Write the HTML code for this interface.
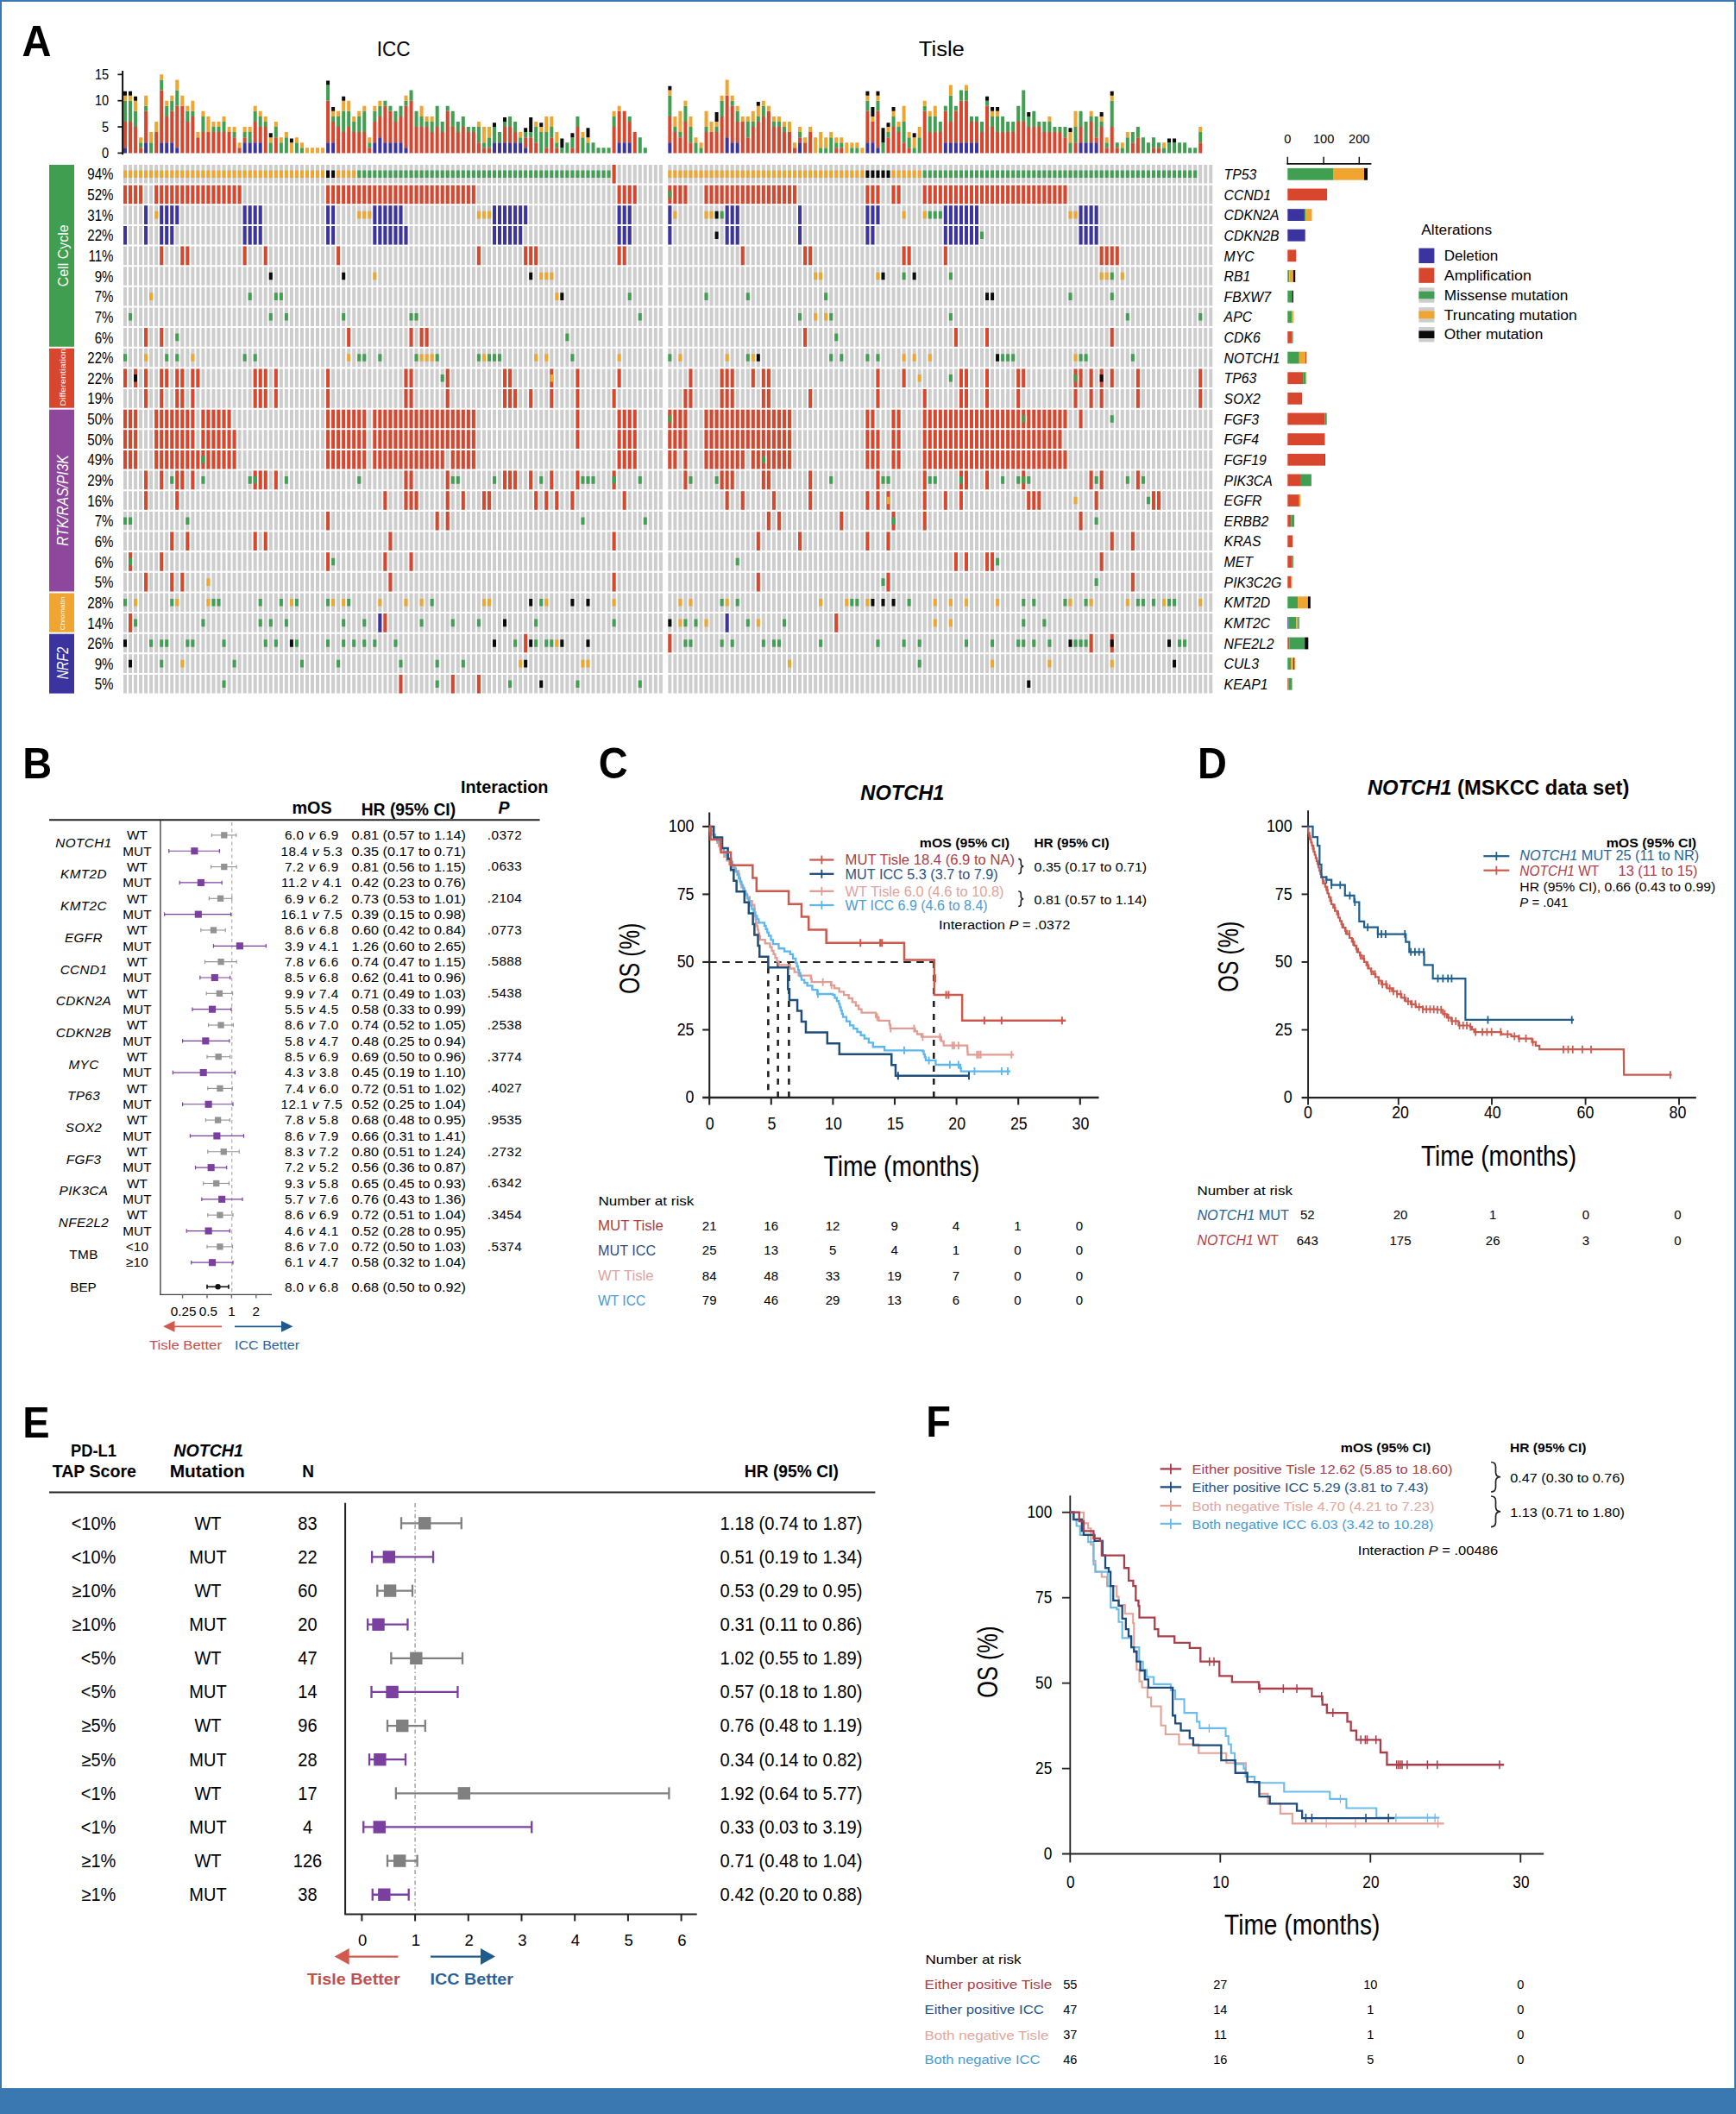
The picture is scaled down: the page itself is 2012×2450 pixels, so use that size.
<!DOCTYPE html>
<html lang="en"><head><meta charset="utf-8"><title>Figure</title>
<style>html,body{margin:0;padding:0;background:#fff}svg{display:block}text{font-family:"Liberation Sans", sans-serif}</style></head>
<body>
<svg width="2012" height="2450" viewBox="0 0 2012 2450">
<rect x="0" y="0" width="2012" height="2450" fill="#3A78B2"/>
<rect x="2" y="2" width="2008" height="2418" fill="#fff"/>
<text transform="translate(25.4 47.8) scale(1 1.056)" x="0" y="16.19" font-size="47" font-weight="bold">A</text>
<text transform="translate(456.2 56.5) scale(1 1.045)" x="0" y="7.75" font-size="22.5" text-anchor="middle" textLength="38.8" lengthAdjust="spacingAndGlyphs">ICC</text>
<text transform="translate(1091.3 56.5) scale(1 1.045)" x="0" y="7.75" font-size="22.5" text-anchor="middle" textLength="53" lengthAdjust="spacingAndGlyphs">Tisle</text>
<path d="M143 191h4v21.6h-4zM149.03 191h4v21.6h-4zM155.06 191h4v21.6h-4zM161.08 191h4v21.6h-4zM167.11 191h4v21.6h-4zM173.14 191h4v21.6h-4zM179.17 191h4v21.6h-4zM185.2 191h4v21.6h-4zM191.22 191h4v21.6h-4zM197.25 191h4v21.6h-4zM203.28 191h4v21.6h-4zM209.31 191h4v21.6h-4zM215.34 191h4v21.6h-4zM221.36 191h4v21.6h-4zM227.39 191h4v21.6h-4zM233.42 191h4v21.6h-4zM239.45 191h4v21.6h-4zM245.48 191h4v21.6h-4zM251.5 191h4v21.6h-4zM257.53 191h4v21.6h-4zM263.56 191h4v21.6h-4zM269.59 191h4v21.6h-4zM275.62 191h4v21.6h-4zM281.64 191h4v21.6h-4zM287.67 191h4v21.6h-4zM293.7 191h4v21.6h-4zM299.73 191h4v21.6h-4zM305.76 191h4v21.6h-4zM311.78 191h4v21.6h-4zM317.81 191h4v21.6h-4zM323.84 191h4v21.6h-4zM329.87 191h4v21.6h-4zM335.9 191h4v21.6h-4zM341.92 191h4v21.6h-4zM347.95 191h4v21.6h-4zM353.98 191h4v21.6h-4zM360.01 191h4v21.6h-4zM366.04 191h4v21.6h-4zM372.06 191h4v21.6h-4zM378.09 191h4v21.6h-4zM384.12 191h4v21.6h-4zM390.15 191h4v21.6h-4zM396.18 191h4v21.6h-4zM402.2 191h4v21.6h-4zM408.23 191h4v21.6h-4zM414.26 191h4v21.6h-4zM420.29 191h4v21.6h-4zM426.32 191h4v21.6h-4zM432.34 191h4v21.6h-4zM438.37 191h4v21.6h-4zM444.4 191h4v21.6h-4zM450.43 191h4v21.6h-4zM456.46 191h4v21.6h-4zM462.48 191h4v21.6h-4zM468.51 191h4v21.6h-4zM474.54 191h4v21.6h-4zM480.57 191h4v21.6h-4zM486.6 191h4v21.6h-4zM492.62 191h4v21.6h-4zM498.65 191h4v21.6h-4zM504.68 191h4v21.6h-4zM510.71 191h4v21.6h-4zM516.74 191h4v21.6h-4zM522.76 191h4v21.6h-4zM528.79 191h4v21.6h-4zM534.82 191h4v21.6h-4zM540.85 191h4v21.6h-4zM546.88 191h4v21.6h-4zM552.9 191h4v21.6h-4zM558.93 191h4v21.6h-4zM564.96 191h4v21.6h-4zM570.99 191h4v21.6h-4zM577.02 191h4v21.6h-4zM583.04 191h4v21.6h-4zM589.07 191h4v21.6h-4zM595.1 191h4v21.6h-4zM601.13 191h4v21.6h-4zM607.16 191h4v21.6h-4zM613.18 191h4v21.6h-4zM619.21 191h4v21.6h-4zM625.24 191h4v21.6h-4zM631.27 191h4v21.6h-4zM637.3 191h4v21.6h-4zM643.32 191h4v21.6h-4zM649.35 191h4v21.6h-4zM655.38 191h4v21.6h-4zM661.41 191h4v21.6h-4zM667.44 191h4v21.6h-4zM673.46 191h4v21.6h-4zM679.49 191h4v21.6h-4zM685.52 191h4v21.6h-4zM691.55 191h4v21.6h-4zM697.58 191h4v21.6h-4zM703.6 191h4v21.6h-4zM709.63 191h4v21.6h-4zM715.66 191h4v21.6h-4zM721.69 191h4v21.6h-4zM727.72 191h4v21.6h-4zM733.74 191h4v21.6h-4zM739.77 191h4v21.6h-4zM745.8 191h4v21.6h-4zM751.83 191h4v21.6h-4zM757.86 191h4v21.6h-4zM763.88 191h4v21.6h-4zM774.35 191h4v21.6h-4zM780.38 191h4v21.6h-4zM786.41 191h4v21.6h-4zM792.43 191h4v21.6h-4zM798.46 191h4v21.6h-4zM804.49 191h4v21.6h-4zM810.52 191h4v21.6h-4zM816.55 191h4v21.6h-4zM822.57 191h4v21.6h-4zM828.6 191h4v21.6h-4zM834.63 191h4v21.6h-4zM840.66 191h4v21.6h-4zM846.69 191h4v21.6h-4zM852.71 191h4v21.6h-4zM858.74 191h4v21.6h-4zM864.77 191h4v21.6h-4zM870.8 191h4v21.6h-4zM876.83 191h4v21.6h-4zM882.85 191h4v21.6h-4zM888.88 191h4v21.6h-4zM894.91 191h4v21.6h-4zM900.94 191h4v21.6h-4zM906.97 191h4v21.6h-4zM912.99 191h4v21.6h-4zM919.02 191h4v21.6h-4zM925.05 191h4v21.6h-4zM931.08 191h4v21.6h-4zM937.11 191h4v21.6h-4zM943.13 191h4v21.6h-4zM949.16 191h4v21.6h-4zM955.19 191h4v21.6h-4zM961.22 191h4v21.6h-4zM967.25 191h4v21.6h-4zM973.27 191h4v21.6h-4zM979.3 191h4v21.6h-4zM985.33 191h4v21.6h-4zM991.36 191h4v21.6h-4zM997.39 191h4v21.6h-4zM1003.41 191h4v21.6h-4zM1009.44 191h4v21.6h-4zM1015.47 191h4v21.6h-4zM1021.5 191h4v21.6h-4zM1027.53 191h4v21.6h-4zM1033.55 191h4v21.6h-4zM1039.58 191h4v21.6h-4zM1045.61 191h4v21.6h-4zM1051.64 191h4v21.6h-4zM1057.67 191h4v21.6h-4zM1063.69 191h4v21.6h-4zM1069.72 191h4v21.6h-4zM1075.75 191h4v21.6h-4zM1081.78 191h4v21.6h-4zM1087.81 191h4v21.6h-4zM1093.83 191h4v21.6h-4zM1099.86 191h4v21.6h-4zM1105.89 191h4v21.6h-4zM1111.92 191h4v21.6h-4zM1117.95 191h4v21.6h-4zM1123.97 191h4v21.6h-4zM1130 191h4v21.6h-4zM1136.03 191h4v21.6h-4zM1142.06 191h4v21.6h-4zM1148.09 191h4v21.6h-4zM1154.11 191h4v21.6h-4zM1160.14 191h4v21.6h-4zM1166.17 191h4v21.6h-4zM1172.2 191h4v21.6h-4zM1178.23 191h4v21.6h-4zM1184.25 191h4v21.6h-4zM1190.28 191h4v21.6h-4zM1196.31 191h4v21.6h-4zM1202.34 191h4v21.6h-4zM1208.37 191h4v21.6h-4zM1214.39 191h4v21.6h-4zM1220.42 191h4v21.6h-4zM1226.45 191h4v21.6h-4zM1232.48 191h4v21.6h-4zM1238.51 191h4v21.6h-4zM1244.53 191h4v21.6h-4zM1250.56 191h4v21.6h-4zM1256.59 191h4v21.6h-4zM1262.62 191h4v21.6h-4zM1268.65 191h4v21.6h-4zM1274.67 191h4v21.6h-4zM1280.7 191h4v21.6h-4zM1286.73 191h4v21.6h-4zM1292.76 191h4v21.6h-4zM1298.79 191h4v21.6h-4zM1304.81 191h4v21.6h-4zM1310.84 191h4v21.6h-4zM1316.87 191h4v21.6h-4zM1322.9 191h4v21.6h-4zM1328.93 191h4v21.6h-4zM1334.95 191h4v21.6h-4zM1340.98 191h4v21.6h-4zM1347.01 191h4v21.6h-4zM1353.04 191h4v21.6h-4zM1359.07 191h4v21.6h-4zM1365.09 191h4v21.6h-4zM1371.12 191h4v21.6h-4zM1377.15 191h4v21.6h-4zM1383.18 191h4v21.6h-4zM1389.21 191h4v21.6h-4zM1395.23 191h4v21.6h-4zM1401.26 191h4v21.6h-4zM143 214.64h4v21.6h-4zM149.03 214.64h4v21.6h-4zM155.06 214.64h4v21.6h-4zM161.08 214.64h4v21.6h-4zM167.11 214.64h4v21.6h-4zM173.14 214.64h4v21.6h-4zM179.17 214.64h4v21.6h-4zM185.2 214.64h4v21.6h-4zM191.22 214.64h4v21.6h-4zM197.25 214.64h4v21.6h-4zM203.28 214.64h4v21.6h-4zM209.31 214.64h4v21.6h-4zM215.34 214.64h4v21.6h-4zM221.36 214.64h4v21.6h-4zM227.39 214.64h4v21.6h-4zM233.42 214.64h4v21.6h-4zM239.45 214.64h4v21.6h-4zM245.48 214.64h4v21.6h-4zM251.5 214.64h4v21.6h-4zM257.53 214.64h4v21.6h-4zM263.56 214.64h4v21.6h-4zM269.59 214.64h4v21.6h-4zM275.62 214.64h4v21.6h-4zM281.64 214.64h4v21.6h-4zM287.67 214.64h4v21.6h-4zM293.7 214.64h4v21.6h-4zM299.73 214.64h4v21.6h-4zM305.76 214.64h4v21.6h-4zM311.78 214.64h4v21.6h-4zM317.81 214.64h4v21.6h-4zM323.84 214.64h4v21.6h-4zM329.87 214.64h4v21.6h-4zM335.9 214.64h4v21.6h-4zM341.92 214.64h4v21.6h-4zM347.95 214.64h4v21.6h-4zM353.98 214.64h4v21.6h-4zM360.01 214.64h4v21.6h-4zM366.04 214.64h4v21.6h-4zM372.06 214.64h4v21.6h-4zM378.09 214.64h4v21.6h-4zM384.12 214.64h4v21.6h-4zM390.15 214.64h4v21.6h-4zM396.18 214.64h4v21.6h-4zM402.2 214.64h4v21.6h-4zM408.23 214.64h4v21.6h-4zM414.26 214.64h4v21.6h-4zM420.29 214.64h4v21.6h-4zM426.32 214.64h4v21.6h-4zM432.34 214.64h4v21.6h-4zM438.37 214.64h4v21.6h-4zM444.4 214.64h4v21.6h-4zM450.43 214.64h4v21.6h-4zM456.46 214.64h4v21.6h-4zM462.48 214.64h4v21.6h-4zM468.51 214.64h4v21.6h-4zM474.54 214.64h4v21.6h-4zM480.57 214.64h4v21.6h-4zM486.6 214.64h4v21.6h-4zM492.62 214.64h4v21.6h-4zM498.65 214.64h4v21.6h-4zM504.68 214.64h4v21.6h-4zM510.71 214.64h4v21.6h-4zM516.74 214.64h4v21.6h-4zM522.76 214.64h4v21.6h-4zM528.79 214.64h4v21.6h-4zM534.82 214.64h4v21.6h-4zM540.85 214.64h4v21.6h-4zM546.88 214.64h4v21.6h-4zM552.9 214.64h4v21.6h-4zM558.93 214.64h4v21.6h-4zM564.96 214.64h4v21.6h-4zM570.99 214.64h4v21.6h-4zM577.02 214.64h4v21.6h-4zM583.04 214.64h4v21.6h-4zM589.07 214.64h4v21.6h-4zM595.1 214.64h4v21.6h-4zM601.13 214.64h4v21.6h-4zM607.16 214.64h4v21.6h-4zM613.18 214.64h4v21.6h-4zM619.21 214.64h4v21.6h-4zM625.24 214.64h4v21.6h-4zM631.27 214.64h4v21.6h-4zM637.3 214.64h4v21.6h-4zM643.32 214.64h4v21.6h-4zM649.35 214.64h4v21.6h-4zM655.38 214.64h4v21.6h-4zM661.41 214.64h4v21.6h-4zM667.44 214.64h4v21.6h-4zM673.46 214.64h4v21.6h-4zM679.49 214.64h4v21.6h-4zM685.52 214.64h4v21.6h-4zM691.55 214.64h4v21.6h-4zM697.58 214.64h4v21.6h-4zM703.6 214.64h4v21.6h-4zM709.63 214.64h4v21.6h-4zM715.66 214.64h4v21.6h-4zM721.69 214.64h4v21.6h-4zM727.72 214.64h4v21.6h-4zM733.74 214.64h4v21.6h-4zM739.77 214.64h4v21.6h-4zM745.8 214.64h4v21.6h-4zM751.83 214.64h4v21.6h-4zM757.86 214.64h4v21.6h-4zM763.88 214.64h4v21.6h-4zM774.35 214.64h4v21.6h-4zM780.38 214.64h4v21.6h-4zM786.41 214.64h4v21.6h-4zM792.43 214.64h4v21.6h-4zM798.46 214.64h4v21.6h-4zM804.49 214.64h4v21.6h-4zM810.52 214.64h4v21.6h-4zM816.55 214.64h4v21.6h-4zM822.57 214.64h4v21.6h-4zM828.6 214.64h4v21.6h-4zM834.63 214.64h4v21.6h-4zM840.66 214.64h4v21.6h-4zM846.69 214.64h4v21.6h-4zM852.71 214.64h4v21.6h-4zM858.74 214.64h4v21.6h-4zM864.77 214.64h4v21.6h-4zM870.8 214.64h4v21.6h-4zM876.83 214.64h4v21.6h-4zM882.85 214.64h4v21.6h-4zM888.88 214.64h4v21.6h-4zM894.91 214.64h4v21.6h-4zM900.94 214.64h4v21.6h-4zM906.97 214.64h4v21.6h-4zM912.99 214.64h4v21.6h-4zM919.02 214.64h4v21.6h-4zM925.05 214.64h4v21.6h-4zM931.08 214.64h4v21.6h-4zM937.11 214.64h4v21.6h-4zM943.13 214.64h4v21.6h-4zM949.16 214.64h4v21.6h-4zM955.19 214.64h4v21.6h-4zM961.22 214.64h4v21.6h-4zM967.25 214.64h4v21.6h-4zM973.27 214.64h4v21.6h-4zM979.3 214.64h4v21.6h-4zM985.33 214.64h4v21.6h-4zM991.36 214.64h4v21.6h-4zM997.39 214.64h4v21.6h-4zM1003.41 214.64h4v21.6h-4zM1009.44 214.64h4v21.6h-4zM1015.47 214.64h4v21.6h-4zM1021.5 214.64h4v21.6h-4zM1027.53 214.64h4v21.6h-4zM1033.55 214.64h4v21.6h-4zM1039.58 214.64h4v21.6h-4zM1045.61 214.64h4v21.6h-4zM1051.64 214.64h4v21.6h-4zM1057.67 214.64h4v21.6h-4zM1063.69 214.64h4v21.6h-4zM1069.72 214.64h4v21.6h-4zM1075.75 214.64h4v21.6h-4zM1081.78 214.64h4v21.6h-4zM1087.81 214.64h4v21.6h-4zM1093.83 214.64h4v21.6h-4zM1099.86 214.64h4v21.6h-4zM1105.89 214.64h4v21.6h-4zM1111.92 214.64h4v21.6h-4zM1117.95 214.64h4v21.6h-4zM1123.97 214.64h4v21.6h-4zM1130 214.64h4v21.6h-4zM1136.03 214.64h4v21.6h-4zM1142.06 214.64h4v21.6h-4zM1148.09 214.64h4v21.6h-4zM1154.11 214.64h4v21.6h-4zM1160.14 214.64h4v21.6h-4zM1166.17 214.64h4v21.6h-4zM1172.2 214.64h4v21.6h-4zM1178.23 214.64h4v21.6h-4zM1184.25 214.64h4v21.6h-4zM1190.28 214.64h4v21.6h-4zM1196.31 214.64h4v21.6h-4zM1202.34 214.64h4v21.6h-4zM1208.37 214.64h4v21.6h-4zM1214.39 214.64h4v21.6h-4zM1220.42 214.64h4v21.6h-4zM1226.45 214.64h4v21.6h-4zM1232.48 214.64h4v21.6h-4zM1238.51 214.64h4v21.6h-4zM1244.53 214.64h4v21.6h-4zM1250.56 214.64h4v21.6h-4zM1256.59 214.64h4v21.6h-4zM1262.62 214.64h4v21.6h-4zM1268.65 214.64h4v21.6h-4zM1274.67 214.64h4v21.6h-4zM1280.7 214.64h4v21.6h-4zM1286.73 214.64h4v21.6h-4zM1292.76 214.64h4v21.6h-4zM1298.79 214.64h4v21.6h-4zM1304.81 214.64h4v21.6h-4zM1310.84 214.64h4v21.6h-4zM1316.87 214.64h4v21.6h-4zM1322.9 214.64h4v21.6h-4zM1328.93 214.64h4v21.6h-4zM1334.95 214.64h4v21.6h-4zM1340.98 214.64h4v21.6h-4zM1347.01 214.64h4v21.6h-4zM1353.04 214.64h4v21.6h-4zM1359.07 214.64h4v21.6h-4zM1365.09 214.64h4v21.6h-4zM1371.12 214.64h4v21.6h-4zM1377.15 214.64h4v21.6h-4zM1383.18 214.64h4v21.6h-4zM1389.21 214.64h4v21.6h-4zM1395.23 214.64h4v21.6h-4zM1401.26 214.64h4v21.6h-4zM143 238.28h4v21.6h-4zM149.03 238.28h4v21.6h-4zM155.06 238.28h4v21.6h-4zM161.08 238.28h4v21.6h-4zM167.11 238.28h4v21.6h-4zM173.14 238.28h4v21.6h-4zM179.17 238.28h4v21.6h-4zM185.2 238.28h4v21.6h-4zM191.22 238.28h4v21.6h-4zM197.25 238.28h4v21.6h-4zM203.28 238.28h4v21.6h-4zM209.31 238.28h4v21.6h-4zM215.34 238.28h4v21.6h-4zM221.36 238.28h4v21.6h-4zM227.39 238.28h4v21.6h-4zM233.42 238.28h4v21.6h-4zM239.45 238.28h4v21.6h-4zM245.48 238.28h4v21.6h-4zM251.5 238.28h4v21.6h-4zM257.53 238.28h4v21.6h-4zM263.56 238.28h4v21.6h-4zM269.59 238.28h4v21.6h-4zM275.62 238.28h4v21.6h-4zM281.64 238.28h4v21.6h-4zM287.67 238.28h4v21.6h-4zM293.7 238.28h4v21.6h-4zM299.73 238.28h4v21.6h-4zM305.76 238.28h4v21.6h-4zM311.78 238.28h4v21.6h-4zM317.81 238.28h4v21.6h-4zM323.84 238.28h4v21.6h-4zM329.87 238.28h4v21.6h-4zM335.9 238.28h4v21.6h-4zM341.92 238.28h4v21.6h-4zM347.95 238.28h4v21.6h-4zM353.98 238.28h4v21.6h-4zM360.01 238.28h4v21.6h-4zM366.04 238.28h4v21.6h-4zM372.06 238.28h4v21.6h-4zM378.09 238.28h4v21.6h-4zM384.12 238.28h4v21.6h-4zM390.15 238.28h4v21.6h-4zM396.18 238.28h4v21.6h-4zM402.2 238.28h4v21.6h-4zM408.23 238.28h4v21.6h-4zM414.26 238.28h4v21.6h-4zM420.29 238.28h4v21.6h-4zM426.32 238.28h4v21.6h-4zM432.34 238.28h4v21.6h-4zM438.37 238.28h4v21.6h-4zM444.4 238.28h4v21.6h-4zM450.43 238.28h4v21.6h-4zM456.46 238.28h4v21.6h-4zM462.48 238.28h4v21.6h-4zM468.51 238.28h4v21.6h-4zM474.54 238.28h4v21.6h-4zM480.57 238.28h4v21.6h-4zM486.6 238.28h4v21.6h-4zM492.62 238.28h4v21.6h-4zM498.65 238.28h4v21.6h-4zM504.68 238.28h4v21.6h-4zM510.71 238.28h4v21.6h-4zM516.74 238.28h4v21.6h-4zM522.76 238.28h4v21.6h-4zM528.79 238.28h4v21.6h-4zM534.82 238.28h4v21.6h-4zM540.85 238.28h4v21.6h-4zM546.88 238.28h4v21.6h-4zM552.9 238.28h4v21.6h-4zM558.93 238.28h4v21.6h-4zM564.96 238.28h4v21.6h-4zM570.99 238.28h4v21.6h-4zM577.02 238.28h4v21.6h-4zM583.04 238.28h4v21.6h-4zM589.07 238.28h4v21.6h-4zM595.1 238.28h4v21.6h-4zM601.13 238.28h4v21.6h-4zM607.16 238.28h4v21.6h-4zM613.18 238.28h4v21.6h-4zM619.21 238.28h4v21.6h-4zM625.24 238.28h4v21.6h-4zM631.27 238.28h4v21.6h-4zM637.3 238.28h4v21.6h-4zM643.32 238.28h4v21.6h-4zM649.35 238.28h4v21.6h-4zM655.38 238.28h4v21.6h-4zM661.41 238.28h4v21.6h-4zM667.44 238.28h4v21.6h-4zM673.46 238.28h4v21.6h-4zM679.49 238.28h4v21.6h-4zM685.52 238.28h4v21.6h-4zM691.55 238.28h4v21.6h-4zM697.58 238.28h4v21.6h-4zM703.6 238.28h4v21.6h-4zM709.63 238.28h4v21.6h-4zM715.66 238.28h4v21.6h-4zM721.69 238.28h4v21.6h-4zM727.72 238.28h4v21.6h-4zM733.74 238.28h4v21.6h-4zM739.77 238.28h4v21.6h-4zM745.8 238.28h4v21.6h-4zM751.83 238.28h4v21.6h-4zM757.86 238.28h4v21.6h-4zM763.88 238.28h4v21.6h-4zM774.35 238.28h4v21.6h-4zM780.38 238.28h4v21.6h-4zM786.41 238.28h4v21.6h-4zM792.43 238.28h4v21.6h-4zM798.46 238.28h4v21.6h-4zM804.49 238.28h4v21.6h-4zM810.52 238.28h4v21.6h-4zM816.55 238.28h4v21.6h-4zM822.57 238.28h4v21.6h-4zM828.6 238.28h4v21.6h-4zM834.63 238.28h4v21.6h-4zM840.66 238.28h4v21.6h-4zM846.69 238.28h4v21.6h-4zM852.71 238.28h4v21.6h-4zM858.74 238.28h4v21.6h-4zM864.77 238.28h4v21.6h-4zM870.8 238.28h4v21.6h-4zM876.83 238.28h4v21.6h-4zM882.85 238.28h4v21.6h-4zM888.88 238.28h4v21.6h-4zM894.91 238.28h4v21.6h-4zM900.94 238.28h4v21.6h-4zM906.97 238.28h4v21.6h-4zM912.99 238.28h4v21.6h-4zM919.02 238.28h4v21.6h-4zM925.05 238.28h4v21.6h-4zM931.08 238.28h4v21.6h-4zM937.11 238.28h4v21.6h-4zM943.13 238.28h4v21.6h-4zM949.16 238.28h4v21.6h-4zM955.19 238.28h4v21.6h-4zM961.22 238.28h4v21.6h-4zM967.25 238.28h4v21.6h-4zM973.27 238.28h4v21.6h-4zM979.3 238.28h4v21.6h-4zM985.33 238.28h4v21.6h-4zM991.36 238.28h4v21.6h-4zM997.39 238.28h4v21.6h-4zM1003.41 238.28h4v21.6h-4zM1009.44 238.28h4v21.6h-4zM1015.47 238.28h4v21.6h-4zM1021.5 238.28h4v21.6h-4zM1027.53 238.28h4v21.6h-4zM1033.55 238.28h4v21.6h-4zM1039.58 238.28h4v21.6h-4zM1045.61 238.28h4v21.6h-4zM1051.64 238.28h4v21.6h-4zM1057.67 238.28h4v21.6h-4zM1063.69 238.28h4v21.6h-4zM1069.72 238.28h4v21.6h-4zM1075.75 238.28h4v21.6h-4zM1081.78 238.28h4v21.6h-4zM1087.81 238.28h4v21.6h-4zM1093.83 238.28h4v21.6h-4zM1099.86 238.28h4v21.6h-4zM1105.89 238.28h4v21.6h-4zM1111.92 238.28h4v21.6h-4zM1117.95 238.28h4v21.6h-4zM1123.97 238.28h4v21.6h-4zM1130 238.28h4v21.6h-4zM1136.03 238.28h4v21.6h-4zM1142.06 238.28h4v21.6h-4zM1148.09 238.28h4v21.6h-4zM1154.11 238.28h4v21.6h-4zM1160.14 238.28h4v21.6h-4zM1166.17 238.28h4v21.6h-4zM1172.2 238.28h4v21.6h-4zM1178.23 238.28h4v21.6h-4zM1184.25 238.28h4v21.6h-4zM1190.28 238.28h4v21.6h-4zM1196.31 238.28h4v21.6h-4zM1202.34 238.28h4v21.6h-4zM1208.37 238.28h4v21.6h-4zM1214.39 238.28h4v21.6h-4zM1220.42 238.28h4v21.6h-4zM1226.45 238.28h4v21.6h-4zM1232.48 238.28h4v21.6h-4zM1238.51 238.28h4v21.6h-4zM1244.53 238.28h4v21.6h-4zM1250.56 238.28h4v21.6h-4zM1256.59 238.28h4v21.6h-4zM1262.62 238.28h4v21.6h-4zM1268.65 238.28h4v21.6h-4zM1274.67 238.28h4v21.6h-4zM1280.7 238.28h4v21.6h-4zM1286.73 238.28h4v21.6h-4zM1292.76 238.28h4v21.6h-4zM1298.79 238.28h4v21.6h-4zM1304.81 238.28h4v21.6h-4zM1310.84 238.28h4v21.6h-4zM1316.87 238.28h4v21.6h-4zM1322.9 238.28h4v21.6h-4zM1328.93 238.28h4v21.6h-4zM1334.95 238.28h4v21.6h-4zM1340.98 238.28h4v21.6h-4zM1347.01 238.28h4v21.6h-4zM1353.04 238.28h4v21.6h-4zM1359.07 238.28h4v21.6h-4zM1365.09 238.28h4v21.6h-4zM1371.12 238.28h4v21.6h-4zM1377.15 238.28h4v21.6h-4zM1383.18 238.28h4v21.6h-4zM1389.21 238.28h4v21.6h-4zM1395.23 238.28h4v21.6h-4zM1401.26 238.28h4v21.6h-4zM143 261.92h4v21.6h-4zM149.03 261.92h4v21.6h-4zM155.06 261.92h4v21.6h-4zM161.08 261.92h4v21.6h-4zM167.11 261.92h4v21.6h-4zM173.14 261.92h4v21.6h-4zM179.17 261.92h4v21.6h-4zM185.2 261.92h4v21.6h-4zM191.22 261.92h4v21.6h-4zM197.25 261.92h4v21.6h-4zM203.28 261.92h4v21.6h-4zM209.31 261.92h4v21.6h-4zM215.34 261.92h4v21.6h-4zM221.36 261.92h4v21.6h-4zM227.39 261.92h4v21.6h-4zM233.42 261.92h4v21.6h-4zM239.45 261.92h4v21.6h-4zM245.48 261.92h4v21.6h-4zM251.5 261.92h4v21.6h-4zM257.53 261.92h4v21.6h-4zM263.56 261.92h4v21.6h-4zM269.59 261.92h4v21.6h-4zM275.62 261.92h4v21.6h-4zM281.64 261.92h4v21.6h-4zM287.67 261.92h4v21.6h-4zM293.7 261.92h4v21.6h-4zM299.73 261.92h4v21.6h-4zM305.76 261.92h4v21.6h-4zM311.78 261.92h4v21.6h-4zM317.81 261.92h4v21.6h-4zM323.84 261.92h4v21.6h-4zM329.87 261.92h4v21.6h-4zM335.9 261.92h4v21.6h-4zM341.92 261.92h4v21.6h-4zM347.95 261.92h4v21.6h-4zM353.98 261.92h4v21.6h-4zM360.01 261.92h4v21.6h-4zM366.04 261.92h4v21.6h-4zM372.06 261.92h4v21.6h-4zM378.09 261.92h4v21.6h-4zM384.12 261.92h4v21.6h-4zM390.15 261.92h4v21.6h-4zM396.18 261.92h4v21.6h-4zM402.2 261.92h4v21.6h-4zM408.23 261.92h4v21.6h-4zM414.26 261.92h4v21.6h-4zM420.29 261.92h4v21.6h-4zM426.32 261.92h4v21.6h-4zM432.34 261.92h4v21.6h-4zM438.37 261.92h4v21.6h-4zM444.4 261.92h4v21.6h-4zM450.43 261.92h4v21.6h-4zM456.46 261.92h4v21.6h-4zM462.48 261.92h4v21.6h-4zM468.51 261.92h4v21.6h-4zM474.54 261.92h4v21.6h-4zM480.57 261.92h4v21.6h-4zM486.6 261.92h4v21.6h-4zM492.62 261.92h4v21.6h-4zM498.65 261.92h4v21.6h-4zM504.68 261.92h4v21.6h-4zM510.71 261.92h4v21.6h-4zM516.74 261.92h4v21.6h-4zM522.76 261.92h4v21.6h-4zM528.79 261.92h4v21.6h-4zM534.82 261.92h4v21.6h-4zM540.85 261.92h4v21.6h-4zM546.88 261.92h4v21.6h-4zM552.9 261.92h4v21.6h-4zM558.93 261.92h4v21.6h-4zM564.96 261.92h4v21.6h-4zM570.99 261.92h4v21.6h-4zM577.02 261.92h4v21.6h-4zM583.04 261.92h4v21.6h-4zM589.07 261.92h4v21.6h-4zM595.1 261.92h4v21.6h-4zM601.13 261.92h4v21.6h-4zM607.16 261.92h4v21.6h-4zM613.18 261.92h4v21.6h-4zM619.21 261.92h4v21.6h-4zM625.24 261.92h4v21.6h-4zM631.27 261.92h4v21.6h-4zM637.3 261.92h4v21.6h-4zM643.32 261.92h4v21.6h-4zM649.35 261.92h4v21.6h-4zM655.38 261.92h4v21.6h-4zM661.41 261.92h4v21.6h-4zM667.44 261.92h4v21.6h-4zM673.46 261.92h4v21.6h-4zM679.49 261.92h4v21.6h-4zM685.52 261.92h4v21.6h-4zM691.55 261.92h4v21.6h-4zM697.58 261.92h4v21.6h-4zM703.6 261.92h4v21.6h-4zM709.63 261.92h4v21.6h-4zM715.66 261.92h4v21.6h-4zM721.69 261.92h4v21.6h-4zM727.72 261.92h4v21.6h-4zM733.74 261.92h4v21.6h-4zM739.77 261.92h4v21.6h-4zM745.8 261.92h4v21.6h-4zM751.83 261.92h4v21.6h-4zM757.86 261.92h4v21.6h-4zM763.88 261.92h4v21.6h-4zM774.35 261.92h4v21.6h-4zM780.38 261.92h4v21.6h-4zM786.41 261.92h4v21.6h-4zM792.43 261.92h4v21.6h-4zM798.46 261.92h4v21.6h-4zM804.49 261.92h4v21.6h-4zM810.52 261.92h4v21.6h-4zM816.55 261.92h4v21.6h-4zM822.57 261.92h4v21.6h-4zM828.6 261.92h4v21.6h-4zM834.63 261.92h4v21.6h-4zM840.66 261.92h4v21.6h-4zM846.69 261.92h4v21.6h-4zM852.71 261.92h4v21.6h-4zM858.74 261.92h4v21.6h-4zM864.77 261.92h4v21.6h-4zM870.8 261.92h4v21.6h-4zM876.83 261.92h4v21.6h-4zM882.85 261.92h4v21.6h-4zM888.88 261.92h4v21.6h-4zM894.91 261.92h4v21.6h-4zM900.94 261.92h4v21.6h-4zM906.97 261.92h4v21.6h-4zM912.99 261.92h4v21.6h-4zM919.02 261.92h4v21.6h-4zM925.05 261.92h4v21.6h-4zM931.08 261.92h4v21.6h-4zM937.11 261.92h4v21.6h-4zM943.13 261.92h4v21.6h-4zM949.16 261.92h4v21.6h-4zM955.19 261.92h4v21.6h-4zM961.22 261.92h4v21.6h-4zM967.25 261.92h4v21.6h-4zM973.27 261.92h4v21.6h-4zM979.3 261.92h4v21.6h-4zM985.33 261.92h4v21.6h-4zM991.36 261.92h4v21.6h-4zM997.39 261.92h4v21.6h-4zM1003.41 261.92h4v21.6h-4zM1009.44 261.92h4v21.6h-4zM1015.47 261.92h4v21.6h-4zM1021.5 261.92h4v21.6h-4zM1027.53 261.92h4v21.6h-4zM1033.55 261.92h4v21.6h-4zM1039.58 261.92h4v21.6h-4zM1045.61 261.92h4v21.6h-4zM1051.64 261.92h4v21.6h-4zM1057.67 261.92h4v21.6h-4zM1063.69 261.92h4v21.6h-4zM1069.72 261.92h4v21.6h-4zM1075.75 261.92h4v21.6h-4zM1081.78 261.92h4v21.6h-4zM1087.81 261.92h4v21.6h-4zM1093.83 261.92h4v21.6h-4zM1099.86 261.92h4v21.6h-4zM1105.89 261.92h4v21.6h-4zM1111.92 261.92h4v21.6h-4zM1117.95 261.92h4v21.6h-4zM1123.97 261.92h4v21.6h-4zM1130 261.92h4v21.6h-4zM1136.03 261.92h4v21.6h-4zM1142.06 261.92h4v21.6h-4zM1148.09 261.92h4v21.6h-4zM1154.11 261.92h4v21.6h-4zM1160.14 261.92h4v21.6h-4zM1166.17 261.92h4v21.6h-4zM1172.2 261.92h4v21.6h-4zM1178.23 261.92h4v21.6h-4zM1184.25 261.92h4v21.6h-4zM1190.28 261.92h4v21.6h-4zM1196.31 261.92h4v21.6h-4zM1202.34 261.92h4v21.6h-4zM1208.37 261.92h4v21.6h-4zM1214.39 261.92h4v21.6h-4zM1220.42 261.92h4v21.6h-4zM1226.45 261.92h4v21.6h-4zM1232.48 261.92h4v21.6h-4zM1238.51 261.92h4v21.6h-4zM1244.53 261.92h4v21.6h-4zM1250.56 261.92h4v21.6h-4zM1256.59 261.92h4v21.6h-4zM1262.62 261.92h4v21.6h-4zM1268.65 261.92h4v21.6h-4zM1274.67 261.92h4v21.6h-4zM1280.7 261.92h4v21.6h-4zM1286.73 261.92h4v21.6h-4zM1292.76 261.92h4v21.6h-4zM1298.79 261.92h4v21.6h-4zM1304.81 261.92h4v21.6h-4zM1310.84 261.92h4v21.6h-4zM1316.87 261.92h4v21.6h-4zM1322.9 261.92h4v21.6h-4zM1328.93 261.92h4v21.6h-4zM1334.95 261.92h4v21.6h-4zM1340.98 261.92h4v21.6h-4zM1347.01 261.92h4v21.6h-4zM1353.04 261.92h4v21.6h-4zM1359.07 261.92h4v21.6h-4zM1365.09 261.92h4v21.6h-4zM1371.12 261.92h4v21.6h-4zM1377.15 261.92h4v21.6h-4zM1383.18 261.92h4v21.6h-4zM1389.21 261.92h4v21.6h-4zM1395.23 261.92h4v21.6h-4zM1401.26 261.92h4v21.6h-4zM143 285.56h4v21.6h-4zM149.03 285.56h4v21.6h-4zM155.06 285.56h4v21.6h-4zM161.08 285.56h4v21.6h-4zM167.11 285.56h4v21.6h-4zM173.14 285.56h4v21.6h-4zM179.17 285.56h4v21.6h-4zM185.2 285.56h4v21.6h-4zM191.22 285.56h4v21.6h-4zM197.25 285.56h4v21.6h-4zM203.28 285.56h4v21.6h-4zM209.31 285.56h4v21.6h-4zM215.34 285.56h4v21.6h-4zM221.36 285.56h4v21.6h-4zM227.39 285.56h4v21.6h-4zM233.42 285.56h4v21.6h-4zM239.45 285.56h4v21.6h-4zM245.48 285.56h4v21.6h-4zM251.5 285.56h4v21.6h-4zM257.53 285.56h4v21.6h-4zM263.56 285.56h4v21.6h-4zM269.59 285.56h4v21.6h-4zM275.62 285.56h4v21.6h-4zM281.64 285.56h4v21.6h-4zM287.67 285.56h4v21.6h-4zM293.7 285.56h4v21.6h-4zM299.73 285.56h4v21.6h-4zM305.76 285.56h4v21.6h-4zM311.78 285.56h4v21.6h-4zM317.81 285.56h4v21.6h-4zM323.84 285.56h4v21.6h-4zM329.87 285.56h4v21.6h-4zM335.9 285.56h4v21.6h-4zM341.92 285.56h4v21.6h-4zM347.95 285.56h4v21.6h-4zM353.98 285.56h4v21.6h-4zM360.01 285.56h4v21.6h-4zM366.04 285.56h4v21.6h-4zM372.06 285.56h4v21.6h-4zM378.09 285.56h4v21.6h-4zM384.12 285.56h4v21.6h-4zM390.15 285.56h4v21.6h-4zM396.18 285.56h4v21.6h-4zM402.2 285.56h4v21.6h-4zM408.23 285.56h4v21.6h-4zM414.26 285.56h4v21.6h-4zM420.29 285.56h4v21.6h-4zM426.32 285.56h4v21.6h-4zM432.34 285.56h4v21.6h-4zM438.37 285.56h4v21.6h-4zM444.4 285.56h4v21.6h-4zM450.43 285.56h4v21.6h-4zM456.46 285.56h4v21.6h-4zM462.48 285.56h4v21.6h-4zM468.51 285.56h4v21.6h-4zM474.54 285.56h4v21.6h-4zM480.57 285.56h4v21.6h-4zM486.6 285.56h4v21.6h-4zM492.62 285.56h4v21.6h-4zM498.65 285.56h4v21.6h-4zM504.68 285.56h4v21.6h-4zM510.71 285.56h4v21.6h-4zM516.74 285.56h4v21.6h-4zM522.76 285.56h4v21.6h-4zM528.79 285.56h4v21.6h-4zM534.82 285.56h4v21.6h-4zM540.85 285.56h4v21.6h-4zM546.88 285.56h4v21.6h-4zM552.9 285.56h4v21.6h-4zM558.93 285.56h4v21.6h-4zM564.96 285.56h4v21.6h-4zM570.99 285.56h4v21.6h-4zM577.02 285.56h4v21.6h-4zM583.04 285.56h4v21.6h-4zM589.07 285.56h4v21.6h-4zM595.1 285.56h4v21.6h-4zM601.13 285.56h4v21.6h-4zM607.16 285.56h4v21.6h-4zM613.18 285.56h4v21.6h-4zM619.21 285.56h4v21.6h-4zM625.24 285.56h4v21.6h-4zM631.27 285.56h4v21.6h-4zM637.3 285.56h4v21.6h-4zM643.32 285.56h4v21.6h-4zM649.35 285.56h4v21.6h-4zM655.38 285.56h4v21.6h-4zM661.41 285.56h4v21.6h-4zM667.44 285.56h4v21.6h-4zM673.46 285.56h4v21.6h-4zM679.49 285.56h4v21.6h-4zM685.52 285.56h4v21.6h-4zM691.55 285.56h4v21.6h-4zM697.58 285.56h4v21.6h-4zM703.6 285.56h4v21.6h-4zM709.63 285.56h4v21.6h-4zM715.66 285.56h4v21.6h-4zM721.69 285.56h4v21.6h-4zM727.72 285.56h4v21.6h-4zM733.74 285.56h4v21.6h-4zM739.77 285.56h4v21.6h-4zM745.8 285.56h4v21.6h-4zM751.83 285.56h4v21.6h-4zM757.86 285.56h4v21.6h-4zM763.88 285.56h4v21.6h-4zM774.35 285.56h4v21.6h-4zM780.38 285.56h4v21.6h-4zM786.41 285.56h4v21.6h-4zM792.43 285.56h4v21.6h-4zM798.46 285.56h4v21.6h-4zM804.49 285.56h4v21.6h-4zM810.52 285.56h4v21.6h-4zM816.55 285.56h4v21.6h-4zM822.57 285.56h4v21.6h-4zM828.6 285.56h4v21.6h-4zM834.63 285.56h4v21.6h-4zM840.66 285.56h4v21.6h-4zM846.69 285.56h4v21.6h-4zM852.71 285.56h4v21.6h-4zM858.74 285.56h4v21.6h-4zM864.77 285.56h4v21.6h-4zM870.8 285.56h4v21.6h-4zM876.83 285.56h4v21.6h-4zM882.85 285.56h4v21.6h-4zM888.88 285.56h4v21.6h-4zM894.91 285.56h4v21.6h-4zM900.94 285.56h4v21.6h-4zM906.97 285.56h4v21.6h-4zM912.99 285.56h4v21.6h-4zM919.02 285.56h4v21.6h-4zM925.05 285.56h4v21.6h-4zM931.08 285.56h4v21.6h-4zM937.11 285.56h4v21.6h-4zM943.13 285.56h4v21.6h-4zM949.16 285.56h4v21.6h-4zM955.19 285.56h4v21.6h-4zM961.22 285.56h4v21.6h-4zM967.25 285.56h4v21.6h-4zM973.27 285.56h4v21.6h-4zM979.3 285.56h4v21.6h-4zM985.33 285.56h4v21.6h-4zM991.36 285.56h4v21.6h-4zM997.39 285.56h4v21.6h-4zM1003.41 285.56h4v21.6h-4zM1009.44 285.56h4v21.6h-4zM1015.47 285.56h4v21.6h-4zM1021.5 285.56h4v21.6h-4zM1027.53 285.56h4v21.6h-4zM1033.55 285.56h4v21.6h-4zM1039.58 285.56h4v21.6h-4zM1045.61 285.56h4v21.6h-4zM1051.64 285.56h4v21.6h-4zM1057.67 285.56h4v21.6h-4zM1063.69 285.56h4v21.6h-4zM1069.72 285.56h4v21.6h-4zM1075.75 285.56h4v21.6h-4zM1081.78 285.56h4v21.6h-4zM1087.81 285.56h4v21.6h-4zM1093.83 285.56h4v21.6h-4zM1099.86 285.56h4v21.6h-4zM1105.89 285.56h4v21.6h-4zM1111.92 285.56h4v21.6h-4zM1117.95 285.56h4v21.6h-4zM1123.97 285.56h4v21.6h-4zM1130 285.56h4v21.6h-4zM1136.03 285.56h4v21.6h-4zM1142.06 285.56h4v21.6h-4zM1148.09 285.56h4v21.6h-4zM1154.11 285.56h4v21.6h-4zM1160.14 285.56h4v21.6h-4zM1166.17 285.56h4v21.6h-4zM1172.2 285.56h4v21.6h-4zM1178.23 285.56h4v21.6h-4zM1184.25 285.56h4v21.6h-4zM1190.28 285.56h4v21.6h-4zM1196.31 285.56h4v21.6h-4zM1202.34 285.56h4v21.6h-4zM1208.37 285.56h4v21.6h-4zM1214.39 285.56h4v21.6h-4zM1220.42 285.56h4v21.6h-4zM1226.45 285.56h4v21.6h-4zM1232.48 285.56h4v21.6h-4zM1238.51 285.56h4v21.6h-4zM1244.53 285.56h4v21.6h-4zM1250.56 285.56h4v21.6h-4zM1256.59 285.56h4v21.6h-4zM1262.62 285.56h4v21.6h-4zM1268.65 285.56h4v21.6h-4zM1274.67 285.56h4v21.6h-4zM1280.7 285.56h4v21.6h-4zM1286.73 285.56h4v21.6h-4zM1292.76 285.56h4v21.6h-4zM1298.79 285.56h4v21.6h-4zM1304.81 285.56h4v21.6h-4zM1310.84 285.56h4v21.6h-4zM1316.87 285.56h4v21.6h-4zM1322.9 285.56h4v21.6h-4zM1328.93 285.56h4v21.6h-4zM1334.95 285.56h4v21.6h-4zM1340.98 285.56h4v21.6h-4zM1347.01 285.56h4v21.6h-4zM1353.04 285.56h4v21.6h-4zM1359.07 285.56h4v21.6h-4zM1365.09 285.56h4v21.6h-4zM1371.12 285.56h4v21.6h-4zM1377.15 285.56h4v21.6h-4zM1383.18 285.56h4v21.6h-4zM1389.21 285.56h4v21.6h-4zM1395.23 285.56h4v21.6h-4zM1401.26 285.56h4v21.6h-4zM143 309.2h4v21.6h-4zM149.03 309.2h4v21.6h-4zM155.06 309.2h4v21.6h-4zM161.08 309.2h4v21.6h-4zM167.11 309.2h4v21.6h-4zM173.14 309.2h4v21.6h-4zM179.17 309.2h4v21.6h-4zM185.2 309.2h4v21.6h-4zM191.22 309.2h4v21.6h-4zM197.25 309.2h4v21.6h-4zM203.28 309.2h4v21.6h-4zM209.31 309.2h4v21.6h-4zM215.34 309.2h4v21.6h-4zM221.36 309.2h4v21.6h-4zM227.39 309.2h4v21.6h-4zM233.42 309.2h4v21.6h-4zM239.45 309.2h4v21.6h-4zM245.48 309.2h4v21.6h-4zM251.5 309.2h4v21.6h-4zM257.53 309.2h4v21.6h-4zM263.56 309.2h4v21.6h-4zM269.59 309.2h4v21.6h-4zM275.62 309.2h4v21.6h-4zM281.64 309.2h4v21.6h-4zM287.67 309.2h4v21.6h-4zM293.7 309.2h4v21.6h-4zM299.73 309.2h4v21.6h-4zM305.76 309.2h4v21.6h-4zM311.78 309.2h4v21.6h-4zM317.81 309.2h4v21.6h-4zM323.84 309.2h4v21.6h-4zM329.87 309.2h4v21.6h-4zM335.9 309.2h4v21.6h-4zM341.92 309.2h4v21.6h-4zM347.95 309.2h4v21.6h-4zM353.98 309.2h4v21.6h-4zM360.01 309.2h4v21.6h-4zM366.04 309.2h4v21.6h-4zM372.06 309.2h4v21.6h-4zM378.09 309.2h4v21.6h-4zM384.12 309.2h4v21.6h-4zM390.15 309.2h4v21.6h-4zM396.18 309.2h4v21.6h-4zM402.2 309.2h4v21.6h-4zM408.23 309.2h4v21.6h-4zM414.26 309.2h4v21.6h-4zM420.29 309.2h4v21.6h-4zM426.32 309.2h4v21.6h-4zM432.34 309.2h4v21.6h-4zM438.37 309.2h4v21.6h-4zM444.4 309.2h4v21.6h-4zM450.43 309.2h4v21.6h-4zM456.46 309.2h4v21.6h-4zM462.48 309.2h4v21.6h-4zM468.51 309.2h4v21.6h-4zM474.54 309.2h4v21.6h-4zM480.57 309.2h4v21.6h-4zM486.6 309.2h4v21.6h-4zM492.62 309.2h4v21.6h-4zM498.65 309.2h4v21.6h-4zM504.68 309.2h4v21.6h-4zM510.71 309.2h4v21.6h-4zM516.74 309.2h4v21.6h-4zM522.76 309.2h4v21.6h-4zM528.79 309.2h4v21.6h-4zM534.82 309.2h4v21.6h-4zM540.85 309.2h4v21.6h-4zM546.88 309.2h4v21.6h-4zM552.9 309.2h4v21.6h-4zM558.93 309.2h4v21.6h-4zM564.96 309.2h4v21.6h-4zM570.99 309.2h4v21.6h-4zM577.02 309.2h4v21.6h-4zM583.04 309.2h4v21.6h-4zM589.07 309.2h4v21.6h-4zM595.1 309.2h4v21.6h-4zM601.13 309.2h4v21.6h-4zM607.16 309.2h4v21.6h-4zM613.18 309.2h4v21.6h-4zM619.21 309.2h4v21.6h-4zM625.24 309.2h4v21.6h-4zM631.27 309.2h4v21.6h-4zM637.3 309.2h4v21.6h-4zM643.32 309.2h4v21.6h-4zM649.35 309.2h4v21.6h-4zM655.38 309.2h4v21.6h-4zM661.41 309.2h4v21.6h-4zM667.44 309.2h4v21.6h-4zM673.46 309.2h4v21.6h-4zM679.49 309.2h4v21.6h-4zM685.52 309.2h4v21.6h-4zM691.55 309.2h4v21.6h-4zM697.58 309.2h4v21.6h-4zM703.6 309.2h4v21.6h-4zM709.63 309.2h4v21.6h-4zM715.66 309.2h4v21.6h-4zM721.69 309.2h4v21.6h-4zM727.72 309.2h4v21.6h-4zM733.74 309.2h4v21.6h-4zM739.77 309.2h4v21.6h-4zM745.8 309.2h4v21.6h-4zM751.83 309.2h4v21.6h-4zM757.86 309.2h4v21.6h-4zM763.88 309.2h4v21.6h-4zM774.35 309.2h4v21.6h-4zM780.38 309.2h4v21.6h-4zM786.41 309.2h4v21.6h-4zM792.43 309.2h4v21.6h-4zM798.46 309.2h4v21.6h-4zM804.49 309.2h4v21.6h-4zM810.52 309.2h4v21.6h-4zM816.55 309.2h4v21.6h-4zM822.57 309.2h4v21.6h-4zM828.6 309.2h4v21.6h-4zM834.63 309.2h4v21.6h-4zM840.66 309.2h4v21.6h-4zM846.69 309.2h4v21.6h-4zM852.71 309.2h4v21.6h-4zM858.74 309.2h4v21.6h-4zM864.77 309.2h4v21.6h-4zM870.8 309.2h4v21.6h-4zM876.83 309.2h4v21.6h-4zM882.85 309.2h4v21.6h-4zM888.88 309.2h4v21.6h-4zM894.91 309.2h4v21.6h-4zM900.94 309.2h4v21.6h-4zM906.97 309.2h4v21.6h-4zM912.99 309.2h4v21.6h-4zM919.02 309.2h4v21.6h-4zM925.05 309.2h4v21.6h-4zM931.08 309.2h4v21.6h-4zM937.11 309.2h4v21.6h-4zM943.13 309.2h4v21.6h-4zM949.16 309.2h4v21.6h-4zM955.19 309.2h4v21.6h-4zM961.22 309.2h4v21.6h-4zM967.25 309.2h4v21.6h-4zM973.27 309.2h4v21.6h-4zM979.3 309.2h4v21.6h-4zM985.33 309.2h4v21.6h-4zM991.36 309.2h4v21.6h-4zM997.39 309.2h4v21.6h-4zM1003.41 309.2h4v21.6h-4zM1009.44 309.2h4v21.6h-4zM1015.47 309.2h4v21.6h-4zM1021.5 309.2h4v21.6h-4zM1027.53 309.2h4v21.6h-4zM1033.55 309.2h4v21.6h-4zM1039.58 309.2h4v21.6h-4zM1045.61 309.2h4v21.6h-4zM1051.64 309.2h4v21.6h-4zM1057.67 309.2h4v21.6h-4zM1063.69 309.2h4v21.6h-4zM1069.72 309.2h4v21.6h-4zM1075.75 309.2h4v21.6h-4zM1081.78 309.2h4v21.6h-4zM1087.81 309.2h4v21.6h-4zM1093.83 309.2h4v21.6h-4zM1099.86 309.2h4v21.6h-4zM1105.89 309.2h4v21.6h-4zM1111.92 309.2h4v21.6h-4zM1117.95 309.2h4v21.6h-4zM1123.97 309.2h4v21.6h-4zM1130 309.2h4v21.6h-4zM1136.03 309.2h4v21.6h-4zM1142.06 309.2h4v21.6h-4zM1148.09 309.2h4v21.6h-4zM1154.11 309.2h4v21.6h-4zM1160.14 309.2h4v21.6h-4zM1166.17 309.2h4v21.6h-4zM1172.2 309.2h4v21.6h-4zM1178.23 309.2h4v21.6h-4zM1184.25 309.2h4v21.6h-4zM1190.28 309.2h4v21.6h-4zM1196.31 309.2h4v21.6h-4zM1202.34 309.2h4v21.6h-4zM1208.37 309.2h4v21.6h-4zM1214.39 309.2h4v21.6h-4zM1220.42 309.2h4v21.6h-4zM1226.45 309.2h4v21.6h-4zM1232.48 309.2h4v21.6h-4zM1238.51 309.2h4v21.6h-4zM1244.53 309.2h4v21.6h-4zM1250.56 309.2h4v21.6h-4zM1256.59 309.2h4v21.6h-4zM1262.62 309.2h4v21.6h-4zM1268.65 309.2h4v21.6h-4zM1274.67 309.2h4v21.6h-4zM1280.7 309.2h4v21.6h-4zM1286.73 309.2h4v21.6h-4zM1292.76 309.2h4v21.6h-4zM1298.79 309.2h4v21.6h-4zM1304.81 309.2h4v21.6h-4zM1310.84 309.2h4v21.6h-4zM1316.87 309.2h4v21.6h-4zM1322.9 309.2h4v21.6h-4zM1328.93 309.2h4v21.6h-4zM1334.95 309.2h4v21.6h-4zM1340.98 309.2h4v21.6h-4zM1347.01 309.2h4v21.6h-4zM1353.04 309.2h4v21.6h-4zM1359.07 309.2h4v21.6h-4zM1365.09 309.2h4v21.6h-4zM1371.12 309.2h4v21.6h-4zM1377.15 309.2h4v21.6h-4zM1383.18 309.2h4v21.6h-4zM1389.21 309.2h4v21.6h-4zM1395.23 309.2h4v21.6h-4zM1401.26 309.2h4v21.6h-4zM143 332.84h4v21.6h-4zM149.03 332.84h4v21.6h-4zM155.06 332.84h4v21.6h-4zM161.08 332.84h4v21.6h-4zM167.11 332.84h4v21.6h-4zM173.14 332.84h4v21.6h-4zM179.17 332.84h4v21.6h-4zM185.2 332.84h4v21.6h-4zM191.22 332.84h4v21.6h-4zM197.25 332.84h4v21.6h-4zM203.28 332.84h4v21.6h-4zM209.31 332.84h4v21.6h-4zM215.34 332.84h4v21.6h-4zM221.36 332.84h4v21.6h-4zM227.39 332.84h4v21.6h-4zM233.42 332.84h4v21.6h-4zM239.45 332.84h4v21.6h-4zM245.48 332.84h4v21.6h-4zM251.5 332.84h4v21.6h-4zM257.53 332.84h4v21.6h-4zM263.56 332.84h4v21.6h-4zM269.59 332.84h4v21.6h-4zM275.62 332.84h4v21.6h-4zM281.64 332.84h4v21.6h-4zM287.67 332.84h4v21.6h-4zM293.7 332.84h4v21.6h-4zM299.73 332.84h4v21.6h-4zM305.76 332.84h4v21.6h-4zM311.78 332.84h4v21.6h-4zM317.81 332.84h4v21.6h-4zM323.84 332.84h4v21.6h-4zM329.87 332.84h4v21.6h-4zM335.9 332.84h4v21.6h-4zM341.92 332.84h4v21.6h-4zM347.95 332.84h4v21.6h-4zM353.98 332.84h4v21.6h-4zM360.01 332.84h4v21.6h-4zM366.04 332.84h4v21.6h-4zM372.06 332.84h4v21.6h-4zM378.09 332.84h4v21.6h-4zM384.12 332.84h4v21.6h-4zM390.15 332.84h4v21.6h-4zM396.18 332.84h4v21.6h-4zM402.2 332.84h4v21.6h-4zM408.23 332.84h4v21.6h-4zM414.26 332.84h4v21.6h-4zM420.29 332.84h4v21.6h-4zM426.32 332.84h4v21.6h-4zM432.34 332.84h4v21.6h-4zM438.37 332.84h4v21.6h-4zM444.4 332.84h4v21.6h-4zM450.43 332.84h4v21.6h-4zM456.46 332.84h4v21.6h-4zM462.48 332.84h4v21.6h-4zM468.51 332.84h4v21.6h-4zM474.54 332.84h4v21.6h-4zM480.57 332.84h4v21.6h-4zM486.6 332.84h4v21.6h-4zM492.62 332.84h4v21.6h-4zM498.65 332.84h4v21.6h-4zM504.68 332.84h4v21.6h-4zM510.71 332.84h4v21.6h-4zM516.74 332.84h4v21.6h-4zM522.76 332.84h4v21.6h-4zM528.79 332.84h4v21.6h-4zM534.82 332.84h4v21.6h-4zM540.85 332.84h4v21.6h-4zM546.88 332.84h4v21.6h-4zM552.9 332.84h4v21.6h-4zM558.93 332.84h4v21.6h-4zM564.96 332.84h4v21.6h-4zM570.99 332.84h4v21.6h-4zM577.02 332.84h4v21.6h-4zM583.04 332.84h4v21.6h-4zM589.07 332.84h4v21.6h-4zM595.1 332.84h4v21.6h-4zM601.13 332.84h4v21.6h-4zM607.16 332.84h4v21.6h-4zM613.18 332.84h4v21.6h-4zM619.21 332.84h4v21.6h-4zM625.24 332.84h4v21.6h-4zM631.27 332.84h4v21.6h-4zM637.3 332.84h4v21.6h-4zM643.32 332.84h4v21.6h-4zM649.35 332.84h4v21.6h-4zM655.38 332.84h4v21.6h-4zM661.41 332.84h4v21.6h-4zM667.44 332.84h4v21.6h-4zM673.46 332.84h4v21.6h-4zM679.49 332.84h4v21.6h-4zM685.52 332.84h4v21.6h-4zM691.55 332.84h4v21.6h-4zM697.58 332.84h4v21.6h-4zM703.6 332.84h4v21.6h-4zM709.63 332.84h4v21.6h-4zM715.66 332.84h4v21.6h-4zM721.69 332.84h4v21.6h-4zM727.72 332.84h4v21.6h-4zM733.74 332.84h4v21.6h-4zM739.77 332.84h4v21.6h-4zM745.8 332.84h4v21.6h-4zM751.83 332.84h4v21.6h-4zM757.86 332.84h4v21.6h-4zM763.88 332.84h4v21.6h-4zM774.35 332.84h4v21.6h-4zM780.38 332.84h4v21.6h-4zM786.41 332.84h4v21.6h-4zM792.43 332.84h4v21.6h-4zM798.46 332.84h4v21.6h-4zM804.49 332.84h4v21.6h-4zM810.52 332.84h4v21.6h-4zM816.55 332.84h4v21.6h-4zM822.57 332.84h4v21.6h-4zM828.6 332.84h4v21.6h-4zM834.63 332.84h4v21.6h-4zM840.66 332.84h4v21.6h-4zM846.69 332.84h4v21.6h-4zM852.71 332.84h4v21.6h-4zM858.74 332.84h4v21.6h-4zM864.77 332.84h4v21.6h-4zM870.8 332.84h4v21.6h-4zM876.83 332.84h4v21.6h-4zM882.85 332.84h4v21.6h-4zM888.88 332.84h4v21.6h-4zM894.91 332.84h4v21.6h-4zM900.94 332.84h4v21.6h-4zM906.97 332.84h4v21.6h-4zM912.99 332.84h4v21.6h-4zM919.02 332.84h4v21.6h-4zM925.05 332.84h4v21.6h-4zM931.08 332.84h4v21.6h-4zM937.11 332.84h4v21.6h-4zM943.13 332.84h4v21.6h-4zM949.16 332.84h4v21.6h-4zM955.19 332.84h4v21.6h-4zM961.22 332.84h4v21.6h-4zM967.25 332.84h4v21.6h-4zM973.27 332.84h4v21.6h-4zM979.3 332.84h4v21.6h-4zM985.33 332.84h4v21.6h-4zM991.36 332.84h4v21.6h-4zM997.39 332.84h4v21.6h-4zM1003.41 332.84h4v21.6h-4zM1009.44 332.84h4v21.6h-4zM1015.47 332.84h4v21.6h-4zM1021.5 332.84h4v21.6h-4zM1027.53 332.84h4v21.6h-4zM1033.55 332.84h4v21.6h-4zM1039.58 332.84h4v21.6h-4zM1045.61 332.84h4v21.6h-4zM1051.64 332.84h4v21.6h-4zM1057.67 332.84h4v21.6h-4zM1063.69 332.84h4v21.6h-4zM1069.72 332.84h4v21.6h-4zM1075.75 332.84h4v21.6h-4zM1081.78 332.84h4v21.6h-4zM1087.81 332.84h4v21.6h-4zM1093.83 332.84h4v21.6h-4zM1099.86 332.84h4v21.6h-4zM1105.89 332.84h4v21.6h-4zM1111.92 332.84h4v21.6h-4zM1117.95 332.84h4v21.6h-4zM1123.97 332.84h4v21.6h-4zM1130 332.84h4v21.6h-4zM1136.03 332.84h4v21.6h-4zM1142.06 332.84h4v21.6h-4zM1148.09 332.84h4v21.6h-4zM1154.11 332.84h4v21.6h-4zM1160.14 332.84h4v21.6h-4zM1166.17 332.84h4v21.6h-4zM1172.2 332.84h4v21.6h-4zM1178.23 332.84h4v21.6h-4zM1184.25 332.84h4v21.6h-4zM1190.28 332.84h4v21.6h-4zM1196.31 332.84h4v21.6h-4zM1202.34 332.84h4v21.6h-4zM1208.37 332.84h4v21.6h-4zM1214.39 332.84h4v21.6h-4zM1220.42 332.84h4v21.6h-4zM1226.45 332.84h4v21.6h-4zM1232.48 332.84h4v21.6h-4zM1238.51 332.84h4v21.6h-4zM1244.53 332.84h4v21.6h-4zM1250.56 332.84h4v21.6h-4zM1256.59 332.84h4v21.6h-4zM1262.62 332.84h4v21.6h-4zM1268.65 332.84h4v21.6h-4zM1274.67 332.84h4v21.6h-4zM1280.7 332.84h4v21.6h-4zM1286.73 332.84h4v21.6h-4zM1292.76 332.84h4v21.6h-4zM1298.79 332.84h4v21.6h-4zM1304.81 332.84h4v21.6h-4zM1310.84 332.84h4v21.6h-4zM1316.87 332.84h4v21.6h-4zM1322.9 332.84h4v21.6h-4zM1328.93 332.84h4v21.6h-4zM1334.95 332.84h4v21.6h-4zM1340.98 332.84h4v21.6h-4zM1347.01 332.84h4v21.6h-4zM1353.04 332.84h4v21.6h-4zM1359.07 332.84h4v21.6h-4zM1365.09 332.84h4v21.6h-4zM1371.12 332.84h4v21.6h-4zM1377.15 332.84h4v21.6h-4zM1383.18 332.84h4v21.6h-4zM1389.21 332.84h4v21.6h-4zM1395.23 332.84h4v21.6h-4zM1401.26 332.84h4v21.6h-4zM143 356.48h4v21.6h-4zM149.03 356.48h4v21.6h-4zM155.06 356.48h4v21.6h-4zM161.08 356.48h4v21.6h-4zM167.11 356.48h4v21.6h-4zM173.14 356.48h4v21.6h-4zM179.17 356.48h4v21.6h-4zM185.2 356.48h4v21.6h-4zM191.22 356.48h4v21.6h-4zM197.25 356.48h4v21.6h-4zM203.28 356.48h4v21.6h-4zM209.31 356.48h4v21.6h-4zM215.34 356.48h4v21.6h-4zM221.36 356.48h4v21.6h-4zM227.39 356.48h4v21.6h-4zM233.42 356.48h4v21.6h-4zM239.45 356.48h4v21.6h-4zM245.48 356.48h4v21.6h-4zM251.5 356.48h4v21.6h-4zM257.53 356.48h4v21.6h-4zM263.56 356.48h4v21.6h-4zM269.59 356.48h4v21.6h-4zM275.62 356.48h4v21.6h-4zM281.64 356.48h4v21.6h-4zM287.67 356.48h4v21.6h-4zM293.7 356.48h4v21.6h-4zM299.73 356.48h4v21.6h-4zM305.76 356.48h4v21.6h-4zM311.78 356.48h4v21.6h-4zM317.81 356.48h4v21.6h-4zM323.84 356.48h4v21.6h-4zM329.87 356.48h4v21.6h-4zM335.9 356.48h4v21.6h-4zM341.92 356.48h4v21.6h-4zM347.95 356.48h4v21.6h-4zM353.98 356.48h4v21.6h-4zM360.01 356.48h4v21.6h-4zM366.04 356.48h4v21.6h-4zM372.06 356.48h4v21.6h-4zM378.09 356.48h4v21.6h-4zM384.12 356.48h4v21.6h-4zM390.15 356.48h4v21.6h-4zM396.18 356.48h4v21.6h-4zM402.2 356.48h4v21.6h-4zM408.23 356.48h4v21.6h-4zM414.26 356.48h4v21.6h-4zM420.29 356.48h4v21.6h-4zM426.32 356.48h4v21.6h-4zM432.34 356.48h4v21.6h-4zM438.37 356.48h4v21.6h-4zM444.4 356.48h4v21.6h-4zM450.43 356.48h4v21.6h-4zM456.46 356.48h4v21.6h-4zM462.48 356.48h4v21.6h-4zM468.51 356.48h4v21.6h-4zM474.54 356.48h4v21.6h-4zM480.57 356.48h4v21.6h-4zM486.6 356.48h4v21.6h-4zM492.62 356.48h4v21.6h-4zM498.65 356.48h4v21.6h-4zM504.68 356.48h4v21.6h-4zM510.71 356.48h4v21.6h-4zM516.74 356.48h4v21.6h-4zM522.76 356.48h4v21.6h-4zM528.79 356.48h4v21.6h-4zM534.82 356.48h4v21.6h-4zM540.85 356.48h4v21.6h-4zM546.88 356.48h4v21.6h-4zM552.9 356.48h4v21.6h-4zM558.93 356.48h4v21.6h-4zM564.96 356.48h4v21.6h-4zM570.99 356.48h4v21.6h-4zM577.02 356.48h4v21.6h-4zM583.04 356.48h4v21.6h-4zM589.07 356.48h4v21.6h-4zM595.1 356.48h4v21.6h-4zM601.13 356.48h4v21.6h-4zM607.16 356.48h4v21.6h-4zM613.18 356.48h4v21.6h-4zM619.21 356.48h4v21.6h-4zM625.24 356.48h4v21.6h-4zM631.27 356.48h4v21.6h-4zM637.3 356.48h4v21.6h-4zM643.32 356.48h4v21.6h-4zM649.35 356.48h4v21.6h-4zM655.38 356.48h4v21.6h-4zM661.41 356.48h4v21.6h-4zM667.44 356.48h4v21.6h-4zM673.46 356.48h4v21.6h-4zM679.49 356.48h4v21.6h-4zM685.52 356.48h4v21.6h-4zM691.55 356.48h4v21.6h-4zM697.58 356.48h4v21.6h-4zM703.6 356.48h4v21.6h-4zM709.63 356.48h4v21.6h-4zM715.66 356.48h4v21.6h-4zM721.69 356.48h4v21.6h-4zM727.72 356.48h4v21.6h-4zM733.74 356.48h4v21.6h-4zM739.77 356.48h4v21.6h-4zM745.8 356.48h4v21.6h-4zM751.83 356.48h4v21.6h-4zM757.86 356.48h4v21.6h-4zM763.88 356.48h4v21.6h-4zM774.35 356.48h4v21.6h-4zM780.38 356.48h4v21.6h-4zM786.41 356.48h4v21.6h-4zM792.43 356.48h4v21.6h-4zM798.46 356.48h4v21.6h-4zM804.49 356.48h4v21.6h-4zM810.52 356.48h4v21.6h-4zM816.55 356.48h4v21.6h-4zM822.57 356.48h4v21.6h-4zM828.6 356.48h4v21.6h-4zM834.63 356.48h4v21.6h-4zM840.66 356.48h4v21.6h-4zM846.69 356.48h4v21.6h-4zM852.71 356.48h4v21.6h-4zM858.74 356.48h4v21.6h-4zM864.77 356.48h4v21.6h-4zM870.8 356.48h4v21.6h-4zM876.83 356.48h4v21.6h-4zM882.85 356.48h4v21.6h-4zM888.88 356.48h4v21.6h-4zM894.91 356.48h4v21.6h-4zM900.94 356.48h4v21.6h-4zM906.97 356.48h4v21.6h-4zM912.99 356.48h4v21.6h-4zM919.02 356.48h4v21.6h-4zM925.05 356.48h4v21.6h-4zM931.08 356.48h4v21.6h-4zM937.11 356.48h4v21.6h-4zM943.13 356.48h4v21.6h-4zM949.16 356.48h4v21.6h-4zM955.19 356.48h4v21.6h-4zM961.22 356.48h4v21.6h-4zM967.25 356.48h4v21.6h-4zM973.27 356.48h4v21.6h-4zM979.3 356.48h4v21.6h-4zM985.33 356.48h4v21.6h-4zM991.36 356.48h4v21.6h-4zM997.39 356.48h4v21.6h-4zM1003.41 356.48h4v21.6h-4zM1009.44 356.48h4v21.6h-4zM1015.47 356.48h4v21.6h-4zM1021.5 356.48h4v21.6h-4zM1027.53 356.48h4v21.6h-4zM1033.55 356.48h4v21.6h-4zM1039.58 356.48h4v21.6h-4zM1045.61 356.48h4v21.6h-4zM1051.64 356.48h4v21.6h-4zM1057.67 356.48h4v21.6h-4zM1063.69 356.48h4v21.6h-4zM1069.72 356.48h4v21.6h-4zM1075.75 356.48h4v21.6h-4zM1081.78 356.48h4v21.6h-4zM1087.81 356.48h4v21.6h-4zM1093.83 356.48h4v21.6h-4zM1099.86 356.48h4v21.6h-4zM1105.89 356.48h4v21.6h-4zM1111.92 356.48h4v21.6h-4zM1117.95 356.48h4v21.6h-4zM1123.97 356.48h4v21.6h-4zM1130 356.48h4v21.6h-4zM1136.03 356.48h4v21.6h-4zM1142.06 356.48h4v21.6h-4zM1148.09 356.48h4v21.6h-4zM1154.11 356.48h4v21.6h-4zM1160.14 356.48h4v21.6h-4zM1166.17 356.48h4v21.6h-4zM1172.2 356.48h4v21.6h-4zM1178.23 356.48h4v21.6h-4zM1184.25 356.48h4v21.6h-4zM1190.28 356.48h4v21.6h-4zM1196.31 356.48h4v21.6h-4zM1202.34 356.48h4v21.6h-4zM1208.37 356.48h4v21.6h-4zM1214.39 356.48h4v21.6h-4zM1220.42 356.48h4v21.6h-4zM1226.45 356.48h4v21.6h-4zM1232.48 356.48h4v21.6h-4zM1238.51 356.48h4v21.6h-4zM1244.53 356.48h4v21.6h-4zM1250.56 356.48h4v21.6h-4zM1256.59 356.48h4v21.6h-4zM1262.62 356.48h4v21.6h-4zM1268.65 356.48h4v21.6h-4zM1274.67 356.48h4v21.6h-4zM1280.7 356.48h4v21.6h-4zM1286.73 356.48h4v21.6h-4zM1292.76 356.48h4v21.6h-4zM1298.79 356.48h4v21.6h-4zM1304.81 356.48h4v21.6h-4zM1310.84 356.48h4v21.6h-4zM1316.87 356.48h4v21.6h-4zM1322.9 356.48h4v21.6h-4zM1328.93 356.48h4v21.6h-4zM1334.95 356.48h4v21.6h-4zM1340.98 356.48h4v21.6h-4zM1347.01 356.48h4v21.6h-4zM1353.04 356.48h4v21.6h-4zM1359.07 356.48h4v21.6h-4zM1365.09 356.48h4v21.6h-4zM1371.12 356.48h4v21.6h-4zM1377.15 356.48h4v21.6h-4zM1383.18 356.48h4v21.6h-4zM1389.21 356.48h4v21.6h-4zM1395.23 356.48h4v21.6h-4zM1401.26 356.48h4v21.6h-4zM143 380.12h4v21.6h-4zM149.03 380.12h4v21.6h-4zM155.06 380.12h4v21.6h-4zM161.08 380.12h4v21.6h-4zM167.11 380.12h4v21.6h-4zM173.14 380.12h4v21.6h-4zM179.17 380.12h4v21.6h-4zM185.2 380.12h4v21.6h-4zM191.22 380.12h4v21.6h-4zM197.25 380.12h4v21.6h-4zM203.28 380.12h4v21.6h-4zM209.31 380.12h4v21.6h-4zM215.34 380.12h4v21.6h-4zM221.36 380.12h4v21.6h-4zM227.39 380.12h4v21.6h-4zM233.42 380.12h4v21.6h-4zM239.45 380.12h4v21.6h-4zM245.48 380.12h4v21.6h-4zM251.5 380.12h4v21.6h-4zM257.53 380.12h4v21.6h-4zM263.56 380.12h4v21.6h-4zM269.59 380.12h4v21.6h-4zM275.62 380.12h4v21.6h-4zM281.64 380.12h4v21.6h-4zM287.67 380.12h4v21.6h-4zM293.7 380.12h4v21.6h-4zM299.73 380.12h4v21.6h-4zM305.76 380.12h4v21.6h-4zM311.78 380.12h4v21.6h-4zM317.81 380.12h4v21.6h-4zM323.84 380.12h4v21.6h-4zM329.87 380.12h4v21.6h-4zM335.9 380.12h4v21.6h-4zM341.92 380.12h4v21.6h-4zM347.95 380.12h4v21.6h-4zM353.98 380.12h4v21.6h-4zM360.01 380.12h4v21.6h-4zM366.04 380.12h4v21.6h-4zM372.06 380.12h4v21.6h-4zM378.09 380.12h4v21.6h-4zM384.12 380.12h4v21.6h-4zM390.15 380.12h4v21.6h-4zM396.18 380.12h4v21.6h-4zM402.2 380.12h4v21.6h-4zM408.23 380.12h4v21.6h-4zM414.26 380.12h4v21.6h-4zM420.29 380.12h4v21.6h-4zM426.32 380.12h4v21.6h-4zM432.34 380.12h4v21.6h-4zM438.37 380.12h4v21.6h-4zM444.4 380.12h4v21.6h-4zM450.43 380.12h4v21.6h-4zM456.46 380.12h4v21.6h-4zM462.48 380.12h4v21.6h-4zM468.51 380.12h4v21.6h-4zM474.54 380.12h4v21.6h-4zM480.57 380.12h4v21.6h-4zM486.6 380.12h4v21.6h-4zM492.62 380.12h4v21.6h-4zM498.65 380.12h4v21.6h-4zM504.68 380.12h4v21.6h-4zM510.71 380.12h4v21.6h-4zM516.74 380.12h4v21.6h-4zM522.76 380.12h4v21.6h-4zM528.79 380.12h4v21.6h-4zM534.82 380.12h4v21.6h-4zM540.85 380.12h4v21.6h-4zM546.88 380.12h4v21.6h-4zM552.9 380.12h4v21.6h-4zM558.93 380.12h4v21.6h-4zM564.96 380.12h4v21.6h-4zM570.99 380.12h4v21.6h-4zM577.02 380.12h4v21.6h-4zM583.04 380.12h4v21.6h-4zM589.07 380.12h4v21.6h-4zM595.1 380.12h4v21.6h-4zM601.13 380.12h4v21.6h-4zM607.16 380.12h4v21.6h-4zM613.18 380.12h4v21.6h-4zM619.21 380.12h4v21.6h-4zM625.24 380.12h4v21.6h-4zM631.27 380.12h4v21.6h-4zM637.3 380.12h4v21.6h-4zM643.32 380.12h4v21.6h-4zM649.35 380.12h4v21.6h-4zM655.38 380.12h4v21.6h-4zM661.41 380.12h4v21.6h-4zM667.44 380.12h4v21.6h-4zM673.46 380.12h4v21.6h-4zM679.49 380.12h4v21.6h-4zM685.52 380.12h4v21.6h-4zM691.55 380.12h4v21.6h-4zM697.58 380.12h4v21.6h-4zM703.6 380.12h4v21.6h-4zM709.63 380.12h4v21.6h-4zM715.66 380.12h4v21.6h-4zM721.69 380.12h4v21.6h-4zM727.72 380.12h4v21.6h-4zM733.74 380.12h4v21.6h-4zM739.77 380.12h4v21.6h-4zM745.8 380.12h4v21.6h-4zM751.83 380.12h4v21.6h-4zM757.86 380.12h4v21.6h-4zM763.88 380.12h4v21.6h-4zM774.35 380.12h4v21.6h-4zM780.38 380.12h4v21.6h-4zM786.41 380.12h4v21.6h-4zM792.43 380.12h4v21.6h-4zM798.46 380.12h4v21.6h-4zM804.49 380.12h4v21.6h-4zM810.52 380.12h4v21.6h-4zM816.55 380.12h4v21.6h-4zM822.57 380.12h4v21.6h-4zM828.6 380.12h4v21.6h-4zM834.63 380.12h4v21.6h-4zM840.66 380.12h4v21.6h-4zM846.69 380.12h4v21.6h-4zM852.71 380.12h4v21.6h-4zM858.74 380.12h4v21.6h-4zM864.77 380.12h4v21.6h-4zM870.8 380.12h4v21.6h-4zM876.83 380.12h4v21.6h-4zM882.85 380.12h4v21.6h-4zM888.88 380.12h4v21.6h-4zM894.91 380.12h4v21.6h-4zM900.94 380.12h4v21.6h-4zM906.97 380.12h4v21.6h-4zM912.99 380.12h4v21.6h-4zM919.02 380.12h4v21.6h-4zM925.05 380.12h4v21.6h-4zM931.08 380.12h4v21.6h-4zM937.11 380.12h4v21.6h-4zM943.13 380.12h4v21.6h-4zM949.16 380.12h4v21.6h-4zM955.19 380.12h4v21.6h-4zM961.22 380.12h4v21.6h-4zM967.25 380.12h4v21.6h-4zM973.27 380.12h4v21.6h-4zM979.3 380.12h4v21.6h-4zM985.33 380.12h4v21.6h-4zM991.36 380.12h4v21.6h-4zM997.39 380.12h4v21.6h-4zM1003.41 380.12h4v21.6h-4zM1009.44 380.12h4v21.6h-4zM1015.47 380.12h4v21.6h-4zM1021.5 380.12h4v21.6h-4zM1027.53 380.12h4v21.6h-4zM1033.55 380.12h4v21.6h-4zM1039.58 380.12h4v21.6h-4zM1045.61 380.12h4v21.6h-4zM1051.64 380.12h4v21.6h-4zM1057.67 380.12h4v21.6h-4zM1063.69 380.12h4v21.6h-4zM1069.72 380.12h4v21.6h-4zM1075.75 380.12h4v21.6h-4zM1081.78 380.12h4v21.6h-4zM1087.81 380.12h4v21.6h-4zM1093.83 380.12h4v21.6h-4zM1099.86 380.12h4v21.6h-4zM1105.89 380.12h4v21.6h-4zM1111.92 380.12h4v21.6h-4zM1117.95 380.12h4v21.6h-4zM1123.97 380.12h4v21.6h-4zM1130 380.12h4v21.6h-4zM1136.03 380.12h4v21.6h-4zM1142.06 380.12h4v21.6h-4zM1148.09 380.12h4v21.6h-4zM1154.11 380.12h4v21.6h-4zM1160.14 380.12h4v21.6h-4zM1166.17 380.12h4v21.6h-4zM1172.2 380.12h4v21.6h-4zM1178.23 380.12h4v21.6h-4zM1184.25 380.12h4v21.6h-4zM1190.28 380.12h4v21.6h-4zM1196.31 380.12h4v21.6h-4zM1202.34 380.12h4v21.6h-4zM1208.37 380.12h4v21.6h-4zM1214.39 380.12h4v21.6h-4zM1220.42 380.12h4v21.6h-4zM1226.45 380.12h4v21.6h-4zM1232.48 380.12h4v21.6h-4zM1238.51 380.12h4v21.6h-4zM1244.53 380.12h4v21.6h-4zM1250.56 380.12h4v21.6h-4zM1256.59 380.12h4v21.6h-4zM1262.62 380.12h4v21.6h-4zM1268.65 380.12h4v21.6h-4zM1274.67 380.12h4v21.6h-4zM1280.7 380.12h4v21.6h-4zM1286.73 380.12h4v21.6h-4zM1292.76 380.12h4v21.6h-4zM1298.79 380.12h4v21.6h-4zM1304.81 380.12h4v21.6h-4zM1310.84 380.12h4v21.6h-4zM1316.87 380.12h4v21.6h-4zM1322.9 380.12h4v21.6h-4zM1328.93 380.12h4v21.6h-4zM1334.95 380.12h4v21.6h-4zM1340.98 380.12h4v21.6h-4zM1347.01 380.12h4v21.6h-4zM1353.04 380.12h4v21.6h-4zM1359.07 380.12h4v21.6h-4zM1365.09 380.12h4v21.6h-4zM1371.12 380.12h4v21.6h-4zM1377.15 380.12h4v21.6h-4zM1383.18 380.12h4v21.6h-4zM1389.21 380.12h4v21.6h-4zM1395.23 380.12h4v21.6h-4zM1401.26 380.12h4v21.6h-4zM143 403.76h4v21.6h-4zM149.03 403.76h4v21.6h-4zM155.06 403.76h4v21.6h-4zM161.08 403.76h4v21.6h-4zM167.11 403.76h4v21.6h-4zM173.14 403.76h4v21.6h-4zM179.17 403.76h4v21.6h-4zM185.2 403.76h4v21.6h-4zM191.22 403.76h4v21.6h-4zM197.25 403.76h4v21.6h-4zM203.28 403.76h4v21.6h-4zM209.31 403.76h4v21.6h-4zM215.34 403.76h4v21.6h-4zM221.36 403.76h4v21.6h-4zM227.39 403.76h4v21.6h-4zM233.42 403.76h4v21.6h-4zM239.45 403.76h4v21.6h-4zM245.48 403.76h4v21.6h-4zM251.5 403.76h4v21.6h-4zM257.53 403.76h4v21.6h-4zM263.56 403.76h4v21.6h-4zM269.59 403.76h4v21.6h-4zM275.62 403.76h4v21.6h-4zM281.64 403.76h4v21.6h-4zM287.67 403.76h4v21.6h-4zM293.7 403.76h4v21.6h-4zM299.73 403.76h4v21.6h-4zM305.76 403.76h4v21.6h-4zM311.78 403.76h4v21.6h-4zM317.81 403.76h4v21.6h-4zM323.84 403.76h4v21.6h-4zM329.87 403.76h4v21.6h-4zM335.9 403.76h4v21.6h-4zM341.92 403.76h4v21.6h-4zM347.95 403.76h4v21.6h-4zM353.98 403.76h4v21.6h-4zM360.01 403.76h4v21.6h-4zM366.04 403.76h4v21.6h-4zM372.06 403.76h4v21.6h-4zM378.09 403.76h4v21.6h-4zM384.12 403.76h4v21.6h-4zM390.15 403.76h4v21.6h-4zM396.18 403.76h4v21.6h-4zM402.2 403.76h4v21.6h-4zM408.23 403.76h4v21.6h-4zM414.26 403.76h4v21.6h-4zM420.29 403.76h4v21.6h-4zM426.32 403.76h4v21.6h-4zM432.34 403.76h4v21.6h-4zM438.37 403.76h4v21.6h-4zM444.4 403.76h4v21.6h-4zM450.43 403.76h4v21.6h-4zM456.46 403.76h4v21.6h-4zM462.48 403.76h4v21.6h-4zM468.51 403.76h4v21.6h-4zM474.54 403.76h4v21.6h-4zM480.57 403.76h4v21.6h-4zM486.6 403.76h4v21.6h-4zM492.62 403.76h4v21.6h-4zM498.65 403.76h4v21.6h-4zM504.68 403.76h4v21.6h-4zM510.71 403.76h4v21.6h-4zM516.74 403.76h4v21.6h-4zM522.76 403.76h4v21.6h-4zM528.79 403.76h4v21.6h-4zM534.82 403.76h4v21.6h-4zM540.85 403.76h4v21.6h-4zM546.88 403.76h4v21.6h-4zM552.9 403.76h4v21.6h-4zM558.93 403.76h4v21.6h-4zM564.96 403.76h4v21.6h-4zM570.99 403.76h4v21.6h-4zM577.02 403.76h4v21.6h-4zM583.04 403.76h4v21.6h-4zM589.07 403.76h4v21.6h-4zM595.1 403.76h4v21.6h-4zM601.13 403.76h4v21.6h-4zM607.16 403.76h4v21.6h-4zM613.18 403.76h4v21.6h-4zM619.21 403.76h4v21.6h-4zM625.24 403.76h4v21.6h-4zM631.27 403.76h4v21.6h-4zM637.3 403.76h4v21.6h-4zM643.32 403.76h4v21.6h-4zM649.35 403.76h4v21.6h-4zM655.38 403.76h4v21.6h-4zM661.41 403.76h4v21.6h-4zM667.44 403.76h4v21.6h-4zM673.46 403.76h4v21.6h-4zM679.49 403.76h4v21.6h-4zM685.52 403.76h4v21.6h-4zM691.55 403.76h4v21.6h-4zM697.58 403.76h4v21.6h-4zM703.6 403.76h4v21.6h-4zM709.63 403.76h4v21.6h-4zM715.66 403.76h4v21.6h-4zM721.69 403.76h4v21.6h-4zM727.72 403.76h4v21.6h-4zM733.74 403.76h4v21.6h-4zM739.77 403.76h4v21.6h-4zM745.8 403.76h4v21.6h-4zM751.83 403.76h4v21.6h-4zM757.86 403.76h4v21.6h-4zM763.88 403.76h4v21.6h-4zM774.35 403.76h4v21.6h-4zM780.38 403.76h4v21.6h-4zM786.41 403.76h4v21.6h-4zM792.43 403.76h4v21.6h-4zM798.46 403.76h4v21.6h-4zM804.49 403.76h4v21.6h-4zM810.52 403.76h4v21.6h-4zM816.55 403.76h4v21.6h-4zM822.57 403.76h4v21.6h-4zM828.6 403.76h4v21.6h-4zM834.63 403.76h4v21.6h-4zM840.66 403.76h4v21.6h-4zM846.69 403.76h4v21.6h-4zM852.71 403.76h4v21.6h-4zM858.74 403.76h4v21.6h-4zM864.77 403.76h4v21.6h-4zM870.8 403.76h4v21.6h-4zM876.83 403.76h4v21.6h-4zM882.85 403.76h4v21.6h-4zM888.88 403.76h4v21.6h-4zM894.91 403.76h4v21.6h-4zM900.94 403.76h4v21.6h-4zM906.97 403.76h4v21.6h-4zM912.99 403.76h4v21.6h-4zM919.02 403.76h4v21.6h-4zM925.05 403.76h4v21.6h-4zM931.08 403.76h4v21.6h-4zM937.11 403.76h4v21.6h-4zM943.13 403.76h4v21.6h-4zM949.16 403.76h4v21.6h-4zM955.19 403.76h4v21.6h-4zM961.22 403.76h4v21.6h-4zM967.25 403.76h4v21.6h-4zM973.27 403.76h4v21.6h-4zM979.3 403.76h4v21.6h-4zM985.33 403.76h4v21.6h-4zM991.36 403.76h4v21.6h-4zM997.39 403.76h4v21.6h-4zM1003.41 403.76h4v21.6h-4zM1009.44 403.76h4v21.6h-4zM1015.47 403.76h4v21.6h-4zM1021.5 403.76h4v21.6h-4zM1027.53 403.76h4v21.6h-4zM1033.55 403.76h4v21.6h-4zM1039.58 403.76h4v21.6h-4zM1045.61 403.76h4v21.6h-4zM1051.64 403.76h4v21.6h-4zM1057.67 403.76h4v21.6h-4zM1063.69 403.76h4v21.6h-4zM1069.72 403.76h4v21.6h-4zM1075.75 403.76h4v21.6h-4zM1081.78 403.76h4v21.6h-4zM1087.81 403.76h4v21.6h-4zM1093.83 403.76h4v21.6h-4zM1099.86 403.76h4v21.6h-4zM1105.89 403.76h4v21.6h-4zM1111.92 403.76h4v21.6h-4zM1117.95 403.76h4v21.6h-4zM1123.97 403.76h4v21.6h-4zM1130 403.76h4v21.6h-4zM1136.03 403.76h4v21.6h-4zM1142.06 403.76h4v21.6h-4zM1148.09 403.76h4v21.6h-4zM1154.11 403.76h4v21.6h-4zM1160.14 403.76h4v21.6h-4zM1166.17 403.76h4v21.6h-4zM1172.2 403.76h4v21.6h-4zM1178.23 403.76h4v21.6h-4zM1184.25 403.76h4v21.6h-4zM1190.28 403.76h4v21.6h-4zM1196.31 403.76h4v21.6h-4zM1202.34 403.76h4v21.6h-4zM1208.37 403.76h4v21.6h-4zM1214.39 403.76h4v21.6h-4zM1220.42 403.76h4v21.6h-4zM1226.45 403.76h4v21.6h-4zM1232.48 403.76h4v21.6h-4zM1238.51 403.76h4v21.6h-4zM1244.53 403.76h4v21.6h-4zM1250.56 403.76h4v21.6h-4zM1256.59 403.76h4v21.6h-4zM1262.62 403.76h4v21.6h-4zM1268.65 403.76h4v21.6h-4zM1274.67 403.76h4v21.6h-4zM1280.7 403.76h4v21.6h-4zM1286.73 403.76h4v21.6h-4zM1292.76 403.76h4v21.6h-4zM1298.79 403.76h4v21.6h-4zM1304.81 403.76h4v21.6h-4zM1310.84 403.76h4v21.6h-4zM1316.87 403.76h4v21.6h-4zM1322.9 403.76h4v21.6h-4zM1328.93 403.76h4v21.6h-4zM1334.95 403.76h4v21.6h-4zM1340.98 403.76h4v21.6h-4zM1347.01 403.76h4v21.6h-4zM1353.04 403.76h4v21.6h-4zM1359.07 403.76h4v21.6h-4zM1365.09 403.76h4v21.6h-4zM1371.12 403.76h4v21.6h-4zM1377.15 403.76h4v21.6h-4zM1383.18 403.76h4v21.6h-4zM1389.21 403.76h4v21.6h-4zM1395.23 403.76h4v21.6h-4zM1401.26 403.76h4v21.6h-4zM143 427.4h4v21.6h-4zM149.03 427.4h4v21.6h-4zM155.06 427.4h4v21.6h-4zM161.08 427.4h4v21.6h-4zM167.11 427.4h4v21.6h-4zM173.14 427.4h4v21.6h-4zM179.17 427.4h4v21.6h-4zM185.2 427.4h4v21.6h-4zM191.22 427.4h4v21.6h-4zM197.25 427.4h4v21.6h-4zM203.28 427.4h4v21.6h-4zM209.31 427.4h4v21.6h-4zM215.34 427.4h4v21.6h-4zM221.36 427.4h4v21.6h-4zM227.39 427.4h4v21.6h-4zM233.42 427.4h4v21.6h-4zM239.45 427.4h4v21.6h-4zM245.48 427.4h4v21.6h-4zM251.5 427.4h4v21.6h-4zM257.53 427.4h4v21.6h-4zM263.56 427.4h4v21.6h-4zM269.59 427.4h4v21.6h-4zM275.62 427.4h4v21.6h-4zM281.64 427.4h4v21.6h-4zM287.67 427.4h4v21.6h-4zM293.7 427.4h4v21.6h-4zM299.73 427.4h4v21.6h-4zM305.76 427.4h4v21.6h-4zM311.78 427.4h4v21.6h-4zM317.81 427.4h4v21.6h-4zM323.84 427.4h4v21.6h-4zM329.87 427.4h4v21.6h-4zM335.9 427.4h4v21.6h-4zM341.92 427.4h4v21.6h-4zM347.95 427.4h4v21.6h-4zM353.98 427.4h4v21.6h-4zM360.01 427.4h4v21.6h-4zM366.04 427.4h4v21.6h-4zM372.06 427.4h4v21.6h-4zM378.09 427.4h4v21.6h-4zM384.12 427.4h4v21.6h-4zM390.15 427.4h4v21.6h-4zM396.18 427.4h4v21.6h-4zM402.2 427.4h4v21.6h-4zM408.23 427.4h4v21.6h-4zM414.26 427.4h4v21.6h-4zM420.29 427.4h4v21.6h-4zM426.32 427.4h4v21.6h-4zM432.34 427.4h4v21.6h-4zM438.37 427.4h4v21.6h-4zM444.4 427.4h4v21.6h-4zM450.43 427.4h4v21.6h-4zM456.46 427.4h4v21.6h-4zM462.48 427.4h4v21.6h-4zM468.51 427.4h4v21.6h-4zM474.54 427.4h4v21.6h-4zM480.57 427.4h4v21.6h-4zM486.6 427.4h4v21.6h-4zM492.62 427.4h4v21.6h-4zM498.65 427.4h4v21.6h-4zM504.68 427.4h4v21.6h-4zM510.71 427.4h4v21.6h-4zM516.74 427.4h4v21.6h-4zM522.76 427.4h4v21.6h-4zM528.79 427.4h4v21.6h-4zM534.82 427.4h4v21.6h-4zM540.85 427.4h4v21.6h-4zM546.88 427.4h4v21.6h-4zM552.9 427.4h4v21.6h-4zM558.93 427.4h4v21.6h-4zM564.96 427.4h4v21.6h-4zM570.99 427.4h4v21.6h-4zM577.02 427.4h4v21.6h-4zM583.04 427.4h4v21.6h-4zM589.07 427.4h4v21.6h-4zM595.1 427.4h4v21.6h-4zM601.13 427.4h4v21.6h-4zM607.16 427.4h4v21.6h-4zM613.18 427.4h4v21.6h-4zM619.21 427.4h4v21.6h-4zM625.24 427.4h4v21.6h-4zM631.27 427.4h4v21.6h-4zM637.3 427.4h4v21.6h-4zM643.32 427.4h4v21.6h-4zM649.35 427.4h4v21.6h-4zM655.38 427.4h4v21.6h-4zM661.41 427.4h4v21.6h-4zM667.44 427.4h4v21.6h-4zM673.46 427.4h4v21.6h-4zM679.49 427.4h4v21.6h-4zM685.52 427.4h4v21.6h-4zM691.55 427.4h4v21.6h-4zM697.58 427.4h4v21.6h-4zM703.6 427.4h4v21.6h-4zM709.63 427.4h4v21.6h-4zM715.66 427.4h4v21.6h-4zM721.69 427.4h4v21.6h-4zM727.72 427.4h4v21.6h-4zM733.74 427.4h4v21.6h-4zM739.77 427.4h4v21.6h-4zM745.8 427.4h4v21.6h-4zM751.83 427.4h4v21.6h-4zM757.86 427.4h4v21.6h-4zM763.88 427.4h4v21.6h-4zM774.35 427.4h4v21.6h-4zM780.38 427.4h4v21.6h-4zM786.41 427.4h4v21.6h-4zM792.43 427.4h4v21.6h-4zM798.46 427.4h4v21.6h-4zM804.49 427.4h4v21.6h-4zM810.52 427.4h4v21.6h-4zM816.55 427.4h4v21.6h-4zM822.57 427.4h4v21.6h-4zM828.6 427.4h4v21.6h-4zM834.63 427.4h4v21.6h-4zM840.66 427.4h4v21.6h-4zM846.69 427.4h4v21.6h-4zM852.71 427.4h4v21.6h-4zM858.74 427.4h4v21.6h-4zM864.77 427.4h4v21.6h-4zM870.8 427.4h4v21.6h-4zM876.83 427.4h4v21.6h-4zM882.85 427.4h4v21.6h-4zM888.88 427.4h4v21.6h-4zM894.91 427.4h4v21.6h-4zM900.94 427.4h4v21.6h-4zM906.97 427.4h4v21.6h-4zM912.99 427.4h4v21.6h-4zM919.02 427.4h4v21.6h-4zM925.05 427.4h4v21.6h-4zM931.08 427.4h4v21.6h-4zM937.11 427.4h4v21.6h-4zM943.13 427.4h4v21.6h-4zM949.16 427.4h4v21.6h-4zM955.19 427.4h4v21.6h-4zM961.22 427.4h4v21.6h-4zM967.25 427.4h4v21.6h-4zM973.27 427.4h4v21.6h-4zM979.3 427.4h4v21.6h-4zM985.33 427.4h4v21.6h-4zM991.36 427.4h4v21.6h-4zM997.39 427.4h4v21.6h-4zM1003.41 427.4h4v21.6h-4zM1009.44 427.4h4v21.6h-4zM1015.47 427.4h4v21.6h-4zM1021.5 427.4h4v21.6h-4zM1027.53 427.4h4v21.6h-4zM1033.55 427.4h4v21.6h-4zM1039.58 427.4h4v21.6h-4zM1045.61 427.4h4v21.6h-4zM1051.64 427.4h4v21.6h-4zM1057.67 427.4h4v21.6h-4zM1063.69 427.4h4v21.6h-4zM1069.72 427.4h4v21.6h-4zM1075.75 427.4h4v21.6h-4zM1081.78 427.4h4v21.6h-4zM1087.81 427.4h4v21.6h-4zM1093.83 427.4h4v21.6h-4zM1099.86 427.4h4v21.6h-4zM1105.89 427.4h4v21.6h-4zM1111.92 427.4h4v21.6h-4zM1117.95 427.4h4v21.6h-4zM1123.97 427.4h4v21.6h-4zM1130 427.4h4v21.6h-4zM1136.03 427.4h4v21.6h-4zM1142.06 427.4h4v21.6h-4zM1148.09 427.4h4v21.6h-4zM1154.11 427.4h4v21.6h-4zM1160.14 427.4h4v21.6h-4zM1166.17 427.4h4v21.6h-4zM1172.2 427.4h4v21.6h-4zM1178.23 427.4h4v21.6h-4zM1184.25 427.4h4v21.6h-4zM1190.28 427.4h4v21.6h-4zM1196.31 427.4h4v21.6h-4zM1202.34 427.4h4v21.6h-4zM1208.37 427.4h4v21.6h-4zM1214.39 427.4h4v21.6h-4zM1220.42 427.4h4v21.6h-4zM1226.45 427.4h4v21.6h-4zM1232.48 427.4h4v21.6h-4zM1238.51 427.4h4v21.6h-4zM1244.53 427.4h4v21.6h-4zM1250.56 427.4h4v21.6h-4zM1256.59 427.4h4v21.6h-4zM1262.62 427.4h4v21.6h-4zM1268.65 427.4h4v21.6h-4zM1274.67 427.4h4v21.6h-4zM1280.7 427.4h4v21.6h-4zM1286.73 427.4h4v21.6h-4zM1292.76 427.4h4v21.6h-4zM1298.79 427.4h4v21.6h-4zM1304.81 427.4h4v21.6h-4zM1310.84 427.4h4v21.6h-4zM1316.87 427.4h4v21.6h-4zM1322.9 427.4h4v21.6h-4zM1328.93 427.4h4v21.6h-4zM1334.95 427.4h4v21.6h-4zM1340.98 427.4h4v21.6h-4zM1347.01 427.4h4v21.6h-4zM1353.04 427.4h4v21.6h-4zM1359.07 427.4h4v21.6h-4zM1365.09 427.4h4v21.6h-4zM1371.12 427.4h4v21.6h-4zM1377.15 427.4h4v21.6h-4zM1383.18 427.4h4v21.6h-4zM1389.21 427.4h4v21.6h-4zM1395.23 427.4h4v21.6h-4zM1401.26 427.4h4v21.6h-4zM143 451.04h4v21.6h-4zM149.03 451.04h4v21.6h-4zM155.06 451.04h4v21.6h-4zM161.08 451.04h4v21.6h-4zM167.11 451.04h4v21.6h-4zM173.14 451.04h4v21.6h-4zM179.17 451.04h4v21.6h-4zM185.2 451.04h4v21.6h-4zM191.22 451.04h4v21.6h-4zM197.25 451.04h4v21.6h-4zM203.28 451.04h4v21.6h-4zM209.31 451.04h4v21.6h-4zM215.34 451.04h4v21.6h-4zM221.36 451.04h4v21.6h-4zM227.39 451.04h4v21.6h-4zM233.42 451.04h4v21.6h-4zM239.45 451.04h4v21.6h-4zM245.48 451.04h4v21.6h-4zM251.5 451.04h4v21.6h-4zM257.53 451.04h4v21.6h-4zM263.56 451.04h4v21.6h-4zM269.59 451.04h4v21.6h-4zM275.62 451.04h4v21.6h-4zM281.64 451.04h4v21.6h-4zM287.67 451.04h4v21.6h-4zM293.7 451.04h4v21.6h-4zM299.73 451.04h4v21.6h-4zM305.76 451.04h4v21.6h-4zM311.78 451.04h4v21.6h-4zM317.81 451.04h4v21.6h-4zM323.84 451.04h4v21.6h-4zM329.87 451.04h4v21.6h-4zM335.9 451.04h4v21.6h-4zM341.92 451.04h4v21.6h-4zM347.95 451.04h4v21.6h-4zM353.98 451.04h4v21.6h-4zM360.01 451.04h4v21.6h-4zM366.04 451.04h4v21.6h-4zM372.06 451.04h4v21.6h-4zM378.09 451.04h4v21.6h-4zM384.12 451.04h4v21.6h-4zM390.15 451.04h4v21.6h-4zM396.18 451.04h4v21.6h-4zM402.2 451.04h4v21.6h-4zM408.23 451.04h4v21.6h-4zM414.26 451.04h4v21.6h-4zM420.29 451.04h4v21.6h-4zM426.32 451.04h4v21.6h-4zM432.34 451.04h4v21.6h-4zM438.37 451.04h4v21.6h-4zM444.4 451.04h4v21.6h-4zM450.43 451.04h4v21.6h-4zM456.46 451.04h4v21.6h-4zM462.48 451.04h4v21.6h-4zM468.51 451.04h4v21.6h-4zM474.54 451.04h4v21.6h-4zM480.57 451.04h4v21.6h-4zM486.6 451.04h4v21.6h-4zM492.62 451.04h4v21.6h-4zM498.65 451.04h4v21.6h-4zM504.68 451.04h4v21.6h-4zM510.71 451.04h4v21.6h-4zM516.74 451.04h4v21.6h-4zM522.76 451.04h4v21.6h-4zM528.79 451.04h4v21.6h-4zM534.82 451.04h4v21.6h-4zM540.85 451.04h4v21.6h-4zM546.88 451.04h4v21.6h-4zM552.9 451.04h4v21.6h-4zM558.93 451.04h4v21.6h-4zM564.96 451.04h4v21.6h-4zM570.99 451.04h4v21.6h-4zM577.02 451.04h4v21.6h-4zM583.04 451.04h4v21.6h-4zM589.07 451.04h4v21.6h-4zM595.1 451.04h4v21.6h-4zM601.13 451.04h4v21.6h-4zM607.16 451.04h4v21.6h-4zM613.18 451.04h4v21.6h-4zM619.21 451.04h4v21.6h-4zM625.24 451.04h4v21.6h-4zM631.27 451.04h4v21.6h-4zM637.3 451.04h4v21.6h-4zM643.32 451.04h4v21.6h-4zM649.35 451.04h4v21.6h-4zM655.38 451.04h4v21.6h-4zM661.41 451.04h4v21.6h-4zM667.44 451.04h4v21.6h-4zM673.46 451.04h4v21.6h-4zM679.49 451.04h4v21.6h-4zM685.52 451.04h4v21.6h-4zM691.55 451.04h4v21.6h-4zM697.58 451.04h4v21.6h-4zM703.6 451.04h4v21.6h-4zM709.63 451.04h4v21.6h-4zM715.66 451.04h4v21.6h-4zM721.69 451.04h4v21.6h-4zM727.72 451.04h4v21.6h-4zM733.74 451.04h4v21.6h-4zM739.77 451.04h4v21.6h-4zM745.8 451.04h4v21.6h-4zM751.83 451.04h4v21.6h-4zM757.86 451.04h4v21.6h-4zM763.88 451.04h4v21.6h-4zM774.35 451.04h4v21.6h-4zM780.38 451.04h4v21.6h-4zM786.41 451.04h4v21.6h-4zM792.43 451.04h4v21.6h-4zM798.46 451.04h4v21.6h-4zM804.49 451.04h4v21.6h-4zM810.52 451.04h4v21.6h-4zM816.55 451.04h4v21.6h-4zM822.57 451.04h4v21.6h-4zM828.6 451.04h4v21.6h-4zM834.63 451.04h4v21.6h-4zM840.66 451.04h4v21.6h-4zM846.69 451.04h4v21.6h-4zM852.71 451.04h4v21.6h-4zM858.74 451.04h4v21.6h-4zM864.77 451.04h4v21.6h-4zM870.8 451.04h4v21.6h-4zM876.83 451.04h4v21.6h-4zM882.85 451.04h4v21.6h-4zM888.88 451.04h4v21.6h-4zM894.91 451.04h4v21.6h-4zM900.94 451.04h4v21.6h-4zM906.97 451.04h4v21.6h-4zM912.99 451.04h4v21.6h-4zM919.02 451.04h4v21.6h-4zM925.05 451.04h4v21.6h-4zM931.08 451.04h4v21.6h-4zM937.11 451.04h4v21.6h-4zM943.13 451.04h4v21.6h-4zM949.16 451.04h4v21.6h-4zM955.19 451.04h4v21.6h-4zM961.22 451.04h4v21.6h-4zM967.25 451.04h4v21.6h-4zM973.27 451.04h4v21.6h-4zM979.3 451.04h4v21.6h-4zM985.33 451.04h4v21.6h-4zM991.36 451.04h4v21.6h-4zM997.39 451.04h4v21.6h-4zM1003.41 451.04h4v21.6h-4zM1009.44 451.04h4v21.6h-4zM1015.47 451.04h4v21.6h-4zM1021.5 451.04h4v21.6h-4zM1027.53 451.04h4v21.6h-4zM1033.55 451.04h4v21.6h-4zM1039.58 451.04h4v21.6h-4zM1045.61 451.04h4v21.6h-4zM1051.64 451.04h4v21.6h-4zM1057.67 451.04h4v21.6h-4zM1063.69 451.04h4v21.6h-4zM1069.72 451.04h4v21.6h-4zM1075.75 451.04h4v21.6h-4zM1081.78 451.04h4v21.6h-4zM1087.81 451.04h4v21.6h-4zM1093.83 451.04h4v21.6h-4zM1099.86 451.04h4v21.6h-4zM1105.89 451.04h4v21.6h-4zM1111.92 451.04h4v21.6h-4zM1117.95 451.04h4v21.6h-4zM1123.97 451.04h4v21.6h-4zM1130 451.04h4v21.6h-4zM1136.03 451.04h4v21.6h-4zM1142.06 451.04h4v21.6h-4zM1148.09 451.04h4v21.6h-4zM1154.11 451.04h4v21.6h-4zM1160.14 451.04h4v21.6h-4zM1166.17 451.04h4v21.6h-4zM1172.2 451.04h4v21.6h-4zM1178.23 451.04h4v21.6h-4zM1184.25 451.04h4v21.6h-4zM1190.28 451.04h4v21.6h-4zM1196.31 451.04h4v21.6h-4zM1202.34 451.04h4v21.6h-4zM1208.37 451.04h4v21.6h-4zM1214.39 451.04h4v21.6h-4zM1220.42 451.04h4v21.6h-4zM1226.45 451.04h4v21.6h-4zM1232.48 451.04h4v21.6h-4zM1238.51 451.04h4v21.6h-4zM1244.53 451.04h4v21.6h-4zM1250.56 451.04h4v21.6h-4zM1256.59 451.04h4v21.6h-4zM1262.62 451.04h4v21.6h-4zM1268.65 451.04h4v21.6h-4zM1274.67 451.04h4v21.6h-4zM1280.7 451.04h4v21.6h-4zM1286.73 451.04h4v21.6h-4zM1292.76 451.04h4v21.6h-4zM1298.79 451.04h4v21.6h-4zM1304.81 451.04h4v21.6h-4zM1310.84 451.04h4v21.6h-4zM1316.87 451.04h4v21.6h-4zM1322.9 451.04h4v21.6h-4zM1328.93 451.04h4v21.6h-4zM1334.95 451.04h4v21.6h-4zM1340.98 451.04h4v21.6h-4zM1347.01 451.04h4v21.6h-4zM1353.04 451.04h4v21.6h-4zM1359.07 451.04h4v21.6h-4zM1365.09 451.04h4v21.6h-4zM1371.12 451.04h4v21.6h-4zM1377.15 451.04h4v21.6h-4zM1383.18 451.04h4v21.6h-4zM1389.21 451.04h4v21.6h-4zM1395.23 451.04h4v21.6h-4zM1401.26 451.04h4v21.6h-4zM143 474.68h4v21.6h-4zM149.03 474.68h4v21.6h-4zM155.06 474.68h4v21.6h-4zM161.08 474.68h4v21.6h-4zM167.11 474.68h4v21.6h-4zM173.14 474.68h4v21.6h-4zM179.17 474.68h4v21.6h-4zM185.2 474.68h4v21.6h-4zM191.22 474.68h4v21.6h-4zM197.25 474.68h4v21.6h-4zM203.28 474.68h4v21.6h-4zM209.31 474.68h4v21.6h-4zM215.34 474.68h4v21.6h-4zM221.36 474.68h4v21.6h-4zM227.39 474.68h4v21.6h-4zM233.42 474.68h4v21.6h-4zM239.45 474.68h4v21.6h-4zM245.48 474.68h4v21.6h-4zM251.5 474.68h4v21.6h-4zM257.53 474.68h4v21.6h-4zM263.56 474.68h4v21.6h-4zM269.59 474.68h4v21.6h-4zM275.62 474.68h4v21.6h-4zM281.64 474.68h4v21.6h-4zM287.67 474.68h4v21.6h-4zM293.7 474.68h4v21.6h-4zM299.73 474.68h4v21.6h-4zM305.76 474.68h4v21.6h-4zM311.78 474.68h4v21.6h-4zM317.81 474.68h4v21.6h-4zM323.84 474.68h4v21.6h-4zM329.87 474.68h4v21.6h-4zM335.9 474.68h4v21.6h-4zM341.92 474.68h4v21.6h-4zM347.95 474.68h4v21.6h-4zM353.98 474.68h4v21.6h-4zM360.01 474.68h4v21.6h-4zM366.04 474.68h4v21.6h-4zM372.06 474.68h4v21.6h-4zM378.09 474.68h4v21.6h-4zM384.12 474.68h4v21.6h-4zM390.15 474.68h4v21.6h-4zM396.18 474.68h4v21.6h-4zM402.2 474.68h4v21.6h-4zM408.23 474.68h4v21.6h-4zM414.26 474.68h4v21.6h-4zM420.29 474.68h4v21.6h-4zM426.32 474.68h4v21.6h-4zM432.34 474.68h4v21.6h-4zM438.37 474.68h4v21.6h-4zM444.4 474.68h4v21.6h-4zM450.43 474.68h4v21.6h-4zM456.46 474.68h4v21.6h-4zM462.48 474.68h4v21.6h-4zM468.51 474.68h4v21.6h-4zM474.54 474.68h4v21.6h-4zM480.57 474.68h4v21.6h-4zM486.6 474.68h4v21.6h-4zM492.62 474.68h4v21.6h-4zM498.65 474.68h4v21.6h-4zM504.68 474.68h4v21.6h-4zM510.71 474.68h4v21.6h-4zM516.74 474.68h4v21.6h-4zM522.76 474.68h4v21.6h-4zM528.79 474.68h4v21.6h-4zM534.82 474.68h4v21.6h-4zM540.85 474.68h4v21.6h-4zM546.88 474.68h4v21.6h-4zM552.9 474.68h4v21.6h-4zM558.93 474.68h4v21.6h-4zM564.96 474.68h4v21.6h-4zM570.99 474.68h4v21.6h-4zM577.02 474.68h4v21.6h-4zM583.04 474.68h4v21.6h-4zM589.07 474.68h4v21.6h-4zM595.1 474.68h4v21.6h-4zM601.13 474.68h4v21.6h-4zM607.16 474.68h4v21.6h-4zM613.18 474.68h4v21.6h-4zM619.21 474.68h4v21.6h-4zM625.24 474.68h4v21.6h-4zM631.27 474.68h4v21.6h-4zM637.3 474.68h4v21.6h-4zM643.32 474.68h4v21.6h-4zM649.35 474.68h4v21.6h-4zM655.38 474.68h4v21.6h-4zM661.41 474.68h4v21.6h-4zM667.44 474.68h4v21.6h-4zM673.46 474.68h4v21.6h-4zM679.49 474.68h4v21.6h-4zM685.52 474.68h4v21.6h-4zM691.55 474.68h4v21.6h-4zM697.58 474.68h4v21.6h-4zM703.6 474.68h4v21.6h-4zM709.63 474.68h4v21.6h-4zM715.66 474.68h4v21.6h-4zM721.69 474.68h4v21.6h-4zM727.72 474.68h4v21.6h-4zM733.74 474.68h4v21.6h-4zM739.77 474.68h4v21.6h-4zM745.8 474.68h4v21.6h-4zM751.83 474.68h4v21.6h-4zM757.86 474.68h4v21.6h-4zM763.88 474.68h4v21.6h-4zM774.35 474.68h4v21.6h-4zM780.38 474.68h4v21.6h-4zM786.41 474.68h4v21.6h-4zM792.43 474.68h4v21.6h-4zM798.46 474.68h4v21.6h-4zM804.49 474.68h4v21.6h-4zM810.52 474.68h4v21.6h-4zM816.55 474.68h4v21.6h-4zM822.57 474.68h4v21.6h-4zM828.6 474.68h4v21.6h-4zM834.63 474.68h4v21.6h-4zM840.66 474.68h4v21.6h-4zM846.69 474.68h4v21.6h-4zM852.71 474.68h4v21.6h-4zM858.74 474.68h4v21.6h-4zM864.77 474.68h4v21.6h-4zM870.8 474.68h4v21.6h-4zM876.83 474.68h4v21.6h-4zM882.85 474.68h4v21.6h-4zM888.88 474.68h4v21.6h-4zM894.91 474.68h4v21.6h-4zM900.94 474.68h4v21.6h-4zM906.97 474.68h4v21.6h-4zM912.99 474.68h4v21.6h-4zM919.02 474.68h4v21.6h-4zM925.05 474.68h4v21.6h-4zM931.08 474.68h4v21.6h-4zM937.11 474.68h4v21.6h-4zM943.13 474.68h4v21.6h-4zM949.16 474.68h4v21.6h-4zM955.19 474.68h4v21.6h-4zM961.22 474.68h4v21.6h-4zM967.25 474.68h4v21.6h-4zM973.27 474.68h4v21.6h-4zM979.3 474.68h4v21.6h-4zM985.33 474.68h4v21.6h-4zM991.36 474.68h4v21.6h-4zM997.39 474.68h4v21.6h-4zM1003.41 474.68h4v21.6h-4zM1009.44 474.68h4v21.6h-4zM1015.47 474.68h4v21.6h-4zM1021.5 474.68h4v21.6h-4zM1027.53 474.68h4v21.6h-4zM1033.55 474.68h4v21.6h-4zM1039.58 474.68h4v21.6h-4zM1045.61 474.68h4v21.6h-4zM1051.64 474.68h4v21.6h-4zM1057.67 474.68h4v21.6h-4zM1063.69 474.68h4v21.6h-4zM1069.72 474.68h4v21.6h-4zM1075.75 474.68h4v21.6h-4zM1081.78 474.68h4v21.6h-4zM1087.81 474.68h4v21.6h-4zM1093.83 474.68h4v21.6h-4zM1099.86 474.68h4v21.6h-4zM1105.89 474.68h4v21.6h-4zM1111.92 474.68h4v21.6h-4zM1117.95 474.68h4v21.6h-4zM1123.97 474.68h4v21.6h-4zM1130 474.68h4v21.6h-4zM1136.03 474.68h4v21.6h-4zM1142.06 474.68h4v21.6h-4zM1148.09 474.68h4v21.6h-4zM1154.11 474.68h4v21.6h-4zM1160.14 474.68h4v21.6h-4zM1166.17 474.68h4v21.6h-4zM1172.2 474.68h4v21.6h-4zM1178.23 474.68h4v21.6h-4zM1184.25 474.68h4v21.6h-4zM1190.28 474.68h4v21.6h-4zM1196.31 474.68h4v21.6h-4zM1202.34 474.68h4v21.6h-4zM1208.37 474.68h4v21.6h-4zM1214.39 474.68h4v21.6h-4zM1220.42 474.68h4v21.6h-4zM1226.45 474.68h4v21.6h-4zM1232.48 474.68h4v21.6h-4zM1238.51 474.68h4v21.6h-4zM1244.53 474.68h4v21.6h-4zM1250.56 474.68h4v21.6h-4zM1256.59 474.68h4v21.6h-4zM1262.62 474.68h4v21.6h-4zM1268.65 474.68h4v21.6h-4zM1274.67 474.68h4v21.6h-4zM1280.7 474.68h4v21.6h-4zM1286.73 474.68h4v21.6h-4zM1292.76 474.68h4v21.6h-4zM1298.79 474.68h4v21.6h-4zM1304.81 474.68h4v21.6h-4zM1310.84 474.68h4v21.6h-4zM1316.87 474.68h4v21.6h-4zM1322.9 474.68h4v21.6h-4zM1328.93 474.68h4v21.6h-4zM1334.95 474.68h4v21.6h-4zM1340.98 474.68h4v21.6h-4zM1347.01 474.68h4v21.6h-4zM1353.04 474.68h4v21.6h-4zM1359.07 474.68h4v21.6h-4zM1365.09 474.68h4v21.6h-4zM1371.12 474.68h4v21.6h-4zM1377.15 474.68h4v21.6h-4zM1383.18 474.68h4v21.6h-4zM1389.21 474.68h4v21.6h-4zM1395.23 474.68h4v21.6h-4zM1401.26 474.68h4v21.6h-4zM143 498.32h4v21.6h-4zM149.03 498.32h4v21.6h-4zM155.06 498.32h4v21.6h-4zM161.08 498.32h4v21.6h-4zM167.11 498.32h4v21.6h-4zM173.14 498.32h4v21.6h-4zM179.17 498.32h4v21.6h-4zM185.2 498.32h4v21.6h-4zM191.22 498.32h4v21.6h-4zM197.25 498.32h4v21.6h-4zM203.28 498.32h4v21.6h-4zM209.31 498.32h4v21.6h-4zM215.34 498.32h4v21.6h-4zM221.36 498.32h4v21.6h-4zM227.39 498.32h4v21.6h-4zM233.42 498.32h4v21.6h-4zM239.45 498.32h4v21.6h-4zM245.48 498.32h4v21.6h-4zM251.5 498.32h4v21.6h-4zM257.53 498.32h4v21.6h-4zM263.56 498.32h4v21.6h-4zM269.59 498.32h4v21.6h-4zM275.62 498.32h4v21.6h-4zM281.64 498.32h4v21.6h-4zM287.67 498.32h4v21.6h-4zM293.7 498.32h4v21.6h-4zM299.73 498.32h4v21.6h-4zM305.76 498.32h4v21.6h-4zM311.78 498.32h4v21.6h-4zM317.81 498.32h4v21.6h-4zM323.84 498.32h4v21.6h-4zM329.87 498.32h4v21.6h-4zM335.9 498.32h4v21.6h-4zM341.92 498.32h4v21.6h-4zM347.95 498.32h4v21.6h-4zM353.98 498.32h4v21.6h-4zM360.01 498.32h4v21.6h-4zM366.04 498.32h4v21.6h-4zM372.06 498.32h4v21.6h-4zM378.09 498.32h4v21.6h-4zM384.12 498.32h4v21.6h-4zM390.15 498.32h4v21.6h-4zM396.18 498.32h4v21.6h-4zM402.2 498.32h4v21.6h-4zM408.23 498.32h4v21.6h-4zM414.26 498.32h4v21.6h-4zM420.29 498.32h4v21.6h-4zM426.32 498.32h4v21.6h-4zM432.34 498.32h4v21.6h-4zM438.37 498.32h4v21.6h-4zM444.4 498.32h4v21.6h-4zM450.43 498.32h4v21.6h-4zM456.46 498.32h4v21.6h-4zM462.48 498.32h4v21.6h-4zM468.51 498.32h4v21.6h-4zM474.54 498.32h4v21.6h-4zM480.57 498.32h4v21.6h-4zM486.6 498.32h4v21.6h-4zM492.62 498.32h4v21.6h-4zM498.65 498.32h4v21.6h-4zM504.68 498.32h4v21.6h-4zM510.71 498.32h4v21.6h-4zM516.74 498.32h4v21.6h-4zM522.76 498.32h4v21.6h-4zM528.79 498.32h4v21.6h-4zM534.82 498.32h4v21.6h-4zM540.85 498.32h4v21.6h-4zM546.88 498.32h4v21.6h-4zM552.9 498.32h4v21.6h-4zM558.93 498.32h4v21.6h-4zM564.96 498.32h4v21.6h-4zM570.99 498.32h4v21.6h-4zM577.02 498.32h4v21.6h-4zM583.04 498.32h4v21.6h-4zM589.07 498.32h4v21.6h-4zM595.1 498.32h4v21.6h-4zM601.13 498.32h4v21.6h-4zM607.16 498.32h4v21.6h-4zM613.18 498.32h4v21.6h-4zM619.21 498.32h4v21.6h-4zM625.24 498.32h4v21.6h-4zM631.27 498.32h4v21.6h-4zM637.3 498.32h4v21.6h-4zM643.32 498.32h4v21.6h-4zM649.35 498.32h4v21.6h-4zM655.38 498.32h4v21.6h-4zM661.41 498.32h4v21.6h-4zM667.44 498.32h4v21.6h-4zM673.46 498.32h4v21.6h-4zM679.49 498.32h4v21.6h-4zM685.52 498.32h4v21.6h-4zM691.55 498.32h4v21.6h-4zM697.58 498.32h4v21.6h-4zM703.6 498.32h4v21.6h-4zM709.63 498.32h4v21.6h-4zM715.66 498.32h4v21.6h-4zM721.69 498.32h4v21.6h-4zM727.72 498.32h4v21.6h-4zM733.74 498.32h4v21.6h-4zM739.77 498.32h4v21.6h-4zM745.8 498.32h4v21.6h-4zM751.83 498.32h4v21.6h-4zM757.86 498.32h4v21.6h-4zM763.88 498.32h4v21.6h-4zM774.35 498.32h4v21.6h-4zM780.38 498.32h4v21.6h-4zM786.41 498.32h4v21.6h-4zM792.43 498.32h4v21.6h-4zM798.46 498.32h4v21.6h-4zM804.49 498.32h4v21.6h-4zM810.52 498.32h4v21.6h-4zM816.55 498.32h4v21.6h-4zM822.57 498.32h4v21.6h-4zM828.6 498.32h4v21.6h-4zM834.63 498.32h4v21.6h-4zM840.66 498.32h4v21.6h-4zM846.69 498.32h4v21.6h-4zM852.71 498.32h4v21.6h-4zM858.74 498.32h4v21.6h-4zM864.77 498.32h4v21.6h-4zM870.8 498.32h4v21.6h-4zM876.83 498.32h4v21.6h-4zM882.85 498.32h4v21.6h-4zM888.88 498.32h4v21.6h-4zM894.91 498.32h4v21.6h-4zM900.94 498.32h4v21.6h-4zM906.97 498.32h4v21.6h-4zM912.99 498.32h4v21.6h-4zM919.02 498.32h4v21.6h-4zM925.05 498.32h4v21.6h-4zM931.08 498.32h4v21.6h-4zM937.11 498.32h4v21.6h-4zM943.13 498.32h4v21.6h-4zM949.16 498.32h4v21.6h-4zM955.19 498.32h4v21.6h-4zM961.22 498.32h4v21.6h-4zM967.25 498.32h4v21.6h-4zM973.27 498.32h4v21.6h-4zM979.3 498.32h4v21.6h-4zM985.33 498.32h4v21.6h-4zM991.36 498.32h4v21.6h-4zM997.39 498.32h4v21.6h-4zM1003.41 498.32h4v21.6h-4zM1009.44 498.32h4v21.6h-4zM1015.47 498.32h4v21.6h-4zM1021.5 498.32h4v21.6h-4zM1027.53 498.32h4v21.6h-4zM1033.55 498.32h4v21.6h-4zM1039.58 498.32h4v21.6h-4zM1045.61 498.32h4v21.6h-4zM1051.64 498.32h4v21.6h-4zM1057.67 498.32h4v21.6h-4zM1063.69 498.32h4v21.6h-4zM1069.72 498.32h4v21.6h-4zM1075.75 498.32h4v21.6h-4zM1081.78 498.32h4v21.6h-4zM1087.81 498.32h4v21.6h-4zM1093.83 498.32h4v21.6h-4zM1099.86 498.32h4v21.6h-4zM1105.89 498.32h4v21.6h-4zM1111.92 498.32h4v21.6h-4zM1117.95 498.32h4v21.6h-4zM1123.97 498.32h4v21.6h-4zM1130 498.32h4v21.6h-4zM1136.03 498.32h4v21.6h-4zM1142.06 498.32h4v21.6h-4zM1148.09 498.32h4v21.6h-4zM1154.11 498.32h4v21.6h-4zM1160.14 498.32h4v21.6h-4zM1166.17 498.32h4v21.6h-4zM1172.2 498.32h4v21.6h-4zM1178.23 498.32h4v21.6h-4zM1184.25 498.32h4v21.6h-4zM1190.28 498.32h4v21.6h-4zM1196.31 498.32h4v21.6h-4zM1202.34 498.32h4v21.6h-4zM1208.37 498.32h4v21.6h-4zM1214.39 498.32h4v21.6h-4zM1220.42 498.32h4v21.6h-4zM1226.45 498.32h4v21.6h-4zM1232.48 498.32h4v21.6h-4zM1238.51 498.32h4v21.6h-4zM1244.53 498.32h4v21.6h-4zM1250.56 498.32h4v21.6h-4zM1256.59 498.32h4v21.6h-4zM1262.62 498.32h4v21.6h-4zM1268.65 498.32h4v21.6h-4zM1274.67 498.32h4v21.6h-4zM1280.7 498.32h4v21.6h-4zM1286.73 498.32h4v21.6h-4zM1292.76 498.32h4v21.6h-4zM1298.79 498.32h4v21.6h-4zM1304.81 498.32h4v21.6h-4zM1310.84 498.32h4v21.6h-4zM1316.87 498.32h4v21.6h-4zM1322.9 498.32h4v21.6h-4zM1328.93 498.32h4v21.6h-4zM1334.95 498.32h4v21.6h-4zM1340.98 498.32h4v21.6h-4zM1347.01 498.32h4v21.6h-4zM1353.04 498.32h4v21.6h-4zM1359.07 498.32h4v21.6h-4zM1365.09 498.32h4v21.6h-4zM1371.12 498.32h4v21.6h-4zM1377.15 498.32h4v21.6h-4zM1383.18 498.32h4v21.6h-4zM1389.21 498.32h4v21.6h-4zM1395.23 498.32h4v21.6h-4zM1401.26 498.32h4v21.6h-4zM143 521.96h4v21.6h-4zM149.03 521.96h4v21.6h-4zM155.06 521.96h4v21.6h-4zM161.08 521.96h4v21.6h-4zM167.11 521.96h4v21.6h-4zM173.14 521.96h4v21.6h-4zM179.17 521.96h4v21.6h-4zM185.2 521.96h4v21.6h-4zM191.22 521.96h4v21.6h-4zM197.25 521.96h4v21.6h-4zM203.28 521.96h4v21.6h-4zM209.31 521.96h4v21.6h-4zM215.34 521.96h4v21.6h-4zM221.36 521.96h4v21.6h-4zM227.39 521.96h4v21.6h-4zM233.42 521.96h4v21.6h-4zM239.45 521.96h4v21.6h-4zM245.48 521.96h4v21.6h-4zM251.5 521.96h4v21.6h-4zM257.53 521.96h4v21.6h-4zM263.56 521.96h4v21.6h-4zM269.59 521.96h4v21.6h-4zM275.62 521.96h4v21.6h-4zM281.64 521.96h4v21.6h-4zM287.67 521.96h4v21.6h-4zM293.7 521.96h4v21.6h-4zM299.73 521.96h4v21.6h-4zM305.76 521.96h4v21.6h-4zM311.78 521.96h4v21.6h-4zM317.81 521.96h4v21.6h-4zM323.84 521.96h4v21.6h-4zM329.87 521.96h4v21.6h-4zM335.9 521.96h4v21.6h-4zM341.92 521.96h4v21.6h-4zM347.95 521.96h4v21.6h-4zM353.98 521.96h4v21.6h-4zM360.01 521.96h4v21.6h-4zM366.04 521.96h4v21.6h-4zM372.06 521.96h4v21.6h-4zM378.09 521.96h4v21.6h-4zM384.12 521.96h4v21.6h-4zM390.15 521.96h4v21.6h-4zM396.18 521.96h4v21.6h-4zM402.2 521.96h4v21.6h-4zM408.23 521.96h4v21.6h-4zM414.26 521.96h4v21.6h-4zM420.29 521.96h4v21.6h-4zM426.32 521.96h4v21.6h-4zM432.34 521.96h4v21.6h-4zM438.37 521.96h4v21.6h-4zM444.4 521.96h4v21.6h-4zM450.43 521.96h4v21.6h-4zM456.46 521.96h4v21.6h-4zM462.48 521.96h4v21.6h-4zM468.51 521.96h4v21.6h-4zM474.54 521.96h4v21.6h-4zM480.57 521.96h4v21.6h-4zM486.6 521.96h4v21.6h-4zM492.62 521.96h4v21.6h-4zM498.65 521.96h4v21.6h-4zM504.68 521.96h4v21.6h-4zM510.71 521.96h4v21.6h-4zM516.74 521.96h4v21.6h-4zM522.76 521.96h4v21.6h-4zM528.79 521.96h4v21.6h-4zM534.82 521.96h4v21.6h-4zM540.85 521.96h4v21.6h-4zM546.88 521.96h4v21.6h-4zM552.9 521.96h4v21.6h-4zM558.93 521.96h4v21.6h-4zM564.96 521.96h4v21.6h-4zM570.99 521.96h4v21.6h-4zM577.02 521.96h4v21.6h-4zM583.04 521.96h4v21.6h-4zM589.07 521.96h4v21.6h-4zM595.1 521.96h4v21.6h-4zM601.13 521.96h4v21.6h-4zM607.16 521.96h4v21.6h-4zM613.18 521.96h4v21.6h-4zM619.21 521.96h4v21.6h-4zM625.24 521.96h4v21.6h-4zM631.27 521.96h4v21.6h-4zM637.3 521.96h4v21.6h-4zM643.32 521.96h4v21.6h-4zM649.35 521.96h4v21.6h-4zM655.38 521.96h4v21.6h-4zM661.41 521.96h4v21.6h-4zM667.44 521.96h4v21.6h-4zM673.46 521.96h4v21.6h-4zM679.49 521.96h4v21.6h-4zM685.52 521.96h4v21.6h-4zM691.55 521.96h4v21.6h-4zM697.58 521.96h4v21.6h-4zM703.6 521.96h4v21.6h-4zM709.63 521.96h4v21.6h-4zM715.66 521.96h4v21.6h-4zM721.69 521.96h4v21.6h-4zM727.72 521.96h4v21.6h-4zM733.74 521.96h4v21.6h-4zM739.77 521.96h4v21.6h-4zM745.8 521.96h4v21.6h-4zM751.83 521.96h4v21.6h-4zM757.86 521.96h4v21.6h-4zM763.88 521.96h4v21.6h-4zM774.35 521.96h4v21.6h-4zM780.38 521.96h4v21.6h-4zM786.41 521.96h4v21.6h-4zM792.43 521.96h4v21.6h-4zM798.46 521.96h4v21.6h-4zM804.49 521.96h4v21.6h-4zM810.52 521.96h4v21.6h-4zM816.55 521.96h4v21.6h-4zM822.57 521.96h4v21.6h-4zM828.6 521.96h4v21.6h-4zM834.63 521.96h4v21.6h-4zM840.66 521.96h4v21.6h-4zM846.69 521.96h4v21.6h-4zM852.71 521.96h4v21.6h-4zM858.74 521.96h4v21.6h-4zM864.77 521.96h4v21.6h-4zM870.8 521.96h4v21.6h-4zM876.83 521.96h4v21.6h-4zM882.85 521.96h4v21.6h-4zM888.88 521.96h4v21.6h-4zM894.91 521.96h4v21.6h-4zM900.94 521.96h4v21.6h-4zM906.97 521.96h4v21.6h-4zM912.99 521.96h4v21.6h-4zM919.02 521.96h4v21.6h-4zM925.05 521.96h4v21.6h-4zM931.08 521.96h4v21.6h-4zM937.11 521.96h4v21.6h-4zM943.13 521.96h4v21.6h-4zM949.16 521.96h4v21.6h-4zM955.19 521.96h4v21.6h-4zM961.22 521.96h4v21.6h-4zM967.25 521.96h4v21.6h-4zM973.27 521.96h4v21.6h-4zM979.3 521.96h4v21.6h-4zM985.33 521.96h4v21.6h-4zM991.36 521.96h4v21.6h-4zM997.39 521.96h4v21.6h-4zM1003.41 521.96h4v21.6h-4zM1009.44 521.96h4v21.6h-4zM1015.47 521.96h4v21.6h-4zM1021.5 521.96h4v21.6h-4zM1027.53 521.96h4v21.6h-4zM1033.55 521.96h4v21.6h-4zM1039.58 521.96h4v21.6h-4zM1045.61 521.96h4v21.6h-4zM1051.64 521.96h4v21.6h-4zM1057.67 521.96h4v21.6h-4zM1063.69 521.96h4v21.6h-4zM1069.72 521.96h4v21.6h-4zM1075.75 521.96h4v21.6h-4zM1081.78 521.96h4v21.6h-4zM1087.81 521.96h4v21.6h-4zM1093.83 521.96h4v21.6h-4zM1099.86 521.96h4v21.6h-4zM1105.89 521.96h4v21.6h-4zM1111.92 521.96h4v21.6h-4zM1117.95 521.96h4v21.6h-4zM1123.97 521.96h4v21.6h-4zM1130 521.96h4v21.6h-4zM1136.03 521.96h4v21.6h-4zM1142.06 521.96h4v21.6h-4zM1148.09 521.96h4v21.6h-4zM1154.11 521.96h4v21.6h-4zM1160.14 521.96h4v21.6h-4zM1166.17 521.96h4v21.6h-4zM1172.2 521.96h4v21.6h-4zM1178.23 521.96h4v21.6h-4zM1184.25 521.96h4v21.6h-4zM1190.28 521.96h4v21.6h-4zM1196.31 521.96h4v21.6h-4zM1202.34 521.96h4v21.6h-4zM1208.37 521.96h4v21.6h-4zM1214.39 521.96h4v21.6h-4zM1220.42 521.96h4v21.6h-4zM1226.45 521.96h4v21.6h-4zM1232.48 521.96h4v21.6h-4zM1238.51 521.96h4v21.6h-4zM1244.53 521.96h4v21.6h-4zM1250.56 521.96h4v21.6h-4zM1256.59 521.96h4v21.6h-4zM1262.62 521.96h4v21.6h-4zM1268.65 521.96h4v21.6h-4zM1274.67 521.96h4v21.6h-4zM1280.7 521.96h4v21.6h-4zM1286.73 521.96h4v21.6h-4zM1292.76 521.96h4v21.6h-4zM1298.79 521.96h4v21.6h-4zM1304.81 521.96h4v21.6h-4zM1310.84 521.96h4v21.6h-4zM1316.87 521.96h4v21.6h-4zM1322.9 521.96h4v21.6h-4zM1328.93 521.96h4v21.6h-4zM1334.95 521.96h4v21.6h-4zM1340.98 521.96h4v21.6h-4zM1347.01 521.96h4v21.6h-4zM1353.04 521.96h4v21.6h-4zM1359.07 521.96h4v21.6h-4zM1365.09 521.96h4v21.6h-4zM1371.12 521.96h4v21.6h-4zM1377.15 521.96h4v21.6h-4zM1383.18 521.96h4v21.6h-4zM1389.21 521.96h4v21.6h-4zM1395.23 521.96h4v21.6h-4zM1401.26 521.96h4v21.6h-4zM143 545.6h4v21.6h-4zM149.03 545.6h4v21.6h-4zM155.06 545.6h4v21.6h-4zM161.08 545.6h4v21.6h-4zM167.11 545.6h4v21.6h-4zM173.14 545.6h4v21.6h-4zM179.17 545.6h4v21.6h-4zM185.2 545.6h4v21.6h-4zM191.22 545.6h4v21.6h-4zM197.25 545.6h4v21.6h-4zM203.28 545.6h4v21.6h-4zM209.31 545.6h4v21.6h-4zM215.34 545.6h4v21.6h-4zM221.36 545.6h4v21.6h-4zM227.39 545.6h4v21.6h-4zM233.42 545.6h4v21.6h-4zM239.45 545.6h4v21.6h-4zM245.48 545.6h4v21.6h-4zM251.5 545.6h4v21.6h-4zM257.53 545.6h4v21.6h-4zM263.56 545.6h4v21.6h-4zM269.59 545.6h4v21.6h-4zM275.62 545.6h4v21.6h-4zM281.64 545.6h4v21.6h-4zM287.67 545.6h4v21.6h-4zM293.7 545.6h4v21.6h-4zM299.73 545.6h4v21.6h-4zM305.76 545.6h4v21.6h-4zM311.78 545.6h4v21.6h-4zM317.81 545.6h4v21.6h-4zM323.84 545.6h4v21.6h-4zM329.87 545.6h4v21.6h-4zM335.9 545.6h4v21.6h-4zM341.92 545.6h4v21.6h-4zM347.95 545.6h4v21.6h-4zM353.98 545.6h4v21.6h-4zM360.01 545.6h4v21.6h-4zM366.04 545.6h4v21.6h-4zM372.06 545.6h4v21.6h-4zM378.09 545.6h4v21.6h-4zM384.12 545.6h4v21.6h-4zM390.15 545.6h4v21.6h-4zM396.18 545.6h4v21.6h-4zM402.2 545.6h4v21.6h-4zM408.23 545.6h4v21.6h-4zM414.26 545.6h4v21.6h-4zM420.29 545.6h4v21.6h-4zM426.32 545.6h4v21.6h-4zM432.34 545.6h4v21.6h-4zM438.37 545.6h4v21.6h-4zM444.4 545.6h4v21.6h-4zM450.43 545.6h4v21.6h-4zM456.46 545.6h4v21.6h-4zM462.48 545.6h4v21.6h-4zM468.51 545.6h4v21.6h-4zM474.54 545.6h4v21.6h-4zM480.57 545.6h4v21.6h-4zM486.6 545.6h4v21.6h-4zM492.62 545.6h4v21.6h-4zM498.65 545.6h4v21.6h-4zM504.68 545.6h4v21.6h-4zM510.71 545.6h4v21.6h-4zM516.74 545.6h4v21.6h-4zM522.76 545.6h4v21.6h-4zM528.79 545.6h4v21.6h-4zM534.82 545.6h4v21.6h-4zM540.85 545.6h4v21.6h-4zM546.88 545.6h4v21.6h-4zM552.9 545.6h4v21.6h-4zM558.93 545.6h4v21.6h-4zM564.96 545.6h4v21.6h-4zM570.99 545.6h4v21.6h-4zM577.02 545.6h4v21.6h-4zM583.04 545.6h4v21.6h-4zM589.07 545.6h4v21.6h-4zM595.1 545.6h4v21.6h-4zM601.13 545.6h4v21.6h-4zM607.16 545.6h4v21.6h-4zM613.18 545.6h4v21.6h-4zM619.21 545.6h4v21.6h-4zM625.24 545.6h4v21.6h-4zM631.27 545.6h4v21.6h-4zM637.3 545.6h4v21.6h-4zM643.32 545.6h4v21.6h-4zM649.35 545.6h4v21.6h-4zM655.38 545.6h4v21.6h-4zM661.41 545.6h4v21.6h-4zM667.44 545.6h4v21.6h-4zM673.46 545.6h4v21.6h-4zM679.49 545.6h4v21.6h-4zM685.52 545.6h4v21.6h-4zM691.55 545.6h4v21.6h-4zM697.58 545.6h4v21.6h-4zM703.6 545.6h4v21.6h-4zM709.63 545.6h4v21.6h-4zM715.66 545.6h4v21.6h-4zM721.69 545.6h4v21.6h-4zM727.72 545.6h4v21.6h-4zM733.74 545.6h4v21.6h-4zM739.77 545.6h4v21.6h-4zM745.8 545.6h4v21.6h-4zM751.83 545.6h4v21.6h-4zM757.86 545.6h4v21.6h-4zM763.88 545.6h4v21.6h-4zM774.35 545.6h4v21.6h-4zM780.38 545.6h4v21.6h-4zM786.41 545.6h4v21.6h-4zM792.43 545.6h4v21.6h-4zM798.46 545.6h4v21.6h-4zM804.49 545.6h4v21.6h-4zM810.52 545.6h4v21.6h-4zM816.55 545.6h4v21.6h-4zM822.57 545.6h4v21.6h-4zM828.6 545.6h4v21.6h-4zM834.63 545.6h4v21.6h-4zM840.66 545.6h4v21.6h-4zM846.69 545.6h4v21.6h-4zM852.71 545.6h4v21.6h-4zM858.74 545.6h4v21.6h-4zM864.77 545.6h4v21.6h-4zM870.8 545.6h4v21.6h-4zM876.83 545.6h4v21.6h-4zM882.85 545.6h4v21.6h-4zM888.88 545.6h4v21.6h-4zM894.91 545.6h4v21.6h-4zM900.94 545.6h4v21.6h-4zM906.97 545.6h4v21.6h-4zM912.99 545.6h4v21.6h-4zM919.02 545.6h4v21.6h-4zM925.05 545.6h4v21.6h-4zM931.08 545.6h4v21.6h-4zM937.11 545.6h4v21.6h-4zM943.13 545.6h4v21.6h-4zM949.16 545.6h4v21.6h-4zM955.19 545.6h4v21.6h-4zM961.22 545.6h4v21.6h-4zM967.25 545.6h4v21.6h-4zM973.27 545.6h4v21.6h-4zM979.3 545.6h4v21.6h-4zM985.33 545.6h4v21.6h-4zM991.36 545.6h4v21.6h-4zM997.39 545.6h4v21.6h-4zM1003.41 545.6h4v21.6h-4zM1009.44 545.6h4v21.6h-4zM1015.47 545.6h4v21.6h-4zM1021.5 545.6h4v21.6h-4zM1027.53 545.6h4v21.6h-4zM1033.55 545.6h4v21.6h-4zM1039.58 545.6h4v21.6h-4zM1045.61 545.6h4v21.6h-4zM1051.64 545.6h4v21.6h-4zM1057.67 545.6h4v21.6h-4zM1063.69 545.6h4v21.6h-4zM1069.72 545.6h4v21.6h-4zM1075.75 545.6h4v21.6h-4zM1081.78 545.6h4v21.6h-4zM1087.81 545.6h4v21.6h-4zM1093.83 545.6h4v21.6h-4zM1099.86 545.6h4v21.6h-4zM1105.89 545.6h4v21.6h-4zM1111.92 545.6h4v21.6h-4zM1117.95 545.6h4v21.6h-4zM1123.97 545.6h4v21.6h-4zM1130 545.6h4v21.6h-4zM1136.03 545.6h4v21.6h-4zM1142.06 545.6h4v21.6h-4zM1148.09 545.6h4v21.6h-4zM1154.11 545.6h4v21.6h-4zM1160.14 545.6h4v21.6h-4zM1166.17 545.6h4v21.6h-4zM1172.2 545.6h4v21.6h-4zM1178.23 545.6h4v21.6h-4zM1184.25 545.6h4v21.6h-4zM1190.28 545.6h4v21.6h-4zM1196.31 545.6h4v21.6h-4zM1202.34 545.6h4v21.6h-4zM1208.37 545.6h4v21.6h-4zM1214.39 545.6h4v21.6h-4zM1220.42 545.6h4v21.6h-4zM1226.45 545.6h4v21.6h-4zM1232.48 545.6h4v21.6h-4zM1238.51 545.6h4v21.6h-4zM1244.53 545.6h4v21.6h-4zM1250.56 545.6h4v21.6h-4zM1256.59 545.6h4v21.6h-4zM1262.62 545.6h4v21.6h-4zM1268.65 545.6h4v21.6h-4zM1274.67 545.6h4v21.6h-4zM1280.7 545.6h4v21.6h-4zM1286.73 545.6h4v21.6h-4zM1292.76 545.6h4v21.6h-4zM1298.79 545.6h4v21.6h-4zM1304.81 545.6h4v21.6h-4zM1310.84 545.6h4v21.6h-4zM1316.87 545.6h4v21.6h-4zM1322.9 545.6h4v21.6h-4zM1328.93 545.6h4v21.6h-4zM1334.95 545.6h4v21.6h-4zM1340.98 545.6h4v21.6h-4zM1347.01 545.6h4v21.6h-4zM1353.04 545.6h4v21.6h-4zM1359.07 545.6h4v21.6h-4zM1365.09 545.6h4v21.6h-4zM1371.12 545.6h4v21.6h-4zM1377.15 545.6h4v21.6h-4zM1383.18 545.6h4v21.6h-4zM1389.21 545.6h4v21.6h-4zM1395.23 545.6h4v21.6h-4zM1401.26 545.6h4v21.6h-4zM143 569.24h4v21.6h-4zM149.03 569.24h4v21.6h-4zM155.06 569.24h4v21.6h-4zM161.08 569.24h4v21.6h-4zM167.11 569.24h4v21.6h-4zM173.14 569.24h4v21.6h-4zM179.17 569.24h4v21.6h-4zM185.2 569.24h4v21.6h-4zM191.22 569.24h4v21.6h-4zM197.25 569.24h4v21.6h-4zM203.28 569.24h4v21.6h-4zM209.31 569.24h4v21.6h-4zM215.34 569.24h4v21.6h-4zM221.36 569.24h4v21.6h-4zM227.39 569.24h4v21.6h-4zM233.42 569.24h4v21.6h-4zM239.45 569.24h4v21.6h-4zM245.48 569.24h4v21.6h-4zM251.5 569.24h4v21.6h-4zM257.53 569.24h4v21.6h-4zM263.56 569.24h4v21.6h-4zM269.59 569.24h4v21.6h-4zM275.62 569.24h4v21.6h-4zM281.64 569.24h4v21.6h-4zM287.67 569.24h4v21.6h-4zM293.7 569.24h4v21.6h-4zM299.73 569.24h4v21.6h-4zM305.76 569.24h4v21.6h-4zM311.78 569.24h4v21.6h-4zM317.81 569.24h4v21.6h-4zM323.84 569.24h4v21.6h-4zM329.87 569.24h4v21.6h-4zM335.9 569.24h4v21.6h-4zM341.92 569.24h4v21.6h-4zM347.95 569.24h4v21.6h-4zM353.98 569.24h4v21.6h-4zM360.01 569.24h4v21.6h-4zM366.04 569.24h4v21.6h-4zM372.06 569.24h4v21.6h-4zM378.09 569.24h4v21.6h-4zM384.12 569.24h4v21.6h-4zM390.15 569.24h4v21.6h-4zM396.18 569.24h4v21.6h-4zM402.2 569.24h4v21.6h-4zM408.23 569.24h4v21.6h-4zM414.26 569.24h4v21.6h-4zM420.29 569.24h4v21.6h-4zM426.32 569.24h4v21.6h-4zM432.34 569.24h4v21.6h-4zM438.37 569.24h4v21.6h-4zM444.4 569.24h4v21.6h-4zM450.43 569.24h4v21.6h-4zM456.46 569.24h4v21.6h-4zM462.48 569.24h4v21.6h-4zM468.51 569.24h4v21.6h-4zM474.54 569.24h4v21.6h-4zM480.57 569.24h4v21.6h-4zM486.6 569.24h4v21.6h-4zM492.62 569.24h4v21.6h-4zM498.65 569.24h4v21.6h-4zM504.68 569.24h4v21.6h-4zM510.71 569.24h4v21.6h-4zM516.74 569.24h4v21.6h-4zM522.76 569.24h4v21.6h-4zM528.79 569.24h4v21.6h-4zM534.82 569.24h4v21.6h-4zM540.85 569.24h4v21.6h-4zM546.88 569.24h4v21.6h-4zM552.9 569.24h4v21.6h-4zM558.93 569.24h4v21.6h-4zM564.96 569.24h4v21.6h-4zM570.99 569.24h4v21.6h-4zM577.02 569.24h4v21.6h-4zM583.04 569.24h4v21.6h-4zM589.07 569.24h4v21.6h-4zM595.1 569.24h4v21.6h-4zM601.13 569.24h4v21.6h-4zM607.16 569.24h4v21.6h-4zM613.18 569.24h4v21.6h-4zM619.21 569.24h4v21.6h-4zM625.24 569.24h4v21.6h-4zM631.27 569.24h4v21.6h-4zM637.3 569.24h4v21.6h-4zM643.32 569.24h4v21.6h-4zM649.35 569.24h4v21.6h-4zM655.38 569.24h4v21.6h-4zM661.41 569.24h4v21.6h-4zM667.44 569.24h4v21.6h-4zM673.46 569.24h4v21.6h-4zM679.49 569.24h4v21.6h-4zM685.52 569.24h4v21.6h-4zM691.55 569.24h4v21.6h-4zM697.58 569.24h4v21.6h-4zM703.6 569.24h4v21.6h-4zM709.63 569.24h4v21.6h-4zM715.66 569.24h4v21.6h-4zM721.69 569.24h4v21.6h-4zM727.72 569.24h4v21.6h-4zM733.74 569.24h4v21.6h-4zM739.77 569.24h4v21.6h-4zM745.8 569.24h4v21.6h-4zM751.83 569.24h4v21.6h-4zM757.86 569.24h4v21.6h-4zM763.88 569.24h4v21.6h-4zM774.35 569.24h4v21.6h-4zM780.38 569.24h4v21.6h-4zM786.41 569.24h4v21.6h-4zM792.43 569.24h4v21.6h-4zM798.46 569.24h4v21.6h-4zM804.49 569.24h4v21.6h-4zM810.52 569.24h4v21.6h-4zM816.55 569.24h4v21.6h-4zM822.57 569.24h4v21.6h-4zM828.6 569.24h4v21.6h-4zM834.63 569.24h4v21.6h-4zM840.66 569.24h4v21.6h-4zM846.69 569.24h4v21.6h-4zM852.71 569.24h4v21.6h-4zM858.74 569.24h4v21.6h-4zM864.77 569.24h4v21.6h-4zM870.8 569.24h4v21.6h-4zM876.83 569.24h4v21.6h-4zM882.85 569.24h4v21.6h-4zM888.88 569.24h4v21.6h-4zM894.91 569.24h4v21.6h-4zM900.94 569.24h4v21.6h-4zM906.97 569.24h4v21.6h-4zM912.99 569.24h4v21.6h-4zM919.02 569.24h4v21.6h-4zM925.05 569.24h4v21.6h-4zM931.08 569.24h4v21.6h-4zM937.11 569.24h4v21.6h-4zM943.13 569.24h4v21.6h-4zM949.16 569.24h4v21.6h-4zM955.19 569.24h4v21.6h-4zM961.22 569.24h4v21.6h-4zM967.25 569.24h4v21.6h-4zM973.27 569.24h4v21.6h-4zM979.3 569.24h4v21.6h-4zM985.33 569.24h4v21.6h-4zM991.36 569.24h4v21.6h-4zM997.39 569.24h4v21.6h-4zM1003.41 569.24h4v21.6h-4zM1009.44 569.24h4v21.6h-4zM1015.47 569.24h4v21.6h-4zM1021.5 569.24h4v21.6h-4zM1027.53 569.24h4v21.6h-4zM1033.55 569.24h4v21.6h-4zM1039.58 569.24h4v21.6h-4zM1045.61 569.24h4v21.6h-4zM1051.64 569.24h4v21.6h-4zM1057.67 569.24h4v21.6h-4zM1063.69 569.24h4v21.6h-4zM1069.72 569.24h4v21.6h-4zM1075.75 569.24h4v21.6h-4zM1081.78 569.24h4v21.6h-4zM1087.81 569.24h4v21.6h-4zM1093.83 569.24h4v21.6h-4zM1099.86 569.24h4v21.6h-4zM1105.89 569.24h4v21.6h-4zM1111.92 569.24h4v21.6h-4zM1117.95 569.24h4v21.6h-4zM1123.97 569.24h4v21.6h-4zM1130 569.24h4v21.6h-4zM1136.03 569.24h4v21.6h-4zM1142.06 569.24h4v21.6h-4zM1148.09 569.24h4v21.6h-4zM1154.11 569.24h4v21.6h-4zM1160.14 569.24h4v21.6h-4zM1166.17 569.24h4v21.6h-4zM1172.2 569.24h4v21.6h-4zM1178.23 569.24h4v21.6h-4zM1184.25 569.24h4v21.6h-4zM1190.28 569.24h4v21.6h-4zM1196.31 569.24h4v21.6h-4zM1202.34 569.24h4v21.6h-4zM1208.37 569.24h4v21.6h-4zM1214.39 569.24h4v21.6h-4zM1220.42 569.24h4v21.6h-4zM1226.45 569.24h4v21.6h-4zM1232.48 569.24h4v21.6h-4zM1238.51 569.24h4v21.6h-4zM1244.53 569.24h4v21.6h-4zM1250.56 569.24h4v21.6h-4zM1256.59 569.24h4v21.6h-4zM1262.62 569.24h4v21.6h-4zM1268.65 569.24h4v21.6h-4zM1274.67 569.24h4v21.6h-4zM1280.7 569.24h4v21.6h-4zM1286.73 569.24h4v21.6h-4zM1292.76 569.24h4v21.6h-4zM1298.79 569.24h4v21.6h-4zM1304.81 569.24h4v21.6h-4zM1310.84 569.24h4v21.6h-4zM1316.87 569.24h4v21.6h-4zM1322.9 569.24h4v21.6h-4zM1328.93 569.24h4v21.6h-4zM1334.95 569.24h4v21.6h-4zM1340.98 569.24h4v21.6h-4zM1347.01 569.24h4v21.6h-4zM1353.04 569.24h4v21.6h-4zM1359.07 569.24h4v21.6h-4zM1365.09 569.24h4v21.6h-4zM1371.12 569.24h4v21.6h-4zM1377.15 569.24h4v21.6h-4zM1383.18 569.24h4v21.6h-4zM1389.21 569.24h4v21.6h-4zM1395.23 569.24h4v21.6h-4zM1401.26 569.24h4v21.6h-4zM143 592.88h4v21.6h-4zM149.03 592.88h4v21.6h-4zM155.06 592.88h4v21.6h-4zM161.08 592.88h4v21.6h-4zM167.11 592.88h4v21.6h-4zM173.14 592.88h4v21.6h-4zM179.17 592.88h4v21.6h-4zM185.2 592.88h4v21.6h-4zM191.22 592.88h4v21.6h-4zM197.25 592.88h4v21.6h-4zM203.28 592.88h4v21.6h-4zM209.31 592.88h4v21.6h-4zM215.34 592.88h4v21.6h-4zM221.36 592.88h4v21.6h-4zM227.39 592.88h4v21.6h-4zM233.42 592.88h4v21.6h-4zM239.45 592.88h4v21.6h-4zM245.48 592.88h4v21.6h-4zM251.5 592.88h4v21.6h-4zM257.53 592.88h4v21.6h-4zM263.56 592.88h4v21.6h-4zM269.59 592.88h4v21.6h-4zM275.62 592.88h4v21.6h-4zM281.64 592.88h4v21.6h-4zM287.67 592.88h4v21.6h-4zM293.7 592.88h4v21.6h-4zM299.73 592.88h4v21.6h-4zM305.76 592.88h4v21.6h-4zM311.78 592.88h4v21.6h-4zM317.81 592.88h4v21.6h-4zM323.84 592.88h4v21.6h-4zM329.87 592.88h4v21.6h-4zM335.9 592.88h4v21.6h-4zM341.92 592.88h4v21.6h-4zM347.95 592.88h4v21.6h-4zM353.98 592.88h4v21.6h-4zM360.01 592.88h4v21.6h-4zM366.04 592.88h4v21.6h-4zM372.06 592.88h4v21.6h-4zM378.09 592.88h4v21.6h-4zM384.12 592.88h4v21.6h-4zM390.15 592.88h4v21.6h-4zM396.18 592.88h4v21.6h-4zM402.2 592.88h4v21.6h-4zM408.23 592.88h4v21.6h-4zM414.26 592.88h4v21.6h-4zM420.29 592.88h4v21.6h-4zM426.32 592.88h4v21.6h-4zM432.34 592.88h4v21.6h-4zM438.37 592.88h4v21.6h-4zM444.4 592.88h4v21.6h-4zM450.43 592.88h4v21.6h-4zM456.46 592.88h4v21.6h-4zM462.48 592.88h4v21.6h-4zM468.51 592.88h4v21.6h-4zM474.54 592.88h4v21.6h-4zM480.57 592.88h4v21.6h-4zM486.6 592.88h4v21.6h-4zM492.62 592.88h4v21.6h-4zM498.65 592.88h4v21.6h-4zM504.68 592.88h4v21.6h-4zM510.71 592.88h4v21.6h-4zM516.74 592.88h4v21.6h-4zM522.76 592.88h4v21.6h-4zM528.79 592.88h4v21.6h-4zM534.82 592.88h4v21.6h-4zM540.85 592.88h4v21.6h-4zM546.88 592.88h4v21.6h-4zM552.9 592.88h4v21.6h-4zM558.93 592.88h4v21.6h-4zM564.96 592.88h4v21.6h-4zM570.99 592.88h4v21.6h-4zM577.02 592.88h4v21.6h-4zM583.04 592.88h4v21.6h-4zM589.07 592.88h4v21.6h-4zM595.1 592.88h4v21.6h-4zM601.13 592.88h4v21.6h-4zM607.16 592.88h4v21.6h-4zM613.18 592.88h4v21.6h-4zM619.21 592.88h4v21.6h-4zM625.24 592.88h4v21.6h-4zM631.27 592.88h4v21.6h-4zM637.3 592.88h4v21.6h-4zM643.32 592.88h4v21.6h-4zM649.35 592.88h4v21.6h-4zM655.38 592.88h4v21.6h-4zM661.41 592.88h4v21.6h-4zM667.44 592.88h4v21.6h-4zM673.46 592.88h4v21.6h-4zM679.49 592.88h4v21.6h-4zM685.52 592.88h4v21.6h-4zM691.55 592.88h4v21.6h-4zM697.58 592.88h4v21.6h-4zM703.6 592.88h4v21.6h-4zM709.63 592.88h4v21.6h-4zM715.66 592.88h4v21.6h-4zM721.69 592.88h4v21.6h-4zM727.72 592.88h4v21.6h-4zM733.74 592.88h4v21.6h-4zM739.77 592.88h4v21.6h-4zM745.8 592.88h4v21.6h-4zM751.83 592.88h4v21.6h-4zM757.86 592.88h4v21.6h-4zM763.88 592.88h4v21.6h-4zM774.35 592.88h4v21.6h-4zM780.38 592.88h4v21.6h-4zM786.41 592.88h4v21.6h-4zM792.43 592.88h4v21.6h-4zM798.46 592.88h4v21.6h-4zM804.49 592.88h4v21.6h-4zM810.52 592.88h4v21.6h-4zM816.55 592.88h4v21.6h-4zM822.57 592.88h4v21.6h-4zM828.6 592.88h4v21.6h-4zM834.63 592.88h4v21.6h-4zM840.66 592.88h4v21.6h-4zM846.69 592.88h4v21.6h-4zM852.71 592.88h4v21.6h-4zM858.74 592.88h4v21.6h-4zM864.77 592.88h4v21.6h-4zM870.8 592.88h4v21.6h-4zM876.83 592.88h4v21.6h-4zM882.85 592.88h4v21.6h-4zM888.88 592.88h4v21.6h-4zM894.91 592.88h4v21.6h-4zM900.94 592.88h4v21.6h-4zM906.97 592.88h4v21.6h-4zM912.99 592.88h4v21.6h-4zM919.02 592.88h4v21.6h-4zM925.05 592.88h4v21.6h-4zM931.08 592.88h4v21.6h-4zM937.11 592.88h4v21.6h-4zM943.13 592.88h4v21.6h-4zM949.16 592.88h4v21.6h-4zM955.19 592.88h4v21.6h-4zM961.22 592.88h4v21.6h-4zM967.25 592.88h4v21.6h-4zM973.27 592.88h4v21.6h-4zM979.3 592.88h4v21.6h-4zM985.33 592.88h4v21.6h-4zM991.36 592.88h4v21.6h-4zM997.39 592.88h4v21.6h-4zM1003.41 592.88h4v21.6h-4zM1009.44 592.88h4v21.6h-4zM1015.47 592.88h4v21.6h-4zM1021.5 592.88h4v21.6h-4zM1027.53 592.88h4v21.6h-4zM1033.55 592.88h4v21.6h-4zM1039.58 592.88h4v21.6h-4zM1045.61 592.88h4v21.6h-4zM1051.64 592.88h4v21.6h-4zM1057.67 592.88h4v21.6h-4zM1063.69 592.88h4v21.6h-4zM1069.72 592.88h4v21.6h-4zM1075.75 592.88h4v21.6h-4zM1081.78 592.88h4v21.6h-4zM1087.81 592.88h4v21.6h-4zM1093.83 592.88h4v21.6h-4zM1099.86 592.88h4v21.6h-4zM1105.89 592.88h4v21.6h-4zM1111.92 592.88h4v21.6h-4zM1117.95 592.88h4v21.6h-4zM1123.97 592.88h4v21.6h-4zM1130 592.88h4v21.6h-4zM1136.03 592.88h4v21.6h-4zM1142.06 592.88h4v21.6h-4zM1148.09 592.88h4v21.6h-4zM1154.11 592.88h4v21.6h-4zM1160.14 592.88h4v21.6h-4zM1166.17 592.88h4v21.6h-4zM1172.2 592.88h4v21.6h-4zM1178.23 592.88h4v21.6h-4zM1184.25 592.88h4v21.6h-4zM1190.28 592.88h4v21.6h-4zM1196.31 592.88h4v21.6h-4zM1202.34 592.88h4v21.6h-4zM1208.37 592.88h4v21.6h-4zM1214.39 592.88h4v21.6h-4zM1220.42 592.88h4v21.6h-4zM1226.45 592.88h4v21.6h-4zM1232.48 592.88h4v21.6h-4zM1238.51 592.88h4v21.6h-4zM1244.53 592.88h4v21.6h-4zM1250.56 592.88h4v21.6h-4zM1256.59 592.88h4v21.6h-4zM1262.62 592.88h4v21.6h-4zM1268.65 592.88h4v21.6h-4zM1274.67 592.88h4v21.6h-4zM1280.7 592.88h4v21.6h-4zM1286.73 592.88h4v21.6h-4zM1292.76 592.88h4v21.6h-4zM1298.79 592.88h4v21.6h-4zM1304.81 592.88h4v21.6h-4zM1310.84 592.88h4v21.6h-4zM1316.87 592.88h4v21.6h-4zM1322.9 592.88h4v21.6h-4zM1328.93 592.88h4v21.6h-4zM1334.95 592.88h4v21.6h-4zM1340.98 592.88h4v21.6h-4zM1347.01 592.88h4v21.6h-4zM1353.04 592.88h4v21.6h-4zM1359.07 592.88h4v21.6h-4zM1365.09 592.88h4v21.6h-4zM1371.12 592.88h4v21.6h-4zM1377.15 592.88h4v21.6h-4zM1383.18 592.88h4v21.6h-4zM1389.21 592.88h4v21.6h-4zM1395.23 592.88h4v21.6h-4zM1401.26 592.88h4v21.6h-4zM143 616.52h4v21.6h-4zM149.03 616.52h4v21.6h-4zM155.06 616.52h4v21.6h-4zM161.08 616.52h4v21.6h-4zM167.11 616.52h4v21.6h-4zM173.14 616.52h4v21.6h-4zM179.17 616.52h4v21.6h-4zM185.2 616.52h4v21.6h-4zM191.22 616.52h4v21.6h-4zM197.25 616.52h4v21.6h-4zM203.28 616.52h4v21.6h-4zM209.31 616.52h4v21.6h-4zM215.34 616.52h4v21.6h-4zM221.36 616.52h4v21.6h-4zM227.39 616.52h4v21.6h-4zM233.42 616.52h4v21.6h-4zM239.45 616.52h4v21.6h-4zM245.48 616.52h4v21.6h-4zM251.5 616.52h4v21.6h-4zM257.53 616.52h4v21.6h-4zM263.56 616.52h4v21.6h-4zM269.59 616.52h4v21.6h-4zM275.62 616.52h4v21.6h-4zM281.64 616.52h4v21.6h-4zM287.67 616.52h4v21.6h-4zM293.7 616.52h4v21.6h-4zM299.73 616.52h4v21.6h-4zM305.76 616.52h4v21.6h-4zM311.78 616.52h4v21.6h-4zM317.81 616.52h4v21.6h-4zM323.84 616.52h4v21.6h-4zM329.87 616.52h4v21.6h-4zM335.9 616.52h4v21.6h-4zM341.92 616.52h4v21.6h-4zM347.95 616.52h4v21.6h-4zM353.98 616.52h4v21.6h-4zM360.01 616.52h4v21.6h-4zM366.04 616.52h4v21.6h-4zM372.06 616.52h4v21.6h-4zM378.09 616.52h4v21.6h-4zM384.12 616.52h4v21.6h-4zM390.15 616.52h4v21.6h-4zM396.18 616.52h4v21.6h-4zM402.2 616.52h4v21.6h-4zM408.23 616.52h4v21.6h-4zM414.26 616.52h4v21.6h-4zM420.29 616.52h4v21.6h-4zM426.32 616.52h4v21.6h-4zM432.34 616.52h4v21.6h-4zM438.37 616.52h4v21.6h-4zM444.4 616.52h4v21.6h-4zM450.43 616.52h4v21.6h-4zM456.46 616.52h4v21.6h-4zM462.48 616.52h4v21.6h-4zM468.51 616.52h4v21.6h-4zM474.54 616.52h4v21.6h-4zM480.57 616.52h4v21.6h-4zM486.6 616.52h4v21.6h-4zM492.62 616.52h4v21.6h-4zM498.65 616.52h4v21.6h-4zM504.68 616.52h4v21.6h-4zM510.71 616.52h4v21.6h-4zM516.74 616.52h4v21.6h-4zM522.76 616.52h4v21.6h-4zM528.79 616.52h4v21.6h-4zM534.82 616.52h4v21.6h-4zM540.85 616.52h4v21.6h-4zM546.88 616.52h4v21.6h-4zM552.9 616.52h4v21.6h-4zM558.93 616.52h4v21.6h-4zM564.96 616.52h4v21.6h-4zM570.99 616.52h4v21.6h-4zM577.02 616.52h4v21.6h-4zM583.04 616.52h4v21.6h-4zM589.07 616.52h4v21.6h-4zM595.1 616.52h4v21.6h-4zM601.13 616.52h4v21.6h-4zM607.16 616.52h4v21.6h-4zM613.18 616.52h4v21.6h-4zM619.21 616.52h4v21.6h-4zM625.24 616.52h4v21.6h-4zM631.27 616.52h4v21.6h-4zM637.3 616.52h4v21.6h-4zM643.32 616.52h4v21.6h-4zM649.35 616.52h4v21.6h-4zM655.38 616.52h4v21.6h-4zM661.41 616.52h4v21.6h-4zM667.44 616.52h4v21.6h-4zM673.46 616.52h4v21.6h-4zM679.49 616.52h4v21.6h-4zM685.52 616.52h4v21.6h-4zM691.55 616.52h4v21.6h-4zM697.58 616.52h4v21.6h-4zM703.6 616.52h4v21.6h-4zM709.63 616.52h4v21.6h-4zM715.66 616.52h4v21.6h-4zM721.69 616.52h4v21.6h-4zM727.72 616.52h4v21.6h-4zM733.74 616.52h4v21.6h-4zM739.77 616.52h4v21.6h-4zM745.8 616.52h4v21.6h-4zM751.83 616.52h4v21.6h-4zM757.86 616.52h4v21.6h-4zM763.88 616.52h4v21.6h-4zM774.35 616.52h4v21.6h-4zM780.38 616.52h4v21.6h-4zM786.41 616.52h4v21.6h-4zM792.43 616.52h4v21.6h-4zM798.46 616.52h4v21.6h-4zM804.49 616.52h4v21.6h-4zM810.52 616.52h4v21.6h-4zM816.55 616.52h4v21.6h-4zM822.57 616.52h4v21.6h-4zM828.6 616.52h4v21.6h-4zM834.63 616.52h4v21.6h-4zM840.66 616.52h4v21.6h-4zM846.69 616.52h4v21.6h-4zM852.71 616.52h4v21.6h-4zM858.74 616.52h4v21.6h-4zM864.77 616.52h4v21.6h-4zM870.8 616.52h4v21.6h-4zM876.83 616.52h4v21.6h-4zM882.85 616.52h4v21.6h-4zM888.88 616.52h4v21.6h-4zM894.91 616.52h4v21.6h-4zM900.94 616.52h4v21.6h-4zM906.97 616.52h4v21.6h-4zM912.99 616.52h4v21.6h-4zM919.02 616.52h4v21.6h-4zM925.05 616.52h4v21.6h-4zM931.08 616.52h4v21.6h-4zM937.11 616.52h4v21.6h-4zM943.13 616.52h4v21.6h-4zM949.16 616.52h4v21.6h-4zM955.19 616.52h4v21.6h-4zM961.22 616.52h4v21.6h-4zM967.25 616.52h4v21.6h-4zM973.27 616.52h4v21.6h-4zM979.3 616.52h4v21.6h-4zM985.33 616.52h4v21.6h-4zM991.36 616.52h4v21.6h-4zM997.39 616.52h4v21.6h-4zM1003.41 616.52h4v21.6h-4zM1009.44 616.52h4v21.6h-4zM1015.47 616.52h4v21.6h-4zM1021.5 616.52h4v21.6h-4zM1027.53 616.52h4v21.6h-4zM1033.55 616.52h4v21.6h-4zM1039.58 616.52h4v21.6h-4zM1045.61 616.52h4v21.6h-4zM1051.64 616.52h4v21.6h-4zM1057.67 616.52h4v21.6h-4zM1063.69 616.52h4v21.6h-4zM1069.72 616.52h4v21.6h-4zM1075.75 616.52h4v21.6h-4zM1081.78 616.52h4v21.6h-4zM1087.81 616.52h4v21.6h-4zM1093.83 616.52h4v21.6h-4zM1099.86 616.52h4v21.6h-4zM1105.89 616.52h4v21.6h-4zM1111.92 616.52h4v21.6h-4zM1117.95 616.52h4v21.6h-4zM1123.97 616.52h4v21.6h-4zM1130 616.52h4v21.6h-4zM1136.03 616.52h4v21.6h-4zM1142.06 616.52h4v21.6h-4zM1148.09 616.52h4v21.6h-4zM1154.11 616.52h4v21.6h-4zM1160.14 616.52h4v21.6h-4zM1166.17 616.52h4v21.6h-4zM1172.2 616.52h4v21.6h-4zM1178.23 616.52h4v21.6h-4zM1184.25 616.52h4v21.6h-4zM1190.28 616.52h4v21.6h-4zM1196.31 616.52h4v21.6h-4zM1202.34 616.52h4v21.6h-4zM1208.37 616.52h4v21.6h-4zM1214.39 616.52h4v21.6h-4zM1220.42 616.52h4v21.6h-4zM1226.45 616.52h4v21.6h-4zM1232.48 616.52h4v21.6h-4zM1238.51 616.52h4v21.6h-4zM1244.53 616.52h4v21.6h-4zM1250.56 616.52h4v21.6h-4zM1256.59 616.52h4v21.6h-4zM1262.62 616.52h4v21.6h-4zM1268.65 616.52h4v21.6h-4zM1274.67 616.52h4v21.6h-4zM1280.7 616.52h4v21.6h-4zM1286.73 616.52h4v21.6h-4zM1292.76 616.52h4v21.6h-4zM1298.79 616.52h4v21.6h-4zM1304.81 616.52h4v21.6h-4zM1310.84 616.52h4v21.6h-4zM1316.87 616.52h4v21.6h-4zM1322.9 616.52h4v21.6h-4zM1328.93 616.52h4v21.6h-4zM1334.95 616.52h4v21.6h-4zM1340.98 616.52h4v21.6h-4zM1347.01 616.52h4v21.6h-4zM1353.04 616.52h4v21.6h-4zM1359.07 616.52h4v21.6h-4zM1365.09 616.52h4v21.6h-4zM1371.12 616.52h4v21.6h-4zM1377.15 616.52h4v21.6h-4zM1383.18 616.52h4v21.6h-4zM1389.21 616.52h4v21.6h-4zM1395.23 616.52h4v21.6h-4zM1401.26 616.52h4v21.6h-4zM143 640.16h4v21.6h-4zM149.03 640.16h4v21.6h-4zM155.06 640.16h4v21.6h-4zM161.08 640.16h4v21.6h-4zM167.11 640.16h4v21.6h-4zM173.14 640.16h4v21.6h-4zM179.17 640.16h4v21.6h-4zM185.2 640.16h4v21.6h-4zM191.22 640.16h4v21.6h-4zM197.25 640.16h4v21.6h-4zM203.28 640.16h4v21.6h-4zM209.31 640.16h4v21.6h-4zM215.34 640.16h4v21.6h-4zM221.36 640.16h4v21.6h-4zM227.39 640.16h4v21.6h-4zM233.42 640.16h4v21.6h-4zM239.45 640.16h4v21.6h-4zM245.48 640.16h4v21.6h-4zM251.5 640.16h4v21.6h-4zM257.53 640.16h4v21.6h-4zM263.56 640.16h4v21.6h-4zM269.59 640.16h4v21.6h-4zM275.62 640.16h4v21.6h-4zM281.64 640.16h4v21.6h-4zM287.67 640.16h4v21.6h-4zM293.7 640.16h4v21.6h-4zM299.73 640.16h4v21.6h-4zM305.76 640.16h4v21.6h-4zM311.78 640.16h4v21.6h-4zM317.81 640.16h4v21.6h-4zM323.84 640.16h4v21.6h-4zM329.87 640.16h4v21.6h-4zM335.9 640.16h4v21.6h-4zM341.92 640.16h4v21.6h-4zM347.95 640.16h4v21.6h-4zM353.98 640.16h4v21.6h-4zM360.01 640.16h4v21.6h-4zM366.04 640.16h4v21.6h-4zM372.06 640.16h4v21.6h-4zM378.09 640.16h4v21.6h-4zM384.12 640.16h4v21.6h-4zM390.15 640.16h4v21.6h-4zM396.18 640.16h4v21.6h-4zM402.2 640.16h4v21.6h-4zM408.23 640.16h4v21.6h-4zM414.26 640.16h4v21.6h-4zM420.29 640.16h4v21.6h-4zM426.32 640.16h4v21.6h-4zM432.34 640.16h4v21.6h-4zM438.37 640.16h4v21.6h-4zM444.4 640.16h4v21.6h-4zM450.43 640.16h4v21.6h-4zM456.46 640.16h4v21.6h-4zM462.48 640.16h4v21.6h-4zM468.51 640.16h4v21.6h-4zM474.54 640.16h4v21.6h-4zM480.57 640.16h4v21.6h-4zM486.6 640.16h4v21.6h-4zM492.62 640.16h4v21.6h-4zM498.65 640.16h4v21.6h-4zM504.68 640.16h4v21.6h-4zM510.71 640.16h4v21.6h-4zM516.74 640.16h4v21.6h-4zM522.76 640.16h4v21.6h-4zM528.79 640.16h4v21.6h-4zM534.82 640.16h4v21.6h-4zM540.85 640.16h4v21.6h-4zM546.88 640.16h4v21.6h-4zM552.9 640.16h4v21.6h-4zM558.93 640.16h4v21.6h-4zM564.96 640.16h4v21.6h-4zM570.99 640.16h4v21.6h-4zM577.02 640.16h4v21.6h-4zM583.04 640.16h4v21.6h-4zM589.07 640.16h4v21.6h-4zM595.1 640.16h4v21.6h-4zM601.13 640.16h4v21.6h-4zM607.16 640.16h4v21.6h-4zM613.18 640.16h4v21.6h-4zM619.21 640.16h4v21.6h-4zM625.24 640.16h4v21.6h-4zM631.27 640.16h4v21.6h-4zM637.3 640.16h4v21.6h-4zM643.32 640.16h4v21.6h-4zM649.35 640.16h4v21.6h-4zM655.38 640.16h4v21.6h-4zM661.41 640.16h4v21.6h-4zM667.44 640.16h4v21.6h-4zM673.46 640.16h4v21.6h-4zM679.49 640.16h4v21.6h-4zM685.52 640.16h4v21.6h-4zM691.55 640.16h4v21.6h-4zM697.58 640.16h4v21.6h-4zM703.6 640.16h4v21.6h-4zM709.63 640.16h4v21.6h-4zM715.66 640.16h4v21.6h-4zM721.69 640.16h4v21.6h-4zM727.72 640.16h4v21.6h-4zM733.74 640.16h4v21.6h-4zM739.77 640.16h4v21.6h-4zM745.8 640.16h4v21.6h-4zM751.83 640.16h4v21.6h-4zM757.86 640.16h4v21.6h-4zM763.88 640.16h4v21.6h-4zM774.35 640.16h4v21.6h-4zM780.38 640.16h4v21.6h-4zM786.41 640.16h4v21.6h-4zM792.43 640.16h4v21.6h-4zM798.46 640.16h4v21.6h-4zM804.49 640.16h4v21.6h-4zM810.52 640.16h4v21.6h-4zM816.55 640.16h4v21.6h-4zM822.57 640.16h4v21.6h-4zM828.6 640.16h4v21.6h-4zM834.63 640.16h4v21.6h-4zM840.66 640.16h4v21.6h-4zM846.69 640.16h4v21.6h-4zM852.71 640.16h4v21.6h-4zM858.74 640.16h4v21.6h-4zM864.77 640.16h4v21.6h-4zM870.8 640.16h4v21.6h-4zM876.83 640.16h4v21.6h-4zM882.85 640.16h4v21.6h-4zM888.88 640.16h4v21.6h-4zM894.91 640.16h4v21.6h-4zM900.94 640.16h4v21.6h-4zM906.97 640.16h4v21.6h-4zM912.99 640.16h4v21.6h-4zM919.02 640.16h4v21.6h-4zM925.05 640.16h4v21.6h-4zM931.08 640.16h4v21.6h-4zM937.11 640.16h4v21.6h-4zM943.13 640.16h4v21.6h-4zM949.16 640.16h4v21.6h-4zM955.19 640.16h4v21.6h-4zM961.22 640.16h4v21.6h-4zM967.25 640.16h4v21.6h-4zM973.27 640.16h4v21.6h-4zM979.3 640.16h4v21.6h-4zM985.33 640.16h4v21.6h-4zM991.36 640.16h4v21.6h-4zM997.39 640.16h4v21.6h-4zM1003.41 640.16h4v21.6h-4zM1009.44 640.16h4v21.6h-4zM1015.47 640.16h4v21.6h-4zM1021.5 640.16h4v21.6h-4zM1027.53 640.16h4v21.6h-4zM1033.55 640.16h4v21.6h-4zM1039.58 640.16h4v21.6h-4zM1045.61 640.16h4v21.6h-4zM1051.64 640.16h4v21.6h-4zM1057.67 640.16h4v21.6h-4zM1063.69 640.16h4v21.6h-4zM1069.72 640.16h4v21.6h-4zM1075.75 640.16h4v21.6h-4zM1081.78 640.16h4v21.6h-4zM1087.81 640.16h4v21.6h-4zM1093.83 640.16h4v21.6h-4zM1099.86 640.16h4v21.6h-4zM1105.89 640.16h4v21.6h-4zM1111.92 640.16h4v21.6h-4zM1117.95 640.16h4v21.6h-4zM1123.97 640.16h4v21.6h-4zM1130 640.16h4v21.6h-4zM1136.03 640.16h4v21.6h-4zM1142.06 640.16h4v21.6h-4zM1148.09 640.16h4v21.6h-4zM1154.11 640.16h4v21.6h-4zM1160.14 640.16h4v21.6h-4zM1166.17 640.16h4v21.6h-4zM1172.2 640.16h4v21.6h-4zM1178.23 640.16h4v21.6h-4zM1184.25 640.16h4v21.6h-4zM1190.28 640.16h4v21.6h-4zM1196.31 640.16h4v21.6h-4zM1202.34 640.16h4v21.6h-4zM1208.37 640.16h4v21.6h-4zM1214.39 640.16h4v21.6h-4zM1220.42 640.16h4v21.6h-4zM1226.45 640.16h4v21.6h-4zM1232.48 640.16h4v21.6h-4zM1238.51 640.16h4v21.6h-4zM1244.53 640.16h4v21.6h-4zM1250.56 640.16h4v21.6h-4zM1256.59 640.16h4v21.6h-4zM1262.62 640.16h4v21.6h-4zM1268.65 640.16h4v21.6h-4zM1274.67 640.16h4v21.6h-4zM1280.7 640.16h4v21.6h-4zM1286.73 640.16h4v21.6h-4zM1292.76 640.16h4v21.6h-4zM1298.79 640.16h4v21.6h-4zM1304.81 640.16h4v21.6h-4zM1310.84 640.16h4v21.6h-4zM1316.87 640.16h4v21.6h-4zM1322.9 640.16h4v21.6h-4zM1328.93 640.16h4v21.6h-4zM1334.95 640.16h4v21.6h-4zM1340.98 640.16h4v21.6h-4zM1347.01 640.16h4v21.6h-4zM1353.04 640.16h4v21.6h-4zM1359.07 640.16h4v21.6h-4zM1365.09 640.16h4v21.6h-4zM1371.12 640.16h4v21.6h-4zM1377.15 640.16h4v21.6h-4zM1383.18 640.16h4v21.6h-4zM1389.21 640.16h4v21.6h-4zM1395.23 640.16h4v21.6h-4zM1401.26 640.16h4v21.6h-4zM143 663.8h4v21.6h-4zM149.03 663.8h4v21.6h-4zM155.06 663.8h4v21.6h-4zM161.08 663.8h4v21.6h-4zM167.11 663.8h4v21.6h-4zM173.14 663.8h4v21.6h-4zM179.17 663.8h4v21.6h-4zM185.2 663.8h4v21.6h-4zM191.22 663.8h4v21.6h-4zM197.25 663.8h4v21.6h-4zM203.28 663.8h4v21.6h-4zM209.31 663.8h4v21.6h-4zM215.34 663.8h4v21.6h-4zM221.36 663.8h4v21.6h-4zM227.39 663.8h4v21.6h-4zM233.42 663.8h4v21.6h-4zM239.45 663.8h4v21.6h-4zM245.48 663.8h4v21.6h-4zM251.5 663.8h4v21.6h-4zM257.53 663.8h4v21.6h-4zM263.56 663.8h4v21.6h-4zM269.59 663.8h4v21.6h-4zM275.62 663.8h4v21.6h-4zM281.64 663.8h4v21.6h-4zM287.67 663.8h4v21.6h-4zM293.7 663.8h4v21.6h-4zM299.73 663.8h4v21.6h-4zM305.76 663.8h4v21.6h-4zM311.78 663.8h4v21.6h-4zM317.81 663.8h4v21.6h-4zM323.84 663.8h4v21.6h-4zM329.87 663.8h4v21.6h-4zM335.9 663.8h4v21.6h-4zM341.92 663.8h4v21.6h-4zM347.95 663.8h4v21.6h-4zM353.98 663.8h4v21.6h-4zM360.01 663.8h4v21.6h-4zM366.04 663.8h4v21.6h-4zM372.06 663.8h4v21.6h-4zM378.09 663.8h4v21.6h-4zM384.12 663.8h4v21.6h-4zM390.15 663.8h4v21.6h-4zM396.18 663.8h4v21.6h-4zM402.2 663.8h4v21.6h-4zM408.23 663.8h4v21.6h-4zM414.26 663.8h4v21.6h-4zM420.29 663.8h4v21.6h-4zM426.32 663.8h4v21.6h-4zM432.34 663.8h4v21.6h-4zM438.37 663.8h4v21.6h-4zM444.4 663.8h4v21.6h-4zM450.43 663.8h4v21.6h-4zM456.46 663.8h4v21.6h-4zM462.48 663.8h4v21.6h-4zM468.51 663.8h4v21.6h-4zM474.54 663.8h4v21.6h-4zM480.57 663.8h4v21.6h-4zM486.6 663.8h4v21.6h-4zM492.62 663.8h4v21.6h-4zM498.65 663.8h4v21.6h-4zM504.68 663.8h4v21.6h-4zM510.71 663.8h4v21.6h-4zM516.74 663.8h4v21.6h-4zM522.76 663.8h4v21.6h-4zM528.79 663.8h4v21.6h-4zM534.82 663.8h4v21.6h-4zM540.85 663.8h4v21.6h-4zM546.88 663.8h4v21.6h-4zM552.9 663.8h4v21.6h-4zM558.93 663.8h4v21.6h-4zM564.96 663.8h4v21.6h-4zM570.99 663.8h4v21.6h-4zM577.02 663.8h4v21.6h-4zM583.04 663.8h4v21.6h-4zM589.07 663.8h4v21.6h-4zM595.1 663.8h4v21.6h-4zM601.13 663.8h4v21.6h-4zM607.16 663.8h4v21.6h-4zM613.18 663.8h4v21.6h-4zM619.21 663.8h4v21.6h-4zM625.24 663.8h4v21.6h-4zM631.27 663.8h4v21.6h-4zM637.3 663.8h4v21.6h-4zM643.32 663.8h4v21.6h-4zM649.35 663.8h4v21.6h-4zM655.38 663.8h4v21.6h-4zM661.41 663.8h4v21.6h-4zM667.44 663.8h4v21.6h-4zM673.46 663.8h4v21.6h-4zM679.49 663.8h4v21.6h-4zM685.52 663.8h4v21.6h-4zM691.55 663.8h4v21.6h-4zM697.58 663.8h4v21.6h-4zM703.6 663.8h4v21.6h-4zM709.63 663.8h4v21.6h-4zM715.66 663.8h4v21.6h-4zM721.69 663.8h4v21.6h-4zM727.72 663.8h4v21.6h-4zM733.74 663.8h4v21.6h-4zM739.77 663.8h4v21.6h-4zM745.8 663.8h4v21.6h-4zM751.83 663.8h4v21.6h-4zM757.86 663.8h4v21.6h-4zM763.88 663.8h4v21.6h-4zM774.35 663.8h4v21.6h-4zM780.38 663.8h4v21.6h-4zM786.41 663.8h4v21.6h-4zM792.43 663.8h4v21.6h-4zM798.46 663.8h4v21.6h-4zM804.49 663.8h4v21.6h-4zM810.52 663.8h4v21.6h-4zM816.55 663.8h4v21.6h-4zM822.57 663.8h4v21.6h-4zM828.6 663.8h4v21.6h-4zM834.63 663.8h4v21.6h-4zM840.66 663.8h4v21.6h-4zM846.69 663.8h4v21.6h-4zM852.71 663.8h4v21.6h-4zM858.74 663.8h4v21.6h-4zM864.77 663.8h4v21.6h-4zM870.8 663.8h4v21.6h-4zM876.83 663.8h4v21.6h-4zM882.85 663.8h4v21.6h-4zM888.88 663.8h4v21.6h-4zM894.91 663.8h4v21.6h-4zM900.94 663.8h4v21.6h-4zM906.97 663.8h4v21.6h-4zM912.99 663.8h4v21.6h-4zM919.02 663.8h4v21.6h-4zM925.05 663.8h4v21.6h-4zM931.08 663.8h4v21.6h-4zM937.11 663.8h4v21.6h-4zM943.13 663.8h4v21.6h-4zM949.16 663.8h4v21.6h-4zM955.19 663.8h4v21.6h-4zM961.22 663.8h4v21.6h-4zM967.25 663.8h4v21.6h-4zM973.27 663.8h4v21.6h-4zM979.3 663.8h4v21.6h-4zM985.33 663.8h4v21.6h-4zM991.36 663.8h4v21.6h-4zM997.39 663.8h4v21.6h-4zM1003.41 663.8h4v21.6h-4zM1009.44 663.8h4v21.6h-4zM1015.47 663.8h4v21.6h-4zM1021.5 663.8h4v21.6h-4zM1027.53 663.8h4v21.6h-4zM1033.55 663.8h4v21.6h-4zM1039.58 663.8h4v21.6h-4zM1045.61 663.8h4v21.6h-4zM1051.64 663.8h4v21.6h-4zM1057.67 663.8h4v21.6h-4zM1063.69 663.8h4v21.6h-4zM1069.72 663.8h4v21.6h-4zM1075.75 663.8h4v21.6h-4zM1081.78 663.8h4v21.6h-4zM1087.81 663.8h4v21.6h-4zM1093.83 663.8h4v21.6h-4zM1099.86 663.8h4v21.6h-4zM1105.89 663.8h4v21.6h-4zM1111.92 663.8h4v21.6h-4zM1117.95 663.8h4v21.6h-4zM1123.97 663.8h4v21.6h-4zM1130 663.8h4v21.6h-4zM1136.03 663.8h4v21.6h-4zM1142.06 663.8h4v21.6h-4zM1148.09 663.8h4v21.6h-4zM1154.11 663.8h4v21.6h-4zM1160.14 663.8h4v21.6h-4zM1166.17 663.8h4v21.6h-4zM1172.2 663.8h4v21.6h-4zM1178.23 663.8h4v21.6h-4zM1184.25 663.8h4v21.6h-4zM1190.28 663.8h4v21.6h-4zM1196.31 663.8h4v21.6h-4zM1202.34 663.8h4v21.6h-4zM1208.37 663.8h4v21.6h-4zM1214.39 663.8h4v21.6h-4zM1220.42 663.8h4v21.6h-4zM1226.45 663.8h4v21.6h-4zM1232.48 663.8h4v21.6h-4zM1238.51 663.8h4v21.6h-4zM1244.53 663.8h4v21.6h-4zM1250.56 663.8h4v21.6h-4zM1256.59 663.8h4v21.6h-4zM1262.62 663.8h4v21.6h-4zM1268.65 663.8h4v21.6h-4zM1274.67 663.8h4v21.6h-4zM1280.7 663.8h4v21.6h-4zM1286.73 663.8h4v21.6h-4zM1292.76 663.8h4v21.6h-4zM1298.79 663.8h4v21.6h-4zM1304.81 663.8h4v21.6h-4zM1310.84 663.8h4v21.6h-4zM1316.87 663.8h4v21.6h-4zM1322.9 663.8h4v21.6h-4zM1328.93 663.8h4v21.6h-4zM1334.95 663.8h4v21.6h-4zM1340.98 663.8h4v21.6h-4zM1347.01 663.8h4v21.6h-4zM1353.04 663.8h4v21.6h-4zM1359.07 663.8h4v21.6h-4zM1365.09 663.8h4v21.6h-4zM1371.12 663.8h4v21.6h-4zM1377.15 663.8h4v21.6h-4zM1383.18 663.8h4v21.6h-4zM1389.21 663.8h4v21.6h-4zM1395.23 663.8h4v21.6h-4zM1401.26 663.8h4v21.6h-4zM143 687.44h4v21.6h-4zM149.03 687.44h4v21.6h-4zM155.06 687.44h4v21.6h-4zM161.08 687.44h4v21.6h-4zM167.11 687.44h4v21.6h-4zM173.14 687.44h4v21.6h-4zM179.17 687.44h4v21.6h-4zM185.2 687.44h4v21.6h-4zM191.22 687.44h4v21.6h-4zM197.25 687.44h4v21.6h-4zM203.28 687.44h4v21.6h-4zM209.31 687.44h4v21.6h-4zM215.34 687.44h4v21.6h-4zM221.36 687.44h4v21.6h-4zM227.39 687.44h4v21.6h-4zM233.42 687.44h4v21.6h-4zM239.45 687.44h4v21.6h-4zM245.48 687.44h4v21.6h-4zM251.5 687.44h4v21.6h-4zM257.53 687.44h4v21.6h-4zM263.56 687.44h4v21.6h-4zM269.59 687.44h4v21.6h-4zM275.62 687.44h4v21.6h-4zM281.64 687.44h4v21.6h-4zM287.67 687.44h4v21.6h-4zM293.7 687.44h4v21.6h-4zM299.73 687.44h4v21.6h-4zM305.76 687.44h4v21.6h-4zM311.78 687.44h4v21.6h-4zM317.81 687.44h4v21.6h-4zM323.84 687.44h4v21.6h-4zM329.87 687.44h4v21.6h-4zM335.9 687.44h4v21.6h-4zM341.92 687.44h4v21.6h-4zM347.95 687.44h4v21.6h-4zM353.98 687.44h4v21.6h-4zM360.01 687.44h4v21.6h-4zM366.04 687.44h4v21.6h-4zM372.06 687.44h4v21.6h-4zM378.09 687.44h4v21.6h-4zM384.12 687.44h4v21.6h-4zM390.15 687.44h4v21.6h-4zM396.18 687.44h4v21.6h-4zM402.2 687.44h4v21.6h-4zM408.23 687.44h4v21.6h-4zM414.26 687.44h4v21.6h-4zM420.29 687.44h4v21.6h-4zM426.32 687.44h4v21.6h-4zM432.34 687.44h4v21.6h-4zM438.37 687.44h4v21.6h-4zM444.4 687.44h4v21.6h-4zM450.43 687.44h4v21.6h-4zM456.46 687.44h4v21.6h-4zM462.48 687.44h4v21.6h-4zM468.51 687.44h4v21.6h-4zM474.54 687.44h4v21.6h-4zM480.57 687.44h4v21.6h-4zM486.6 687.44h4v21.6h-4zM492.62 687.44h4v21.6h-4zM498.65 687.44h4v21.6h-4zM504.68 687.44h4v21.6h-4zM510.71 687.44h4v21.6h-4zM516.74 687.44h4v21.6h-4zM522.76 687.44h4v21.6h-4zM528.79 687.44h4v21.6h-4zM534.82 687.44h4v21.6h-4zM540.85 687.44h4v21.6h-4zM546.88 687.44h4v21.6h-4zM552.9 687.44h4v21.6h-4zM558.93 687.44h4v21.6h-4zM564.96 687.44h4v21.6h-4zM570.99 687.44h4v21.6h-4zM577.02 687.44h4v21.6h-4zM583.04 687.44h4v21.6h-4zM589.07 687.44h4v21.6h-4zM595.1 687.44h4v21.6h-4zM601.13 687.44h4v21.6h-4zM607.16 687.44h4v21.6h-4zM613.18 687.44h4v21.6h-4zM619.21 687.44h4v21.6h-4zM625.24 687.44h4v21.6h-4zM631.27 687.44h4v21.6h-4zM637.3 687.44h4v21.6h-4zM643.32 687.44h4v21.6h-4zM649.35 687.44h4v21.6h-4zM655.38 687.44h4v21.6h-4zM661.41 687.44h4v21.6h-4zM667.44 687.44h4v21.6h-4zM673.46 687.44h4v21.6h-4zM679.49 687.44h4v21.6h-4zM685.52 687.44h4v21.6h-4zM691.55 687.44h4v21.6h-4zM697.58 687.44h4v21.6h-4zM703.6 687.44h4v21.6h-4zM709.63 687.44h4v21.6h-4zM715.66 687.44h4v21.6h-4zM721.69 687.44h4v21.6h-4zM727.72 687.44h4v21.6h-4zM733.74 687.44h4v21.6h-4zM739.77 687.44h4v21.6h-4zM745.8 687.44h4v21.6h-4zM751.83 687.44h4v21.6h-4zM757.86 687.44h4v21.6h-4zM763.88 687.44h4v21.6h-4zM774.35 687.44h4v21.6h-4zM780.38 687.44h4v21.6h-4zM786.41 687.44h4v21.6h-4zM792.43 687.44h4v21.6h-4zM798.46 687.44h4v21.6h-4zM804.49 687.44h4v21.6h-4zM810.52 687.44h4v21.6h-4zM816.55 687.44h4v21.6h-4zM822.57 687.44h4v21.6h-4zM828.6 687.44h4v21.6h-4zM834.63 687.44h4v21.6h-4zM840.66 687.44h4v21.6h-4zM846.69 687.44h4v21.6h-4zM852.71 687.44h4v21.6h-4zM858.74 687.44h4v21.6h-4zM864.77 687.44h4v21.6h-4zM870.8 687.44h4v21.6h-4zM876.83 687.44h4v21.6h-4zM882.85 687.44h4v21.6h-4zM888.88 687.44h4v21.6h-4zM894.91 687.44h4v21.6h-4zM900.94 687.44h4v21.6h-4zM906.97 687.44h4v21.6h-4zM912.99 687.44h4v21.6h-4zM919.02 687.44h4v21.6h-4zM925.05 687.44h4v21.6h-4zM931.08 687.44h4v21.6h-4zM937.11 687.44h4v21.6h-4zM943.13 687.44h4v21.6h-4zM949.16 687.44h4v21.6h-4zM955.19 687.44h4v21.6h-4zM961.22 687.44h4v21.6h-4zM967.25 687.44h4v21.6h-4zM973.27 687.44h4v21.6h-4zM979.3 687.44h4v21.6h-4zM985.33 687.44h4v21.6h-4zM991.36 687.44h4v21.6h-4zM997.39 687.44h4v21.6h-4zM1003.41 687.44h4v21.6h-4zM1009.44 687.44h4v21.6h-4zM1015.47 687.44h4v21.6h-4zM1021.5 687.44h4v21.6h-4zM1027.53 687.44h4v21.6h-4zM1033.55 687.44h4v21.6h-4zM1039.58 687.44h4v21.6h-4zM1045.61 687.44h4v21.6h-4zM1051.64 687.44h4v21.6h-4zM1057.67 687.44h4v21.6h-4zM1063.69 687.44h4v21.6h-4zM1069.72 687.44h4v21.6h-4zM1075.75 687.44h4v21.6h-4zM1081.78 687.44h4v21.6h-4zM1087.81 687.44h4v21.6h-4zM1093.83 687.44h4v21.6h-4zM1099.86 687.44h4v21.6h-4zM1105.89 687.44h4v21.6h-4zM1111.92 687.44h4v21.6h-4zM1117.95 687.44h4v21.6h-4zM1123.97 687.44h4v21.6h-4zM1130 687.44h4v21.6h-4zM1136.03 687.44h4v21.6h-4zM1142.06 687.44h4v21.6h-4zM1148.09 687.44h4v21.6h-4zM1154.11 687.44h4v21.6h-4zM1160.14 687.44h4v21.6h-4zM1166.17 687.44h4v21.6h-4zM1172.2 687.44h4v21.6h-4zM1178.23 687.44h4v21.6h-4zM1184.25 687.44h4v21.6h-4zM1190.28 687.44h4v21.6h-4zM1196.31 687.44h4v21.6h-4zM1202.34 687.44h4v21.6h-4zM1208.37 687.44h4v21.6h-4zM1214.39 687.44h4v21.6h-4zM1220.42 687.44h4v21.6h-4zM1226.45 687.44h4v21.6h-4zM1232.48 687.44h4v21.6h-4zM1238.51 687.44h4v21.6h-4zM1244.53 687.44h4v21.6h-4zM1250.56 687.44h4v21.6h-4zM1256.59 687.44h4v21.6h-4zM1262.62 687.44h4v21.6h-4zM1268.65 687.44h4v21.6h-4zM1274.67 687.44h4v21.6h-4zM1280.7 687.44h4v21.6h-4zM1286.73 687.44h4v21.6h-4zM1292.76 687.44h4v21.6h-4zM1298.79 687.44h4v21.6h-4zM1304.81 687.44h4v21.6h-4zM1310.84 687.44h4v21.6h-4zM1316.87 687.44h4v21.6h-4zM1322.9 687.44h4v21.6h-4zM1328.93 687.44h4v21.6h-4zM1334.95 687.44h4v21.6h-4zM1340.98 687.44h4v21.6h-4zM1347.01 687.44h4v21.6h-4zM1353.04 687.44h4v21.6h-4zM1359.07 687.44h4v21.6h-4zM1365.09 687.44h4v21.6h-4zM1371.12 687.44h4v21.6h-4zM1377.15 687.44h4v21.6h-4zM1383.18 687.44h4v21.6h-4zM1389.21 687.44h4v21.6h-4zM1395.23 687.44h4v21.6h-4zM1401.26 687.44h4v21.6h-4zM143 711.08h4v21.6h-4zM149.03 711.08h4v21.6h-4zM155.06 711.08h4v21.6h-4zM161.08 711.08h4v21.6h-4zM167.11 711.08h4v21.6h-4zM173.14 711.08h4v21.6h-4zM179.17 711.08h4v21.6h-4zM185.2 711.08h4v21.6h-4zM191.22 711.08h4v21.6h-4zM197.25 711.08h4v21.6h-4zM203.28 711.08h4v21.6h-4zM209.31 711.08h4v21.6h-4zM215.34 711.08h4v21.6h-4zM221.36 711.08h4v21.6h-4zM227.39 711.08h4v21.6h-4zM233.42 711.08h4v21.6h-4zM239.45 711.08h4v21.6h-4zM245.48 711.08h4v21.6h-4zM251.5 711.08h4v21.6h-4zM257.53 711.08h4v21.6h-4zM263.56 711.08h4v21.6h-4zM269.59 711.08h4v21.6h-4zM275.62 711.08h4v21.6h-4zM281.64 711.08h4v21.6h-4zM287.67 711.08h4v21.6h-4zM293.7 711.08h4v21.6h-4zM299.73 711.08h4v21.6h-4zM305.76 711.08h4v21.6h-4zM311.78 711.08h4v21.6h-4zM317.81 711.08h4v21.6h-4zM323.84 711.08h4v21.6h-4zM329.87 711.08h4v21.6h-4zM335.9 711.08h4v21.6h-4zM341.92 711.08h4v21.6h-4zM347.95 711.08h4v21.6h-4zM353.98 711.08h4v21.6h-4zM360.01 711.08h4v21.6h-4zM366.04 711.08h4v21.6h-4zM372.06 711.08h4v21.6h-4zM378.09 711.08h4v21.6h-4zM384.12 711.08h4v21.6h-4zM390.15 711.08h4v21.6h-4zM396.18 711.08h4v21.6h-4zM402.2 711.08h4v21.6h-4zM408.23 711.08h4v21.6h-4zM414.26 711.08h4v21.6h-4zM420.29 711.08h4v21.6h-4zM426.32 711.08h4v21.6h-4zM432.34 711.08h4v21.6h-4zM438.37 711.08h4v21.6h-4zM444.4 711.08h4v21.6h-4zM450.43 711.08h4v21.6h-4zM456.46 711.08h4v21.6h-4zM462.48 711.08h4v21.6h-4zM468.51 711.08h4v21.6h-4zM474.54 711.08h4v21.6h-4zM480.57 711.08h4v21.6h-4zM486.6 711.08h4v21.6h-4zM492.62 711.08h4v21.6h-4zM498.65 711.08h4v21.6h-4zM504.68 711.08h4v21.6h-4zM510.71 711.08h4v21.6h-4zM516.74 711.08h4v21.6h-4zM522.76 711.08h4v21.6h-4zM528.79 711.08h4v21.6h-4zM534.82 711.08h4v21.6h-4zM540.85 711.08h4v21.6h-4zM546.88 711.08h4v21.6h-4zM552.9 711.08h4v21.6h-4zM558.93 711.08h4v21.6h-4zM564.96 711.08h4v21.6h-4zM570.99 711.08h4v21.6h-4zM577.02 711.08h4v21.6h-4zM583.04 711.08h4v21.6h-4zM589.07 711.08h4v21.6h-4zM595.1 711.08h4v21.6h-4zM601.13 711.08h4v21.6h-4zM607.16 711.08h4v21.6h-4zM613.18 711.08h4v21.6h-4zM619.21 711.08h4v21.6h-4zM625.24 711.08h4v21.6h-4zM631.27 711.08h4v21.6h-4zM637.3 711.08h4v21.6h-4zM643.32 711.08h4v21.6h-4zM649.35 711.08h4v21.6h-4zM655.38 711.08h4v21.6h-4zM661.41 711.08h4v21.6h-4zM667.44 711.08h4v21.6h-4zM673.46 711.08h4v21.6h-4zM679.49 711.08h4v21.6h-4zM685.52 711.08h4v21.6h-4zM691.55 711.08h4v21.6h-4zM697.58 711.08h4v21.6h-4zM703.6 711.08h4v21.6h-4zM709.63 711.08h4v21.6h-4zM715.66 711.08h4v21.6h-4zM721.69 711.08h4v21.6h-4zM727.72 711.08h4v21.6h-4zM733.74 711.08h4v21.6h-4zM739.77 711.08h4v21.6h-4zM745.8 711.08h4v21.6h-4zM751.83 711.08h4v21.6h-4zM757.86 711.08h4v21.6h-4zM763.88 711.08h4v21.6h-4zM774.35 711.08h4v21.6h-4zM780.38 711.08h4v21.6h-4zM786.41 711.08h4v21.6h-4zM792.43 711.08h4v21.6h-4zM798.46 711.08h4v21.6h-4zM804.49 711.08h4v21.6h-4zM810.52 711.08h4v21.6h-4zM816.55 711.08h4v21.6h-4zM822.57 711.08h4v21.6h-4zM828.6 711.08h4v21.6h-4zM834.63 711.08h4v21.6h-4zM840.66 711.08h4v21.6h-4zM846.69 711.08h4v21.6h-4zM852.71 711.08h4v21.6h-4zM858.74 711.08h4v21.6h-4zM864.77 711.08h4v21.6h-4zM870.8 711.08h4v21.6h-4zM876.83 711.08h4v21.6h-4zM882.85 711.08h4v21.6h-4zM888.88 711.08h4v21.6h-4zM894.91 711.08h4v21.6h-4zM900.94 711.08h4v21.6h-4zM906.97 711.08h4v21.6h-4zM912.99 711.08h4v21.6h-4zM919.02 711.08h4v21.6h-4zM925.05 711.08h4v21.6h-4zM931.08 711.08h4v21.6h-4zM937.11 711.08h4v21.6h-4zM943.13 711.08h4v21.6h-4zM949.16 711.08h4v21.6h-4zM955.19 711.08h4v21.6h-4zM961.22 711.08h4v21.6h-4zM967.25 711.08h4v21.6h-4zM973.27 711.08h4v21.6h-4zM979.3 711.08h4v21.6h-4zM985.33 711.08h4v21.6h-4zM991.36 711.08h4v21.6h-4zM997.39 711.08h4v21.6h-4zM1003.41 711.08h4v21.6h-4zM1009.44 711.08h4v21.6h-4zM1015.47 711.08h4v21.6h-4zM1021.5 711.08h4v21.6h-4zM1027.53 711.08h4v21.6h-4zM1033.55 711.08h4v21.6h-4zM1039.58 711.08h4v21.6h-4zM1045.61 711.08h4v21.6h-4zM1051.64 711.08h4v21.6h-4zM1057.67 711.08h4v21.6h-4zM1063.69 711.08h4v21.6h-4zM1069.72 711.08h4v21.6h-4zM1075.75 711.08h4v21.6h-4zM1081.78 711.08h4v21.6h-4zM1087.81 711.08h4v21.6h-4zM1093.83 711.08h4v21.6h-4zM1099.86 711.08h4v21.6h-4zM1105.89 711.08h4v21.6h-4zM1111.92 711.08h4v21.6h-4zM1117.95 711.08h4v21.6h-4zM1123.97 711.08h4v21.6h-4zM1130 711.08h4v21.6h-4zM1136.03 711.08h4v21.6h-4zM1142.06 711.08h4v21.6h-4zM1148.09 711.08h4v21.6h-4zM1154.11 711.08h4v21.6h-4zM1160.14 711.08h4v21.6h-4zM1166.17 711.08h4v21.6h-4zM1172.2 711.08h4v21.6h-4zM1178.23 711.08h4v21.6h-4zM1184.25 711.08h4v21.6h-4zM1190.28 711.08h4v21.6h-4zM1196.31 711.08h4v21.6h-4zM1202.34 711.08h4v21.6h-4zM1208.37 711.08h4v21.6h-4zM1214.39 711.08h4v21.6h-4zM1220.42 711.08h4v21.6h-4zM1226.45 711.08h4v21.6h-4zM1232.48 711.08h4v21.6h-4zM1238.51 711.08h4v21.6h-4zM1244.53 711.08h4v21.6h-4zM1250.56 711.08h4v21.6h-4zM1256.59 711.08h4v21.6h-4zM1262.62 711.08h4v21.6h-4zM1268.65 711.08h4v21.6h-4zM1274.67 711.08h4v21.6h-4zM1280.7 711.08h4v21.6h-4zM1286.73 711.08h4v21.6h-4zM1292.76 711.08h4v21.6h-4zM1298.79 711.08h4v21.6h-4zM1304.81 711.08h4v21.6h-4zM1310.84 711.08h4v21.6h-4zM1316.87 711.08h4v21.6h-4zM1322.9 711.08h4v21.6h-4zM1328.93 711.08h4v21.6h-4zM1334.95 711.08h4v21.6h-4zM1340.98 711.08h4v21.6h-4zM1347.01 711.08h4v21.6h-4zM1353.04 711.08h4v21.6h-4zM1359.07 711.08h4v21.6h-4zM1365.09 711.08h4v21.6h-4zM1371.12 711.08h4v21.6h-4zM1377.15 711.08h4v21.6h-4zM1383.18 711.08h4v21.6h-4zM1389.21 711.08h4v21.6h-4zM1395.23 711.08h4v21.6h-4zM1401.26 711.08h4v21.6h-4zM143 734.72h4v21.6h-4zM149.03 734.72h4v21.6h-4zM155.06 734.72h4v21.6h-4zM161.08 734.72h4v21.6h-4zM167.11 734.72h4v21.6h-4zM173.14 734.72h4v21.6h-4zM179.17 734.72h4v21.6h-4zM185.2 734.72h4v21.6h-4zM191.22 734.72h4v21.6h-4zM197.25 734.72h4v21.6h-4zM203.28 734.72h4v21.6h-4zM209.31 734.72h4v21.6h-4zM215.34 734.72h4v21.6h-4zM221.36 734.72h4v21.6h-4zM227.39 734.72h4v21.6h-4zM233.42 734.72h4v21.6h-4zM239.45 734.72h4v21.6h-4zM245.48 734.72h4v21.6h-4zM251.5 734.72h4v21.6h-4zM257.53 734.72h4v21.6h-4zM263.56 734.72h4v21.6h-4zM269.59 734.72h4v21.6h-4zM275.62 734.72h4v21.6h-4zM281.64 734.72h4v21.6h-4zM287.67 734.72h4v21.6h-4zM293.7 734.72h4v21.6h-4zM299.73 734.72h4v21.6h-4zM305.76 734.72h4v21.6h-4zM311.78 734.72h4v21.6h-4zM317.81 734.72h4v21.6h-4zM323.84 734.72h4v21.6h-4zM329.87 734.72h4v21.6h-4zM335.9 734.72h4v21.6h-4zM341.92 734.72h4v21.6h-4zM347.95 734.72h4v21.6h-4zM353.98 734.72h4v21.6h-4zM360.01 734.72h4v21.6h-4zM366.04 734.72h4v21.6h-4zM372.06 734.72h4v21.6h-4zM378.09 734.72h4v21.6h-4zM384.12 734.72h4v21.6h-4zM390.15 734.72h4v21.6h-4zM396.18 734.72h4v21.6h-4zM402.2 734.72h4v21.6h-4zM408.23 734.72h4v21.6h-4zM414.26 734.72h4v21.6h-4zM420.29 734.72h4v21.6h-4zM426.32 734.72h4v21.6h-4zM432.34 734.72h4v21.6h-4zM438.37 734.72h4v21.6h-4zM444.4 734.72h4v21.6h-4zM450.43 734.72h4v21.6h-4zM456.46 734.72h4v21.6h-4zM462.48 734.72h4v21.6h-4zM468.51 734.72h4v21.6h-4zM474.54 734.72h4v21.6h-4zM480.57 734.72h4v21.6h-4zM486.6 734.72h4v21.6h-4zM492.62 734.72h4v21.6h-4zM498.65 734.72h4v21.6h-4zM504.68 734.72h4v21.6h-4zM510.71 734.72h4v21.6h-4zM516.74 734.72h4v21.6h-4zM522.76 734.72h4v21.6h-4zM528.79 734.72h4v21.6h-4zM534.82 734.72h4v21.6h-4zM540.85 734.72h4v21.6h-4zM546.88 734.72h4v21.6h-4zM552.9 734.72h4v21.6h-4zM558.93 734.72h4v21.6h-4zM564.96 734.72h4v21.6h-4zM570.99 734.72h4v21.6h-4zM577.02 734.72h4v21.6h-4zM583.04 734.72h4v21.6h-4zM589.07 734.72h4v21.6h-4zM595.1 734.72h4v21.6h-4zM601.13 734.72h4v21.6h-4zM607.16 734.72h4v21.6h-4zM613.18 734.72h4v21.6h-4zM619.21 734.72h4v21.6h-4zM625.24 734.72h4v21.6h-4zM631.27 734.72h4v21.6h-4zM637.3 734.72h4v21.6h-4zM643.32 734.72h4v21.6h-4zM649.35 734.72h4v21.6h-4zM655.38 734.72h4v21.6h-4zM661.41 734.72h4v21.6h-4zM667.44 734.72h4v21.6h-4zM673.46 734.72h4v21.6h-4zM679.49 734.72h4v21.6h-4zM685.52 734.72h4v21.6h-4zM691.55 734.72h4v21.6h-4zM697.58 734.72h4v21.6h-4zM703.6 734.72h4v21.6h-4zM709.63 734.72h4v21.6h-4zM715.66 734.72h4v21.6h-4zM721.69 734.72h4v21.6h-4zM727.72 734.72h4v21.6h-4zM733.74 734.72h4v21.6h-4zM739.77 734.72h4v21.6h-4zM745.8 734.72h4v21.6h-4zM751.83 734.72h4v21.6h-4zM757.86 734.72h4v21.6h-4zM763.88 734.72h4v21.6h-4zM774.35 734.72h4v21.6h-4zM780.38 734.72h4v21.6h-4zM786.41 734.72h4v21.6h-4zM792.43 734.72h4v21.6h-4zM798.46 734.72h4v21.6h-4zM804.49 734.72h4v21.6h-4zM810.52 734.72h4v21.6h-4zM816.55 734.72h4v21.6h-4zM822.57 734.72h4v21.6h-4zM828.6 734.72h4v21.6h-4zM834.63 734.72h4v21.6h-4zM840.66 734.72h4v21.6h-4zM846.69 734.72h4v21.6h-4zM852.71 734.72h4v21.6h-4zM858.74 734.72h4v21.6h-4zM864.77 734.72h4v21.6h-4zM870.8 734.72h4v21.6h-4zM876.83 734.72h4v21.6h-4zM882.85 734.72h4v21.6h-4zM888.88 734.72h4v21.6h-4zM894.91 734.72h4v21.6h-4zM900.94 734.72h4v21.6h-4zM906.97 734.72h4v21.6h-4zM912.99 734.72h4v21.6h-4zM919.02 734.72h4v21.6h-4zM925.05 734.72h4v21.6h-4zM931.08 734.72h4v21.6h-4zM937.11 734.72h4v21.6h-4zM943.13 734.72h4v21.6h-4zM949.16 734.72h4v21.6h-4zM955.19 734.72h4v21.6h-4zM961.22 734.72h4v21.6h-4zM967.25 734.72h4v21.6h-4zM973.27 734.72h4v21.6h-4zM979.3 734.72h4v21.6h-4zM985.33 734.72h4v21.6h-4zM991.36 734.72h4v21.6h-4zM997.39 734.72h4v21.6h-4zM1003.41 734.72h4v21.6h-4zM1009.44 734.72h4v21.6h-4zM1015.47 734.72h4v21.6h-4zM1021.5 734.72h4v21.6h-4zM1027.53 734.72h4v21.6h-4zM1033.55 734.72h4v21.6h-4zM1039.58 734.72h4v21.6h-4zM1045.61 734.72h4v21.6h-4zM1051.64 734.72h4v21.6h-4zM1057.67 734.72h4v21.6h-4zM1063.69 734.72h4v21.6h-4zM1069.72 734.72h4v21.6h-4zM1075.75 734.72h4v21.6h-4zM1081.78 734.72h4v21.6h-4zM1087.81 734.72h4v21.6h-4zM1093.83 734.72h4v21.6h-4zM1099.86 734.72h4v21.6h-4zM1105.89 734.72h4v21.6h-4zM1111.92 734.72h4v21.6h-4zM1117.95 734.72h4v21.6h-4zM1123.97 734.72h4v21.6h-4zM1130 734.72h4v21.6h-4zM1136.03 734.72h4v21.6h-4zM1142.06 734.72h4v21.6h-4zM1148.09 734.72h4v21.6h-4zM1154.11 734.72h4v21.6h-4zM1160.14 734.72h4v21.6h-4zM1166.17 734.72h4v21.6h-4zM1172.2 734.72h4v21.6h-4zM1178.23 734.72h4v21.6h-4zM1184.25 734.72h4v21.6h-4zM1190.28 734.72h4v21.6h-4zM1196.31 734.72h4v21.6h-4zM1202.34 734.72h4v21.6h-4zM1208.37 734.72h4v21.6h-4zM1214.39 734.72h4v21.6h-4zM1220.42 734.72h4v21.6h-4zM1226.45 734.72h4v21.6h-4zM1232.48 734.72h4v21.6h-4zM1238.51 734.72h4v21.6h-4zM1244.53 734.72h4v21.6h-4zM1250.56 734.72h4v21.6h-4zM1256.59 734.72h4v21.6h-4zM1262.62 734.72h4v21.6h-4zM1268.65 734.72h4v21.6h-4zM1274.67 734.72h4v21.6h-4zM1280.7 734.72h4v21.6h-4zM1286.73 734.72h4v21.6h-4zM1292.76 734.72h4v21.6h-4zM1298.79 734.72h4v21.6h-4zM1304.81 734.72h4v21.6h-4zM1310.84 734.72h4v21.6h-4zM1316.87 734.72h4v21.6h-4zM1322.9 734.72h4v21.6h-4zM1328.93 734.72h4v21.6h-4zM1334.95 734.72h4v21.6h-4zM1340.98 734.72h4v21.6h-4zM1347.01 734.72h4v21.6h-4zM1353.04 734.72h4v21.6h-4zM1359.07 734.72h4v21.6h-4zM1365.09 734.72h4v21.6h-4zM1371.12 734.72h4v21.6h-4zM1377.15 734.72h4v21.6h-4zM1383.18 734.72h4v21.6h-4zM1389.21 734.72h4v21.6h-4zM1395.23 734.72h4v21.6h-4zM1401.26 734.72h4v21.6h-4zM143 758.36h4v21.6h-4zM149.03 758.36h4v21.6h-4zM155.06 758.36h4v21.6h-4zM161.08 758.36h4v21.6h-4zM167.11 758.36h4v21.6h-4zM173.14 758.36h4v21.6h-4zM179.17 758.36h4v21.6h-4zM185.2 758.36h4v21.6h-4zM191.22 758.36h4v21.6h-4zM197.25 758.36h4v21.6h-4zM203.28 758.36h4v21.6h-4zM209.31 758.36h4v21.6h-4zM215.34 758.36h4v21.6h-4zM221.36 758.36h4v21.6h-4zM227.39 758.36h4v21.6h-4zM233.42 758.36h4v21.6h-4zM239.45 758.36h4v21.6h-4zM245.48 758.36h4v21.6h-4zM251.5 758.36h4v21.6h-4zM257.53 758.36h4v21.6h-4zM263.56 758.36h4v21.6h-4zM269.59 758.36h4v21.6h-4zM275.62 758.36h4v21.6h-4zM281.64 758.36h4v21.6h-4zM287.67 758.36h4v21.6h-4zM293.7 758.36h4v21.6h-4zM299.73 758.36h4v21.6h-4zM305.76 758.36h4v21.6h-4zM311.78 758.36h4v21.6h-4zM317.81 758.36h4v21.6h-4zM323.84 758.36h4v21.6h-4zM329.87 758.36h4v21.6h-4zM335.9 758.36h4v21.6h-4zM341.92 758.36h4v21.6h-4zM347.95 758.36h4v21.6h-4zM353.98 758.36h4v21.6h-4zM360.01 758.36h4v21.6h-4zM366.04 758.36h4v21.6h-4zM372.06 758.36h4v21.6h-4zM378.09 758.36h4v21.6h-4zM384.12 758.36h4v21.6h-4zM390.15 758.36h4v21.6h-4zM396.18 758.36h4v21.6h-4zM402.2 758.36h4v21.6h-4zM408.23 758.36h4v21.6h-4zM414.26 758.36h4v21.6h-4zM420.29 758.36h4v21.6h-4zM426.32 758.36h4v21.6h-4zM432.34 758.36h4v21.6h-4zM438.37 758.36h4v21.6h-4zM444.4 758.36h4v21.6h-4zM450.43 758.36h4v21.6h-4zM456.46 758.36h4v21.6h-4zM462.48 758.36h4v21.6h-4zM468.51 758.36h4v21.6h-4zM474.54 758.36h4v21.6h-4zM480.57 758.36h4v21.6h-4zM486.6 758.36h4v21.6h-4zM492.62 758.36h4v21.6h-4zM498.65 758.36h4v21.6h-4zM504.68 758.36h4v21.6h-4zM510.71 758.36h4v21.6h-4zM516.74 758.36h4v21.6h-4zM522.76 758.36h4v21.6h-4zM528.79 758.36h4v21.6h-4zM534.82 758.36h4v21.6h-4zM540.85 758.36h4v21.6h-4zM546.88 758.36h4v21.6h-4zM552.9 758.36h4v21.6h-4zM558.93 758.36h4v21.6h-4zM564.96 758.36h4v21.6h-4zM570.99 758.36h4v21.6h-4zM577.02 758.36h4v21.6h-4zM583.04 758.36h4v21.6h-4zM589.07 758.36h4v21.6h-4zM595.1 758.36h4v21.6h-4zM601.13 758.36h4v21.6h-4zM607.16 758.36h4v21.6h-4zM613.18 758.36h4v21.6h-4zM619.21 758.36h4v21.6h-4zM625.24 758.36h4v21.6h-4zM631.27 758.36h4v21.6h-4zM637.3 758.36h4v21.6h-4zM643.32 758.36h4v21.6h-4zM649.35 758.36h4v21.6h-4zM655.38 758.36h4v21.6h-4zM661.41 758.36h4v21.6h-4zM667.44 758.36h4v21.6h-4zM673.46 758.36h4v21.6h-4zM679.49 758.36h4v21.6h-4zM685.52 758.36h4v21.6h-4zM691.55 758.36h4v21.6h-4zM697.58 758.36h4v21.6h-4zM703.6 758.36h4v21.6h-4zM709.63 758.36h4v21.6h-4zM715.66 758.36h4v21.6h-4zM721.69 758.36h4v21.6h-4zM727.72 758.36h4v21.6h-4zM733.74 758.36h4v21.6h-4zM739.77 758.36h4v21.6h-4zM745.8 758.36h4v21.6h-4zM751.83 758.36h4v21.6h-4zM757.86 758.36h4v21.6h-4zM763.88 758.36h4v21.6h-4zM774.35 758.36h4v21.6h-4zM780.38 758.36h4v21.6h-4zM786.41 758.36h4v21.6h-4zM792.43 758.36h4v21.6h-4zM798.46 758.36h4v21.6h-4zM804.49 758.36h4v21.6h-4zM810.52 758.36h4v21.6h-4zM816.55 758.36h4v21.6h-4zM822.57 758.36h4v21.6h-4zM828.6 758.36h4v21.6h-4zM834.63 758.36h4v21.6h-4zM840.66 758.36h4v21.6h-4zM846.69 758.36h4v21.6h-4zM852.71 758.36h4v21.6h-4zM858.74 758.36h4v21.6h-4zM864.77 758.36h4v21.6h-4zM870.8 758.36h4v21.6h-4zM876.83 758.36h4v21.6h-4zM882.85 758.36h4v21.6h-4zM888.88 758.36h4v21.6h-4zM894.91 758.36h4v21.6h-4zM900.94 758.36h4v21.6h-4zM906.97 758.36h4v21.6h-4zM912.99 758.36h4v21.6h-4zM919.02 758.36h4v21.6h-4zM925.05 758.36h4v21.6h-4zM931.08 758.36h4v21.6h-4zM937.11 758.36h4v21.6h-4zM943.13 758.36h4v21.6h-4zM949.16 758.36h4v21.6h-4zM955.19 758.36h4v21.6h-4zM961.22 758.36h4v21.6h-4zM967.25 758.36h4v21.6h-4zM973.27 758.36h4v21.6h-4zM979.3 758.36h4v21.6h-4zM985.33 758.36h4v21.6h-4zM991.36 758.36h4v21.6h-4zM997.39 758.36h4v21.6h-4zM1003.41 758.36h4v21.6h-4zM1009.44 758.36h4v21.6h-4zM1015.47 758.36h4v21.6h-4zM1021.5 758.36h4v21.6h-4zM1027.53 758.36h4v21.6h-4zM1033.55 758.36h4v21.6h-4zM1039.58 758.36h4v21.6h-4zM1045.61 758.36h4v21.6h-4zM1051.64 758.36h4v21.6h-4zM1057.67 758.36h4v21.6h-4zM1063.69 758.36h4v21.6h-4zM1069.72 758.36h4v21.6h-4zM1075.75 758.36h4v21.6h-4zM1081.78 758.36h4v21.6h-4zM1087.81 758.36h4v21.6h-4zM1093.83 758.36h4v21.6h-4zM1099.86 758.36h4v21.6h-4zM1105.89 758.36h4v21.6h-4zM1111.92 758.36h4v21.6h-4zM1117.95 758.36h4v21.6h-4zM1123.97 758.36h4v21.6h-4zM1130 758.36h4v21.6h-4zM1136.03 758.36h4v21.6h-4zM1142.06 758.36h4v21.6h-4zM1148.09 758.36h4v21.6h-4zM1154.11 758.36h4v21.6h-4zM1160.14 758.36h4v21.6h-4zM1166.17 758.36h4v21.6h-4zM1172.2 758.36h4v21.6h-4zM1178.23 758.36h4v21.6h-4zM1184.25 758.36h4v21.6h-4zM1190.28 758.36h4v21.6h-4zM1196.31 758.36h4v21.6h-4zM1202.34 758.36h4v21.6h-4zM1208.37 758.36h4v21.6h-4zM1214.39 758.36h4v21.6h-4zM1220.42 758.36h4v21.6h-4zM1226.45 758.36h4v21.6h-4zM1232.48 758.36h4v21.6h-4zM1238.51 758.36h4v21.6h-4zM1244.53 758.36h4v21.6h-4zM1250.56 758.36h4v21.6h-4zM1256.59 758.36h4v21.6h-4zM1262.62 758.36h4v21.6h-4zM1268.65 758.36h4v21.6h-4zM1274.67 758.36h4v21.6h-4zM1280.7 758.36h4v21.6h-4zM1286.73 758.36h4v21.6h-4zM1292.76 758.36h4v21.6h-4zM1298.79 758.36h4v21.6h-4zM1304.81 758.36h4v21.6h-4zM1310.84 758.36h4v21.6h-4zM1316.87 758.36h4v21.6h-4zM1322.9 758.36h4v21.6h-4zM1328.93 758.36h4v21.6h-4zM1334.95 758.36h4v21.6h-4zM1340.98 758.36h4v21.6h-4zM1347.01 758.36h4v21.6h-4zM1353.04 758.36h4v21.6h-4zM1359.07 758.36h4v21.6h-4zM1365.09 758.36h4v21.6h-4zM1371.12 758.36h4v21.6h-4zM1377.15 758.36h4v21.6h-4zM1383.18 758.36h4v21.6h-4zM1389.21 758.36h4v21.6h-4zM1395.23 758.36h4v21.6h-4zM1401.26 758.36h4v21.6h-4zM143 782h4v21.6h-4zM149.03 782h4v21.6h-4zM155.06 782h4v21.6h-4zM161.08 782h4v21.6h-4zM167.11 782h4v21.6h-4zM173.14 782h4v21.6h-4zM179.17 782h4v21.6h-4zM185.2 782h4v21.6h-4zM191.22 782h4v21.6h-4zM197.25 782h4v21.6h-4zM203.28 782h4v21.6h-4zM209.31 782h4v21.6h-4zM215.34 782h4v21.6h-4zM221.36 782h4v21.6h-4zM227.39 782h4v21.6h-4zM233.42 782h4v21.6h-4zM239.45 782h4v21.6h-4zM245.48 782h4v21.6h-4zM251.5 782h4v21.6h-4zM257.53 782h4v21.6h-4zM263.56 782h4v21.6h-4zM269.59 782h4v21.6h-4zM275.62 782h4v21.6h-4zM281.64 782h4v21.6h-4zM287.67 782h4v21.6h-4zM293.7 782h4v21.6h-4zM299.73 782h4v21.6h-4zM305.76 782h4v21.6h-4zM311.78 782h4v21.6h-4zM317.81 782h4v21.6h-4zM323.84 782h4v21.6h-4zM329.87 782h4v21.6h-4zM335.9 782h4v21.6h-4zM341.92 782h4v21.6h-4zM347.95 782h4v21.6h-4zM353.98 782h4v21.6h-4zM360.01 782h4v21.6h-4zM366.04 782h4v21.6h-4zM372.06 782h4v21.6h-4zM378.09 782h4v21.6h-4zM384.12 782h4v21.6h-4zM390.15 782h4v21.6h-4zM396.18 782h4v21.6h-4zM402.2 782h4v21.6h-4zM408.23 782h4v21.6h-4zM414.26 782h4v21.6h-4zM420.29 782h4v21.6h-4zM426.32 782h4v21.6h-4zM432.34 782h4v21.6h-4zM438.37 782h4v21.6h-4zM444.4 782h4v21.6h-4zM450.43 782h4v21.6h-4zM456.46 782h4v21.6h-4zM462.48 782h4v21.6h-4zM468.51 782h4v21.6h-4zM474.54 782h4v21.6h-4zM480.57 782h4v21.6h-4zM486.6 782h4v21.6h-4zM492.62 782h4v21.6h-4zM498.65 782h4v21.6h-4zM504.68 782h4v21.6h-4zM510.71 782h4v21.6h-4zM516.74 782h4v21.6h-4zM522.76 782h4v21.6h-4zM528.79 782h4v21.6h-4zM534.82 782h4v21.6h-4zM540.85 782h4v21.6h-4zM546.88 782h4v21.6h-4zM552.9 782h4v21.6h-4zM558.93 782h4v21.6h-4zM564.96 782h4v21.6h-4zM570.99 782h4v21.6h-4zM577.02 782h4v21.6h-4zM583.04 782h4v21.6h-4zM589.07 782h4v21.6h-4zM595.1 782h4v21.6h-4zM601.13 782h4v21.6h-4zM607.16 782h4v21.6h-4zM613.18 782h4v21.6h-4zM619.21 782h4v21.6h-4zM625.24 782h4v21.6h-4zM631.27 782h4v21.6h-4zM637.3 782h4v21.6h-4zM643.32 782h4v21.6h-4zM649.35 782h4v21.6h-4zM655.38 782h4v21.6h-4zM661.41 782h4v21.6h-4zM667.44 782h4v21.6h-4zM673.46 782h4v21.6h-4zM679.49 782h4v21.6h-4zM685.52 782h4v21.6h-4zM691.55 782h4v21.6h-4zM697.58 782h4v21.6h-4zM703.6 782h4v21.6h-4zM709.63 782h4v21.6h-4zM715.66 782h4v21.6h-4zM721.69 782h4v21.6h-4zM727.72 782h4v21.6h-4zM733.74 782h4v21.6h-4zM739.77 782h4v21.6h-4zM745.8 782h4v21.6h-4zM751.83 782h4v21.6h-4zM757.86 782h4v21.6h-4zM763.88 782h4v21.6h-4zM774.35 782h4v21.6h-4zM780.38 782h4v21.6h-4zM786.41 782h4v21.6h-4zM792.43 782h4v21.6h-4zM798.46 782h4v21.6h-4zM804.49 782h4v21.6h-4zM810.52 782h4v21.6h-4zM816.55 782h4v21.6h-4zM822.57 782h4v21.6h-4zM828.6 782h4v21.6h-4zM834.63 782h4v21.6h-4zM840.66 782h4v21.6h-4zM846.69 782h4v21.6h-4zM852.71 782h4v21.6h-4zM858.74 782h4v21.6h-4zM864.77 782h4v21.6h-4zM870.8 782h4v21.6h-4zM876.83 782h4v21.6h-4zM882.85 782h4v21.6h-4zM888.88 782h4v21.6h-4zM894.91 782h4v21.6h-4zM900.94 782h4v21.6h-4zM906.97 782h4v21.6h-4zM912.99 782h4v21.6h-4zM919.02 782h4v21.6h-4zM925.05 782h4v21.6h-4zM931.08 782h4v21.6h-4zM937.11 782h4v21.6h-4zM943.13 782h4v21.6h-4zM949.16 782h4v21.6h-4zM955.19 782h4v21.6h-4zM961.22 782h4v21.6h-4zM967.25 782h4v21.6h-4zM973.27 782h4v21.6h-4zM979.3 782h4v21.6h-4zM985.33 782h4v21.6h-4zM991.36 782h4v21.6h-4zM997.39 782h4v21.6h-4zM1003.41 782h4v21.6h-4zM1009.44 782h4v21.6h-4zM1015.47 782h4v21.6h-4zM1021.5 782h4v21.6h-4zM1027.53 782h4v21.6h-4zM1033.55 782h4v21.6h-4zM1039.58 782h4v21.6h-4zM1045.61 782h4v21.6h-4zM1051.64 782h4v21.6h-4zM1057.67 782h4v21.6h-4zM1063.69 782h4v21.6h-4zM1069.72 782h4v21.6h-4zM1075.75 782h4v21.6h-4zM1081.78 782h4v21.6h-4zM1087.81 782h4v21.6h-4zM1093.83 782h4v21.6h-4zM1099.86 782h4v21.6h-4zM1105.89 782h4v21.6h-4zM1111.92 782h4v21.6h-4zM1117.95 782h4v21.6h-4zM1123.97 782h4v21.6h-4zM1130 782h4v21.6h-4zM1136.03 782h4v21.6h-4zM1142.06 782h4v21.6h-4zM1148.09 782h4v21.6h-4zM1154.11 782h4v21.6h-4zM1160.14 782h4v21.6h-4zM1166.17 782h4v21.6h-4zM1172.2 782h4v21.6h-4zM1178.23 782h4v21.6h-4zM1184.25 782h4v21.6h-4zM1190.28 782h4v21.6h-4zM1196.31 782h4v21.6h-4zM1202.34 782h4v21.6h-4zM1208.37 782h4v21.6h-4zM1214.39 782h4v21.6h-4zM1220.42 782h4v21.6h-4zM1226.45 782h4v21.6h-4zM1232.48 782h4v21.6h-4zM1238.51 782h4v21.6h-4zM1244.53 782h4v21.6h-4zM1250.56 782h4v21.6h-4zM1256.59 782h4v21.6h-4zM1262.62 782h4v21.6h-4zM1268.65 782h4v21.6h-4zM1274.67 782h4v21.6h-4zM1280.7 782h4v21.6h-4zM1286.73 782h4v21.6h-4zM1292.76 782h4v21.6h-4zM1298.79 782h4v21.6h-4zM1304.81 782h4v21.6h-4zM1310.84 782h4v21.6h-4zM1316.87 782h4v21.6h-4zM1322.9 782h4v21.6h-4zM1328.93 782h4v21.6h-4zM1334.95 782h4v21.6h-4zM1340.98 782h4v21.6h-4zM1347.01 782h4v21.6h-4zM1353.04 782h4v21.6h-4zM1359.07 782h4v21.6h-4zM1365.09 782h4v21.6h-4zM1371.12 782h4v21.6h-4zM1377.15 782h4v21.6h-4zM1383.18 782h4v21.6h-4zM1389.21 782h4v21.6h-4zM1395.23 782h4v21.6h-4zM1401.26 782h4v21.6h-4z" fill="#CDCDCD"/>
<path d="M709.63 191h4v21.6h-4zM143 214.64h4v21.6h-4zM149.03 214.64h4v21.6h-4zM155.06 214.64h4v21.6h-4zM161.08 214.64h4v21.6h-4zM179.17 214.64h4v21.6h-4zM185.2 214.64h4v21.6h-4zM191.22 214.64h4v21.6h-4zM197.25 214.64h4v21.6h-4zM203.28 214.64h4v21.6h-4zM209.31 214.64h4v21.6h-4zM215.34 214.64h4v21.6h-4zM221.36 214.64h4v21.6h-4zM227.39 214.64h4v21.6h-4zM233.42 214.64h4v21.6h-4zM239.45 214.64h4v21.6h-4zM245.48 214.64h4v21.6h-4zM251.5 214.64h4v21.6h-4zM257.53 214.64h4v21.6h-4zM263.56 214.64h4v21.6h-4zM269.59 214.64h4v21.6h-4zM275.62 214.64h4v21.6h-4zM378.09 214.64h4v21.6h-4zM384.12 214.64h4v21.6h-4zM390.15 214.64h4v21.6h-4zM396.18 214.64h4v21.6h-4zM402.2 214.64h4v21.6h-4zM408.23 214.64h4v21.6h-4zM414.26 214.64h4v21.6h-4zM420.29 214.64h4v21.6h-4zM426.32 214.64h4v21.6h-4zM432.34 214.64h4v21.6h-4zM438.37 214.64h4v21.6h-4zM444.4 214.64h4v21.6h-4zM450.43 214.64h4v21.6h-4zM456.46 214.64h4v21.6h-4zM462.48 214.64h4v21.6h-4zM468.51 214.64h4v21.6h-4zM474.54 214.64h4v21.6h-4zM480.57 214.64h4v21.6h-4zM486.6 214.64h4v21.6h-4zM492.62 214.64h4v21.6h-4zM498.65 214.64h4v21.6h-4zM504.68 214.64h4v21.6h-4zM510.71 214.64h4v21.6h-4zM516.74 214.64h4v21.6h-4zM522.76 214.64h4v21.6h-4zM528.79 214.64h4v21.6h-4zM534.82 214.64h4v21.6h-4zM540.85 214.64h4v21.6h-4zM546.88 214.64h4v21.6h-4zM715.66 214.64h4v21.6h-4zM721.69 214.64h4v21.6h-4zM727.72 214.64h4v21.6h-4zM733.74 214.64h4v21.6h-4zM774.35 214.64h4v21.6h-4zM780.38 214.64h4v21.6h-4zM786.41 214.64h4v21.6h-4zM792.43 214.64h4v21.6h-4zM816.55 214.64h4v21.6h-4zM822.57 214.64h4v21.6h-4zM828.6 214.64h4v21.6h-4zM834.63 214.64h4v21.6h-4zM840.66 214.64h4v21.6h-4zM846.69 214.64h4v21.6h-4zM852.71 214.64h4v21.6h-4zM858.74 214.64h4v21.6h-4zM864.77 214.64h4v21.6h-4zM870.8 214.64h4v21.6h-4zM876.83 214.64h4v21.6h-4zM882.85 214.64h4v21.6h-4zM888.88 214.64h4v21.6h-4zM894.91 214.64h4v21.6h-4zM900.94 214.64h4v21.6h-4zM906.97 214.64h4v21.6h-4zM912.99 214.64h4v21.6h-4zM919.02 214.64h4v21.6h-4zM1003.41 214.64h4v21.6h-4zM1009.44 214.64h4v21.6h-4zM1015.47 214.64h4v21.6h-4zM1033.55 214.64h4v21.6h-4zM1039.58 214.64h4v21.6h-4zM1069.72 214.64h4v21.6h-4zM1075.75 214.64h4v21.6h-4zM1081.78 214.64h4v21.6h-4zM1087.81 214.64h4v21.6h-4zM1093.83 214.64h4v21.6h-4zM1099.86 214.64h4v21.6h-4zM1105.89 214.64h4v21.6h-4zM1111.92 214.64h4v21.6h-4zM1117.95 214.64h4v21.6h-4zM1123.97 214.64h4v21.6h-4zM1130 214.64h4v21.6h-4zM1136.03 214.64h4v21.6h-4zM1142.06 214.64h4v21.6h-4zM1148.09 214.64h4v21.6h-4zM1154.11 214.64h4v21.6h-4zM1160.14 214.64h4v21.6h-4zM1166.17 214.64h4v21.6h-4zM1172.2 214.64h4v21.6h-4zM1178.23 214.64h4v21.6h-4zM1184.25 214.64h4v21.6h-4zM1190.28 214.64h4v21.6h-4zM1196.31 214.64h4v21.6h-4zM1202.34 214.64h4v21.6h-4zM1208.37 214.64h4v21.6h-4zM1214.39 214.64h4v21.6h-4zM1220.42 214.64h4v21.6h-4zM1226.45 214.64h4v21.6h-4zM1232.48 214.64h4v21.6h-4zM185.2 285.56h4v21.6h-4zM209.31 285.56h4v21.6h-4zM215.34 285.56h4v21.6h-4zM281.64 285.56h4v21.6h-4zM305.76 285.56h4v21.6h-4zM390.15 285.56h4v21.6h-4zM552.9 285.56h4v21.6h-4zM607.16 285.56h4v21.6h-4zM613.18 285.56h4v21.6h-4zM619.21 285.56h4v21.6h-4zM715.66 285.56h4v21.6h-4zM721.69 285.56h4v21.6h-4zM858.74 285.56h4v21.6h-4zM931.08 285.56h4v21.6h-4zM937.11 285.56h4v21.6h-4zM1045.61 285.56h4v21.6h-4zM1051.64 285.56h4v21.6h-4zM1093.83 285.56h4v21.6h-4zM1274.67 285.56h4v21.6h-4zM1280.7 285.56h4v21.6h-4zM1286.73 285.56h4v21.6h-4zM1292.76 285.56h4v21.6h-4zM167.11 380.12h4v21.6h-4zM185.2 380.12h4v21.6h-4zM402.2 380.12h4v21.6h-4zM474.54 380.12h4v21.6h-4zM486.6 380.12h4v21.6h-4zM492.62 380.12h4v21.6h-4zM931.08 380.12h4v21.6h-4zM1105.89 380.12h4v21.6h-4zM1142.06 380.12h4v21.6h-4zM1286.73 380.12h4v21.6h-4zM143 427.4h4v21.6h-4zM155.06 427.4h4v21.6h-4zM167.11 427.4h4v21.6h-4zM185.2 427.4h4v21.6h-4zM191.22 427.4h4v21.6h-4zM203.28 427.4h4v21.6h-4zM209.31 427.4h4v21.6h-4zM221.36 427.4h4v21.6h-4zM227.39 427.4h4v21.6h-4zM293.7 427.4h4v21.6h-4zM299.73 427.4h4v21.6h-4zM305.76 427.4h4v21.6h-4zM317.81 427.4h4v21.6h-4zM378.09 427.4h4v21.6h-4zM468.51 427.4h4v21.6h-4zM474.54 427.4h4v21.6h-4zM516.74 427.4h4v21.6h-4zM583.04 427.4h4v21.6h-4zM589.07 427.4h4v21.6h-4zM637.3 427.4h4v21.6h-4zM667.44 427.4h4v21.6h-4zM715.66 427.4h4v21.6h-4zM798.46 427.4h4v21.6h-4zM834.63 427.4h4v21.6h-4zM840.66 427.4h4v21.6h-4zM846.69 427.4h4v21.6h-4zM870.8 427.4h4v21.6h-4zM882.85 427.4h4v21.6h-4zM888.88 427.4h4v21.6h-4zM1015.47 427.4h4v21.6h-4zM1045.61 427.4h4v21.6h-4zM1111.92 427.4h4v21.6h-4zM1117.95 427.4h4v21.6h-4zM1142.06 427.4h4v21.6h-4zM1178.23 427.4h4v21.6h-4zM1184.25 427.4h4v21.6h-4zM1244.53 427.4h4v21.6h-4zM1250.56 427.4h4v21.6h-4zM1262.62 427.4h4v21.6h-4zM1274.67 427.4h4v21.6h-4zM1286.73 427.4h4v21.6h-4zM1316.87 427.4h4v21.6h-4zM1389.21 427.4h4v21.6h-4zM167.11 451.04h4v21.6h-4zM185.2 451.04h4v21.6h-4zM203.28 451.04h4v21.6h-4zM209.31 451.04h4v21.6h-4zM221.36 451.04h4v21.6h-4zM293.7 451.04h4v21.6h-4zM299.73 451.04h4v21.6h-4zM305.76 451.04h4v21.6h-4zM317.81 451.04h4v21.6h-4zM378.09 451.04h4v21.6h-4zM468.51 451.04h4v21.6h-4zM474.54 451.04h4v21.6h-4zM516.74 451.04h4v21.6h-4zM583.04 451.04h4v21.6h-4zM589.07 451.04h4v21.6h-4zM595.1 451.04h4v21.6h-4zM613.18 451.04h4v21.6h-4zM637.3 451.04h4v21.6h-4zM667.44 451.04h4v21.6h-4zM709.63 451.04h4v21.6h-4zM792.43 451.04h4v21.6h-4zM798.46 451.04h4v21.6h-4zM834.63 451.04h4v21.6h-4zM840.66 451.04h4v21.6h-4zM846.69 451.04h4v21.6h-4zM882.85 451.04h4v21.6h-4zM888.88 451.04h4v21.6h-4zM937.11 451.04h4v21.6h-4zM1015.47 451.04h4v21.6h-4zM1069.72 451.04h4v21.6h-4zM1111.92 451.04h4v21.6h-4zM1117.95 451.04h4v21.6h-4zM1142.06 451.04h4v21.6h-4zM1178.23 451.04h4v21.6h-4zM1244.53 451.04h4v21.6h-4zM1262.62 451.04h4v21.6h-4zM1274.67 451.04h4v21.6h-4zM1316.87 451.04h4v21.6h-4zM1389.21 451.04h4v21.6h-4zM143 474.68h4v21.6h-4zM149.03 474.68h4v21.6h-4zM155.06 474.68h4v21.6h-4zM179.17 474.68h4v21.6h-4zM185.2 474.68h4v21.6h-4zM191.22 474.68h4v21.6h-4zM197.25 474.68h4v21.6h-4zM203.28 474.68h4v21.6h-4zM209.31 474.68h4v21.6h-4zM215.34 474.68h4v21.6h-4zM221.36 474.68h4v21.6h-4zM233.42 474.68h4v21.6h-4zM239.45 474.68h4v21.6h-4zM245.48 474.68h4v21.6h-4zM251.5 474.68h4v21.6h-4zM257.53 474.68h4v21.6h-4zM263.56 474.68h4v21.6h-4zM378.09 474.68h4v21.6h-4zM384.12 474.68h4v21.6h-4zM390.15 474.68h4v21.6h-4zM396.18 474.68h4v21.6h-4zM402.2 474.68h4v21.6h-4zM408.23 474.68h4v21.6h-4zM414.26 474.68h4v21.6h-4zM420.29 474.68h4v21.6h-4zM432.34 474.68h4v21.6h-4zM438.37 474.68h4v21.6h-4zM444.4 474.68h4v21.6h-4zM450.43 474.68h4v21.6h-4zM456.46 474.68h4v21.6h-4zM462.48 474.68h4v21.6h-4zM468.51 474.68h4v21.6h-4zM474.54 474.68h4v21.6h-4zM480.57 474.68h4v21.6h-4zM486.6 474.68h4v21.6h-4zM492.62 474.68h4v21.6h-4zM498.65 474.68h4v21.6h-4zM504.68 474.68h4v21.6h-4zM510.71 474.68h4v21.6h-4zM516.74 474.68h4v21.6h-4zM522.76 474.68h4v21.6h-4zM528.79 474.68h4v21.6h-4zM534.82 474.68h4v21.6h-4zM540.85 474.68h4v21.6h-4zM546.88 474.68h4v21.6h-4zM667.44 474.68h4v21.6h-4zM715.66 474.68h4v21.6h-4zM721.69 474.68h4v21.6h-4zM727.72 474.68h4v21.6h-4zM733.74 474.68h4v21.6h-4zM774.35 474.68h4v21.6h-4zM780.38 474.68h4v21.6h-4zM786.41 474.68h4v21.6h-4zM792.43 474.68h4v21.6h-4zM816.55 474.68h4v21.6h-4zM822.57 474.68h4v21.6h-4zM828.6 474.68h4v21.6h-4zM834.63 474.68h4v21.6h-4zM840.66 474.68h4v21.6h-4zM846.69 474.68h4v21.6h-4zM852.71 474.68h4v21.6h-4zM858.74 474.68h4v21.6h-4zM864.77 474.68h4v21.6h-4zM870.8 474.68h4v21.6h-4zM876.83 474.68h4v21.6h-4zM882.85 474.68h4v21.6h-4zM888.88 474.68h4v21.6h-4zM894.91 474.68h4v21.6h-4zM900.94 474.68h4v21.6h-4zM906.97 474.68h4v21.6h-4zM912.99 474.68h4v21.6h-4zM1003.41 474.68h4v21.6h-4zM1009.44 474.68h4v21.6h-4zM1033.55 474.68h4v21.6h-4zM1039.58 474.68h4v21.6h-4zM1069.72 474.68h4v21.6h-4zM1075.75 474.68h4v21.6h-4zM1081.78 474.68h4v21.6h-4zM1087.81 474.68h4v21.6h-4zM1093.83 474.68h4v21.6h-4zM1099.86 474.68h4v21.6h-4zM1105.89 474.68h4v21.6h-4zM1111.92 474.68h4v21.6h-4zM1117.95 474.68h4v21.6h-4zM1123.97 474.68h4v21.6h-4zM1130 474.68h4v21.6h-4zM1136.03 474.68h4v21.6h-4zM1142.06 474.68h4v21.6h-4zM1148.09 474.68h4v21.6h-4zM1154.11 474.68h4v21.6h-4zM1160.14 474.68h4v21.6h-4zM1166.17 474.68h4v21.6h-4zM1172.2 474.68h4v21.6h-4zM1178.23 474.68h4v21.6h-4zM1184.25 474.68h4v21.6h-4zM1190.28 474.68h4v21.6h-4zM1196.31 474.68h4v21.6h-4zM1202.34 474.68h4v21.6h-4zM1208.37 474.68h4v21.6h-4zM1214.39 474.68h4v21.6h-4zM1220.42 474.68h4v21.6h-4zM1226.45 474.68h4v21.6h-4zM1232.48 474.68h4v21.6h-4zM1250.56 474.68h4v21.6h-4zM143 498.32h4v21.6h-4zM149.03 498.32h4v21.6h-4zM155.06 498.32h4v21.6h-4zM179.17 498.32h4v21.6h-4zM185.2 498.32h4v21.6h-4zM191.22 498.32h4v21.6h-4zM197.25 498.32h4v21.6h-4zM203.28 498.32h4v21.6h-4zM209.31 498.32h4v21.6h-4zM215.34 498.32h4v21.6h-4zM221.36 498.32h4v21.6h-4zM233.42 498.32h4v21.6h-4zM239.45 498.32h4v21.6h-4zM245.48 498.32h4v21.6h-4zM251.5 498.32h4v21.6h-4zM257.53 498.32h4v21.6h-4zM263.56 498.32h4v21.6h-4zM269.59 498.32h4v21.6h-4zM378.09 498.32h4v21.6h-4zM384.12 498.32h4v21.6h-4zM390.15 498.32h4v21.6h-4zM396.18 498.32h4v21.6h-4zM402.2 498.32h4v21.6h-4zM408.23 498.32h4v21.6h-4zM414.26 498.32h4v21.6h-4zM420.29 498.32h4v21.6h-4zM432.34 498.32h4v21.6h-4zM438.37 498.32h4v21.6h-4zM444.4 498.32h4v21.6h-4zM450.43 498.32h4v21.6h-4zM456.46 498.32h4v21.6h-4zM462.48 498.32h4v21.6h-4zM468.51 498.32h4v21.6h-4zM474.54 498.32h4v21.6h-4zM480.57 498.32h4v21.6h-4zM486.6 498.32h4v21.6h-4zM492.62 498.32h4v21.6h-4zM498.65 498.32h4v21.6h-4zM504.68 498.32h4v21.6h-4zM510.71 498.32h4v21.6h-4zM516.74 498.32h4v21.6h-4zM522.76 498.32h4v21.6h-4zM528.79 498.32h4v21.6h-4zM534.82 498.32h4v21.6h-4zM540.85 498.32h4v21.6h-4zM546.88 498.32h4v21.6h-4zM667.44 498.32h4v21.6h-4zM715.66 498.32h4v21.6h-4zM721.69 498.32h4v21.6h-4zM727.72 498.32h4v21.6h-4zM733.74 498.32h4v21.6h-4zM774.35 498.32h4v21.6h-4zM780.38 498.32h4v21.6h-4zM786.41 498.32h4v21.6h-4zM792.43 498.32h4v21.6h-4zM816.55 498.32h4v21.6h-4zM822.57 498.32h4v21.6h-4zM828.6 498.32h4v21.6h-4zM834.63 498.32h4v21.6h-4zM840.66 498.32h4v21.6h-4zM846.69 498.32h4v21.6h-4zM852.71 498.32h4v21.6h-4zM858.74 498.32h4v21.6h-4zM864.77 498.32h4v21.6h-4zM870.8 498.32h4v21.6h-4zM876.83 498.32h4v21.6h-4zM882.85 498.32h4v21.6h-4zM888.88 498.32h4v21.6h-4zM894.91 498.32h4v21.6h-4zM900.94 498.32h4v21.6h-4zM906.97 498.32h4v21.6h-4zM912.99 498.32h4v21.6h-4zM1003.41 498.32h4v21.6h-4zM1009.44 498.32h4v21.6h-4zM1015.47 498.32h4v21.6h-4zM1033.55 498.32h4v21.6h-4zM1039.58 498.32h4v21.6h-4zM1069.72 498.32h4v21.6h-4zM1075.75 498.32h4v21.6h-4zM1081.78 498.32h4v21.6h-4zM1087.81 498.32h4v21.6h-4zM1093.83 498.32h4v21.6h-4zM1099.86 498.32h4v21.6h-4zM1105.89 498.32h4v21.6h-4zM1111.92 498.32h4v21.6h-4zM1117.95 498.32h4v21.6h-4zM1123.97 498.32h4v21.6h-4zM1130 498.32h4v21.6h-4zM1136.03 498.32h4v21.6h-4zM1142.06 498.32h4v21.6h-4zM1148.09 498.32h4v21.6h-4zM1154.11 498.32h4v21.6h-4zM1160.14 498.32h4v21.6h-4zM1166.17 498.32h4v21.6h-4zM1172.2 498.32h4v21.6h-4zM1178.23 498.32h4v21.6h-4zM1184.25 498.32h4v21.6h-4zM1190.28 498.32h4v21.6h-4zM1196.31 498.32h4v21.6h-4zM1202.34 498.32h4v21.6h-4zM1208.37 498.32h4v21.6h-4zM1214.39 498.32h4v21.6h-4zM1220.42 498.32h4v21.6h-4zM1226.45 498.32h4v21.6h-4zM143 521.96h4v21.6h-4zM149.03 521.96h4v21.6h-4zM155.06 521.96h4v21.6h-4zM179.17 521.96h4v21.6h-4zM185.2 521.96h4v21.6h-4zM191.22 521.96h4v21.6h-4zM197.25 521.96h4v21.6h-4zM203.28 521.96h4v21.6h-4zM209.31 521.96h4v21.6h-4zM215.34 521.96h4v21.6h-4zM221.36 521.96h4v21.6h-4zM227.39 521.96h4v21.6h-4zM233.42 521.96h4v21.6h-4zM239.45 521.96h4v21.6h-4zM245.48 521.96h4v21.6h-4zM251.5 521.96h4v21.6h-4zM257.53 521.96h4v21.6h-4zM263.56 521.96h4v21.6h-4zM269.59 521.96h4v21.6h-4zM378.09 521.96h4v21.6h-4zM384.12 521.96h4v21.6h-4zM390.15 521.96h4v21.6h-4zM396.18 521.96h4v21.6h-4zM402.2 521.96h4v21.6h-4zM408.23 521.96h4v21.6h-4zM414.26 521.96h4v21.6h-4zM420.29 521.96h4v21.6h-4zM432.34 521.96h4v21.6h-4zM438.37 521.96h4v21.6h-4zM444.4 521.96h4v21.6h-4zM450.43 521.96h4v21.6h-4zM456.46 521.96h4v21.6h-4zM462.48 521.96h4v21.6h-4zM468.51 521.96h4v21.6h-4zM474.54 521.96h4v21.6h-4zM480.57 521.96h4v21.6h-4zM486.6 521.96h4v21.6h-4zM492.62 521.96h4v21.6h-4zM498.65 521.96h4v21.6h-4zM504.68 521.96h4v21.6h-4zM510.71 521.96h4v21.6h-4zM522.76 521.96h4v21.6h-4zM528.79 521.96h4v21.6h-4zM534.82 521.96h4v21.6h-4zM540.85 521.96h4v21.6h-4zM546.88 521.96h4v21.6h-4zM715.66 521.96h4v21.6h-4zM721.69 521.96h4v21.6h-4zM727.72 521.96h4v21.6h-4zM733.74 521.96h4v21.6h-4zM774.35 521.96h4v21.6h-4zM780.38 521.96h4v21.6h-4zM792.43 521.96h4v21.6h-4zM816.55 521.96h4v21.6h-4zM822.57 521.96h4v21.6h-4zM828.6 521.96h4v21.6h-4zM834.63 521.96h4v21.6h-4zM840.66 521.96h4v21.6h-4zM846.69 521.96h4v21.6h-4zM852.71 521.96h4v21.6h-4zM858.74 521.96h4v21.6h-4zM870.8 521.96h4v21.6h-4zM876.83 521.96h4v21.6h-4zM882.85 521.96h4v21.6h-4zM888.88 521.96h4v21.6h-4zM894.91 521.96h4v21.6h-4zM900.94 521.96h4v21.6h-4zM906.97 521.96h4v21.6h-4zM912.99 521.96h4v21.6h-4zM1003.41 521.96h4v21.6h-4zM1009.44 521.96h4v21.6h-4zM1015.47 521.96h4v21.6h-4zM1033.55 521.96h4v21.6h-4zM1039.58 521.96h4v21.6h-4zM1069.72 521.96h4v21.6h-4zM1075.75 521.96h4v21.6h-4zM1081.78 521.96h4v21.6h-4zM1087.81 521.96h4v21.6h-4zM1093.83 521.96h4v21.6h-4zM1099.86 521.96h4v21.6h-4zM1105.89 521.96h4v21.6h-4zM1111.92 521.96h4v21.6h-4zM1117.95 521.96h4v21.6h-4zM1123.97 521.96h4v21.6h-4zM1130 521.96h4v21.6h-4zM1136.03 521.96h4v21.6h-4zM1142.06 521.96h4v21.6h-4zM1148.09 521.96h4v21.6h-4zM1154.11 521.96h4v21.6h-4zM1160.14 521.96h4v21.6h-4zM1166.17 521.96h4v21.6h-4zM1172.2 521.96h4v21.6h-4zM1178.23 521.96h4v21.6h-4zM1184.25 521.96h4v21.6h-4zM1190.28 521.96h4v21.6h-4zM1196.31 521.96h4v21.6h-4zM1202.34 521.96h4v21.6h-4zM1208.37 521.96h4v21.6h-4zM1214.39 521.96h4v21.6h-4zM1220.42 521.96h4v21.6h-4zM1226.45 521.96h4v21.6h-4zM1232.48 521.96h4v21.6h-4zM167.11 545.6h4v21.6h-4zM185.2 545.6h4v21.6h-4zM203.28 545.6h4v21.6h-4zM209.31 545.6h4v21.6h-4zM221.36 545.6h4v21.6h-4zM293.7 545.6h4v21.6h-4zM299.73 545.6h4v21.6h-4zM305.76 545.6h4v21.6h-4zM317.81 545.6h4v21.6h-4zM468.51 545.6h4v21.6h-4zM474.54 545.6h4v21.6h-4zM516.74 545.6h4v21.6h-4zM583.04 545.6h4v21.6h-4zM589.07 545.6h4v21.6h-4zM595.1 545.6h4v21.6h-4zM613.18 545.6h4v21.6h-4zM637.3 545.6h4v21.6h-4zM667.44 545.6h4v21.6h-4zM709.63 545.6h4v21.6h-4zM792.43 545.6h4v21.6h-4zM834.63 545.6h4v21.6h-4zM840.66 545.6h4v21.6h-4zM846.69 545.6h4v21.6h-4zM882.85 545.6h4v21.6h-4zM888.88 545.6h4v21.6h-4zM937.11 545.6h4v21.6h-4zM1015.47 545.6h4v21.6h-4zM1069.72 545.6h4v21.6h-4zM1111.92 545.6h4v21.6h-4zM1117.95 545.6h4v21.6h-4zM1142.06 545.6h4v21.6h-4zM1184.25 545.6h4v21.6h-4zM1262.62 545.6h4v21.6h-4zM1274.67 545.6h4v21.6h-4zM1316.87 545.6h4v21.6h-4zM167.11 569.24h4v21.6h-4zM203.28 569.24h4v21.6h-4zM444.4 569.24h4v21.6h-4zM468.51 569.24h4v21.6h-4zM474.54 569.24h4v21.6h-4zM480.57 569.24h4v21.6h-4zM516.74 569.24h4v21.6h-4zM534.82 569.24h4v21.6h-4zM558.93 569.24h4v21.6h-4zM564.96 569.24h4v21.6h-4zM619.21 569.24h4v21.6h-4zM631.27 569.24h4v21.6h-4zM643.32 569.24h4v21.6h-4zM661.41 569.24h4v21.6h-4zM721.69 569.24h4v21.6h-4zM840.66 569.24h4v21.6h-4zM858.74 569.24h4v21.6h-4zM894.91 569.24h4v21.6h-4zM937.11 569.24h4v21.6h-4zM1003.41 569.24h4v21.6h-4zM1015.47 569.24h4v21.6h-4zM1027.53 569.24h4v21.6h-4zM1069.72 569.24h4v21.6h-4zM1093.83 569.24h4v21.6h-4zM1111.92 569.24h4v21.6h-4zM1190.28 569.24h4v21.6h-4zM1196.31 569.24h4v21.6h-4zM1202.34 569.24h4v21.6h-4zM1268.65 569.24h4v21.6h-4zM1334.95 569.24h4v21.6h-4zM1340.98 569.24h4v21.6h-4zM378.09 592.88h4v21.6h-4zM504.68 592.88h4v21.6h-4zM516.74 592.88h4v21.6h-4zM888.88 592.88h4v21.6h-4zM900.94 592.88h4v21.6h-4zM973.27 592.88h4v21.6h-4zM1033.55 592.88h4v21.6h-4zM1069.72 592.88h4v21.6h-4zM1250.56 592.88h4v21.6h-4zM197.25 616.52h4v21.6h-4zM215.34 616.52h4v21.6h-4zM293.7 616.52h4v21.6h-4zM305.76 616.52h4v21.6h-4zM450.43 616.52h4v21.6h-4zM709.63 616.52h4v21.6h-4zM876.83 616.52h4v21.6h-4zM925.05 616.52h4v21.6h-4zM1003.41 616.52h4v21.6h-4zM1027.53 616.52h4v21.6h-4zM1286.73 616.52h4v21.6h-4zM1310.84 616.52h4v21.6h-4zM149.03 640.16h4v21.6h-4zM185.2 640.16h4v21.6h-4zM378.09 640.16h4v21.6h-4zM444.4 640.16h4v21.6h-4zM474.54 640.16h4v21.6h-4zM1105.89 640.16h4v21.6h-4zM1117.95 640.16h4v21.6h-4zM1142.06 640.16h4v21.6h-4zM1148.09 640.16h4v21.6h-4zM1274.67 640.16h4v21.6h-4zM167.11 663.8h4v21.6h-4zM197.25 663.8h4v21.6h-4zM209.31 663.8h4v21.6h-4zM450.43 663.8h4v21.6h-4zM709.63 663.8h4v21.6h-4zM876.83 663.8h4v21.6h-4zM1027.53 663.8h4v21.6h-4zM1310.84 663.8h4v21.6h-4zM149.03 711.08h4v21.6h-4zM444.4 711.08h4v21.6h-4zM967.25 711.08h4v21.6h-4zM607.16 734.72h4v21.6h-4zM774.35 734.72h4v21.6h-4zM1262.62 734.72h4v21.6h-4zM1286.73 734.72h4v21.6h-4zM462.48 782h4v21.6h-4zM522.76 782h4v21.6h-4zM552.9 782h4v21.6h-4zM143 140.98h4v30.35h-4zM149.03 140.98h4v36.42h-4zM155.06 147.05h4v30.35h-4zM161.08 171.33h4v6.07h-4zM167.11 128.84h4v36.42h-4zM179.17 153.12h4v24.28h-4zM185.2 104.56h4v60.7h-4zM191.22 134.91h4v30.35h-4zM197.25 128.84h4v36.42h-4zM203.28 122.77h4v48.56h-4zM209.31 122.77h4v54.63h-4zM215.34 140.98h4v36.42h-4zM221.36 134.91h4v42.49h-4zM227.39 159.19h4v18.21h-4zM233.42 153.12h4v24.28h-4zM239.45 153.12h4v24.28h-4zM245.48 153.12h4v24.28h-4zM251.5 153.12h4v24.28h-4zM257.53 153.12h4v24.28h-4zM263.56 153.12h4v24.28h-4zM269.59 159.19h4v18.21h-4zM275.62 171.33h4v6.07h-4zM281.64 159.19h4v6.07h-4zM293.7 140.98h4v24.28h-4zM299.73 147.05h4v18.21h-4zM305.76 147.05h4v30.35h-4zM317.81 159.19h4v18.21h-4zM378.09 116.7h4v48.56h-4zM384.12 140.98h4v24.28h-4zM390.15 147.05h4v30.35h-4zM396.18 153.12h4v24.28h-4zM402.2 147.05h4v30.35h-4zM408.23 153.12h4v24.28h-4zM414.26 153.12h4v24.28h-4zM420.29 153.12h4v24.28h-4zM426.32 171.33h4v6.07h-4zM432.34 140.98h4v24.28h-4zM438.37 134.91h4v24.28h-4zM444.4 122.77h4v42.49h-4zM450.43 128.84h4v36.42h-4zM456.46 140.98h4v24.28h-4zM462.48 134.91h4v30.35h-4zM468.51 122.77h4v48.56h-4zM474.54 116.7h4v60.7h-4zM480.57 147.05h4v30.35h-4zM486.6 147.05h4v30.35h-4zM492.62 147.05h4v30.35h-4zM498.65 153.12h4v24.28h-4zM504.68 147.05h4v30.35h-4zM510.71 153.12h4v24.28h-4zM516.74 128.84h4v48.56h-4zM522.76 147.05h4v30.35h-4zM528.79 153.12h4v24.28h-4zM534.82 147.05h4v30.35h-4zM540.85 153.12h4v24.28h-4zM546.88 153.12h4v24.28h-4zM552.9 165.26h4v12.14h-4zM558.93 171.33h4v6.07h-4zM564.96 171.33h4v6.07h-4zM583.04 147.05h4v18.21h-4zM589.07 147.05h4v18.21h-4zM595.1 153.12h4v12.14h-4zM607.16 159.19h4v12.14h-4zM613.18 159.19h4v18.21h-4zM619.21 165.26h4v12.14h-4zM631.27 171.33h4v6.07h-4zM637.3 159.19h4v18.21h-4zM643.32 171.33h4v6.07h-4zM661.41 171.33h4v6.07h-4zM667.44 147.05h4v30.35h-4zM709.63 147.05h4v30.35h-4zM715.66 128.84h4v36.42h-4zM721.69 128.84h4v36.42h-4zM727.72 140.98h4v24.28h-4zM733.74 153.12h4v24.28h-4zM774.35 134.91h4v30.35h-4zM780.38 153.12h4v24.28h-4zM786.41 159.19h4v18.21h-4zM792.43 140.98h4v36.42h-4zM798.46 165.26h4v12.14h-4zM816.55 153.12h4v24.28h-4zM822.57 153.12h4v24.28h-4zM828.6 153.12h4v24.28h-4zM834.63 134.91h4v42.49h-4zM840.66 110.63h4v48.56h-4zM846.69 122.77h4v42.49h-4zM852.71 140.98h4v24.28h-4zM858.74 140.98h4v36.42h-4zM864.77 159.19h4v18.21h-4zM870.8 147.05h4v30.35h-4zM876.83 140.98h4v36.42h-4zM882.85 134.91h4v42.49h-4zM888.88 128.84h4v48.56h-4zM894.91 147.05h4v30.35h-4zM900.94 147.05h4v30.35h-4zM906.97 153.12h4v24.28h-4zM912.99 153.12h4v24.28h-4zM919.02 171.33h4v6.07h-4zM925.05 159.19h4v6.07h-4zM931.08 165.26h4v12.14h-4zM937.11 153.12h4v24.28h-4zM967.25 171.33h4v6.07h-4zM973.27 171.33h4v6.07h-4zM1003.41 128.84h4v36.42h-4zM1009.44 140.98h4v24.28h-4zM1015.47 128.84h4v42.49h-4zM1027.53 159.19h4v18.21h-4zM1033.55 147.05h4v30.35h-4zM1039.58 153.12h4v24.28h-4zM1045.61 165.26h4v12.14h-4zM1051.64 171.33h4v6.07h-4zM1069.72 128.84h4v48.56h-4zM1075.75 153.12h4v24.28h-4zM1081.78 153.12h4v24.28h-4zM1087.81 153.12h4v24.28h-4zM1093.83 128.84h4v36.42h-4zM1099.86 140.98h4v24.28h-4zM1105.89 128.84h4v36.42h-4zM1111.92 116.7h4v48.56h-4zM1117.95 116.7h4v48.56h-4zM1123.97 140.98h4v24.28h-4zM1130 140.98h4v24.28h-4zM1136.03 153.12h4v24.28h-4zM1142.06 122.77h4v54.63h-4zM1148.09 147.05h4v30.35h-4zM1154.11 153.12h4v24.28h-4zM1160.14 153.12h4v24.28h-4zM1166.17 153.12h4v24.28h-4zM1172.2 153.12h4v24.28h-4zM1178.23 140.98h4v36.42h-4zM1184.25 140.98h4v36.42h-4zM1190.28 147.05h4v30.35h-4zM1196.31 147.05h4v30.35h-4zM1202.34 147.05h4v30.35h-4zM1208.37 153.12h4v24.28h-4zM1214.39 153.12h4v24.28h-4zM1220.42 153.12h4v24.28h-4zM1226.45 153.12h4v24.28h-4zM1232.48 159.19h4v18.21h-4zM1244.53 165.26h4v12.14h-4zM1250.56 147.05h4v18.21h-4zM1262.62 140.98h4v24.28h-4zM1268.65 159.19h4v6.07h-4zM1274.67 147.05h4v30.35h-4zM1280.7 171.33h4v6.07h-4zM1286.73 147.05h4v30.35h-4zM1292.76 171.33h4v6.07h-4zM1310.84 165.26h4v12.14h-4zM1316.87 159.19h4v18.21h-4zM1334.95 171.33h4v6.07h-4zM1340.98 171.33h4v6.07h-4zM1389.21 165.26h4v12.14h-4z" fill="#D8462D"/>
<path d="M167.11 238.28h4v21.6h-4zM185.2 238.28h4v21.6h-4zM191.22 238.28h4v21.6h-4zM197.25 238.28h4v21.6h-4zM203.28 238.28h4v21.6h-4zM281.64 238.28h4v21.6h-4zM287.67 238.28h4v21.6h-4zM293.7 238.28h4v21.6h-4zM299.73 238.28h4v21.6h-4zM378.09 238.28h4v21.6h-4zM384.12 238.28h4v21.6h-4zM432.34 238.28h4v21.6h-4zM438.37 238.28h4v21.6h-4zM444.4 238.28h4v21.6h-4zM450.43 238.28h4v21.6h-4zM456.46 238.28h4v21.6h-4zM462.48 238.28h4v21.6h-4zM570.99 238.28h4v21.6h-4zM577.02 238.28h4v21.6h-4zM583.04 238.28h4v21.6h-4zM589.07 238.28h4v21.6h-4zM595.1 238.28h4v21.6h-4zM601.13 238.28h4v21.6h-4zM607.16 238.28h4v21.6h-4zM715.66 238.28h4v21.6h-4zM721.69 238.28h4v21.6h-4zM727.72 238.28h4v21.6h-4zM774.35 238.28h4v21.6h-4zM840.66 238.28h4v21.6h-4zM846.69 238.28h4v21.6h-4zM852.71 238.28h4v21.6h-4zM925.05 238.28h4v21.6h-4zM1003.41 238.28h4v21.6h-4zM1009.44 238.28h4v21.6h-4zM1015.47 238.28h4v21.6h-4zM1093.83 238.28h4v21.6h-4zM1099.86 238.28h4v21.6h-4zM1105.89 238.28h4v21.6h-4zM1111.92 238.28h4v21.6h-4zM1117.95 238.28h4v21.6h-4zM1123.97 238.28h4v21.6h-4zM1130 238.28h4v21.6h-4zM1250.56 238.28h4v21.6h-4zM1256.59 238.28h4v21.6h-4zM1262.62 238.28h4v21.6h-4zM1268.65 238.28h4v21.6h-4zM143 261.92h4v21.6h-4zM167.11 261.92h4v21.6h-4zM185.2 261.92h4v21.6h-4zM191.22 261.92h4v21.6h-4zM197.25 261.92h4v21.6h-4zM281.64 261.92h4v21.6h-4zM287.67 261.92h4v21.6h-4zM293.7 261.92h4v21.6h-4zM299.73 261.92h4v21.6h-4zM378.09 261.92h4v21.6h-4zM384.12 261.92h4v21.6h-4zM432.34 261.92h4v21.6h-4zM438.37 261.92h4v21.6h-4zM444.4 261.92h4v21.6h-4zM450.43 261.92h4v21.6h-4zM456.46 261.92h4v21.6h-4zM462.48 261.92h4v21.6h-4zM468.51 261.92h4v21.6h-4zM570.99 261.92h4v21.6h-4zM577.02 261.92h4v21.6h-4zM583.04 261.92h4v21.6h-4zM589.07 261.92h4v21.6h-4zM595.1 261.92h4v21.6h-4zM601.13 261.92h4v21.6h-4zM715.66 261.92h4v21.6h-4zM721.69 261.92h4v21.6h-4zM727.72 261.92h4v21.6h-4zM774.35 261.92h4v21.6h-4zM840.66 261.92h4v21.6h-4zM846.69 261.92h4v21.6h-4zM852.71 261.92h4v21.6h-4zM925.05 261.92h4v21.6h-4zM1003.41 261.92h4v21.6h-4zM1009.44 261.92h4v21.6h-4zM1093.83 261.92h4v21.6h-4zM1099.86 261.92h4v21.6h-4zM1105.89 261.92h4v21.6h-4zM1111.92 261.92h4v21.6h-4zM1117.95 261.92h4v21.6h-4zM1123.97 261.92h4v21.6h-4zM1130 261.92h4v21.6h-4zM1250.56 261.92h4v21.6h-4zM1256.59 261.92h4v21.6h-4zM1262.62 261.92h4v21.6h-4zM1268.65 261.92h4v21.6h-4zM438.37 711.08h4v21.6h-4zM840.66 711.08h4v21.6h-4zM143 171.33h4v6.07h-4zM167.11 165.26h4v12.14h-4zM185.2 165.26h4v12.14h-4zM191.22 165.26h4v12.14h-4zM197.25 165.26h4v12.14h-4zM203.28 171.33h4v6.07h-4zM281.64 165.26h4v12.14h-4zM287.67 165.26h4v12.14h-4zM293.7 165.26h4v12.14h-4zM299.73 165.26h4v12.14h-4zM378.09 165.26h4v12.14h-4zM384.12 165.26h4v12.14h-4zM432.34 165.26h4v12.14h-4zM438.37 159.19h4v18.21h-4zM444.4 165.26h4v12.14h-4zM450.43 165.26h4v12.14h-4zM456.46 165.26h4v12.14h-4zM462.48 165.26h4v12.14h-4zM468.51 171.33h4v6.07h-4zM570.99 165.26h4v12.14h-4zM577.02 165.26h4v12.14h-4zM583.04 165.26h4v12.14h-4zM589.07 165.26h4v12.14h-4zM595.1 165.26h4v12.14h-4zM601.13 165.26h4v12.14h-4zM607.16 171.33h4v6.07h-4zM715.66 165.26h4v12.14h-4zM721.69 165.26h4v12.14h-4zM727.72 165.26h4v12.14h-4zM774.35 165.26h4v12.14h-4zM840.66 159.19h4v18.21h-4zM846.69 165.26h4v12.14h-4zM852.71 165.26h4v12.14h-4zM925.05 165.26h4v12.14h-4zM1003.41 165.26h4v12.14h-4zM1009.44 165.26h4v12.14h-4zM1015.47 171.33h4v6.07h-4zM1093.83 165.26h4v12.14h-4zM1099.86 165.26h4v12.14h-4zM1105.89 165.26h4v12.14h-4zM1111.92 165.26h4v12.14h-4zM1117.95 165.26h4v12.14h-4zM1123.97 165.26h4v12.14h-4zM1130 165.26h4v12.14h-4zM1250.56 165.26h4v12.14h-4zM1256.59 165.26h4v12.14h-4zM1262.62 165.26h4v12.14h-4zM1268.65 165.26h4v12.14h-4z" fill="#3B339F"/>
<path d="M414.26 197.5h4v8.6h-4zM420.29 197.5h4v8.6h-4zM426.32 197.5h4v8.6h-4zM432.34 197.5h4v8.6h-4zM438.37 197.5h4v8.6h-4zM444.4 197.5h4v8.6h-4zM450.43 197.5h4v8.6h-4zM456.46 197.5h4v8.6h-4zM462.48 197.5h4v8.6h-4zM468.51 197.5h4v8.6h-4zM474.54 197.5h4v8.6h-4zM480.57 197.5h4v8.6h-4zM486.6 197.5h4v8.6h-4zM492.62 197.5h4v8.6h-4zM498.65 197.5h4v8.6h-4zM504.68 197.5h4v8.6h-4zM510.71 197.5h4v8.6h-4zM516.74 197.5h4v8.6h-4zM522.76 197.5h4v8.6h-4zM528.79 197.5h4v8.6h-4zM534.82 197.5h4v8.6h-4zM540.85 197.5h4v8.6h-4zM546.88 197.5h4v8.6h-4zM552.9 197.5h4v8.6h-4zM558.93 197.5h4v8.6h-4zM564.96 197.5h4v8.6h-4zM570.99 197.5h4v8.6h-4zM577.02 197.5h4v8.6h-4zM583.04 197.5h4v8.6h-4zM589.07 197.5h4v8.6h-4zM595.1 197.5h4v8.6h-4zM601.13 197.5h4v8.6h-4zM607.16 197.5h4v8.6h-4zM613.18 197.5h4v8.6h-4zM619.21 197.5h4v8.6h-4zM625.24 197.5h4v8.6h-4zM631.27 197.5h4v8.6h-4zM637.3 197.5h4v8.6h-4zM643.32 197.5h4v8.6h-4zM649.35 197.5h4v8.6h-4zM655.38 197.5h4v8.6h-4zM661.41 197.5h4v8.6h-4zM667.44 197.5h4v8.6h-4zM673.46 197.5h4v8.6h-4zM679.49 197.5h4v8.6h-4zM685.52 197.5h4v8.6h-4zM691.55 197.5h4v8.6h-4zM697.58 197.5h4v8.6h-4zM703.6 197.5h4v8.6h-4zM1069.72 197.5h4v8.6h-4zM1075.75 197.5h4v8.6h-4zM1081.78 197.5h4v8.6h-4zM1087.81 197.5h4v8.6h-4zM1093.83 197.5h4v8.6h-4zM1099.86 197.5h4v8.6h-4zM1105.89 197.5h4v8.6h-4zM1111.92 197.5h4v8.6h-4zM1117.95 197.5h4v8.6h-4zM1123.97 197.5h4v8.6h-4zM1130 197.5h4v8.6h-4zM1136.03 197.5h4v8.6h-4zM1142.06 197.5h4v8.6h-4zM1148.09 197.5h4v8.6h-4zM1154.11 197.5h4v8.6h-4zM1160.14 197.5h4v8.6h-4zM1166.17 197.5h4v8.6h-4zM1172.2 197.5h4v8.6h-4zM1178.23 197.5h4v8.6h-4zM1184.25 197.5h4v8.6h-4zM1190.28 197.5h4v8.6h-4zM1196.31 197.5h4v8.6h-4zM1202.34 197.5h4v8.6h-4zM1208.37 197.5h4v8.6h-4zM1214.39 197.5h4v8.6h-4zM1220.42 197.5h4v8.6h-4zM1226.45 197.5h4v8.6h-4zM1232.48 197.5h4v8.6h-4zM1238.51 197.5h4v8.6h-4zM1244.53 197.5h4v8.6h-4zM1250.56 197.5h4v8.6h-4zM1256.59 197.5h4v8.6h-4zM1262.62 197.5h4v8.6h-4zM1268.65 197.5h4v8.6h-4zM1274.67 197.5h4v8.6h-4zM1280.7 197.5h4v8.6h-4zM1286.73 197.5h4v8.6h-4zM1292.76 197.5h4v8.6h-4zM1298.79 197.5h4v8.6h-4zM1304.81 197.5h4v8.6h-4zM1310.84 197.5h4v8.6h-4zM1316.87 197.5h4v8.6h-4zM1322.9 197.5h4v8.6h-4zM1328.93 197.5h4v8.6h-4zM1334.95 197.5h4v8.6h-4zM1340.98 197.5h4v8.6h-4zM1347.01 197.5h4v8.6h-4zM1353.04 197.5h4v8.6h-4zM1359.07 197.5h4v8.6h-4zM1365.09 197.5h4v8.6h-4zM1371.12 197.5h4v8.6h-4zM1377.15 197.5h4v8.6h-4zM1383.18 197.5h4v8.6h-4zM774.35 221.14h4v8.6h-4zM834.63 244.78h4v8.6h-4zM1075.75 244.78h4v8.6h-4zM1081.78 244.78h4v8.6h-4zM1087.81 244.78h4v8.6h-4zM1136.03 268.42h4v8.6h-4zM1045.61 315.7h4v8.6h-4zM1099.86 315.7h4v8.6h-4zM1286.73 315.7h4v8.6h-4zM287.67 339.34h4v8.6h-4zM317.81 339.34h4v8.6h-4zM323.84 339.34h4v8.6h-4zM727.72 339.34h4v8.6h-4zM816.55 339.34h4v8.6h-4zM864.77 339.34h4v8.6h-4zM955.19 339.34h4v8.6h-4zM1238.51 339.34h4v8.6h-4zM1286.73 339.34h4v8.6h-4zM149.03 362.98h4v8.6h-4zM311.78 362.98h4v8.6h-4zM329.87 362.98h4v8.6h-4zM396.18 362.98h4v8.6h-4zM474.54 362.98h4v8.6h-4zM480.57 362.98h4v8.6h-4zM739.77 362.98h4v8.6h-4zM925.05 362.98h4v8.6h-4zM961.22 362.98h4v8.6h-4zM1099.86 362.98h4v8.6h-4zM1304.81 362.98h4v8.6h-4zM1389.21 362.98h4v8.6h-4zM203.28 386.62h4v8.6h-4zM655.38 386.62h4v8.6h-4zM967.25 386.62h4v8.6h-4zM143 410.26h4v8.6h-4zM191.22 410.26h4v8.6h-4zM203.28 410.26h4v8.6h-4zM281.64 410.26h4v8.6h-4zM293.7 410.26h4v8.6h-4zM414.26 410.26h4v8.6h-4zM420.29 410.26h4v8.6h-4zM438.37 410.26h4v8.6h-4zM480.57 410.26h4v8.6h-4zM504.68 410.26h4v8.6h-4zM552.9 410.26h4v8.6h-4zM564.96 410.26h4v8.6h-4zM570.99 410.26h4v8.6h-4zM577.02 410.26h4v8.6h-4zM661.41 410.26h4v8.6h-4zM774.35 410.26h4v8.6h-4zM864.77 410.26h4v8.6h-4zM961.22 410.26h4v8.6h-4zM973.27 410.26h4v8.6h-4zM1003.41 410.26h4v8.6h-4zM1015.47 410.26h4v8.6h-4zM1160.14 410.26h4v8.6h-4zM1166.17 410.26h4v8.6h-4zM1172.2 410.26h4v8.6h-4zM1250.56 410.26h4v8.6h-4zM1256.59 410.26h4v8.6h-4zM1310.84 410.26h4v8.6h-4zM510.71 433.9h4v8.6h-4zM1099.86 433.9h4v8.6h-4zM1244.53 433.9h4v8.6h-4zM774.35 481.18h4v8.6h-4zM1184.25 481.18h4v8.6h-4zM1286.73 481.18h4v8.6h-4zM233.42 528.46h4v8.6h-4zM882.85 528.46h4v8.6h-4zM197.25 552.1h4v8.6h-4zM233.42 552.1h4v8.6h-4zM287.67 552.1h4v8.6h-4zM293.7 552.1h4v8.6h-4zM329.87 552.1h4v8.6h-4zM414.26 552.1h4v8.6h-4zM522.76 552.1h4v8.6h-4zM528.79 552.1h4v8.6h-4zM570.99 552.1h4v8.6h-4zM625.24 552.1h4v8.6h-4zM673.46 552.1h4v8.6h-4zM679.49 552.1h4v8.6h-4zM685.52 552.1h4v8.6h-4zM709.63 552.1h4v8.6h-4zM739.77 552.1h4v8.6h-4zM798.46 552.1h4v8.6h-4zM828.6 552.1h4v8.6h-4zM961.22 552.1h4v8.6h-4zM1021.5 552.1h4v8.6h-4zM1027.53 552.1h4v8.6h-4zM1075.75 552.1h4v8.6h-4zM1081.78 552.1h4v8.6h-4zM1111.92 552.1h4v8.6h-4zM1160.14 552.1h4v8.6h-4zM1178.23 552.1h4v8.6h-4zM1184.25 552.1h4v8.6h-4zM1190.28 552.1h4v8.6h-4zM1268.65 552.1h4v8.6h-4zM1304.81 552.1h4v8.6h-4zM1322.9 552.1h4v8.6h-4zM1328.93 575.74h4v8.6h-4zM143 599.38h4v8.6h-4zM149.03 599.38h4v8.6h-4zM215.34 599.38h4v8.6h-4zM673.46 599.38h4v8.6h-4zM745.8 599.38h4v8.6h-4zM1033.55 599.38h4v8.6h-4zM1268.65 599.38h4v8.6h-4zM149.03 646.66h4v8.6h-4zM384.12 646.66h4v8.6h-4zM852.71 646.66h4v8.6h-4zM1154.11 646.66h4v8.6h-4zM1021.5 670.3h4v8.6h-4zM1268.65 670.3h4v8.6h-4zM143 693.94h4v8.6h-4zM197.25 693.94h4v8.6h-4zM245.48 693.94h4v8.6h-4zM251.5 693.94h4v8.6h-4zM299.73 693.94h4v8.6h-4zM323.84 693.94h4v8.6h-4zM341.92 693.94h4v8.6h-4zM378.09 693.94h4v8.6h-4zM402.2 693.94h4v8.6h-4zM498.65 693.94h4v8.6h-4zM625.24 693.94h4v8.6h-4zM834.63 693.94h4v8.6h-4zM852.71 693.94h4v8.6h-4zM985.33 693.94h4v8.6h-4zM991.36 693.94h4v8.6h-4zM1051.64 693.94h4v8.6h-4zM1184.25 693.94h4v8.6h-4zM1196.31 693.94h4v8.6h-4zM1232.48 693.94h4v8.6h-4zM1256.59 693.94h4v8.6h-4zM1316.87 693.94h4v8.6h-4zM1322.9 693.94h4v8.6h-4zM1334.95 693.94h4v8.6h-4zM1353.04 693.94h4v8.6h-4zM1359.07 693.94h4v8.6h-4zM155.06 717.58h4v8.6h-4zM233.42 717.58h4v8.6h-4zM299.73 717.58h4v8.6h-4zM311.78 717.58h4v8.6h-4zM329.87 717.58h4v8.6h-4zM396.18 717.58h4v8.6h-4zM420.29 717.58h4v8.6h-4zM486.6 717.58h4v8.6h-4zM522.76 717.58h4v8.6h-4zM552.9 717.58h4v8.6h-4zM619.21 717.58h4v8.6h-4zM709.63 717.58h4v8.6h-4zM792.43 717.58h4v8.6h-4zM804.49 717.58h4v8.6h-4zM864.77 717.58h4v8.6h-4zM906.97 717.58h4v8.6h-4zM1184.25 717.58h4v8.6h-4zM1208.37 717.58h4v8.6h-4zM173.14 741.22h4v8.6h-4zM185.2 741.22h4v8.6h-4zM191.22 741.22h4v8.6h-4zM215.34 741.22h4v8.6h-4zM221.36 741.22h4v8.6h-4zM257.53 741.22h4v8.6h-4zM305.76 741.22h4v8.6h-4zM317.81 741.22h4v8.6h-4zM341.92 741.22h4v8.6h-4zM378.09 741.22h4v8.6h-4zM396.18 741.22h4v8.6h-4zM408.23 741.22h4v8.6h-4zM420.29 741.22h4v8.6h-4zM432.34 741.22h4v8.6h-4zM456.46 741.22h4v8.6h-4zM595.1 741.22h4v8.6h-4zM619.21 741.22h4v8.6h-4zM631.27 741.22h4v8.6h-4zM637.3 741.22h4v8.6h-4zM792.43 741.22h4v8.6h-4zM798.46 741.22h4v8.6h-4zM834.63 741.22h4v8.6h-4zM846.69 741.22h4v8.6h-4zM882.85 741.22h4v8.6h-4zM894.91 741.22h4v8.6h-4zM900.94 741.22h4v8.6h-4zM949.16 741.22h4v8.6h-4zM1015.47 741.22h4v8.6h-4zM1045.61 741.22h4v8.6h-4zM1063.69 741.22h4v8.6h-4zM1117.95 741.22h4v8.6h-4zM1148.09 741.22h4v8.6h-4zM1178.23 741.22h4v8.6h-4zM1184.25 741.22h4v8.6h-4zM1196.31 741.22h4v8.6h-4zM1214.39 741.22h4v8.6h-4zM1244.53 741.22h4v8.6h-4zM1250.56 741.22h4v8.6h-4zM1256.59 741.22h4v8.6h-4zM1365.09 741.22h4v8.6h-4zM1371.12 741.22h4v8.6h-4zM185.2 764.86h4v8.6h-4zM269.59 764.86h4v8.6h-4zM347.95 764.86h4v8.6h-4zM390.15 764.86h4v8.6h-4zM462.48 764.86h4v8.6h-4zM504.68 764.86h4v8.6h-4zM534.82 764.86h4v8.6h-4zM1063.69 764.86h4v8.6h-4zM257.53 788.5h4v8.6h-4zM504.68 788.5h4v8.6h-4zM589.07 788.5h4v8.6h-4zM667.44 788.5h4v8.6h-4zM739.77 788.5h4v8.6h-4zM143 116.7h4v24.28h-4zM149.03 116.7h4v24.28h-4zM155.06 128.84h4v18.21h-4zM161.08 165.26h4v6.07h-4zM167.11 122.77h4v6.07h-4zM173.14 165.26h4v12.14h-4zM185.2 92.42h4v12.14h-4zM191.22 122.77h4v12.14h-4zM197.25 116.7h4v12.14h-4zM203.28 104.56h4v18.21h-4zM215.34 128.84h4v12.14h-4zM221.36 128.84h4v6.07h-4zM233.42 134.91h4v18.21h-4zM245.48 147.05h4v6.07h-4zM251.5 147.05h4v6.07h-4zM257.53 140.98h4v12.14h-4zM269.59 153.12h4v6.07h-4zM281.64 153.12h4v6.07h-4zM287.67 153.12h4v12.14h-4zM293.7 128.84h4v12.14h-4zM299.73 134.91h4v12.14h-4zM305.76 140.98h4v6.07h-4zM311.78 165.26h4v12.14h-4zM317.81 147.05h4v12.14h-4zM323.84 165.26h4v12.14h-4zM329.87 159.19h4v18.21h-4zM341.92 165.26h4v12.14h-4zM347.95 171.33h4v6.07h-4zM378.09 98.49h4v18.21h-4zM384.12 134.91h4v6.07h-4zM390.15 134.91h4v12.14h-4zM396.18 128.84h4v24.28h-4zM402.2 128.84h4v18.21h-4zM408.23 140.98h4v12.14h-4zM414.26 134.91h4v18.21h-4zM420.29 128.84h4v24.28h-4zM426.32 165.26h4v6.07h-4zM432.34 128.84h4v12.14h-4zM438.37 122.77h4v12.14h-4zM444.4 116.7h4v6.07h-4zM450.43 122.77h4v6.07h-4zM456.46 128.84h4v12.14h-4zM462.48 122.77h4v12.14h-4zM468.51 116.7h4v6.07h-4zM474.54 104.56h4v12.14h-4zM480.57 128.84h4v18.21h-4zM486.6 134.91h4v12.14h-4zM492.62 140.98h4v6.07h-4zM498.65 140.98h4v12.14h-4zM504.68 122.77h4v24.28h-4zM510.71 140.98h4v12.14h-4zM516.74 122.77h4v6.07h-4zM522.76 128.84h4v18.21h-4zM528.79 140.98h4v12.14h-4zM534.82 134.91h4v12.14h-4zM540.85 147.05h4v6.07h-4zM546.88 147.05h4v6.07h-4zM552.9 147.05h4v18.21h-4zM558.93 165.26h4v6.07h-4zM564.96 159.19h4v12.14h-4zM570.99 147.05h4v18.21h-4zM577.02 153.12h4v12.14h-4zM583.04 140.98h4v6.07h-4zM589.07 134.91h4v12.14h-4zM595.1 140.98h4v12.14h-4zM601.13 159.19h4v6.07h-4zM607.16 153.12h4v6.07h-4zM613.18 153.12h4v6.07h-4zM619.21 147.05h4v18.21h-4zM625.24 153.12h4v24.28h-4zM631.27 153.12h4v18.21h-4zM637.3 147.05h4v12.14h-4zM643.32 165.26h4v6.07h-4zM649.35 171.33h4v6.07h-4zM655.38 165.26h4v12.14h-4zM661.41 159.19h4v12.14h-4zM667.44 134.91h4v12.14h-4zM673.46 159.19h4v18.21h-4zM679.49 165.26h4v12.14h-4zM685.52 165.26h4v12.14h-4zM691.55 171.33h4v6.07h-4zM697.58 171.33h4v6.07h-4zM703.6 171.33h4v6.07h-4zM709.63 134.91h4v12.14h-4zM727.72 134.91h4v6.07h-4zM739.77 159.19h4v18.21h-4zM745.8 171.33h4v6.07h-4zM774.35 110.63h4v24.28h-4zM780.38 147.05h4v6.07h-4zM786.41 153.12h4v6.07h-4zM792.43 122.77h4v18.21h-4zM798.46 147.05h4v18.21h-4zM804.49 165.26h4v12.14h-4zM810.52 171.33h4v6.07h-4zM816.55 147.05h4v6.07h-4zM828.6 147.05h4v6.07h-4zM834.63 116.7h4v18.21h-4zM846.69 116.7h4v6.07h-4zM852.71 128.84h4v12.14h-4zM864.77 140.98h4v18.21h-4zM870.8 140.98h4v6.07h-4zM876.83 134.91h4v6.07h-4zM882.85 122.77h4v12.14h-4zM894.91 140.98h4v6.07h-4zM900.94 140.98h4v6.07h-4zM906.97 147.05h4v6.07h-4zM925.05 153.12h4v6.07h-4zM949.16 171.33h4v6.07h-4zM955.19 171.33h4v6.07h-4zM961.22 159.19h4v18.21h-4zM967.25 165.26h4v6.07h-4zM973.27 165.26h4v6.07h-4zM985.33 171.33h4v6.07h-4zM991.36 171.33h4v6.07h-4zM1003.41 116.7h4v12.14h-4zM1015.47 116.7h4v12.14h-4zM1021.5 165.26h4v12.14h-4zM1027.53 153.12h4v6.07h-4zM1033.55 134.91h4v12.14h-4zM1039.58 147.05h4v6.07h-4zM1045.61 140.98h4v24.28h-4zM1051.64 159.19h4v12.14h-4zM1057.67 171.33h4v6.07h-4zM1063.69 159.19h4v18.21h-4zM1069.72 122.77h4v6.07h-4zM1075.75 134.91h4v18.21h-4zM1081.78 134.91h4v18.21h-4zM1087.81 140.98h4v12.14h-4zM1093.83 122.77h4v6.07h-4zM1099.86 110.63h4v30.35h-4zM1105.89 122.77h4v6.07h-4zM1111.92 104.56h4v12.14h-4zM1117.95 104.56h4v12.14h-4zM1123.97 134.91h4v6.07h-4zM1130 134.91h4v6.07h-4zM1136.03 140.98h4v12.14h-4zM1142.06 116.7h4v6.07h-4zM1148.09 134.91h4v12.14h-4zM1154.11 134.91h4v18.21h-4zM1160.14 134.91h4v18.21h-4zM1166.17 140.98h4v12.14h-4zM1172.2 140.98h4v12.14h-4zM1178.23 122.77h4v18.21h-4zM1184.25 104.56h4v36.42h-4zM1190.28 134.91h4v12.14h-4zM1196.31 128.84h4v18.21h-4zM1202.34 140.98h4v6.07h-4zM1208.37 140.98h4v12.14h-4zM1214.39 140.98h4v12.14h-4zM1220.42 147.05h4v6.07h-4zM1226.45 147.05h4v6.07h-4zM1232.48 147.05h4v12.14h-4zM1238.51 165.26h4v12.14h-4zM1244.53 147.05h4v18.21h-4zM1250.56 128.84h4v18.21h-4zM1256.59 140.98h4v24.28h-4zM1262.62 134.91h4v6.07h-4zM1268.65 134.91h4v24.28h-4zM1274.67 140.98h4v6.07h-4zM1280.7 165.26h4v6.07h-4zM1286.73 116.7h4v30.35h-4zM1292.76 165.26h4v6.07h-4zM1298.79 171.33h4v6.07h-4zM1304.81 159.19h4v18.21h-4zM1310.84 153.12h4v12.14h-4zM1316.87 147.05h4v12.14h-4zM1322.9 159.19h4v18.21h-4zM1328.93 165.26h4v12.14h-4zM1334.95 159.19h4v12.14h-4zM1340.98 165.26h4v6.07h-4zM1347.01 171.33h4v6.07h-4zM1353.04 165.26h4v12.14h-4zM1359.07 165.26h4v12.14h-4zM1365.09 165.26h4v12.14h-4zM1371.12 165.26h4v12.14h-4zM1377.15 171.33h4v6.07h-4zM1383.18 171.33h4v6.07h-4zM1389.21 153.12h4v12.14h-4z" fill="#419F52"/>
<path d="M143 197.5h4v8.6h-4zM149.03 197.5h4v8.6h-4zM155.06 197.5h4v8.6h-4zM161.08 197.5h4v8.6h-4zM167.11 197.5h4v8.6h-4zM173.14 197.5h4v8.6h-4zM179.17 197.5h4v8.6h-4zM185.2 197.5h4v8.6h-4zM191.22 197.5h4v8.6h-4zM197.25 197.5h4v8.6h-4zM203.28 197.5h4v8.6h-4zM209.31 197.5h4v8.6h-4zM215.34 197.5h4v8.6h-4zM221.36 197.5h4v8.6h-4zM227.39 197.5h4v8.6h-4zM233.42 197.5h4v8.6h-4zM239.45 197.5h4v8.6h-4zM245.48 197.5h4v8.6h-4zM251.5 197.5h4v8.6h-4zM257.53 197.5h4v8.6h-4zM263.56 197.5h4v8.6h-4zM269.59 197.5h4v8.6h-4zM275.62 197.5h4v8.6h-4zM281.64 197.5h4v8.6h-4zM287.67 197.5h4v8.6h-4zM293.7 197.5h4v8.6h-4zM299.73 197.5h4v8.6h-4zM305.76 197.5h4v8.6h-4zM311.78 197.5h4v8.6h-4zM317.81 197.5h4v8.6h-4zM323.84 197.5h4v8.6h-4zM329.87 197.5h4v8.6h-4zM335.9 197.5h4v8.6h-4zM341.92 197.5h4v8.6h-4zM347.95 197.5h4v8.6h-4zM353.98 197.5h4v8.6h-4zM360.01 197.5h4v8.6h-4zM366.04 197.5h4v8.6h-4zM372.06 197.5h4v8.6h-4zM390.15 197.5h4v8.6h-4zM396.18 197.5h4v8.6h-4zM402.2 197.5h4v8.6h-4zM408.23 197.5h4v8.6h-4zM774.35 197.5h4v8.6h-4zM780.38 197.5h4v8.6h-4zM786.41 197.5h4v8.6h-4zM792.43 197.5h4v8.6h-4zM798.46 197.5h4v8.6h-4zM804.49 197.5h4v8.6h-4zM810.52 197.5h4v8.6h-4zM816.55 197.5h4v8.6h-4zM822.57 197.5h4v8.6h-4zM828.6 197.5h4v8.6h-4zM834.63 197.5h4v8.6h-4zM840.66 197.5h4v8.6h-4zM846.69 197.5h4v8.6h-4zM852.71 197.5h4v8.6h-4zM858.74 197.5h4v8.6h-4zM864.77 197.5h4v8.6h-4zM870.8 197.5h4v8.6h-4zM876.83 197.5h4v8.6h-4zM882.85 197.5h4v8.6h-4zM888.88 197.5h4v8.6h-4zM894.91 197.5h4v8.6h-4zM900.94 197.5h4v8.6h-4zM906.97 197.5h4v8.6h-4zM912.99 197.5h4v8.6h-4zM919.02 197.5h4v8.6h-4zM925.05 197.5h4v8.6h-4zM931.08 197.5h4v8.6h-4zM937.11 197.5h4v8.6h-4zM943.13 197.5h4v8.6h-4zM949.16 197.5h4v8.6h-4zM955.19 197.5h4v8.6h-4zM961.22 197.5h4v8.6h-4zM967.25 197.5h4v8.6h-4zM973.27 197.5h4v8.6h-4zM979.3 197.5h4v8.6h-4zM985.33 197.5h4v8.6h-4zM991.36 197.5h4v8.6h-4zM997.39 197.5h4v8.6h-4zM1033.55 197.5h4v8.6h-4zM1039.58 197.5h4v8.6h-4zM1045.61 197.5h4v8.6h-4zM1051.64 197.5h4v8.6h-4zM1057.67 197.5h4v8.6h-4zM1063.69 197.5h4v8.6h-4zM179.17 244.78h4v8.6h-4zM414.26 244.78h4v8.6h-4zM420.29 244.78h4v8.6h-4zM426.32 244.78h4v8.6h-4zM552.9 244.78h4v8.6h-4zM558.93 244.78h4v8.6h-4zM564.96 244.78h4v8.6h-4zM780.38 244.78h4v8.6h-4zM816.55 244.78h4v8.6h-4zM822.57 244.78h4v8.6h-4zM1045.61 244.78h4v8.6h-4zM1069.72 244.78h4v8.6h-4zM1238.51 244.78h4v8.6h-4zM1244.53 244.78h4v8.6h-4zM432.34 315.7h4v8.6h-4zM625.24 315.7h4v8.6h-4zM631.27 315.7h4v8.6h-4zM637.3 315.7h4v8.6h-4zM943.13 315.7h4v8.6h-4zM949.16 315.7h4v8.6h-4zM1015.47 315.7h4v8.6h-4zM1274.67 315.7h4v8.6h-4zM1280.7 315.7h4v8.6h-4zM1298.79 315.7h4v8.6h-4zM173.14 339.34h4v8.6h-4zM643.32 339.34h4v8.6h-4zM943.13 362.98h4v8.6h-4zM955.19 362.98h4v8.6h-4zM167.11 410.26h4v8.6h-4zM221.36 410.26h4v8.6h-4zM402.2 410.26h4v8.6h-4zM486.6 410.26h4v8.6h-4zM492.62 410.26h4v8.6h-4zM498.65 410.26h4v8.6h-4zM558.93 410.26h4v8.6h-4zM619.21 410.26h4v8.6h-4zM631.27 410.26h4v8.6h-4zM715.66 410.26h4v8.6h-4zM786.41 410.26h4v8.6h-4zM840.66 410.26h4v8.6h-4zM870.8 410.26h4v8.6h-4zM1045.61 410.26h4v8.6h-4zM1057.67 410.26h4v8.6h-4zM1075.75 410.26h4v8.6h-4zM1244.53 410.26h4v8.6h-4zM637.3 433.9h4v8.6h-4zM1063.69 433.9h4v8.6h-4zM1027.53 575.74h4v8.6h-4zM1244.53 575.74h4v8.6h-4zM239.45 670.3h4v8.6h-4zM155.06 693.94h4v8.6h-4zM203.28 693.94h4v8.6h-4zM239.45 693.94h4v8.6h-4zM335.9 693.94h4v8.6h-4zM384.12 693.94h4v8.6h-4zM396.18 693.94h4v8.6h-4zM438.37 693.94h4v8.6h-4zM468.51 693.94h4v8.6h-4zM486.6 693.94h4v8.6h-4zM558.93 693.94h4v8.6h-4zM564.96 693.94h4v8.6h-4zM631.27 693.94h4v8.6h-4zM709.63 693.94h4v8.6h-4zM786.41 693.94h4v8.6h-4zM798.46 693.94h4v8.6h-4zM840.66 693.94h4v8.6h-4zM949.16 693.94h4v8.6h-4zM979.3 693.94h4v8.6h-4zM1003.41 693.94h4v8.6h-4zM1081.78 693.94h4v8.6h-4zM1099.86 693.94h4v8.6h-4zM1117.95 693.94h4v8.6h-4zM1154.11 693.94h4v8.6h-4zM1238.51 693.94h4v8.6h-4zM1262.62 693.94h4v8.6h-4zM1304.81 693.94h4v8.6h-4zM1347.01 693.94h4v8.6h-4zM1389.21 693.94h4v8.6h-4zM786.41 717.58h4v8.6h-4zM816.55 717.58h4v8.6h-4zM876.83 717.58h4v8.6h-4zM1081.78 717.58h4v8.6h-4zM1099.86 717.58h4v8.6h-4zM643.32 741.22h4v8.6h-4zM209.31 764.86h4v8.6h-4zM601.13 764.86h4v8.6h-4zM673.46 764.86h4v8.6h-4zM679.49 764.86h4v8.6h-4zM912.99 764.86h4v8.6h-4zM1148.09 764.86h4v8.6h-4zM1214.39 764.86h4v8.6h-4zM1286.73 764.86h4v8.6h-4zM143 110.63h4v6.07h-4zM149.03 110.63h4v6.07h-4zM155.06 116.7h4v12.14h-4zM161.08 159.19h4v6.07h-4zM167.11 110.63h4v12.14h-4zM173.14 153.12h4v12.14h-4zM179.17 140.98h4v12.14h-4zM185.2 86.35h4v6.07h-4zM191.22 116.7h4v6.07h-4zM197.25 110.63h4v6.07h-4zM203.28 92.42h4v12.14h-4zM209.31 110.63h4v12.14h-4zM215.34 122.77h4v6.07h-4zM221.36 116.7h4v12.14h-4zM227.39 153.12h4v6.07h-4zM233.42 128.84h4v6.07h-4zM239.45 134.91h4v18.21h-4zM245.48 140.98h4v6.07h-4zM251.5 140.98h4v6.07h-4zM257.53 134.91h4v6.07h-4zM263.56 147.05h4v6.07h-4zM269.59 147.05h4v6.07h-4zM275.62 165.26h4v6.07h-4zM281.64 147.05h4v6.07h-4zM287.67 147.05h4v6.07h-4zM293.7 122.77h4v6.07h-4zM299.73 128.84h4v6.07h-4zM305.76 134.91h4v6.07h-4zM311.78 159.19h4v6.07h-4zM317.81 140.98h4v6.07h-4zM323.84 159.19h4v6.07h-4zM329.87 153.12h4v6.07h-4zM335.9 165.26h4v12.14h-4zM341.92 159.19h4v6.07h-4zM347.95 165.26h4v6.07h-4zM353.98 171.33h4v6.07h-4zM360.01 171.33h4v6.07h-4zM366.04 171.33h4v6.07h-4zM372.06 171.33h4v6.07h-4zM384.12 128.84h4v6.07h-4zM390.15 128.84h4v6.07h-4zM396.18 116.7h4v12.14h-4zM402.2 116.7h4v12.14h-4zM408.23 134.91h4v6.07h-4zM414.26 128.84h4v6.07h-4zM420.29 122.77h4v6.07h-4zM426.32 159.19h4v6.07h-4zM432.34 122.77h4v6.07h-4zM438.37 116.7h4v6.07h-4zM468.51 110.63h4v6.07h-4zM486.6 122.77h4v12.14h-4zM492.62 134.91h4v6.07h-4zM498.65 134.91h4v6.07h-4zM552.9 140.98h4v6.07h-4zM558.93 147.05h4v18.21h-4zM564.96 147.05h4v12.14h-4zM601.13 153.12h4v6.07h-4zM619.21 140.98h4v6.07h-4zM625.24 147.05h4v6.07h-4zM631.27 134.91h4v18.21h-4zM637.3 134.91h4v12.14h-4zM643.32 153.12h4v12.14h-4zM673.46 153.12h4v6.07h-4zM679.49 159.19h4v6.07h-4zM709.63 128.84h4v6.07h-4zM715.66 122.77h4v6.07h-4zM774.35 104.56h4v6.07h-4zM780.38 134.91h4v12.14h-4zM786.41 128.84h4v24.28h-4zM792.43 116.7h4v6.07h-4zM798.46 134.91h4v12.14h-4zM804.49 159.19h4v6.07h-4zM810.52 165.26h4v6.07h-4zM816.55 128.84h4v18.21h-4zM822.57 140.98h4v12.14h-4zM828.6 140.98h4v6.07h-4zM834.63 110.63h4v6.07h-4zM840.66 92.42h4v18.21h-4zM846.69 110.63h4v6.07h-4zM852.71 122.77h4v6.07h-4zM858.74 134.91h4v6.07h-4zM864.77 134.91h4v6.07h-4zM870.8 128.84h4v12.14h-4zM876.83 122.77h4v12.14h-4zM882.85 116.7h4v6.07h-4zM888.88 122.77h4v6.07h-4zM894.91 134.91h4v6.07h-4zM900.94 134.91h4v6.07h-4zM906.97 140.98h4v6.07h-4zM912.99 140.98h4v12.14h-4zM919.02 165.26h4v6.07h-4zM925.05 147.05h4v6.07h-4zM931.08 159.19h4v6.07h-4zM937.11 147.05h4v6.07h-4zM943.13 159.19h4v18.21h-4zM949.16 153.12h4v18.21h-4zM955.19 159.19h4v12.14h-4zM961.22 153.12h4v6.07h-4zM967.25 159.19h4v6.07h-4zM973.27 159.19h4v6.07h-4zM979.3 165.26h4v12.14h-4zM985.33 165.26h4v6.07h-4zM991.36 165.26h4v6.07h-4zM997.39 171.33h4v6.07h-4zM1003.41 110.63h4v6.07h-4zM1009.44 134.91h4v6.07h-4zM1015.47 110.63h4v6.07h-4zM1027.53 147.05h4v6.07h-4zM1033.55 128.84h4v6.07h-4zM1039.58 140.98h4v6.07h-4zM1045.61 122.77h4v18.21h-4zM1051.64 153.12h4v6.07h-4zM1057.67 159.19h4v12.14h-4zM1063.69 147.05h4v12.14h-4zM1069.72 116.7h4v6.07h-4zM1075.75 128.84h4v6.07h-4zM1081.78 122.77h4v12.14h-4zM1099.86 98.49h4v12.14h-4zM1117.95 98.49h4v6.07h-4zM1148.09 128.84h4v6.07h-4zM1154.11 128.84h4v6.07h-4zM1214.39 134.91h4v6.07h-4zM1238.51 153.12h4v12.14h-4zM1244.53 128.84h4v18.21h-4zM1262.62 128.84h4v6.07h-4zM1274.67 134.91h4v6.07h-4zM1280.7 159.19h4v6.07h-4zM1286.73 110.63h4v6.07h-4zM1298.79 165.26h4v6.07h-4zM1304.81 153.12h4v6.07h-4zM1347.01 165.26h4v6.07h-4zM1389.21 147.05h4v6.07h-4z" fill="#EFA52F"/>
<path d="M378.09 197.5h4v8.6h-4zM384.12 197.5h4v8.6h-4zM1003.41 197.5h4v8.6h-4zM1009.44 197.5h4v8.6h-4zM1015.47 197.5h4v8.6h-4zM1021.5 197.5h4v8.6h-4zM1027.53 197.5h4v8.6h-4zM828.6 244.78h4v8.6h-4zM828.6 268.42h4v8.6h-4zM311.78 315.7h4v8.6h-4zM396.18 315.7h4v8.6h-4zM613.18 315.7h4v8.6h-4zM1021.5 315.7h4v8.6h-4zM1057.67 315.7h4v8.6h-4zM649.35 339.34h4v8.6h-4zM1142.06 339.34h4v8.6h-4zM1148.09 339.34h4v8.6h-4zM876.83 410.26h4v8.6h-4zM1154.11 410.26h4v8.6h-4zM155.06 433.9h4v8.6h-4zM1274.67 433.9h4v8.6h-4zM613.18 693.94h4v8.6h-4zM661.41 693.94h4v8.6h-4zM679.49 693.94h4v8.6h-4zM1009.44 693.94h4v8.6h-4zM1021.5 693.94h4v8.6h-4zM1033.55 693.94h4v8.6h-4zM583.04 717.58h4v8.6h-4zM774.35 717.58h4v8.6h-4zM143 741.22h4v8.6h-4zM335.9 741.22h4v8.6h-4zM570.99 741.22h4v8.6h-4zM613.18 741.22h4v8.6h-4zM649.35 741.22h4v8.6h-4zM679.49 741.22h4v8.6h-4zM1238.51 741.22h4v8.6h-4zM1286.73 741.22h4v8.6h-4zM1353.04 741.22h4v8.6h-4zM149.03 764.86h4v8.6h-4zM607.16 764.86h4v8.6h-4zM1359.07 764.86h4v8.6h-4zM625.24 788.5h4v8.6h-4zM1190.28 788.5h4v8.6h-4zM143 105.76h4v4.87h-4zM149.03 105.76h4v4.87h-4zM155.06 111.83h4v4.87h-4zM311.78 154.32h4v4.87h-4zM335.9 160.39h4v4.87h-4zM378.09 93.62h4v4.87h-4zM384.12 123.97h4v4.87h-4zM396.18 111.83h4v4.87h-4zM570.99 142.18h4v4.87h-4zM583.04 136.11h4v4.87h-4zM607.16 148.25h4v4.87h-4zM613.18 136.11h4v17.01h-4zM625.24 142.18h4v4.87h-4zM649.35 160.39h4v10.94h-4zM661.41 154.32h4v4.87h-4zM679.49 148.25h4v10.94h-4zM774.35 99.69h4v4.87h-4zM828.6 130.04h4v10.94h-4zM876.83 117.9h4v4.87h-4zM1003.41 105.76h4v4.87h-4zM1009.44 123.97h4v10.94h-4zM1015.47 105.76h4v4.87h-4zM1021.5 148.25h4v17.01h-4zM1027.53 142.18h4v4.87h-4zM1033.55 123.97h4v4.87h-4zM1057.67 154.32h4v4.87h-4zM1142.06 111.83h4v4.87h-4zM1148.09 123.97h4v4.87h-4zM1154.11 123.97h4v4.87h-4zM1190.28 130.04h4v4.87h-4zM1238.51 148.25h4v4.87h-4zM1274.67 130.04h4v4.87h-4zM1286.73 105.76h4v4.87h-4zM1353.04 160.39h4v4.87h-4zM1359.07 160.39h4v4.87h-4z" fill="#0A0A0A"/>
<line x1="142.1" y1="82" x2="142.1" y2="179.2" stroke="#111" stroke-width="2"/>
<line x1="136.4" y1="177.4" x2="142" y2="177.4" stroke="#111" stroke-width="1.7"/>
<text transform="translate(126.2 177.2) scale(1 1.123)" x="0" y="5.03" font-size="14.6" text-anchor="end">0</text>
<line x1="136.4" y1="147.05" x2="142" y2="147.05" stroke="#111" stroke-width="1.7"/>
<text transform="translate(126.2 146.85) scale(1 1.123)" x="0" y="5.03" font-size="14.6" text-anchor="end">5</text>
<line x1="136.4" y1="116.7" x2="142" y2="116.7" stroke="#111" stroke-width="1.7"/>
<text transform="translate(126.2 116.5) scale(1 1.123)" x="0" y="5.03" font-size="14.6" text-anchor="end">10</text>
<line x1="136.4" y1="86.35" x2="142" y2="86.35" stroke="#111" stroke-width="1.7"/>
<text transform="translate(126.2 86.15) scale(1 1.123)" x="0" y="5.03" font-size="14.6" text-anchor="end">15</text>
<text transform="translate(131.5 202.4) scale(1 1.163)" x="0" y="5.2" font-size="15.1" text-anchor="end">94%</text>
<text transform="translate(1418.6 202.2) scale(1 1.056)" x="0" y="5.44" font-size="15.8" font-style="italic">TP53</text>
<text transform="translate(131.5 226.04) scale(1 1.163)" x="0" y="5.2" font-size="15.1" text-anchor="end">52%</text>
<text transform="translate(1418.6 225.84) scale(1 1.056)" x="0" y="5.44" font-size="15.8" font-style="italic">CCND1</text>
<text transform="translate(131.5 249.68) scale(1 1.163)" x="0" y="5.2" font-size="15.1" text-anchor="end">31%</text>
<text transform="translate(1418.6 249.48) scale(1 1.056)" x="0" y="5.44" font-size="15.8" font-style="italic">CDKN2A</text>
<text transform="translate(131.5 273.32) scale(1 1.163)" x="0" y="5.2" font-size="15.1" text-anchor="end">22%</text>
<text transform="translate(1418.6 273.12) scale(1 1.056)" x="0" y="5.44" font-size="15.8" font-style="italic">CDKN2B</text>
<text transform="translate(131.5 296.96) scale(1 1.163)" x="0" y="5.2" font-size="15.1" text-anchor="end">11%</text>
<text transform="translate(1418.6 296.76) scale(1 1.056)" x="0" y="5.44" font-size="15.8" font-style="italic">MYC</text>
<text transform="translate(131.5 320.6) scale(1 1.163)" x="0" y="5.2" font-size="15.1" text-anchor="end">9%</text>
<text transform="translate(1418.6 320.4) scale(1 1.056)" x="0" y="5.44" font-size="15.8" font-style="italic">RB1</text>
<text transform="translate(131.5 344.24) scale(1 1.163)" x="0" y="5.2" font-size="15.1" text-anchor="end">7%</text>
<text transform="translate(1418.6 344.04) scale(1 1.056)" x="0" y="5.44" font-size="15.8" font-style="italic">FBXW7</text>
<text transform="translate(131.5 367.88) scale(1 1.163)" x="0" y="5.2" font-size="15.1" text-anchor="end">7%</text>
<text transform="translate(1418.6 367.68) scale(1 1.056)" x="0" y="5.44" font-size="15.8" font-style="italic">APC</text>
<text transform="translate(131.5 391.52) scale(1 1.163)" x="0" y="5.2" font-size="15.1" text-anchor="end">6%</text>
<text transform="translate(1418.6 391.32) scale(1 1.056)" x="0" y="5.44" font-size="15.8" font-style="italic">CDK6</text>
<text transform="translate(131.5 415.16) scale(1 1.163)" x="0" y="5.2" font-size="15.1" text-anchor="end">22%</text>
<text transform="translate(1418.6 414.96) scale(1 1.056)" x="0" y="5.44" font-size="15.8" font-style="italic">NOTCH1</text>
<text transform="translate(131.5 438.8) scale(1 1.163)" x="0" y="5.2" font-size="15.1" text-anchor="end">22%</text>
<text transform="translate(1418.6 438.6) scale(1 1.056)" x="0" y="5.44" font-size="15.8" font-style="italic">TP63</text>
<text transform="translate(131.5 462.44) scale(1 1.163)" x="0" y="5.2" font-size="15.1" text-anchor="end">19%</text>
<text transform="translate(1418.6 462.24) scale(1 1.056)" x="0" y="5.44" font-size="15.8" font-style="italic">SOX2</text>
<text transform="translate(131.5 486.08) scale(1 1.163)" x="0" y="5.2" font-size="15.1" text-anchor="end">50%</text>
<text transform="translate(1418.6 485.88) scale(1 1.056)" x="0" y="5.44" font-size="15.8" font-style="italic">FGF3</text>
<text transform="translate(131.5 509.72) scale(1 1.163)" x="0" y="5.2" font-size="15.1" text-anchor="end">50%</text>
<text transform="translate(1418.6 509.52) scale(1 1.056)" x="0" y="5.44" font-size="15.8" font-style="italic">FGF4</text>
<text transform="translate(131.5 533.36) scale(1 1.163)" x="0" y="5.2" font-size="15.1" text-anchor="end">49%</text>
<text transform="translate(1418.6 533.16) scale(1 1.056)" x="0" y="5.44" font-size="15.8" font-style="italic">FGF19</text>
<text transform="translate(131.5 557) scale(1 1.163)" x="0" y="5.2" font-size="15.1" text-anchor="end">29%</text>
<text transform="translate(1418.6 556.8) scale(1 1.056)" x="0" y="5.44" font-size="15.8" font-style="italic">PIK3CA</text>
<text transform="translate(131.5 580.64) scale(1 1.163)" x="0" y="5.2" font-size="15.1" text-anchor="end">16%</text>
<text transform="translate(1418.6 580.44) scale(1 1.056)" x="0" y="5.44" font-size="15.8" font-style="italic">EGFR</text>
<text transform="translate(131.5 604.28) scale(1 1.163)" x="0" y="5.2" font-size="15.1" text-anchor="end">7%</text>
<text transform="translate(1418.6 604.08) scale(1 1.056)" x="0" y="5.44" font-size="15.8" font-style="italic">ERBB2</text>
<text transform="translate(131.5 627.92) scale(1 1.163)" x="0" y="5.2" font-size="15.1" text-anchor="end">6%</text>
<text transform="translate(1418.6 627.72) scale(1 1.056)" x="0" y="5.44" font-size="15.8" font-style="italic">KRAS</text>
<text transform="translate(131.5 651.56) scale(1 1.163)" x="0" y="5.2" font-size="15.1" text-anchor="end">6%</text>
<text transform="translate(1418.6 651.36) scale(1 1.056)" x="0" y="5.44" font-size="15.8" font-style="italic">MET</text>
<text transform="translate(131.5 675.2) scale(1 1.163)" x="0" y="5.2" font-size="15.1" text-anchor="end">5%</text>
<text transform="translate(1418.6 675) scale(1 1.056)" x="0" y="5.44" font-size="15.8" font-style="italic">PIK3C2G</text>
<text transform="translate(131.5 698.84) scale(1 1.163)" x="0" y="5.2" font-size="15.1" text-anchor="end">28%</text>
<text transform="translate(1418.6 698.64) scale(1 1.056)" x="0" y="5.44" font-size="15.8" font-style="italic">KMT2D</text>
<text transform="translate(131.5 722.48) scale(1 1.163)" x="0" y="5.2" font-size="15.1" text-anchor="end">14%</text>
<text transform="translate(1418.6 722.28) scale(1 1.056)" x="0" y="5.44" font-size="15.8" font-style="italic">KMT2C</text>
<text transform="translate(131.5 746.12) scale(1 1.163)" x="0" y="5.2" font-size="15.1" text-anchor="end">26%</text>
<text transform="translate(1418.6 745.92) scale(1 1.056)" x="0" y="5.44" font-size="15.8" font-style="italic">NFE2L2</text>
<text transform="translate(131.5 769.76) scale(1 1.163)" x="0" y="5.2" font-size="15.1" text-anchor="end">9%</text>
<text transform="translate(1418.6 769.56) scale(1 1.056)" x="0" y="5.44" font-size="15.8" font-style="italic">CUL3</text>
<text transform="translate(131.5 793.4) scale(1 1.163)" x="0" y="5.2" font-size="15.1" text-anchor="end">5%</text>
<text transform="translate(1418.6 793.2) scale(1 1.056)" x="0" y="5.44" font-size="15.8" font-style="italic">KEAP1</text>
<rect x="57" y="191" width="29" height="210.76" fill="#409E50"/>
<text transform="translate(73 296.38) rotate(-90) scale(1 1.068)" x="0" y="5.62" font-size="16.3" text-anchor="middle" fill="#fff" textLength="72" lengthAdjust="spacingAndGlyphs">Cell Cycle</text>
<rect x="57" y="403.76" width="29" height="68.92" fill="#D8462D"/>
<text transform="translate(73 437.42) rotate(-90)" x="0" y="3.31" font-size="9.6" text-anchor="middle" fill="#fff" textLength="66.9" lengthAdjust="spacingAndGlyphs">Differentiation</text>
<rect x="57" y="474.68" width="29" height="210.76" fill="#8E479C"/>
<text transform="translate(73 580.06) rotate(-90) scale(1 1.076)" x="0" y="5.86" font-size="17" text-anchor="middle" font-style="italic" fill="#fff" textLength="105.6" lengthAdjust="spacingAndGlyphs">RTK/RAS/PI3K</text>
<rect x="57" y="687.44" width="29" height="45.28" fill="#EFA52F"/>
<text transform="translate(73 711.08) rotate(-90)" x="0" y="2.48" font-size="7.2" text-anchor="middle" fill="#fff" textLength="38.8" lengthAdjust="spacingAndGlyphs">Chromatin</text>
<rect x="57" y="734.72" width="29" height="68.92" fill="#3B339F"/>
<text transform="translate(73 768.48) rotate(-90) scale(1 1.076)" x="0" y="5.86" font-size="17" text-anchor="middle" font-style="italic" fill="#fff" textLength="37.8" lengthAdjust="spacingAndGlyphs">NRF2</text>
<line x1="1491.5" y1="189.9" x2="1589.4" y2="189.9" stroke="#111" stroke-width="1.6"/>
<line x1="1492.3" y1="181.8" x2="1492.3" y2="190.5" stroke="#111" stroke-width="1.5"/>
<text x="1492.3" y="165.83" font-size="14.6" text-anchor="middle">0</text>
<line x1="1534.1" y1="181.8" x2="1534.1" y2="190.5" stroke="#111" stroke-width="1.5"/>
<text x="1534.1" y="165.83" font-size="14.6" text-anchor="middle">100</text>
<line x1="1575.3" y1="181.8" x2="1575.3" y2="190.5" stroke="#111" stroke-width="1.5"/>
<text x="1575.3" y="165.83" font-size="14.6" text-anchor="middle">200</text>
<rect x="1492.3" y="194.9" width="53.3" height="13.8" fill="#419F52"/>
<rect x="1545.6" y="194.9" width="35.4" height="13.8" fill="#EFA52F"/>
<rect x="1581" y="194.9" width="4" height="13.8" fill="#0A0A0A"/>
<rect x="1492.3" y="218.54" width="45.8" height="13.8" fill="#D8462D"/>
<rect x="1492.3" y="242.18" width="19.6" height="13.8" fill="#3B339F"/>
<rect x="1511.9" y="242.18" width="1.6" height="13.8" fill="#419F52"/>
<rect x="1513.5" y="242.18" width="7" height="13.8" fill="#EFA52F"/>
<rect x="1492.3" y="265.82" width="20.4" height="13.8" fill="#3B339F"/>
<rect x="1492.3" y="289.46" width="10" height="13.8" fill="#D8462D"/>
<rect x="1492.3" y="313.1" width="2" height="13.8" fill="#419F52"/>
<rect x="1494.3" y="313.1" width="4.6" height="13.8" fill="#EFA52F"/>
<rect x="1498.9" y="313.1" width="2.3" height="13.8" fill="#0A0A0A"/>
<rect x="1492.3" y="336.74" width="5.2" height="13.8" fill="#419F52"/>
<rect x="1497.5" y="336.74" width="1.4" height="13.8" fill="#0A0A0A"/>
<rect x="1492.3" y="360.38" width="5" height="13.8" fill="#419F52"/>
<rect x="1497.3" y="360.38" width="1.9" height="13.8" fill="#EFA52F"/>
<rect x="1492.3" y="384.02" width="5" height="13.8" fill="#D8462D"/>
<rect x="1497.3" y="384.02" width="1.3" height="13.8" fill="#419F52"/>
<rect x="1492.3" y="407.66" width="13.5" height="13.8" fill="#419F52"/>
<rect x="1505.8" y="407.66" width="7.2" height="13.8" fill="#EFA52F"/>
<rect x="1513" y="407.66" width="1.3" height="13.8" fill="#D8462D"/>
<rect x="1492.3" y="431.3" width="17.9" height="13.8" fill="#D8462D"/>
<rect x="1510.2" y="431.3" width="3.1" height="13.8" fill="#419F52"/>
<rect x="1513.3" y="431.3" width="1" height="13.8" fill="#EFA52F"/>
<rect x="1492.3" y="454.94" width="16.7" height="13.8" fill="#D8462D"/>
<rect x="1492.3" y="478.58" width="43.2" height="13.8" fill="#D8462D"/>
<rect x="1535.5" y="478.58" width="2.2" height="13.8" fill="#419F52"/>
<rect x="1492.3" y="502.22" width="43.2" height="13.8" fill="#D8462D"/>
<rect x="1492.3" y="525.86" width="43" height="13.8" fill="#D8462D"/>
<rect x="1535.3" y="525.86" width="0.6" height="13.8" fill="#0A0A0A"/>
<rect x="1492.3" y="549.5" width="14.7" height="13.8" fill="#D8462D"/>
<rect x="1507" y="549.5" width="12.9" height="13.8" fill="#419F52"/>
<rect x="1492.3" y="573.14" width="13.5" height="13.8" fill="#D8462D"/>
<rect x="1505.8" y="573.14" width="1.5" height="13.8" fill="#EFA52F"/>
<rect x="1492.3" y="596.78" width="4" height="13.8" fill="#D8462D"/>
<rect x="1496.3" y="596.78" width="3.8" height="13.8" fill="#419F52"/>
<rect x="1492.3" y="620.42" width="6" height="13.8" fill="#D8462D"/>
<rect x="1492.3" y="644.06" width="5" height="13.8" fill="#D8462D"/>
<rect x="1497.3" y="644.06" width="1.6" height="13.8" fill="#419F52"/>
<rect x="1492.3" y="667.7" width="4.3" height="13.8" fill="#D8462D"/>
<rect x="1496.6" y="667.7" width="0.9" height="13.8" fill="#EFA52F"/>
<rect x="1492.3" y="691.34" width="11.8" height="13.8" fill="#419F52"/>
<rect x="1504.1" y="691.34" width="11.8" height="13.8" fill="#EFA52F"/>
<rect x="1515.9" y="691.34" width="2.9" height="13.8" fill="#0A0A0A"/>
<rect x="1492.3" y="714.98" width="1.2" height="13.8" fill="#3B339F"/>
<rect x="1493.5" y="714.98" width="8.8" height="13.8" fill="#419F52"/>
<rect x="1502.3" y="714.98" width="2" height="13.8" fill="#EFA52F"/>
<rect x="1504.3" y="714.98" width="1.5" height="13.8" fill="#419F52"/>
<rect x="1492.3" y="738.62" width="2" height="13.8" fill="#D8462D"/>
<rect x="1494.3" y="738.62" width="17.9" height="13.8" fill="#419F52"/>
<rect x="1512.2" y="738.62" width="4.1" height="13.8" fill="#0A0A0A"/>
<rect x="1492.3" y="762.26" width="4" height="13.8" fill="#419F52"/>
<rect x="1496.3" y="762.26" width="2.9" height="13.8" fill="#EFA52F"/>
<rect x="1499.2" y="762.26" width="1.1" height="13.8" fill="#0A0A0A"/>
<rect x="1500.3" y="762.26" width="1" height="13.8" fill="#EFA52F"/>
<rect x="1492.3" y="785.9" width="1" height="13.8" fill="#D8462D"/>
<rect x="1493.3" y="785.9" width="4.2" height="13.8" fill="#419F52"/>
<text x="1647.3" y="272.37" font-size="15.6" textLength="81.8" lengthAdjust="spacingAndGlyphs">Alterations</text>
<rect x="1644.4" y="287.6" width="18" height="17.4" fill="#3B339F"/>
<text x="1673.8" y="301.97" font-size="15.6" textLength="62.5" lengthAdjust="spacingAndGlyphs">Deletion</text>
<rect x="1644.4" y="310.45" width="18" height="17.4" fill="#D8462D"/>
<text x="1673.8" y="324.82" font-size="15.6" textLength="101" lengthAdjust="spacingAndGlyphs">Amplification</text>
<rect x="1644.4" y="333.3" width="18" height="17.4" fill="#CDCDCD"/>
<rect x="1644.4" y="337.7" width="18" height="8.6" fill="#419F52"/>
<text x="1673.8" y="347.67" font-size="15.6" textLength="143.5" lengthAdjust="spacingAndGlyphs">Missense mutation</text>
<rect x="1644.4" y="356.15" width="18" height="17.4" fill="#CDCDCD"/>
<rect x="1644.4" y="360.55" width="18" height="8.6" fill="#EFA52F"/>
<text x="1673.8" y="370.52" font-size="15.6" textLength="154" lengthAdjust="spacingAndGlyphs">Truncating mutation</text>
<rect x="1644.4" y="379" width="18" height="17.4" fill="#CDCDCD"/>
<rect x="1644.4" y="383.4" width="18" height="8.6" fill="#0A0A0A"/>
<text x="1673.8" y="393.37" font-size="15.6" textLength="114.5" lengthAdjust="spacingAndGlyphs">Other mutation</text>
<text transform="translate(26.2 884.9) scale(1 1.056)" x="0" y="16.19" font-size="47" font-weight="bold">B</text>
<text transform="translate(361.5 936.2) scale(1 1.027)" x="0" y="6.72" font-size="19.5" text-anchor="middle" font-weight="bold" textLength="46.2" lengthAdjust="spacingAndGlyphs">mOS</text>
<text transform="translate(473.4 938.2) scale(1 1.027)" x="0" y="6.72" font-size="19.5" text-anchor="middle" font-weight="bold" textLength="109.5" lengthAdjust="spacingAndGlyphs">HR (95% CI)</text>
<text transform="translate(584.7 912.1) scale(1 1.027)" x="0" y="6.72" font-size="19.5" text-anchor="middle" font-weight="bold" textLength="101.6" lengthAdjust="spacingAndGlyphs">Interaction</text>
<text transform="translate(584.1 936.2) scale(1 1.027)" x="0" y="6.72" font-size="19.5" text-anchor="middle" font-weight="bold" font-style="italic">P</text>
<line x1="57" y1="950.3" x2="625.6" y2="950.3" stroke="#222" stroke-width="1.9"/>
<line x1="185.9" y1="950.8" x2="185.9" y2="1500.4" stroke="#444" stroke-width="1.4"/>
<line x1="185.2" y1="1500.4" x2="315" y2="1500.4" stroke="#444" stroke-width="1.4"/>
<line x1="268.7" y1="953" x2="268.7" y2="1499.5" stroke="#b0b0b0" stroke-width="1.2" stroke-dasharray="4 3.5"/>
<text x="97" y="981.77" font-size="15.3" text-anchor="middle" font-style="italic" letter-spacing="0.4">NOTCH1</text>
<text x="159" y="973.17" font-size="15.3" text-anchor="middle" letter-spacing="0.2">WT</text>
<text x="361.3" y="973.17" font-size="15.3" text-anchor="middle" letter-spacing="0.45">6.0 <tspan font-style="italic">v</tspan> 6.9</text>
<text x="407.6" y="973.17" font-size="15.3" textLength="132.3" lengthAdjust="spacingAndGlyphs">0.81 (0.57 to 1.14)</text>
<text x="585" y="972.67" font-size="15.3" text-anchor="middle" letter-spacing="0.4">.0372</text>
<line x1="245.37" y1="967.9" x2="273.77" y2="967.9" stroke="#939393" stroke-width="1.1"/>
<line x1="245.37" y1="965.7" x2="245.37" y2="970.1" stroke="#939393" stroke-width="1.1"/>
<line x1="273.77" y1="965.7" x2="273.77" y2="970.1" stroke="#939393" stroke-width="1.1"/>
<rect x="256.12" y="964.25" width="7.3" height="7.3" fill="#939393"/>
<text x="159" y="991.52" font-size="15.3" text-anchor="middle" letter-spacing="0.2">MUT</text>
<text x="361.3" y="991.52" font-size="15.3" text-anchor="middle" letter-spacing="0.45">18.4 <tspan font-style="italic">v</tspan> 5.3</text>
<text x="407.6" y="991.52" font-size="15.3" textLength="132.3" lengthAdjust="spacingAndGlyphs">0.35 (0.17 to 0.71)</text>
<line x1="195.8" y1="986.25" x2="254.37" y2="986.25" stroke="#7B3FA0" stroke-width="1.2"/>
<line x1="195.8" y1="984.04" x2="195.8" y2="988.45" stroke="#7B3FA0" stroke-width="1.2"/>
<line x1="254.37" y1="984.04" x2="254.37" y2="988.45" stroke="#7B3FA0" stroke-width="1.2"/>
<rect x="221.34" y="982.2" width="8.1" height="8.1" fill="#7B3FA0"/>
<text x="97" y="1018.46" font-size="15.3" text-anchor="middle" font-style="italic" letter-spacing="0.4">KMT2D</text>
<text x="159" y="1009.86" font-size="15.3" text-anchor="middle" letter-spacing="0.2">WT</text>
<text x="361.3" y="1009.86" font-size="15.3" text-anchor="middle" letter-spacing="0.45">7.2 <tspan font-style="italic">v</tspan> 6.9</text>
<text x="407.6" y="1009.86" font-size="15.3" textLength="132.3" lengthAdjust="spacingAndGlyphs">0.81 (0.56 to 1.15)</text>
<text x="585" y="1009.36" font-size="15.3" text-anchor="middle" letter-spacing="0.4">.0633</text>
<line x1="244.64" y1="1004.59" x2="274.13" y2="1004.59" stroke="#939393" stroke-width="1.1"/>
<line x1="244.64" y1="1002.39" x2="244.64" y2="1006.79" stroke="#939393" stroke-width="1.1"/>
<line x1="274.13" y1="1002.39" x2="274.13" y2="1006.79" stroke="#939393" stroke-width="1.1"/>
<rect x="256.12" y="1000.94" width="7.3" height="7.3" fill="#939393"/>
<text x="159" y="1028.21" font-size="15.3" text-anchor="middle" letter-spacing="0.2">MUT</text>
<text x="361.3" y="1028.21" font-size="15.3" text-anchor="middle" letter-spacing="0.45">11.2 <tspan font-style="italic">v</tspan> 4.1</text>
<text x="407.6" y="1028.21" font-size="15.3" textLength="132.3" lengthAdjust="spacingAndGlyphs">0.42 (0.23 to 0.76)</text>
<line x1="208.18" y1="1022.93" x2="257.16" y2="1022.93" stroke="#7B3FA0" stroke-width="1.2"/>
<line x1="208.18" y1="1020.73" x2="208.18" y2="1025.13" stroke="#7B3FA0" stroke-width="1.2"/>
<line x1="257.16" y1="1020.73" x2="257.16" y2="1025.13" stroke="#7B3FA0" stroke-width="1.2"/>
<rect x="228.81" y="1018.88" width="8.1" height="8.1" fill="#7B3FA0"/>
<text x="97" y="1055.15" font-size="15.3" text-anchor="middle" font-style="italic" letter-spacing="0.4">KMT2C</text>
<text x="159" y="1046.55" font-size="15.3" text-anchor="middle" letter-spacing="0.2">WT</text>
<text x="361.3" y="1046.55" font-size="15.3" text-anchor="middle" letter-spacing="0.45">6.9 <tspan font-style="italic">v</tspan> 6.2</text>
<text x="407.6" y="1046.55" font-size="15.3" textLength="132.3" lengthAdjust="spacingAndGlyphs">0.73 (0.53 to 1.01)</text>
<text x="585" y="1046.05" font-size="15.3" text-anchor="middle" letter-spacing="0.4">.2104</text>
<line x1="242.39" y1="1041.28" x2="268.81" y2="1041.28" stroke="#939393" stroke-width="1.1"/>
<line x1="242.39" y1="1039.08" x2="242.39" y2="1043.48" stroke="#939393" stroke-width="1.1"/>
<line x1="268.81" y1="1039.08" x2="268.81" y2="1043.48" stroke="#939393" stroke-width="1.1"/>
<rect x="251.86" y="1037.63" width="7.3" height="7.3" fill="#939393"/>
<text x="159" y="1064.9" font-size="15.3" text-anchor="middle" letter-spacing="0.2">MUT</text>
<text x="361.3" y="1064.9" font-size="15.3" text-anchor="middle" letter-spacing="0.45">16.1 <tspan font-style="italic">v</tspan> 7.5</text>
<text x="407.6" y="1064.9" font-size="15.3" textLength="132.3" lengthAdjust="spacingAndGlyphs">0.39 (0.15 to 0.98)</text>
<line x1="190.67" y1="1059.62" x2="267.57" y2="1059.62" stroke="#7B3FA0" stroke-width="1.2"/>
<line x1="190.67" y1="1057.42" x2="190.67" y2="1061.83" stroke="#7B3FA0" stroke-width="1.2"/>
<line x1="267.57" y1="1057.42" x2="267.57" y2="1061.83" stroke="#7B3FA0" stroke-width="1.2"/>
<rect x="225.77" y="1055.58" width="8.1" height="8.1" fill="#7B3FA0"/>
<text x="97" y="1091.84" font-size="15.3" text-anchor="middle" font-style="italic" letter-spacing="0.4">EGFR</text>
<text x="159" y="1083.24" font-size="15.3" text-anchor="middle" letter-spacing="0.2">WT</text>
<text x="361.3" y="1083.24" font-size="15.3" text-anchor="middle" letter-spacing="0.45">8.6 <tspan font-style="italic">v</tspan> 6.8</text>
<text x="407.6" y="1083.24" font-size="15.3" textLength="132.3" lengthAdjust="spacingAndGlyphs">0.60 (0.42 to 0.84)</text>
<text x="585" y="1082.74" font-size="15.3" text-anchor="middle" letter-spacing="0.4">.0773</text>
<line x1="232.86" y1="1077.97" x2="261.26" y2="1077.97" stroke="#939393" stroke-width="1.1"/>
<line x1="232.86" y1="1075.77" x2="232.86" y2="1080.17" stroke="#939393" stroke-width="1.1"/>
<line x1="261.26" y1="1075.77" x2="261.26" y2="1080.17" stroke="#939393" stroke-width="1.1"/>
<rect x="243.82" y="1074.32" width="7.3" height="7.3" fill="#939393"/>
<text x="159" y="1101.59" font-size="15.3" text-anchor="middle" letter-spacing="0.2">MUT</text>
<text x="361.3" y="1101.59" font-size="15.3" text-anchor="middle" letter-spacing="0.45">3.9 <tspan font-style="italic">v</tspan> 4.1</text>
<text x="407.6" y="1101.59" font-size="15.3" textLength="132.3" lengthAdjust="spacingAndGlyphs">1.26 (0.60 to 2.65)</text>
<line x1="247.47" y1="1096.32" x2="308.33" y2="1096.32" stroke="#7B3FA0" stroke-width="1.2"/>
<line x1="247.47" y1="1094.12" x2="247.47" y2="1098.52" stroke="#7B3FA0" stroke-width="1.2"/>
<line x1="308.33" y1="1094.12" x2="308.33" y2="1098.52" stroke="#7B3FA0" stroke-width="1.2"/>
<rect x="273.82" y="1092.27" width="8.1" height="8.1" fill="#7B3FA0"/>
<text x="97" y="1128.53" font-size="15.3" text-anchor="middle" font-style="italic" letter-spacing="0.4">CCND1</text>
<text x="159" y="1119.93" font-size="15.3" text-anchor="middle" letter-spacing="0.2">WT</text>
<text x="361.3" y="1119.93" font-size="15.3" text-anchor="middle" letter-spacing="0.45">7.8 <tspan font-style="italic">v</tspan> 6.6</text>
<text x="407.6" y="1119.93" font-size="15.3" textLength="132.3" lengthAdjust="spacingAndGlyphs">0.74 (0.47 to 1.15)</text>
<text x="585" y="1119.43" font-size="15.3" text-anchor="middle" letter-spacing="0.4">.5888</text>
<line x1="237.46" y1="1114.66" x2="274.13" y2="1114.66" stroke="#939393" stroke-width="1.1"/>
<line x1="237.46" y1="1112.46" x2="237.46" y2="1116.86" stroke="#939393" stroke-width="1.1"/>
<line x1="274.13" y1="1112.46" x2="274.13" y2="1116.86" stroke="#939393" stroke-width="1.1"/>
<rect x="252.41" y="1111.01" width="7.3" height="7.3" fill="#939393"/>
<text x="159" y="1138.28" font-size="15.3" text-anchor="middle" letter-spacing="0.2">MUT</text>
<text x="361.3" y="1138.28" font-size="15.3" text-anchor="middle" letter-spacing="0.45">8.5 <tspan font-style="italic">v</tspan> 6.8</text>
<text x="407.6" y="1138.28" font-size="15.3" textLength="132.3" lengthAdjust="spacingAndGlyphs">0.62 (0.41 to 0.96)</text>
<line x1="231.87" y1="1133" x2="266.73" y2="1133" stroke="#7B3FA0" stroke-width="1.2"/>
<line x1="231.87" y1="1130.8" x2="231.87" y2="1135.2" stroke="#7B3FA0" stroke-width="1.2"/>
<line x1="266.73" y1="1130.8" x2="266.73" y2="1135.2" stroke="#7B3FA0" stroke-width="1.2"/>
<rect x="244.76" y="1128.95" width="8.1" height="8.1" fill="#7B3FA0"/>
<text x="97" y="1165.22" font-size="15.3" text-anchor="middle" font-style="italic" letter-spacing="0.4">CDKN2A</text>
<text x="159" y="1156.62" font-size="15.3" text-anchor="middle" letter-spacing="0.2">WT</text>
<text x="361.3" y="1156.62" font-size="15.3" text-anchor="middle" letter-spacing="0.45">9.9 <tspan font-style="italic">v</tspan> 7.4</text>
<text x="407.6" y="1156.62" font-size="15.3" textLength="132.3" lengthAdjust="spacingAndGlyphs">0.71 (0.49 to 1.03)</text>
<text x="585" y="1156.12" font-size="15.3" text-anchor="middle" letter-spacing="0.4">.5438</text>
<line x1="239.17" y1="1151.35" x2="269.61" y2="1151.35" stroke="#939393" stroke-width="1.1"/>
<line x1="239.17" y1="1149.15" x2="239.17" y2="1153.55" stroke="#939393" stroke-width="1.1"/>
<line x1="269.61" y1="1149.15" x2="269.61" y2="1153.55" stroke="#939393" stroke-width="1.1"/>
<rect x="250.72" y="1147.7" width="7.3" height="7.3" fill="#939393"/>
<text x="159" y="1174.97" font-size="15.3" text-anchor="middle" letter-spacing="0.2">MUT</text>
<text x="361.3" y="1174.97" font-size="15.3" text-anchor="middle" letter-spacing="0.45">5.5 <tspan font-style="italic">v</tspan> 4.5</text>
<text x="407.6" y="1174.97" font-size="15.3" textLength="132.3" lengthAdjust="spacingAndGlyphs">0.58 (0.33 to 0.99)</text>
<line x1="222.98" y1="1169.69" x2="267.99" y2="1169.69" stroke="#7B3FA0" stroke-width="1.2"/>
<line x1="222.98" y1="1167.49" x2="222.98" y2="1171.89" stroke="#7B3FA0" stroke-width="1.2"/>
<line x1="267.99" y1="1167.49" x2="267.99" y2="1171.89" stroke="#7B3FA0" stroke-width="1.2"/>
<rect x="242.03" y="1165.64" width="8.1" height="8.1" fill="#7B3FA0"/>
<text x="97" y="1201.91" font-size="15.3" text-anchor="middle" font-style="italic" letter-spacing="0.4">CDKN2B</text>
<text x="159" y="1193.31" font-size="15.3" text-anchor="middle" letter-spacing="0.2">WT</text>
<text x="361.3" y="1193.31" font-size="15.3" text-anchor="middle" letter-spacing="0.45">8.6 <tspan font-style="italic">v</tspan> 7.0</text>
<text x="407.6" y="1193.31" font-size="15.3" textLength="132.3" lengthAdjust="spacingAndGlyphs">0.74 (0.52 to 1.05)</text>
<text x="585" y="1192.81" font-size="15.3" text-anchor="middle" letter-spacing="0.4">.2538</text>
<line x1="241.61" y1="1188.04" x2="270.4" y2="1188.04" stroke="#939393" stroke-width="1.1"/>
<line x1="241.61" y1="1185.84" x2="241.61" y2="1190.24" stroke="#939393" stroke-width="1.1"/>
<line x1="270.4" y1="1185.84" x2="270.4" y2="1190.24" stroke="#939393" stroke-width="1.1"/>
<rect x="252.41" y="1184.39" width="7.3" height="7.3" fill="#939393"/>
<text x="159" y="1211.66" font-size="15.3" text-anchor="middle" letter-spacing="0.2">MUT</text>
<text x="361.3" y="1211.66" font-size="15.3" text-anchor="middle" letter-spacing="0.45">5.8 <tspan font-style="italic">v</tspan> 4.7</text>
<text x="407.6" y="1211.66" font-size="15.3" textLength="132.3" lengthAdjust="spacingAndGlyphs">0.48 (0.25 to 0.94)</text>
<line x1="211.6" y1="1206.38" x2="265.86" y2="1206.38" stroke="#7B3FA0" stroke-width="1.2"/>
<line x1="211.6" y1="1204.18" x2="211.6" y2="1208.59" stroke="#7B3FA0" stroke-width="1.2"/>
<line x1="265.86" y1="1204.18" x2="265.86" y2="1208.59" stroke="#7B3FA0" stroke-width="1.2"/>
<rect x="234.28" y="1202.34" width="8.1" height="8.1" fill="#7B3FA0"/>
<text x="97" y="1238.6" font-size="15.3" text-anchor="middle" font-style="italic" letter-spacing="0.4">MYC</text>
<text x="159" y="1230" font-size="15.3" text-anchor="middle" letter-spacing="0.2">WT</text>
<text x="361.3" y="1230" font-size="15.3" text-anchor="middle" letter-spacing="0.45">8.5 <tspan font-style="italic">v</tspan> 6.9</text>
<text x="407.6" y="1230" font-size="15.3" textLength="132.3" lengthAdjust="spacingAndGlyphs">0.69 (0.50 to 0.96)</text>
<text x="585" y="1229.5" font-size="15.3" text-anchor="middle" letter-spacing="0.4">.3774</text>
<line x1="240" y1="1224.73" x2="266.73" y2="1224.73" stroke="#939393" stroke-width="1.1"/>
<line x1="240" y1="1222.53" x2="240" y2="1226.93" stroke="#939393" stroke-width="1.1"/>
<line x1="266.73" y1="1222.53" x2="266.73" y2="1226.93" stroke="#939393" stroke-width="1.1"/>
<rect x="249.55" y="1221.08" width="7.3" height="7.3" fill="#939393"/>
<text x="159" y="1248.35" font-size="15.3" text-anchor="middle" letter-spacing="0.2">MUT</text>
<text x="361.3" y="1248.35" font-size="15.3" text-anchor="middle" letter-spacing="0.45">4.3 <tspan font-style="italic">v</tspan> 3.8</text>
<text x="407.6" y="1248.35" font-size="15.3" textLength="132.3" lengthAdjust="spacingAndGlyphs">0.45 (0.19 to 1.10)</text>
<line x1="200.36" y1="1243.07" x2="272.31" y2="1243.07" stroke="#7B3FA0" stroke-width="1.2"/>
<line x1="200.36" y1="1240.87" x2="200.36" y2="1245.27" stroke="#7B3FA0" stroke-width="1.2"/>
<line x1="272.31" y1="1240.87" x2="272.31" y2="1245.27" stroke="#7B3FA0" stroke-width="1.2"/>
<rect x="231.63" y="1239.02" width="8.1" height="8.1" fill="#7B3FA0"/>
<text x="97" y="1275.29" font-size="15.3" text-anchor="middle" font-style="italic" letter-spacing="0.4">TP63</text>
<text x="159" y="1266.69" font-size="15.3" text-anchor="middle" letter-spacing="0.2">WT</text>
<text x="361.3" y="1266.69" font-size="15.3" text-anchor="middle" letter-spacing="0.45">7.4 <tspan font-style="italic">v</tspan> 6.0</text>
<text x="407.6" y="1266.69" font-size="15.3" textLength="132.3" lengthAdjust="spacingAndGlyphs">0.72 (0.51 to 1.02)</text>
<text x="585" y="1266.19" font-size="15.3" text-anchor="middle" letter-spacing="0.4">.4027</text>
<line x1="240.81" y1="1261.42" x2="269.21" y2="1261.42" stroke="#939393" stroke-width="1.1"/>
<line x1="240.81" y1="1259.22" x2="240.81" y2="1263.62" stroke="#939393" stroke-width="1.1"/>
<line x1="269.21" y1="1259.22" x2="269.21" y2="1263.62" stroke="#939393" stroke-width="1.1"/>
<rect x="251.29" y="1257.77" width="7.3" height="7.3" fill="#939393"/>
<text x="159" y="1285.04" font-size="15.3" text-anchor="middle" letter-spacing="0.2">MUT</text>
<text x="361.3" y="1285.04" font-size="15.3" text-anchor="middle" letter-spacing="0.45">12.1 <tspan font-style="italic">v</tspan> 7.5</text>
<text x="407.6" y="1285.04" font-size="15.3" textLength="132.3" lengthAdjust="spacingAndGlyphs">0.52 (0.25 to 1.04)</text>
<line x1="211.6" y1="1279.76" x2="270.01" y2="1279.76" stroke="#7B3FA0" stroke-width="1.2"/>
<line x1="211.6" y1="1277.56" x2="211.6" y2="1281.96" stroke="#7B3FA0" stroke-width="1.2"/>
<line x1="270.01" y1="1277.56" x2="270.01" y2="1281.96" stroke="#7B3FA0" stroke-width="1.2"/>
<rect x="237.56" y="1275.71" width="8.1" height="8.1" fill="#7B3FA0"/>
<text x="97" y="1311.98" font-size="15.3" text-anchor="middle" font-style="italic" letter-spacing="0.4">SOX2</text>
<text x="159" y="1303.38" font-size="15.3" text-anchor="middle" letter-spacing="0.2">WT</text>
<text x="361.3" y="1303.38" font-size="15.3" text-anchor="middle" letter-spacing="0.45">7.8 <tspan font-style="italic">v</tspan> 5.8</text>
<text x="407.6" y="1303.38" font-size="15.3" textLength="132.3" lengthAdjust="spacingAndGlyphs">0.68 (0.48 to 0.95)</text>
<text x="585" y="1302.88" font-size="15.3" text-anchor="middle" letter-spacing="0.4">.9535</text>
<line x1="238.33" y1="1298.11" x2="266.3" y2="1298.11" stroke="#939393" stroke-width="1.1"/>
<line x1="238.33" y1="1295.91" x2="238.33" y2="1300.31" stroke="#939393" stroke-width="1.1"/>
<line x1="266.3" y1="1295.91" x2="266.3" y2="1300.31" stroke="#939393" stroke-width="1.1"/>
<rect x="248.95" y="1294.46" width="7.3" height="7.3" fill="#939393"/>
<text x="159" y="1321.73" font-size="15.3" text-anchor="middle" letter-spacing="0.2">MUT</text>
<text x="361.3" y="1321.73" font-size="15.3" text-anchor="middle" letter-spacing="0.45">8.6 <tspan font-style="italic">v</tspan> 7.9</text>
<text x="407.6" y="1321.73" font-size="15.3" textLength="132.3" lengthAdjust="spacingAndGlyphs">0.66 (0.31 to 1.41)</text>
<line x1="220.41" y1="1316.45" x2="282.48" y2="1316.45" stroke="#7B3FA0" stroke-width="1.2"/>
<line x1="220.41" y1="1314.25" x2="220.41" y2="1318.65" stroke="#7B3FA0" stroke-width="1.2"/>
<line x1="282.48" y1="1314.25" x2="282.48" y2="1318.65" stroke="#7B3FA0" stroke-width="1.2"/>
<rect x="247.33" y="1312.4" width="8.1" height="8.1" fill="#7B3FA0"/>
<text x="97" y="1348.67" font-size="15.3" text-anchor="middle" font-style="italic" letter-spacing="0.4">FGF3</text>
<text x="159" y="1340.07" font-size="15.3" text-anchor="middle" letter-spacing="0.2">WT</text>
<text x="361.3" y="1340.07" font-size="15.3" text-anchor="middle" letter-spacing="0.45">8.3 <tspan font-style="italic">v</tspan> 7.2</text>
<text x="407.6" y="1340.07" font-size="15.3" textLength="132.3" lengthAdjust="spacingAndGlyphs">0.80 (0.51 to 1.24)</text>
<text x="585" y="1339.57" font-size="15.3" text-anchor="middle" letter-spacing="0.4">.2732</text>
<line x1="240.81" y1="1334.8" x2="277.21" y2="1334.8" stroke="#939393" stroke-width="1.1"/>
<line x1="240.81" y1="1332.6" x2="240.81" y2="1337" stroke="#939393" stroke-width="1.1"/>
<line x1="277.21" y1="1332.6" x2="277.21" y2="1337" stroke="#939393" stroke-width="1.1"/>
<rect x="255.61" y="1331.15" width="7.3" height="7.3" fill="#939393"/>
<text x="159" y="1358.42" font-size="15.3" text-anchor="middle" letter-spacing="0.2">MUT</text>
<text x="361.3" y="1358.42" font-size="15.3" text-anchor="middle" letter-spacing="0.45">7.2 <tspan font-style="italic">v</tspan> 5.2</text>
<text x="407.6" y="1358.42" font-size="15.3" textLength="132.3" lengthAdjust="spacingAndGlyphs">0.56 (0.36 to 0.87)</text>
<line x1="226.54" y1="1353.14" x2="262.69" y2="1353.14" stroke="#7B3FA0" stroke-width="1.2"/>
<line x1="226.54" y1="1350.94" x2="226.54" y2="1355.35" stroke="#7B3FA0" stroke-width="1.2"/>
<line x1="262.69" y1="1350.94" x2="262.69" y2="1355.35" stroke="#7B3FA0" stroke-width="1.2"/>
<rect x="240.59" y="1349.1" width="8.1" height="8.1" fill="#7B3FA0"/>
<text x="97" y="1385.36" font-size="15.3" text-anchor="middle" font-style="italic" letter-spacing="0.4">PIK3CA</text>
<text x="159" y="1376.76" font-size="15.3" text-anchor="middle" letter-spacing="0.2">WT</text>
<text x="361.3" y="1376.76" font-size="15.3" text-anchor="middle" letter-spacing="0.45">9.3 <tspan font-style="italic">v</tspan> 5.8</text>
<text x="407.6" y="1376.76" font-size="15.3" textLength="132.3" lengthAdjust="spacingAndGlyphs">0.65 (0.45 to 0.93)</text>
<text x="585" y="1376.26" font-size="15.3" text-anchor="middle" letter-spacing="0.4">.6342</text>
<line x1="235.68" y1="1371.49" x2="265.43" y2="1371.49" stroke="#939393" stroke-width="1.1"/>
<line x1="235.68" y1="1369.29" x2="235.68" y2="1373.69" stroke="#939393" stroke-width="1.1"/>
<line x1="265.43" y1="1369.29" x2="265.43" y2="1373.69" stroke="#939393" stroke-width="1.1"/>
<rect x="247.1" y="1367.84" width="7.3" height="7.3" fill="#939393"/>
<text x="159" y="1395.11" font-size="15.3" text-anchor="middle" letter-spacing="0.2">MUT</text>
<text x="361.3" y="1395.11" font-size="15.3" text-anchor="middle" letter-spacing="0.45">5.7 <tspan font-style="italic">v</tspan> 7.6</text>
<text x="407.6" y="1395.11" font-size="15.3" textLength="132.3" lengthAdjust="spacingAndGlyphs">0.76 (0.43 to 1.36)</text>
<line x1="233.82" y1="1389.84" x2="281" y2="1389.84" stroke="#7B3FA0" stroke-width="1.2"/>
<line x1="233.82" y1="1387.63" x2="233.82" y2="1392.04" stroke="#7B3FA0" stroke-width="1.2"/>
<line x1="281" y1="1387.63" x2="281" y2="1392.04" stroke="#7B3FA0" stroke-width="1.2"/>
<rect x="253.11" y="1385.79" width="8.1" height="8.1" fill="#7B3FA0"/>
<text x="97" y="1422.05" font-size="15.3" text-anchor="middle" font-style="italic" letter-spacing="0.4">NFE2L2</text>
<text x="159" y="1413.45" font-size="15.3" text-anchor="middle" letter-spacing="0.2">WT</text>
<text x="361.3" y="1413.45" font-size="15.3" text-anchor="middle" letter-spacing="0.45">8.6 <tspan font-style="italic">v</tspan> 6.9</text>
<text x="407.6" y="1413.45" font-size="15.3" textLength="132.3" lengthAdjust="spacingAndGlyphs">0.72 (0.51 to 1.04)</text>
<text x="585" y="1412.95" font-size="15.3" text-anchor="middle" letter-spacing="0.4">.3454</text>
<line x1="240.81" y1="1408.18" x2="270.01" y2="1408.18" stroke="#939393" stroke-width="1.1"/>
<line x1="240.81" y1="1405.98" x2="240.81" y2="1410.38" stroke="#939393" stroke-width="1.1"/>
<line x1="270.01" y1="1405.98" x2="270.01" y2="1410.38" stroke="#939393" stroke-width="1.1"/>
<rect x="251.29" y="1404.53" width="7.3" height="7.3" fill="#939393"/>
<text x="159" y="1431.8" font-size="15.3" text-anchor="middle" letter-spacing="0.2">MUT</text>
<text x="361.3" y="1431.8" font-size="15.3" text-anchor="middle" letter-spacing="0.45">4.6 <tspan font-style="italic">v</tspan> 4.1</text>
<text x="407.6" y="1431.8" font-size="15.3" textLength="132.3" lengthAdjust="spacingAndGlyphs">0.52 (0.28 to 0.95)</text>
<line x1="216.24" y1="1426.53" x2="266.3" y2="1426.53" stroke="#7B3FA0" stroke-width="1.2"/>
<line x1="216.24" y1="1424.33" x2="216.24" y2="1428.73" stroke="#7B3FA0" stroke-width="1.2"/>
<line x1="266.3" y1="1424.33" x2="266.3" y2="1428.73" stroke="#7B3FA0" stroke-width="1.2"/>
<rect x="237.56" y="1422.48" width="8.1" height="8.1" fill="#7B3FA0"/>
<text x="97" y="1458.74" font-size="15.3" text-anchor="middle" letter-spacing="0.4">TMB</text>
<text x="159" y="1450.14" font-size="15.3" text-anchor="middle" letter-spacing="0.2">&lt;10</text>
<text x="361.3" y="1450.14" font-size="15.3" text-anchor="middle" letter-spacing="0.45">8.6 <tspan font-style="italic">v</tspan> 7.0</text>
<text x="407.6" y="1450.14" font-size="15.3" textLength="132.3" lengthAdjust="spacingAndGlyphs">0.72 (0.50 to 1.03)</text>
<text x="585" y="1449.64" font-size="15.3" text-anchor="middle" letter-spacing="0.4">.5374</text>
<line x1="240" y1="1444.87" x2="269.61" y2="1444.87" stroke="#939393" stroke-width="1.1"/>
<line x1="240" y1="1442.67" x2="240" y2="1447.07" stroke="#939393" stroke-width="1.1"/>
<line x1="269.61" y1="1442.67" x2="269.61" y2="1447.07" stroke="#939393" stroke-width="1.1"/>
<rect x="251.29" y="1441.22" width="7.3" height="7.3" fill="#939393"/>
<text x="159" y="1468.49" font-size="15.3" text-anchor="middle" letter-spacing="0.2">≥10</text>
<text x="361.3" y="1468.49" font-size="15.3" text-anchor="middle" letter-spacing="0.45">6.1 <tspan font-style="italic">v</tspan> 4.7</text>
<text x="407.6" y="1468.49" font-size="15.3" textLength="132.3" lengthAdjust="spacingAndGlyphs">0.58 (0.32 to 1.04)</text>
<line x1="221.71" y1="1463.21" x2="270.01" y2="1463.21" stroke="#7B3FA0" stroke-width="1.2"/>
<line x1="221.71" y1="1461.01" x2="221.71" y2="1465.41" stroke="#7B3FA0" stroke-width="1.2"/>
<line x1="270.01" y1="1461.01" x2="270.01" y2="1465.41" stroke="#7B3FA0" stroke-width="1.2"/>
<rect x="242.03" y="1459.16" width="8.1" height="8.1" fill="#7B3FA0"/>
<text x="96.5" y="1496.57" font-size="15.3" text-anchor="middle">BEP</text>
<text x="361.3" y="1496.57" font-size="15.3" text-anchor="middle" letter-spacing="0.45">8.0 <tspan font-style="italic">v</tspan> 6.8</text>
<text x="407.6" y="1496.57" font-size="15.3" textLength="132.3" lengthAdjust="spacingAndGlyphs">0.68 (0.50 to 0.92)</text>
<line x1="240" y1="1491.3" x2="264.98" y2="1491.3" stroke="#111" stroke-width="1.6"/>
<line x1="240" y1="1488.8" x2="240" y2="1493.8" stroke="#111" stroke-width="1.6"/>
<line x1="264.98" y1="1488.8" x2="264.98" y2="1493.8" stroke="#111" stroke-width="1.6"/>
<circle cx="252.6" cy="1491.3" r="3.2" fill="#111"/>
<line x1="211.6" y1="1500.4" x2="211.6" y2="1504.6" stroke="#666" stroke-width="1.4"/>
<line x1="240" y1="1500.4" x2="240" y2="1504.6" stroke="#666" stroke-width="1.4"/>
<line x1="268.4" y1="1500.4" x2="268.4" y2="1504.6" stroke="#666" stroke-width="1.4"/>
<line x1="296.8" y1="1500.4" x2="296.8" y2="1504.6" stroke="#666" stroke-width="1.4"/>
<text x="212.6" y="1524.67" font-size="15.3" text-anchor="middle">0.25</text>
<text x="241.5" y="1524.67" font-size="15.3" text-anchor="middle">0.5</text>
<text x="268.4" y="1524.67" font-size="15.3" text-anchor="middle">1</text>
<text x="296.8" y="1524.67" font-size="15.3" text-anchor="middle">2</text>
<line x1="257" y1="1537.3" x2="199.8" y2="1537.3" stroke="#D05A4E" stroke-width="1.8"/>
<polygon points="189,1537.3 202.5,1530.8 202.5,1543.8" fill="#D05A4E"/>
<line x1="272" y1="1537.3" x2="328.7" y2="1537.3" stroke="#1F5A8C" stroke-width="1.8"/>
<polygon points="339.5,1537.3 326,1530.8 326,1543.8" fill="#1F5A8C"/>
<text x="215" y="1563.53" font-size="14.6" text-anchor="middle" fill="#C0504D" textLength="84" lengthAdjust="spacingAndGlyphs">Tisle Better</text>
<text x="309.5" y="1563.53" font-size="14.6" text-anchor="middle" fill="#2F5F98" textLength="75" lengthAdjust="spacingAndGlyphs">ICC Better</text>
<text transform="translate(693.7 885) scale(1 1.056)" x="0" y="16.19" font-size="47" font-weight="bold">C</text>
<text transform="translate(1045.9 918) scale(1 1.050)" x="0" y="8.1" font-size="23.5" text-anchor="middle" font-weight="bold" font-style="italic" textLength="97.1" lengthAdjust="spacingAndGlyphs">NOTCH1</text>
<line x1="822.2" y1="941.6" x2="822.2" y2="1280.4" stroke="#222" stroke-width="2.1"/>
<line x1="814.2" y1="1272" x2="1273.5" y2="1272" stroke="#222" stroke-width="2.3"/>
<text transform="translate(804.5 1271.5) scale(1 1.117)" x="0" y="6.13" font-size="17.8" text-anchor="end">0</text>
<line x1="814.2" y1="1193.47" x2="822.2" y2="1193.47" stroke="#222" stroke-width="2.1"/>
<text transform="translate(804.5 1192.97) scale(1 1.117)" x="0" y="6.13" font-size="17.8" text-anchor="end">25</text>
<line x1="814.2" y1="1114.95" x2="822.2" y2="1114.95" stroke="#222" stroke-width="2.1"/>
<text transform="translate(804.5 1114.45) scale(1 1.117)" x="0" y="6.13" font-size="17.8" text-anchor="end">50</text>
<line x1="814.2" y1="1036.42" x2="822.2" y2="1036.42" stroke="#222" stroke-width="2.1"/>
<text transform="translate(804.5 1035.92) scale(1 1.117)" x="0" y="6.13" font-size="17.8" text-anchor="end">75</text>
<line x1="814.2" y1="957.9" x2="822.2" y2="957.9" stroke="#222" stroke-width="2.1"/>
<text transform="translate(804.5 957.4) scale(1 1.117)" x="0" y="6.13" font-size="17.8" text-anchor="end">100</text>
<text transform="translate(822.8 1302) scale(1 1.117)" x="0" y="6.13" font-size="17.8" text-anchor="middle">0</text>
<line x1="893.8" y1="1272" x2="893.8" y2="1280.4" stroke="#222" stroke-width="2.1"/>
<text transform="translate(894.4 1302) scale(1 1.117)" x="0" y="6.13" font-size="17.8" text-anchor="middle">5</text>
<line x1="965.4" y1="1272" x2="965.4" y2="1280.4" stroke="#222" stroke-width="2.1"/>
<text transform="translate(966 1302) scale(1 1.117)" x="0" y="6.13" font-size="17.8" text-anchor="middle">10</text>
<line x1="1037" y1="1272" x2="1037" y2="1280.4" stroke="#222" stroke-width="2.1"/>
<text transform="translate(1037.6 1302) scale(1 1.117)" x="0" y="6.13" font-size="17.8" text-anchor="middle">15</text>
<line x1="1108.6" y1="1272" x2="1108.6" y2="1280.4" stroke="#222" stroke-width="2.1"/>
<text transform="translate(1109.2 1302) scale(1 1.117)" x="0" y="6.13" font-size="17.8" text-anchor="middle">20</text>
<line x1="1180.2" y1="1272" x2="1180.2" y2="1280.4" stroke="#222" stroke-width="2.1"/>
<text transform="translate(1180.8 1302) scale(1 1.117)" x="0" y="6.13" font-size="17.8" text-anchor="middle">25</text>
<line x1="1251.8" y1="1272" x2="1251.8" y2="1280.4" stroke="#222" stroke-width="2.1"/>
<text transform="translate(1252.4 1302) scale(1 1.117)" x="0" y="6.13" font-size="17.8" text-anchor="middle">30</text>
<text transform="translate(729.8 1110.8) rotate(-90) scale(1 1.025)" x="0" y="11.37" font-size="33" text-anchor="middle" textLength="82.4" lengthAdjust="spacingAndGlyphs">OS (%)</text>
<text x="1045" y="1363" font-size="32.5" text-anchor="middle" textLength="180.9" lengthAdjust="spacingAndGlyphs">Time (months)</text>
<line x1="822.2" y1="1114.95" x2="1082.28" y2="1114.95" stroke="#222" stroke-width="1.9" stroke-dasharray="8.5 6.5"/>
<line x1="890.36" y1="1121.23" x2="890.36" y2="1272" stroke="#222" stroke-width="2.6" stroke-dasharray="7 8"/>
<line x1="901.65" y1="1114.95" x2="901.65" y2="1272" stroke="#222" stroke-width="2.6" stroke-dasharray="7 8"/>
<line x1="914.37" y1="1114.95" x2="914.37" y2="1272" stroke="#222" stroke-width="2.6" stroke-dasharray="7 8"/>
<line x1="1082.28" y1="1114.95" x2="1082.28" y2="1272" stroke="#222" stroke-width="2.6" stroke-dasharray="7 8"/>
<path d="M822.2 957.9H822.91V962.61H823.63V967.32H827.49V972.03H831.35V976.75H832.97V980.62H834.58V984.49H836.2V988.37H839.25V992.87H842.3V997.37H845.35V1001.87H848.92V1005.64H852.49V1009.41H856.07V1013.18H856.89V1016.95H857.71V1020.72H858.53V1024.49H859.35V1028.26H861.59V1032.03H863.83V1035.8H866.07V1039.57H868.83V1044.07H871.6V1048.57H874.36V1053.07H874.79V1057.16H875.22V1061.24H875.64V1065.32H876.07V1069.41H877.05V1073.36H878.02V1077.32H878.99V1081.28H879.96V1085.24H880.93V1089.19H886.72V1093.43H892.51V1097.67H894.51V1101.82H896.51V1105.97H898.51V1110.11H900.51V1114.26H902.51V1118.41H915.8V1122.49H920.73V1126.57H925.66V1130.65H939.81V1134.42H940.66V1138.19H962.96V1141.81H967.1V1145.42H972.63V1149.29H978.15V1153.17H983.68V1157.04H987.82V1161.28H991.97V1165.52H995.25V1169.6H998.54V1173.69H1015.12V1178.71H1018.4V1182.8H1030.83V1187.35H1031.69V1191.9H1060.49V1195.2H1062.99V1198.5H1067.99V1201.64H1090.85V1206.67H1093.71V1211.69H1121.1V1215.25H1121.34V1218.81H1121.58V1222.37H1175.16" fill="none" stroke="#E19C93" stroke-width="2.3" stroke-linejoin="miter"/>
<path d="M953.67 1133.69v9M963.67 1137.31v9M1016.54 1174.21v9M1032.26 1187.4v9M1059.41 1187.4v9M1069.42 1197.14v9M1089.42 1197.14v9M1103.71 1207.19v9M1105.86 1207.19v9M1110.86 1207.19v9M1132.29 1217.87v9M1134.44 1217.87v9M1136.58 1217.87v9M1172.31 1217.87v9" fill="none" stroke="#E19C93" stroke-width="1.84"/>
<path d="M822.2 957.9H824.34V962.61H826.49V967.32H828.99V971.25H831.49V975.18H833.99V979.1H836.49V983.03H838.94V986.95H841.4V990.88H843.85V994.81H846.3V998.73H848.76V1002.66H851.21V1006.59H852.86V1010.4H854.52V1014.21H856.17V1018.03H857.82V1021.84H859.48V1025.66H861.13V1029.47H862.78V1033.28H864.43V1037.37H866.07V1041.45H867.71V1045.53H869.36V1049.62H871.36V1053.57H873.36V1057.53H875.36V1061.49H877.36V1065.45H879.36V1069.41H885.93V1072.86H887.6V1076.73H889.27V1080.61H890.93V1084.48H893.44V1089.35H895.94V1094.22H902.51V1099.24H909.15V1102.54H915.8V1105.84H919.01V1110.87H922.23V1115.89H923.57V1119.85H924.92V1123.81H926.26V1127.77H927.6V1131.72H928.95V1135.68H932.3V1138.98H935.66V1142.28H941.45V1147.15H947.24V1152.01H965.1V1152.96H967.48V1156.52H969.86V1160.08H972.25V1163.64H973.42V1167.4H974.6V1171.17H975.78V1174.94H976.96V1178.71H981.03V1183.58H985.11V1188.45H989.29V1192.22H993.47V1195.99H997.65V1199.76H1001.83V1203.53H1006.83V1208.39H1011.83V1213.26H1025.12V1217.35H1069.42V1218.29H1070.61V1221.85H1071.8V1225.41H1072.99V1228.97H1084.42V1233.99H1113V1237.76H1113.72V1241.53H1170.88" fill="none" stroke="#5DB7EC" stroke-width="2.3" stroke-linejoin="miter"/>
<path d="M947.95 1147.51v9M1047.98 1212.85v9M1076.56 1224.47v9M1100.86 1229.49v9M1110.86 1229.49v9M1129.43 1237.03v9M1160.87 1237.03v9M1168.02 1237.03v9" fill="none" stroke="#5DB7EC" stroke-width="1.84"/>
<path d="M822.2 957.9H827.2V970.46H837.06V983.03H843.63V995.59H847.06V1008.16H850.35V1020.72H853.64V1033.28H862.78V1045.85H867.79V1058.41H872.64V1070.98H874.36V1083.54H878.5V1096.1H880.22V1108.67H890.36V1121.23H913.23V1146.36H914.94V1158.92H924.09V1171.49H928.95V1184.05H933.95V1196.62H958.81V1209.18H972.82V1221.74H1033.26V1234.31H1037.98V1246.87H1123.72" fill="none" stroke="#1F4E79" stroke-width="2.5" stroke-linejoin="miter"/>
<path d="M1040.84 1242.37v9M1123 1242.37v9" fill="none" stroke="#1F4E79" stroke-width="2"/>
<path d="M822.2 957.9H823.63V972.98H835.49V987.74H847.06V1002.82H872.36V1017.58H876.79V1032.66H914.08V1047.73H928.95V1062.5H937.23V1077.57H957.67V1092.65H1047.98V1112.44H1082.85V1152.96H1115.14V1182.8H1235.18" fill="none" stroke="#CB5A4E" stroke-width="2.5" stroke-linejoin="miter"/>
<path d="M997.25 1088.15v9M1020.12 1088.15v9M1022.26 1088.15v9M1083.99 1129.3v9M1096.57 1148.46v9M1099.43 1148.46v9M1140.87 1178.3v9M1160.87 1178.3v9M1230.89 1178.3v9" fill="none" stroke="#CB5A4E" stroke-width="2"/>
<text transform="translate(1117.9 976.5) scale(1 1.030)" x="0" y="5.1" font-size="14.8" text-anchor="middle" font-weight="bold" textLength="104.1" lengthAdjust="spacingAndGlyphs">mOS (95% CI)</text>
<text transform="translate(1198.5 976.5) scale(1 1.030)" x="0" y="5.1" font-size="14.8" font-weight="bold" textLength="87.1" lengthAdjust="spacingAndGlyphs">HR (95% CI)</text>
<line x1="938.3" y1="996.5" x2="966.4" y2="996.5" stroke="#CB5A4E" stroke-width="2.3"/>
<line x1="952.35" y1="991.5" x2="952.35" y2="1001.5" stroke="#CB5A4E" stroke-width="1.84"/>
<text x="979.6" y="1002.31" font-size="16" fill="#A8404A" textLength="196.5" lengthAdjust="spacingAndGlyphs">MUT Tisle 18.4 (6.9 to NA)</text>
<line x1="938.3" y1="1012.8" x2="966.4" y2="1012.8" stroke="#1F4E79" stroke-width="2.3"/>
<line x1="952.35" y1="1007.8" x2="952.35" y2="1017.8" stroke="#1F4E79" stroke-width="1.84"/>
<text x="979.6" y="1018.61" font-size="16" fill="#2A5285" textLength="177" lengthAdjust="spacingAndGlyphs">MUT ICC 5.3 (3.7 to 7.9)</text>
<line x1="938.3" y1="1032.8" x2="966.4" y2="1032.8" stroke="#E19C93" stroke-width="2.3"/>
<line x1="952.35" y1="1027.8" x2="952.35" y2="1037.8" stroke="#E19C93" stroke-width="1.84"/>
<text x="979.6" y="1038.61" font-size="16" fill="#E0A49C" textLength="184" lengthAdjust="spacingAndGlyphs">WT Tisle 6.0 (4.6 to 10.8)</text>
<line x1="938.3" y1="1049" x2="966.4" y2="1049" stroke="#5DB7EC" stroke-width="2.3"/>
<line x1="952.35" y1="1044" x2="952.35" y2="1054" stroke="#5DB7EC" stroke-width="1.84"/>
<text x="979.6" y="1054.81" font-size="16" fill="#4A9BD6" textLength="165" lengthAdjust="spacingAndGlyphs">WT ICC 6.9 (4.6 to 8.4)</text>
<path d="M1180.3 995.4Q1183.3 995.4 1183.3 998.4V1001.1Q1183.3 1004.1 1186.3 1004.1Q1183.3 1004.1 1183.3 1007.1V1009.8Q1183.3 1012.8 1180.3 1012.8" fill="none" stroke="#222" stroke-width="1.6"/>
<path d="M1180.3 1033Q1183.3 1033 1183.3 1036V1038.7Q1183.3 1041.7 1186.3 1041.7Q1183.3 1041.7 1183.3 1044.7V1047.4Q1183.3 1050.4 1180.3 1050.4" fill="none" stroke="#222" stroke-width="1.6"/>
<text x="1198.6" y="1009.77" font-size="15.3" textLength="130.5" lengthAdjust="spacingAndGlyphs">0.35 (0.17 to 0.71)</text>
<text x="1198.6" y="1048.27" font-size="15.3" textLength="130.5" lengthAdjust="spacingAndGlyphs">0.81 (0.57 to 1.14)</text>
<text x="1088" y="1077.17" font-size="15.3" textLength="152.3" lengthAdjust="spacingAndGlyphs">Interaction <tspan font-style="italic">P</tspan> = .0372</text>
<text x="693.4" y="1397.1" font-size="14.8" textLength="111" lengthAdjust="spacingAndGlyphs">Number at risk</text>
<text x="693" y="1426.04" font-size="15.8" fill="#A8404A" textLength="75.8" lengthAdjust="spacingAndGlyphs">MUT Tisle</text>
<text x="822.2" y="1425.77" font-size="15" text-anchor="middle">21</text>
<text x="893.65" y="1425.77" font-size="15" text-anchor="middle">16</text>
<text x="965.1" y="1425.77" font-size="15" text-anchor="middle">12</text>
<text x="1036.55" y="1425.77" font-size="15" text-anchor="middle">9</text>
<text x="1108" y="1425.77" font-size="15" text-anchor="middle">4</text>
<text x="1179.45" y="1425.77" font-size="15" text-anchor="middle">1</text>
<text x="1250.9" y="1425.77" font-size="15" text-anchor="middle">0</text>
<text x="693" y="1454.64" font-size="15.8" fill="#2A5285" textLength="67.3" lengthAdjust="spacingAndGlyphs">MUT ICC</text>
<text x="822.2" y="1454.37" font-size="15" text-anchor="middle">25</text>
<text x="893.65" y="1454.37" font-size="15" text-anchor="middle">13</text>
<text x="965.1" y="1454.37" font-size="15" text-anchor="middle">5</text>
<text x="1036.55" y="1454.37" font-size="15" text-anchor="middle">4</text>
<text x="1108" y="1454.37" font-size="15" text-anchor="middle">1</text>
<text x="1179.45" y="1454.37" font-size="15" text-anchor="middle">0</text>
<text x="1250.9" y="1454.37" font-size="15" text-anchor="middle">0</text>
<text x="693" y="1484.04" font-size="15.8" fill="#E0A49C" textLength="64.5" lengthAdjust="spacingAndGlyphs">WT Tisle</text>
<text x="822.2" y="1483.77" font-size="15" text-anchor="middle">84</text>
<text x="893.65" y="1483.77" font-size="15" text-anchor="middle">48</text>
<text x="965.1" y="1483.77" font-size="15" text-anchor="middle">33</text>
<text x="1036.55" y="1483.77" font-size="15" text-anchor="middle">19</text>
<text x="1108" y="1483.77" font-size="15" text-anchor="middle">7</text>
<text x="1179.45" y="1483.77" font-size="15" text-anchor="middle">0</text>
<text x="1250.9" y="1483.77" font-size="15" text-anchor="middle">0</text>
<text x="693" y="1512.74" font-size="15.8" fill="#4A9BD6" textLength="55.2" lengthAdjust="spacingAndGlyphs">WT ICC</text>
<text x="822.2" y="1512.47" font-size="15" text-anchor="middle">79</text>
<text x="893.65" y="1512.47" font-size="15" text-anchor="middle">46</text>
<text x="965.1" y="1512.47" font-size="15" text-anchor="middle">29</text>
<text x="1036.55" y="1512.47" font-size="15" text-anchor="middle">13</text>
<text x="1108" y="1512.47" font-size="15" text-anchor="middle">6</text>
<text x="1179.45" y="1512.47" font-size="15" text-anchor="middle">0</text>
<text x="1250.9" y="1512.47" font-size="15" text-anchor="middle">0</text>
<text transform="translate(1388.1 884.9) scale(1 1.056)" x="0" y="16.19" font-size="47" font-weight="bold">D</text>
<text transform="translate(1736.6 912.8) scale(1 1.038)" x="0" y="8.1" font-size="23.5" text-anchor="middle" font-weight="bold" textLength="303.4" lengthAdjust="spacingAndGlyphs"><tspan font-style="italic">NOTCH1</tspan> (MSKCC data set)</text>
<line x1="1516.06" y1="939.2" x2="1516.06" y2="1280.5" stroke="#222" stroke-width="1.9"/>
<line x1="1508.56" y1="1272.1" x2="1965.8" y2="1272.1" stroke="#222" stroke-width="2.1"/>
<text transform="translate(1497.6 1271.6) scale(1 1.117)" x="0" y="6.13" font-size="17.8" text-anchor="end">0</text>
<line x1="1508.56" y1="1193.52" x2="1516.06" y2="1193.52" stroke="#222" stroke-width="1.9"/>
<text transform="translate(1497.6 1193.02) scale(1 1.117)" x="0" y="6.13" font-size="17.8" text-anchor="end">25</text>
<line x1="1508.56" y1="1114.95" x2="1516.06" y2="1114.95" stroke="#222" stroke-width="1.9"/>
<text transform="translate(1497.6 1114.45) scale(1 1.117)" x="0" y="6.13" font-size="17.8" text-anchor="end">50</text>
<line x1="1508.56" y1="1036.38" x2="1516.06" y2="1036.38" stroke="#222" stroke-width="1.9"/>
<text transform="translate(1497.6 1035.88) scale(1 1.117)" x="0" y="6.13" font-size="17.8" text-anchor="end">75</text>
<line x1="1508.56" y1="957.8" x2="1516.06" y2="957.8" stroke="#222" stroke-width="1.9"/>
<text transform="translate(1497.6 957.3) scale(1 1.117)" x="0" y="6.13" font-size="17.8" text-anchor="end">100</text>
<text transform="translate(1515.9 1289.6) scale(1 1.117)" x="0" y="6.13" font-size="17.8" text-anchor="middle">0</text>
<line x1="1620.8" y1="1272.1" x2="1620.8" y2="1280.5" stroke="#222" stroke-width="1.9"/>
<text transform="translate(1623.1 1289.6) scale(1 1.117)" x="0" y="6.13" font-size="17.8" text-anchor="middle">20</text>
<line x1="1729" y1="1272.1" x2="1729" y2="1280.5" stroke="#222" stroke-width="1.9"/>
<text transform="translate(1729.8 1289.6) scale(1 1.117)" x="0" y="6.13" font-size="17.8" text-anchor="middle">40</text>
<line x1="1837.6" y1="1272.1" x2="1837.6" y2="1280.5" stroke="#222" stroke-width="1.9"/>
<text transform="translate(1837.5 1289.6) scale(1 1.117)" x="0" y="6.13" font-size="17.8" text-anchor="middle">60</text>
<line x1="1946" y1="1272.1" x2="1946" y2="1280.5" stroke="#222" stroke-width="1.9"/>
<text transform="translate(1944.5 1289.6) scale(1 1.117)" x="0" y="6.13" font-size="17.8" text-anchor="middle">80</text>
<text transform="translate(1423.2 1108.7) rotate(-90) scale(1 1.034)" x="0" y="11.37" font-size="33" text-anchor="middle" textLength="82.3" lengthAdjust="spacingAndGlyphs">OS (%)</text>
<text x="1737" y="1351" font-size="32.5" text-anchor="middle" textLength="180" lengthAdjust="spacingAndGlyphs">Time (months)</text>
<path d="M1516.06 957.8H1516.19V961.57H1516.33V965.34H1517.37V968.99H1518.41V972.63H1519.45V976.28H1520.49V979.93H1521.54V983.57H1522.63V987.16H1523.73V990.74H1524.82V994.32H1525.92V997.9H1527.01V1001.49H1528.13V1005.26H1529.24V1009.03H1530.36V1012.8H1531.48V1016.57H1532.93V1020.27H1534.37V1023.96H1535.82V1027.65H1537.27V1031.35H1538.72V1035.51H1540.17V1039.68H1541.62V1043.84H1543.07V1048H1545.26V1051.88H1547.46V1055.76H1549.66V1059.63H1551.32V1063.51H1552.99V1067.39H1554.65V1071.26H1556.85V1075.03H1559.05V1078.81H1561.25V1082.58H1564.01V1086.98H1566.77V1091.38H1569.54V1095.78H1571.74V1099.65H1573.93V1103.53H1576.13V1107.41H1578.66V1111.18H1581.18V1114.95H1583.71V1118.72H1586.23V1122.49H1588.89V1125.74H1591.55V1128.99H1594.21V1132.24H1597.66V1136.48H1601.12V1140.72H1607.5V1145.44H1613.34V1148.74H1619.19V1152.04H1624.24V1156.28H1629.29V1160.52H1635.14V1163.82H1640.99V1167.12H1648.96V1169.64H1665.44V1170.27H1672.35V1175.3H1677.13V1179.38H1681.92V1183.47H1690.42V1188.5H1703.71V1190.07H1706.11V1193.05H1708.5V1196.04H1739.86V1198.55H1751.56V1201.07H1760.06V1203.58H1775.48V1207.67H1779.84V1211.91H1784.2V1216.15H1881.85V1219.85H1881.89V1223.54H1881.94V1227.23H1881.99V1230.93H1882.03V1234.62H1882.08V1238.31H1882.13V1242.01H1882.17V1245.7H1937.62" fill="none" stroke="#CB5A4E" stroke-width="2.2" stroke-linejoin="miter"/>
<path d="M1517.65 964.49v9M1522.44 979.07v9M1527.76 996.99v9M1533.07 1015.77v9M1538.39 1026.85v9M1542.64 1039.34v9M1546.89 1047.38v9M1551.15 1055.13v9M1555.4 1066.76v9M1559.65 1074.31v9M1563.9 1078.08v9M1568.16 1086.88v9M1572.41 1095.15v9M1576.66 1102.91v9M1580.92 1106.68v9M1585.17 1114.22v9M1589.42 1121.24v9M1593.67 1124.49v9M1597.93 1131.98v9M1602.18 1136.22v9M1606.43 1136.22v9M1610.68 1140.94v9M1614.94 1144.24v9M1619.19 1147.54v9M1623.44 1147.54v9M1627.7 1151.78v9M1631.95 1156.02v9M1636.2 1159.32v9M1640.45 1159.32v9M1644.71 1162.62v9M1648.96 1165.14v9M1653.21 1165.14v9M1657.47 1165.14v9M1661.72 1165.14v9M1665.97 1165.77v9M1670.22 1165.77v9M1674.48 1170.8v9M1678.73 1174.88v9M1682.98 1178.97v9M1687.24 1178.97v9M1691.49 1184v9M1695.74 1184v9M1699.99 1184v9M1704.25 1185.57v9M1710.09 1191.54v9M1718.07 1191.54v9M1723.38 1191.54v9M1728.7 1191.54v9M1739.33 1191.54v9M1747.31 1194.05v9M1755.28 1196.57v9M1760.6 1199.08v9M1768.57 1199.08v9M1776.54 1203.17v9M1811.9 1211.65v9M1817.48 1211.65v9M1822.79 1211.65v9M1833.96 1211.65v9M1844.06 1211.65v9M1935.81 1241.2v9" fill="none" stroke="#CB5A4E" stroke-width="1.76"/>
<path d="M1516.06 957.8H1521.54V970.06H1527.01V980.12H1529.35V1001.8H1531.48V1016.57H1537.32V1019.72H1543.17V1025.69H1558.8V1037.95H1569.54V1045.49H1575.33V1067.8H1581.13V1074.72H1596.86V1082.58H1629.29V1091.69H1633.33V1103.32H1650.55V1118.41H1660.66V1134.12H1698.4V1181.9H1824.12" fill="none" stroke="#1F5F8F" stroke-width="2.2" stroke-linejoin="miter"/>
<path d="M1537.32 1015.22v9M1543.17 1021.19v9M1553.27 1021.19v9M1564.44 1033.45v9M1570.28 1040.99v9M1585.17 1070.22v9M1596.86 1078.08v9M1601.12 1078.08v9M1605.9 1078.08v9M1628.23 1078.08v9M1635.14 1098.82v9M1639.92 1098.82v9M1644.71 1098.82v9M1650.02 1098.82v9M1666.5 1129.62v9M1672.35 1129.62v9M1678.2 1129.62v9M1682.45 1129.62v9M1724.45 1177.4v9M1821.73 1177.4v9" fill="none" stroke="#1F5F8F" stroke-width="1.76"/>
<text x="1966.2" y="981.93" font-size="14.6" text-anchor="end" font-weight="bold" textLength="104.5" lengthAdjust="spacingAndGlyphs">mOS (95% CI)</text>
<line x1="1719.4" y1="992.2" x2="1749.3" y2="992.2" stroke="#1F5F8F" stroke-width="2.2"/>
<line x1="1734.35" y1="987.2" x2="1734.35" y2="997.2" stroke="#1F5F8F" stroke-width="1.76"/>
<line x1="1719.4" y1="1008.7" x2="1749.3" y2="1008.7" stroke="#CB5A4E" stroke-width="2.2"/>
<line x1="1734.35" y1="1003.7" x2="1734.35" y2="1013.7" stroke="#CB5A4E" stroke-width="1.76"/>
<text x="1761.3" y="997.08" font-size="16.2" fill="#2A6496" textLength="207.8" lengthAdjust="spacingAndGlyphs"><tspan font-style="italic">NOTCH1</tspan> MUT 25 (11 to NR)</text>
<text x="1761.3" y="1014.58" font-size="16.2" fill="#B0404A" textLength="92" lengthAdjust="spacingAndGlyphs"><tspan font-style="italic">NOTCH1</tspan> WT</text>
<text x="1967.5" y="1014.58" font-size="16.2" text-anchor="end" fill="#B0404A" textLength="92" lengthAdjust="spacingAndGlyphs">13 (11 to 15)</text>
<text x="1761.3" y="1032.53" font-size="14.6" textLength="227" lengthAdjust="spacingAndGlyphs">HR (95% CI), 0.66 (0.43 to 0.99)</text>
<text x="1761.3" y="1051.03" font-size="14.6" textLength="56" lengthAdjust="spacingAndGlyphs"><tspan font-style="italic">P</tspan> = .041</text>
<text x="1387.4" y="1384.5" font-size="14.8" textLength="110.5" lengthAdjust="spacingAndGlyphs">Number at risk</text>
<text x="1387.4" y="1413.74" font-size="15.8" fill="#2A6496" textLength="106.5" lengthAdjust="spacingAndGlyphs"><tspan font-style="italic">NOTCH1</tspan> MUT</text>
<text x="1515.3" y="1413.47" font-size="15" text-anchor="middle">52</text>
<text x="1623" y="1413.47" font-size="15" text-anchor="middle">20</text>
<text x="1730.2" y="1413.47" font-size="15" text-anchor="middle">1</text>
<text x="1837.8" y="1413.47" font-size="15" text-anchor="middle">0</text>
<text x="1944.3" y="1413.47" font-size="15" text-anchor="middle">0</text>
<text x="1387.4" y="1443.34" font-size="15.8" fill="#B0404A" textLength="94.7" lengthAdjust="spacingAndGlyphs"><tspan font-style="italic">NOTCH1</tspan> WT</text>
<text x="1515.3" y="1443.07" font-size="15" text-anchor="middle">643</text>
<text x="1623" y="1443.07" font-size="15" text-anchor="middle">175</text>
<text x="1730.2" y="1443.07" font-size="15" text-anchor="middle">26</text>
<text x="1837.8" y="1443.07" font-size="15" text-anchor="middle">3</text>
<text x="1944.3" y="1443.07" font-size="15" text-anchor="middle">0</text>
<text transform="translate(1073.3 1648.3) scale(1 1.056)" x="0" y="16.19" font-size="47" font-weight="bold">F</text>
<line x1="1240.3" y1="1733.3" x2="1240.3" y2="2158.6" stroke="#222" stroke-width="1.8"/>
<line x1="1231" y1="2148.6" x2="1789.2" y2="2148.6" stroke="#222" stroke-width="2"/>
<text transform="translate(1219.2 2148.1) scale(1 1.122)" x="0" y="5.93" font-size="17.2" text-anchor="end">0</text>
<line x1="1231" y1="2049.62" x2="1240.3" y2="2049.62" stroke="#222" stroke-width="1.8"/>
<text transform="translate(1219.2 2049.12) scale(1 1.122)" x="0" y="5.93" font-size="17.2" text-anchor="end">25</text>
<line x1="1231" y1="1950.65" x2="1240.3" y2="1950.65" stroke="#222" stroke-width="1.8"/>
<text transform="translate(1219.2 1950.15) scale(1 1.122)" x="0" y="5.93" font-size="17.2" text-anchor="end">50</text>
<line x1="1231" y1="1851.67" x2="1240.3" y2="1851.67" stroke="#222" stroke-width="1.8"/>
<text transform="translate(1219.2 1851.17) scale(1 1.122)" x="0" y="5.93" font-size="17.2" text-anchor="end">75</text>
<line x1="1231" y1="1752.7" x2="1240.3" y2="1752.7" stroke="#222" stroke-width="1.8"/>
<text transform="translate(1219.2 1752.2) scale(1 1.122)" x="0" y="5.93" font-size="17.2" text-anchor="end">100</text>
<text transform="translate(1240.9 2181.1) scale(1 1.122)" x="0" y="5.93" font-size="17.2" text-anchor="middle">0</text>
<line x1="1414.3" y1="2148.6" x2="1414.3" y2="2158.6" stroke="#222" stroke-width="1.8"/>
<text transform="translate(1414.9 2181.1) scale(1 1.122)" x="0" y="5.93" font-size="17.2" text-anchor="middle">10</text>
<line x1="1588.3" y1="2148.6" x2="1588.3" y2="2158.6" stroke="#222" stroke-width="1.8"/>
<text transform="translate(1588.9 2181.1) scale(1 1.122)" x="0" y="5.93" font-size="17.2" text-anchor="middle">20</text>
<line x1="1762.3" y1="2148.6" x2="1762.3" y2="2158.6" stroke="#222" stroke-width="1.8"/>
<text transform="translate(1762.9 2181.1) scale(1 1.122)" x="0" y="5.93" font-size="17.2" text-anchor="middle">30</text>
<text transform="translate(1144.1 1926.2) rotate(-90) scale(1 1.034)" x="0" y="11.37" font-size="33" text-anchor="middle" textLength="83.1" lengthAdjust="spacingAndGlyphs">OS (%)</text>
<text x="1509.2" y="2242.1" font-size="32.5" text-anchor="middle" textLength="180.3" lengthAdjust="spacingAndGlyphs">Time (months)</text>
<path d="M1240.3 1752.7H1255.96V1765.37H1261.18V1771.31H1264.31V1790.31H1267.44V1808.92H1269.53V1821.59H1276.84V1827.53H1283.1V1838.21H1294.24V1850.49H1296.5V1859.99H1303.81V1870.28H1313.21V1880.97H1314.25V1913.04H1317.38V1935.21H1320.51V1948.67H1323.65V1955.8H1329.91V1967.28H1334.09V1977.57H1345.57V1999.74H1350.79V2010.03H1366.45V2021.52H1389.24V2031.81H1421.26V2043.29H1443.88V2054.77H1445.62V2065.07H1459.02V2078.92H1469.46V2090.4H1483.9V2101.88H1497.82V2113.36H1673.56" fill="none" stroke="#E3A298" stroke-width="2.1" stroke-linejoin="miter"/>
<path d="M1537.14 2108.36v10M1570.9 2108.36v10M1666.6 2108.36v10" fill="none" stroke="#E3A298" stroke-width="1.3"/>
<path d="M1240.3 1752.7H1243.43V1761.01H1247.61V1768.54H1251.78V1778.83H1261.18V1787.14H1267.44V1813.27H1269.53V1821.59H1283.8V1838.21H1287.28V1863.16H1294.24V1865.14H1296.5V1879.78H1300.68V1898.39H1311.12V1909.08H1320.34V1925.71H1324.69V1935.21H1329.04V1943.52H1337.22V1951.84H1356.88V1958.96H1362.1V1969.26H1372.54V1985.09H1387.16V1995.39H1390.29V2002.91H1420.56V2012.01H1423.7V2021.52H1426.83V2031.81H1431V2044.48H1441.44V2049.62H1443.53V2059.13H1453.97V2066.25H1488.25V2076.55H1541.32V2084.86H1560.46V2095.55H1595.26V2106.63H1668.34" fill="none" stroke="#6CBCEB" stroke-width="2.1" stroke-linejoin="miter"/>
<path d="M1401.42 1997.91v10M1553.5 2079.86v10M1617.88 2101.63v10M1654.42 2101.63v10M1663.12 2101.63v10" fill="none" stroke="#6CBCEB" stroke-width="1.3"/>
<path d="M1240.3 1752.7H1244.48V1761.01H1253.87V1774.47H1255.96V1778.83H1268.49V1785.96H1277.88V1802.58H1281.02V1817.23H1285.02V1821.59H1287.11V1838.21H1290.24V1854.84H1296.5V1861.18H1300.68V1875.82H1304.85V1888.1H1307.99V1896.41H1311.12V1909.08H1314.25V1914.23H1317.38V1925.71H1321.56V1936H1326.78V1946.3H1330.95V1955.8H1359.14V1988.26H1362.1V1997.37H1368.54V2005.68H1378.8V2014.39H1382.98V2022.7H1415.34V2040.12H1431.7V2054.77H1445.62V2065.07H1459.54V2082.09H1471.72V2090.4H1503.04V2098.72H1509.13V2107.03H1616.14" fill="none" stroke="#1D4C7C" stroke-width="2.3" stroke-linejoin="miter"/>
<path d="M1513.48 2102.03v10M1520.44 2102.03v10M1583.08 2102.03v10M1609.18 2102.03v10" fill="none" stroke="#1D4C7C" stroke-width="1.5"/>
<path d="M1240.3 1752.7H1250.74V1762.99H1255.96V1774.47H1267.44V1782.79H1274.75V1785.96H1276.84V1802.58H1302.94V1817.23H1308.16V1831.88H1313.38V1838.21H1316.34V1854.84H1319.47V1861.18H1320.51V1874.64H1338.26V1888.1H1342.44V1896.41H1361.23V1903.93H1378.8V1909.87H1391.33V1925.71H1413.26V1942.34H1427.87V1949.46H1459.02V1956.98H1520.44V1966.09H1532.62V1975.59H1537.84V1985.09H1561.5V1995.39H1565.68V2005.68H1571.94V2016.37H1599.96V2031.02H1607.44V2045.27H1743.16" fill="none" stroke="#A93F4B" stroke-width="2.3" stroke-linejoin="miter"/>
<path d="M1401.77 1920.71v10M1406.99 1920.71v10M1460.06 1951.98v10M1487.38 1951.98v10M1503.04 1951.98v10M1531.75 1961.09v10M1544.8 1980.09v10M1577.16 2011.37v10M1582.38 2011.37v10M1584.47 2011.37v10M1594.74 2011.37v10M1618.75 2040.27v10M1620.84 2040.27v10M1622.93 2040.27v10M1625.01 2040.27v10M1630.93 2040.27v10M1654.42 2040.27v10M1665.73 2040.27v10M1737.94 2040.27v10" fill="none" stroke="#A93F4B" stroke-width="1.5"/>
<text x="1606" y="1683.43" font-size="14.6" text-anchor="middle" font-weight="bold" textLength="104.5" lengthAdjust="spacingAndGlyphs">mOS (95% CI)</text>
<text x="1794.2" y="1683.43" font-size="14.6" text-anchor="middle" font-weight="bold" textLength="88.5" lengthAdjust="spacingAndGlyphs">HR (95% CI)</text>
<line x1="1344.6" y1="1702.4" x2="1369.2" y2="1702.4" stroke="#A93F4B" stroke-width="2.3"/>
<line x1="1356.9" y1="1696.4" x2="1356.9" y2="1708.4" stroke="#A93F4B" stroke-width="1.84"/>
<text x="1381.5" y="1708.07" font-size="15.3" fill="#A93F4B" textLength="302" lengthAdjust="spacingAndGlyphs">Either positive Tisle 12.62 (5.85 to 18.60)</text>
<line x1="1344.6" y1="1723.4" x2="1369.2" y2="1723.4" stroke="#1D4C7C" stroke-width="2.3"/>
<line x1="1356.9" y1="1717.4" x2="1356.9" y2="1729.4" stroke="#1D4C7C" stroke-width="1.84"/>
<text x="1381.5" y="1729.07" font-size="15.3" fill="#285388" textLength="274" lengthAdjust="spacingAndGlyphs">Either positive ICC 5.29 (3.81 to 7.43)</text>
<line x1="1344.6" y1="1745" x2="1369.2" y2="1745" stroke="#E3A298" stroke-width="2.3"/>
<line x1="1356.9" y1="1739" x2="1356.9" y2="1751" stroke="#E3A298" stroke-width="1.84"/>
<text x="1381.5" y="1750.67" font-size="15.3" fill="#E3A69D" textLength="281" lengthAdjust="spacingAndGlyphs">Both negative Tisle 4.70 (4.21 to 7.23)</text>
<line x1="1344.6" y1="1765.9" x2="1369.2" y2="1765.9" stroke="#6CBCEB" stroke-width="2.3"/>
<line x1="1356.9" y1="1759.9" x2="1356.9" y2="1771.9" stroke="#6CBCEB" stroke-width="1.84"/>
<text x="1381.5" y="1771.57" font-size="15.3" fill="#4A9BD6" textLength="280" lengthAdjust="spacingAndGlyphs">Both negative ICC 6.03 (3.42 to 10.28)</text>
<path d="M1728 1694.5Q1733.5 1694.5 1733.5 1700V1706.25Q1733.5 1711.75 1739 1711.75Q1733.5 1711.75 1733.5 1717.25V1723.5Q1733.5 1729 1728 1729" fill="none" stroke="#222" stroke-width="1.7"/>
<path d="M1728 1734Q1733.5 1734 1733.5 1739.5V1746.3Q1733.5 1751.8 1739 1751.8Q1733.5 1751.8 1733.5 1757.3V1764.1Q1733.5 1769.6 1728 1769.6" fill="none" stroke="#222" stroke-width="1.7"/>
<text x="1750.3" y="1718.33" font-size="14.6" textLength="132.5" lengthAdjust="spacingAndGlyphs">0.47 (0.30 to 0.76)</text>
<text x="1750.3" y="1758.33" font-size="14.6" textLength="132.5" lengthAdjust="spacingAndGlyphs">1.13 (0.71 to 1.80)</text>
<text x="1573.8" y="1801.77" font-size="15.3" textLength="162.3" lengthAdjust="spacingAndGlyphs">Interaction <tspan font-style="italic">P</tspan> = .00486</text>
<text x="1072.5" y="2276.1" font-size="14.8" textLength="111" lengthAdjust="spacingAndGlyphs">Number at risk</text>
<text x="1071.5" y="2305.37" font-size="15.3" fill="#A93F4B" textLength="147.8" lengthAdjust="spacingAndGlyphs">Either positive Tisle</text>
<text x="1240.3" y="2305.13" font-size="14.6" text-anchor="middle">55</text>
<text x="1414.3" y="2305.13" font-size="14.6" text-anchor="middle">27</text>
<text x="1588.3" y="2305.13" font-size="14.6" text-anchor="middle">10</text>
<text x="1762.3" y="2305.13" font-size="14.6" text-anchor="middle">0</text>
<text x="1071.5" y="2333.97" font-size="15.3" fill="#285388" textLength="138.3" lengthAdjust="spacingAndGlyphs">Either positive ICC</text>
<text x="1240.3" y="2333.73" font-size="14.6" text-anchor="middle">47</text>
<text x="1414.3" y="2333.73" font-size="14.6" text-anchor="middle">14</text>
<text x="1588.3" y="2333.73" font-size="14.6" text-anchor="middle">1</text>
<text x="1762.3" y="2333.73" font-size="14.6" text-anchor="middle">0</text>
<text x="1071.5" y="2363.57" font-size="15.3" fill="#E3A69D" textLength="143.9" lengthAdjust="spacingAndGlyphs">Both negative Tisle</text>
<text x="1240.3" y="2363.33" font-size="14.6" text-anchor="middle">37</text>
<text x="1414.3" y="2363.33" font-size="14.6" text-anchor="middle">11</text>
<text x="1588.3" y="2363.33" font-size="14.6" text-anchor="middle">1</text>
<text x="1762.3" y="2363.33" font-size="14.6" text-anchor="middle">0</text>
<text x="1071.5" y="2392.17" font-size="15.3" fill="#4A9BD6" textLength="133.8" lengthAdjust="spacingAndGlyphs">Both negative ICC</text>
<text x="1240.3" y="2391.93" font-size="14.6" text-anchor="middle">46</text>
<text x="1414.3" y="2391.93" font-size="14.6" text-anchor="middle">16</text>
<text x="1588.3" y="2391.93" font-size="14.6" text-anchor="middle">5</text>
<text x="1762.3" y="2391.93" font-size="14.6" text-anchor="middle">0</text>
<text transform="translate(26.2 1648.5) scale(1 1.056)" x="0" y="16.19" font-size="47" font-weight="bold">E</text>
<text transform="translate(108.4 1681) scale(1 1.039)" x="0" y="6.55" font-size="19" text-anchor="middle" font-weight="bold" textLength="53" lengthAdjust="spacingAndGlyphs">PD-L1</text>
<text transform="translate(109.3 1704.9) scale(1 1.039)" x="0" y="6.55" font-size="19" text-anchor="middle" font-weight="bold" textLength="97.3" lengthAdjust="spacingAndGlyphs">TAP Score</text>
<text transform="translate(241.6 1681) scale(1 1.039)" x="0" y="6.55" font-size="19" text-anchor="middle" font-weight="bold" font-style="italic" textLength="80.6" lengthAdjust="spacingAndGlyphs">NOTCH1</text>
<text transform="translate(240.2 1704.9) scale(1 1.039)" x="0" y="6.55" font-size="19" text-anchor="middle" font-weight="bold" textLength="87.1" lengthAdjust="spacingAndGlyphs">Mutation</text>
<text transform="translate(357.2 1704.9) scale(1 1.039)" x="0" y="6.55" font-size="19" text-anchor="middle" font-weight="bold">N</text>
<text transform="translate(917.3 1704.9) scale(1 1.039)" x="0" y="6.55" font-size="19" text-anchor="middle" font-weight="bold" textLength="109" lengthAdjust="spacingAndGlyphs">HR (95% CI)</text>
<line x1="57" y1="1729.4" x2="1014.4" y2="1729.4" stroke="#222" stroke-width="2"/>
<line x1="400.1" y1="1741.8" x2="400.1" y2="2218.4" stroke="#222" stroke-width="2"/>
<line x1="399.2" y1="2218.4" x2="807.7" y2="2218.4" stroke="#222" stroke-width="2"/>
<line x1="481.1" y1="1742" x2="481.1" y2="2217" stroke="#aaa" stroke-width="1.6" stroke-dasharray="5 3 1.5 3"/>
<text transform="translate(134.4 1765.3) scale(1 1.074)" x="0" y="6.89" font-size="20" text-anchor="end">&lt;10%</text>
<text transform="translate(241 1765.3) scale(1 1.074)" x="0" y="6.89" font-size="20" text-anchor="middle">WT</text>
<text transform="translate(356.5 1765.3) scale(1 1.074)" x="0" y="6.89" font-size="20" text-anchor="middle">83</text>
<text transform="translate(834.6 1765.3) scale(1 1.074)" x="0" y="6.89" font-size="20" textLength="164.8" lengthAdjust="spacingAndGlyphs">1.18 (0.74 to 1.87)</text>
<line x1="465.06" y1="1765.3" x2="534.78" y2="1765.3" stroke="#808080" stroke-width="2.3"/>
<line x1="465.06" y1="1758.3" x2="465.06" y2="1772.3" stroke="#808080" stroke-width="2.3"/>
<line x1="534.78" y1="1758.3" x2="534.78" y2="1772.3" stroke="#808080" stroke-width="2.3"/>
<rect x="485.01" y="1758.1" width="14.4" height="14.4" fill="#808080"/>
<text transform="translate(134.4 1804.43) scale(1 1.074)" x="0" y="6.89" font-size="20" text-anchor="end">&lt;10%</text>
<text transform="translate(241 1804.43) scale(1 1.074)" x="0" y="6.89" font-size="20" text-anchor="middle">MUT</text>
<text transform="translate(356.5 1804.43) scale(1 1.074)" x="0" y="6.89" font-size="20" text-anchor="middle">22</text>
<text transform="translate(834.6 1804.43) scale(1 1.074)" x="0" y="6.89" font-size="20" textLength="164.8" lengthAdjust="spacingAndGlyphs">0.51 (0.19 to 1.34)</text>
<line x1="431.12" y1="1804.43" x2="502.08" y2="1804.43" stroke="#7B3FA0" stroke-width="2.3"/>
<line x1="431.12" y1="1797.43" x2="431.12" y2="1811.43" stroke="#7B3FA0" stroke-width="2.3"/>
<line x1="502.08" y1="1797.43" x2="502.08" y2="1811.43" stroke="#7B3FA0" stroke-width="2.3"/>
<rect x="443.67" y="1797.23" width="14.4" height="14.4" fill="#7B3FA0"/>
<text transform="translate(134.4 1843.56) scale(1 1.074)" x="0" y="6.89" font-size="20" text-anchor="end">≥10%</text>
<text transform="translate(241 1843.56) scale(1 1.074)" x="0" y="6.89" font-size="20" text-anchor="middle">WT</text>
<text transform="translate(356.5 1843.56) scale(1 1.074)" x="0" y="6.89" font-size="20" text-anchor="middle">60</text>
<text transform="translate(834.6 1843.56) scale(1 1.074)" x="0" y="6.89" font-size="20" textLength="164.8" lengthAdjust="spacingAndGlyphs">0.53 (0.29 to 0.95)</text>
<line x1="437.29" y1="1843.56" x2="478.01" y2="1843.56" stroke="#808080" stroke-width="2.3"/>
<line x1="437.29" y1="1836.56" x2="437.29" y2="1850.56" stroke="#808080" stroke-width="2.3"/>
<line x1="478.01" y1="1836.56" x2="478.01" y2="1850.56" stroke="#808080" stroke-width="2.3"/>
<rect x="444.9" y="1836.36" width="14.4" height="14.4" fill="#808080"/>
<text transform="translate(134.4 1882.69) scale(1 1.074)" x="0" y="6.89" font-size="20" text-anchor="end">≥10%</text>
<text transform="translate(241 1882.69) scale(1 1.074)" x="0" y="6.89" font-size="20" text-anchor="middle">MUT</text>
<text transform="translate(356.5 1882.69) scale(1 1.074)" x="0" y="6.89" font-size="20" text-anchor="middle">20</text>
<text transform="translate(834.6 1882.69) scale(1 1.074)" x="0" y="6.89" font-size="20" textLength="164.8" lengthAdjust="spacingAndGlyphs">0.31 (0.11 to 0.86)</text>
<line x1="426.19" y1="1882.69" x2="472.46" y2="1882.69" stroke="#7B3FA0" stroke-width="2.3"/>
<line x1="426.19" y1="1875.69" x2="426.19" y2="1889.69" stroke="#7B3FA0" stroke-width="2.3"/>
<line x1="472.46" y1="1875.69" x2="472.46" y2="1889.69" stroke="#7B3FA0" stroke-width="2.3"/>
<rect x="431.33" y="1875.49" width="14.4" height="14.4" fill="#7B3FA0"/>
<text transform="translate(134.4 1921.82) scale(1 1.074)" x="0" y="6.89" font-size="20" text-anchor="end">&lt;5%</text>
<text transform="translate(241 1921.82) scale(1 1.074)" x="0" y="6.89" font-size="20" text-anchor="middle">WT</text>
<text transform="translate(356.5 1921.82) scale(1 1.074)" x="0" y="6.89" font-size="20" text-anchor="middle">47</text>
<text transform="translate(834.6 1921.82) scale(1 1.074)" x="0" y="6.89" font-size="20" textLength="164.8" lengthAdjust="spacingAndGlyphs">1.02 (0.55 to 1.89)</text>
<line x1="453.33" y1="1921.82" x2="536.01" y2="1921.82" stroke="#808080" stroke-width="2.3"/>
<line x1="453.33" y1="1914.82" x2="453.33" y2="1928.82" stroke="#808080" stroke-width="2.3"/>
<line x1="536.01" y1="1914.82" x2="536.01" y2="1928.82" stroke="#808080" stroke-width="2.3"/>
<rect x="475.13" y="1914.62" width="14.4" height="14.4" fill="#808080"/>
<text transform="translate(134.4 1960.95) scale(1 1.074)" x="0" y="6.89" font-size="20" text-anchor="end">&lt;5%</text>
<text transform="translate(241 1960.95) scale(1 1.074)" x="0" y="6.89" font-size="20" text-anchor="middle">MUT</text>
<text transform="translate(356.5 1960.95) scale(1 1.074)" x="0" y="6.89" font-size="20" text-anchor="middle">14</text>
<text transform="translate(834.6 1960.95) scale(1 1.074)" x="0" y="6.89" font-size="20" textLength="164.8" lengthAdjust="spacingAndGlyphs">0.57 (0.18 to 1.80)</text>
<line x1="430.51" y1="1960.95" x2="530.46" y2="1960.95" stroke="#7B3FA0" stroke-width="2.3"/>
<line x1="430.51" y1="1953.95" x2="430.51" y2="1967.95" stroke="#7B3FA0" stroke-width="2.3"/>
<line x1="530.46" y1="1953.95" x2="530.46" y2="1967.95" stroke="#7B3FA0" stroke-width="2.3"/>
<rect x="447.37" y="1953.75" width="14.4" height="14.4" fill="#7B3FA0"/>
<text transform="translate(134.4 2000.08) scale(1 1.074)" x="0" y="6.89" font-size="20" text-anchor="end">≥5%</text>
<text transform="translate(241 2000.08) scale(1 1.074)" x="0" y="6.89" font-size="20" text-anchor="middle">WT</text>
<text transform="translate(356.5 2000.08) scale(1 1.074)" x="0" y="6.89" font-size="20" text-anchor="middle">96</text>
<text transform="translate(834.6 2000.08) scale(1 1.074)" x="0" y="6.89" font-size="20" textLength="164.8" lengthAdjust="spacingAndGlyphs">0.76 (0.48 to 1.19)</text>
<line x1="449.02" y1="2000.08" x2="492.82" y2="2000.08" stroke="#808080" stroke-width="2.3"/>
<line x1="449.02" y1="1993.08" x2="449.02" y2="2007.08" stroke="#808080" stroke-width="2.3"/>
<line x1="492.82" y1="1993.08" x2="492.82" y2="2007.08" stroke="#808080" stroke-width="2.3"/>
<rect x="459.09" y="1992.88" width="14.4" height="14.4" fill="#808080"/>
<text transform="translate(134.4 2039.21) scale(1 1.074)" x="0" y="6.89" font-size="20" text-anchor="end">≥5%</text>
<text transform="translate(241 2039.21) scale(1 1.074)" x="0" y="6.89" font-size="20" text-anchor="middle">MUT</text>
<text transform="translate(356.5 2039.21) scale(1 1.074)" x="0" y="6.89" font-size="20" text-anchor="middle">28</text>
<text transform="translate(834.6 2039.21) scale(1 1.074)" x="0" y="6.89" font-size="20" textLength="164.8" lengthAdjust="spacingAndGlyphs">0.34 (0.14 to 0.82)</text>
<line x1="428.04" y1="2039.21" x2="469.99" y2="2039.21" stroke="#7B3FA0" stroke-width="2.3"/>
<line x1="428.04" y1="2032.21" x2="428.04" y2="2046.21" stroke="#7B3FA0" stroke-width="2.3"/>
<line x1="469.99" y1="2032.21" x2="469.99" y2="2046.21" stroke="#7B3FA0" stroke-width="2.3"/>
<rect x="433.18" y="2032.01" width="14.4" height="14.4" fill="#7B3FA0"/>
<text transform="translate(134.4 2078.34) scale(1 1.074)" x="0" y="6.89" font-size="20" text-anchor="end">&lt;1%</text>
<text transform="translate(241 2078.34) scale(1 1.074)" x="0" y="6.89" font-size="20" text-anchor="middle">WT</text>
<text transform="translate(356.5 2078.34) scale(1 1.074)" x="0" y="6.89" font-size="20" text-anchor="middle">17</text>
<text transform="translate(834.6 2078.34) scale(1 1.074)" x="0" y="6.89" font-size="20" textLength="164.8" lengthAdjust="spacingAndGlyphs">1.92 (0.64 to 5.77)</text>
<line x1="458.89" y1="2078.34" x2="775.41" y2="2078.34" stroke="#808080" stroke-width="2.3"/>
<line x1="458.89" y1="2071.34" x2="458.89" y2="2085.34" stroke="#808080" stroke-width="2.3"/>
<line x1="775.41" y1="2071.34" x2="775.41" y2="2085.34" stroke="#808080" stroke-width="2.3"/>
<rect x="530.66" y="2071.14" width="14.4" height="14.4" fill="#808080"/>
<text transform="translate(134.4 2117.47) scale(1 1.074)" x="0" y="6.89" font-size="20" text-anchor="end">&lt;1%</text>
<text transform="translate(241 2117.47) scale(1 1.074)" x="0" y="6.89" font-size="20" text-anchor="middle">MUT</text>
<text transform="translate(356.5 2117.47) scale(1 1.074)" x="0" y="6.89" font-size="20" text-anchor="middle">4</text>
<text transform="translate(834.6 2117.47) scale(1 1.074)" x="0" y="6.89" font-size="20" textLength="164.8" lengthAdjust="spacingAndGlyphs">0.33 (0.03 to 3.19)</text>
<line x1="421.25" y1="2117.47" x2="616.22" y2="2117.47" stroke="#7B3FA0" stroke-width="2.3"/>
<line x1="421.25" y1="2110.47" x2="421.25" y2="2124.47" stroke="#7B3FA0" stroke-width="2.3"/>
<line x1="616.22" y1="2110.47" x2="616.22" y2="2124.47" stroke="#7B3FA0" stroke-width="2.3"/>
<rect x="432.56" y="2110.27" width="14.4" height="14.4" fill="#7B3FA0"/>
<text transform="translate(134.4 2156.6) scale(1 1.074)" x="0" y="6.89" font-size="20" text-anchor="end">≥1%</text>
<text transform="translate(241 2156.6) scale(1 1.074)" x="0" y="6.89" font-size="20" text-anchor="middle">WT</text>
<text transform="translate(356.5 2156.6) scale(1 1.074)" x="0" y="6.89" font-size="20" text-anchor="middle">126</text>
<text transform="translate(834.6 2156.6) scale(1 1.074)" x="0" y="6.89" font-size="20" textLength="164.8" lengthAdjust="spacingAndGlyphs">0.71 (0.48 to 1.04)</text>
<line x1="449.02" y1="2156.6" x2="483.57" y2="2156.6" stroke="#808080" stroke-width="2.3"/>
<line x1="449.02" y1="2149.6" x2="449.02" y2="2163.6" stroke="#808080" stroke-width="2.3"/>
<line x1="483.57" y1="2149.6" x2="483.57" y2="2163.6" stroke="#808080" stroke-width="2.3"/>
<rect x="456.01" y="2149.4" width="14.4" height="14.4" fill="#808080"/>
<text transform="translate(134.4 2195.73) scale(1 1.074)" x="0" y="6.89" font-size="20" text-anchor="end">≥1%</text>
<text transform="translate(241 2195.73) scale(1 1.074)" x="0" y="6.89" font-size="20" text-anchor="middle">MUT</text>
<text transform="translate(356.5 2195.73) scale(1 1.074)" x="0" y="6.89" font-size="20" text-anchor="middle">38</text>
<text transform="translate(834.6 2195.73) scale(1 1.074)" x="0" y="6.89" font-size="20" textLength="164.8" lengthAdjust="spacingAndGlyphs">0.42 (0.20 to 0.88)</text>
<line x1="431.74" y1="2195.73" x2="473.7" y2="2195.73" stroke="#7B3FA0" stroke-width="2.3"/>
<line x1="431.74" y1="2188.73" x2="431.74" y2="2202.73" stroke="#7B3FA0" stroke-width="2.3"/>
<line x1="473.7" y1="2188.73" x2="473.7" y2="2202.73" stroke="#7B3FA0" stroke-width="2.3"/>
<rect x="438.11" y="2188.53" width="14.4" height="14.4" fill="#7B3FA0"/>
<line x1="419.4" y1="2218.4" x2="419.4" y2="2226.5" stroke="#222" stroke-width="2"/>
<text x="420.2" y="2254.77" font-size="18.5" text-anchor="middle">0</text>
<line x1="481.1" y1="2218.4" x2="481.1" y2="2226.5" stroke="#222" stroke-width="2"/>
<text x="481.9" y="2254.77" font-size="18.5" text-anchor="middle">1</text>
<line x1="542.8" y1="2218.4" x2="542.8" y2="2226.5" stroke="#222" stroke-width="2"/>
<text x="543.6" y="2254.77" font-size="18.5" text-anchor="middle">2</text>
<line x1="604.5" y1="2218.4" x2="604.5" y2="2226.5" stroke="#222" stroke-width="2"/>
<text x="605.3" y="2254.77" font-size="18.5" text-anchor="middle">3</text>
<line x1="666.2" y1="2218.4" x2="666.2" y2="2226.5" stroke="#222" stroke-width="2"/>
<text x="667" y="2254.77" font-size="18.5" text-anchor="middle">4</text>
<line x1="727.9" y1="2218.4" x2="727.9" y2="2226.5" stroke="#222" stroke-width="2"/>
<text x="728.7" y="2254.77" font-size="18.5" text-anchor="middle">5</text>
<line x1="789.6" y1="2218.4" x2="789.6" y2="2226.5" stroke="#222" stroke-width="2"/>
<text x="790.4" y="2254.77" font-size="18.5" text-anchor="middle">6</text>
<line x1="461.4" y1="2267.6" x2="401.3" y2="2267.6" stroke="#D05A4E" stroke-width="2.2"/>
<polygon points="387.7,2267.6 404.7,2258.1 404.7,2277.1" fill="#D05A4E"/>
<line x1="499" y1="2267.6" x2="560.4" y2="2267.6" stroke="#1F5A8C" stroke-width="2.2"/>
<polygon points="574,2267.6 557,2258.1 557,2277.1" fill="#1F5A8C"/>
<text x="409.8" y="2300.27" font-size="18.5" text-anchor="middle" font-weight="bold" fill="#C0504D" textLength="107.7" lengthAdjust="spacingAndGlyphs">Tisle Better</text>
<text x="546.7" y="2300.27" font-size="18.5" text-anchor="middle" font-weight="bold" fill="#2F5F98" textLength="96.5" lengthAdjust="spacingAndGlyphs">ICC Better</text>
</svg>
</body></html>
